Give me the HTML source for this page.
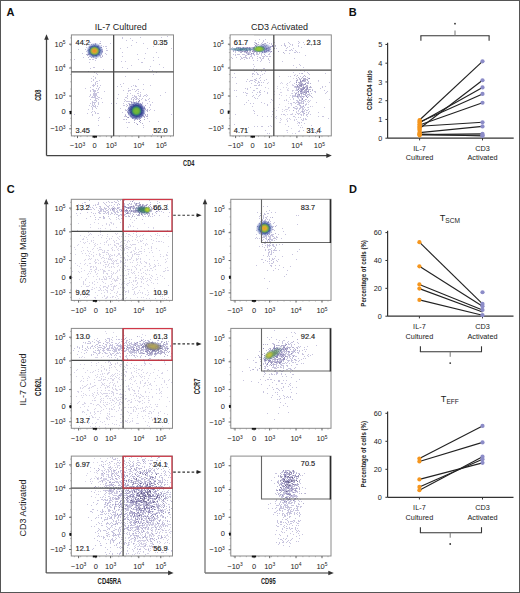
<!DOCTYPE html>
<html><head><meta charset="utf-8"><style>
html,body{margin:0;padding:0;background:#fff;width:520px;height:593px;overflow:hidden}
svg{display:block;font-family:"Liberation Sans", sans-serif}
</style></head><body>
<svg width="520" height="593" viewBox="0 0 520 593" font-family='"Liberation Sans", sans-serif'>
<defs><radialGradient id="g0"><stop offset="0" stop-color="#283888" stop-opacity="0.95"/><stop offset="0.6" stop-color="#2a3a8c" stop-opacity="0.9"/><stop offset="0.82" stop-color="#4a58a8" stop-opacity="0.6"/><stop offset="1" stop-color="#8080c8" stop-opacity="0"/></radialGradient><radialGradient id="g1"><stop offset="0" stop-color="#78c030" stop-opacity="1"/><stop offset="0.5" stop-color="#6ab438" stop-opacity="0.95"/><stop offset="0.8" stop-color="#2f8a70" stop-opacity="0.75"/><stop offset="1" stop-color="#2a5a80" stop-opacity="0"/></radialGradient><radialGradient id="g2"><stop offset="0" stop-color="#2a3a90" stop-opacity="0.95"/><stop offset="0.6" stop-color="#34509c" stop-opacity="0.85"/><stop offset="1" stop-color="#6070c0" stop-opacity="0"/></radialGradient><radialGradient id="g3"><stop offset="0" stop-color="#f08a20" stop-opacity="1"/><stop offset="0.35" stop-color="#e0a030" stop-opacity="1"/><stop offset="0.65" stop-color="#8ab840" stop-opacity="0.95"/><stop offset="1" stop-color="#3a7a7a" stop-opacity="0"/></radialGradient><radialGradient id="g4"><stop offset="0" stop-color="#3a7a8a" stop-opacity="0.85"/><stop offset="0.7" stop-color="#4a7a9a" stop-opacity="0.6"/><stop offset="1" stop-color="#4a6aa0" stop-opacity="0"/></radialGradient><radialGradient id="g5"><stop offset="0" stop-color="#3a4a98" stop-opacity="0.7"/><stop offset="0.7" stop-color="#4a5aa8" stop-opacity="0.4"/><stop offset="1" stop-color="#6070c0" stop-opacity="0"/></radialGradient><radialGradient id="g6"><stop offset="0" stop-color="#a0d030" stop-opacity="1"/><stop offset="0.45" stop-color="#80c030" stop-opacity="0.95"/><stop offset="0.85" stop-color="#4a9a60" stop-opacity="0.5"/><stop offset="1" stop-color="#4a6aa0" stop-opacity="0"/></radialGradient><radialGradient id="g7"><stop offset="0" stop-color="#3a8a50" stop-opacity="0.95"/><stop offset="0.5" stop-color="#2f6a6a" stop-opacity="0.8"/><stop offset="1" stop-color="#3a4a9a" stop-opacity="0"/></radialGradient><radialGradient id="g8"><stop offset="0" stop-color="#c8d830" stop-opacity="1"/><stop offset="0.5" stop-color="#98c430" stop-opacity="0.95"/><stop offset="1" stop-color="#60a040" stop-opacity="0"/></radialGradient><radialGradient id="g9"><stop offset="0" stop-color="#2a3a90" stop-opacity="0.95"/><stop offset="0.6" stop-color="#34509c" stop-opacity="0.85"/><stop offset="1" stop-color="#6070c0" stop-opacity="0"/></radialGradient><radialGradient id="g10"><stop offset="0" stop-color="#f0a020" stop-opacity="1"/><stop offset="0.35" stop-color="#d8b030" stop-opacity="1"/><stop offset="0.65" stop-color="#78b040" stop-opacity="0.95"/><stop offset="1" stop-color="#3a7a7a" stop-opacity="0"/></radialGradient><radialGradient id="g11"><stop offset="0" stop-color="#b8a850" stop-opacity="1"/><stop offset="0.5" stop-color="#9a9060" stop-opacity="0.9"/><stop offset="0.85" stop-color="#5a5a7a" stop-opacity="0.5"/><stop offset="1" stop-color="#5a5a8a" stop-opacity="0"/></radialGradient><radialGradient id="g12"><stop offset="0" stop-color="#6a9a50" stop-opacity="0.9"/><stop offset="0.5" stop-color="#5a8a6a" stop-opacity="0.7"/><stop offset="1" stop-color="#4a5a9a" stop-opacity="0"/></radialGradient><radialGradient id="g13"><stop offset="0" stop-color="#d0c840" stop-opacity="1"/><stop offset="0.5" stop-color="#a8b840" stop-opacity="0.9"/><stop offset="1" stop-color="#6a9a50" stop-opacity="0"/></radialGradient></defs>
<rect width="520" height="593" fill="#fff"/>
<text x="6.6" y="15.8" font-size="11" text-anchor="start" fill="#111" font-weight="bold" >A</text>
<line x1="46.5" y1="38" x2="46.5" y2="155.6" stroke="#444" stroke-width="1.3" />
<polygon points="46.5,34.3 44.2,39.8 48.8,39.8" fill="#333"/>
<line x1="46.5" y1="155.6" x2="327" y2="155.6" stroke="#444" stroke-width="1.3" />
<polygon points="331.8,155.6 326.3,153.3 326.3,157.9" fill="#333"/>
<text transform="translate(37.5,95.2) rotate(-90) scale(0.66,1)" x="0" y="3.04" font-size="8.5" text-anchor="middle" fill="#222" font-weight="bold">CD8</text>
<text transform="translate(188.7,163.4) scale(0.66,1)" x="0" y="3.04" font-size="8.5" text-anchor="middle" fill="#222" font-weight="bold">CD4</text>
<text transform="translate(120.8,27)" x="0" y="3.22" font-size="9" text-anchor="middle" fill="#222" font-weight="normal">IL-7 Cultured</text>
<text transform="translate(279.5,27)" x="0" y="3.22" font-size="9" text-anchor="middle" fill="#222" font-weight="normal">CD3 Activated</text>
<path fill="#6c64a8" fill-opacity="0.38" d="M95 84h1v1h-1zM96 100h1v1h-1zM94 111h1v1h-1zM93 80h1v1h-1zM94 94h1v1h-1zM92 89h1v1h-1zM95 77h1v1h-1zM98 104h1v1h-1zM94 96h1v1h-1zM93 97h1v1h-1zM96 88h1v1h-1zM96 101h1v1h-1zM95 90h1v1h-1zM93 94h1v1h-1zM95 84h1v1h-1zM97 83h1v1h-1zM92 111h1v1h-1zM94 90h1v1h-1zM90 99h1v1h-1zM92 96h1v1h-1zM90 91h1v1h-1zM94 90h1v1h-1zM92 103h1v1h-1zM96 93h1v1h-1zM95 94h1v1h-1zM95 96h1v1h-1zM88 109h1v1h-1zM94 103h1v1h-1zM95 100h1v1h-1zM95 90h1v1h-1zM91 81h1v1h-1zM94 106h1v1h-1zM92 107h1v1h-1zM93 94h1v1h-1zM98 102h1v1h-1zM93 105h1v1h-1zM95 105h1v1h-1zM97 106h1v1h-1zM93 91h1v1h-1zM95 113h1v1h-1zM95 82h1v1h-1zM95 105h1v1h-1zM92 101h1v1h-1zM95 106h1v1h-1zM99 117h1v1h-1zM91 112h1v1h-1zM97 83h1v1h-1zM95 77h1v1h-1zM93 105h1v1h-1zM100 85h1v1h-1zM97 96h1v1h-1zM92 105h1v1h-1zM95 78h1v1h-1zM96 73h1v1h-1zM95 99h1v1h-1zM97 96h1v1h-1zM95 93h1v1h-1zM97 96h1v1h-1zM99 87h1v1h-1zM93 79h1v1h-1zM96 94h1v1h-1zM94 85h1v1h-1zM95 78h1v1h-1zM92 102h1v1h-1zM93 95h1v1h-1zM94 100h1v1h-1zM97 85h1v1h-1zM98 89h1v1h-1zM92 85h1v1h-1zM93 86h1v1h-1zM97 98h1v1h-1zM90 87h1v1h-1zM94 100h1v1h-1zM95 100h1v1h-1zM98 118h1v1h-1zM97 81h1v1h-1zM94 106h1v1h-1zM94 95h1v1h-1zM94 96h1v1h-1zM99 80h1v1h-1zM94 91h1v1h-1zM94 104h1v1h-1zM96 95h1v1h-1zM95 97h1v1h-1zM94 93h1v1h-1zM92 109h1v1h-1zM95 96h1v1h-1zM94 72h1v1h-1zM98 88h1v1h-1zM97 74h1v1h-1zM95 60h1v1h-1zM97 90h1v1h-1zM94 111h1v1h-1zM98 97h1v1h-1zM95 83h1v1h-1zM97 86h1v1h-1zM92 108h1v1h-1zM96 98h1v1h-1zM91 97h1v1h-1zM90 95h1v1h-1zM94 96h1v1h-1zM93 105h1v1h-1zM95 102h1v1h-1zM101 98h1v1h-1zM93 85h1v1h-1zM93 102h1v1h-1zM96 88h1v1h-1zM96 108h1v1h-1zM95 82h1v1h-1zM94 94h1v1h-1zM97 96h1v1h-1zM96 81h1v1h-1zM92 115h1v1h-1zM95 112h1v1h-1zM95 91h1v1h-1zM92 104h1v1h-1zM96 100h1v1h-1zM93 67h1v1h-1zM98 99h1v1h-1zM96 95h1v1h-1zM95 97h1v1h-1zM93 84h1v1h-1zM95 93h1v1h-1zM90 94h1v1h-1zM92 109h1v1h-1zM96 100h1v1h-1zM89 96h1v1h-1zM97 113h1v1h-1zM90 90h1v1h-1zM97 92h1v1h-1zM93 76h1v1h-1zM97 113h1v1h-1zM95 107h1v1h-1zM91 106h1v1h-1zM98 103h1v1h-1zM99 97h1v1h-1zM95 98h1v1h-1zM94 93h1v1h-1zM95 94h1v1h-1zM92 97h1v1h-1zM98 113h1v1h-1zM94 102h1v1h-1zM95 95h1v1h-1zM93 90h1v1h-1zM93 89h1v1h-1zM92 114h1v1h-1zM98 102h1v1h-1zM95 97h1v1h-1zM98 92h1v1h-1zM95 84h1v1h-1zM93 95h1v1h-1zM94 106h1v1h-1zM94 92h1v1h-1zM95 94h1v1h-1zM94 94h1v1h-1zM94 97h1v1h-1zM91 78h1v1h-1zM93 93h1v1h-1zM99 87h1v1h-1zM93 106h1v1h-1zM131 106h1v1h-1zM140 120h1v1h-1zM147 118h1v1h-1zM134 103h1v1h-1zM132 102h1v1h-1zM137 93h1v1h-1zM136 98h1v1h-1zM129 108h1v1h-1zM139 108h1v1h-1zM150 105h1v1h-1zM134 113h1v1h-1zM135 97h1v1h-1zM129 103h1v1h-1zM138 111h1v1h-1zM127 109h1v1h-1zM128 114h1v1h-1zM145 108h1v1h-1zM130 101h1v1h-1zM144 107h1v1h-1zM147 95h1v1h-1zM138 89h1v1h-1zM140 109h1v1h-1zM150 104h1v1h-1zM135 107h1v1h-1zM132 89h1v1h-1zM127 101h1v1h-1zM136 99h1v1h-1zM146 96h1v1h-1zM143 84h1v1h-1zM129 101h1v1h-1zM130 112h1v1h-1zM132 107h1v1h-1zM138 99h1v1h-1zM135 104h1v1h-1zM138 111h1v1h-1zM138 79h1v1h-1zM134 103h1v1h-1zM136 109h1v1h-1zM137 110h1v1h-1zM135 119h1v1h-1zM140 114h1v1h-1zM149 107h1v1h-1zM140 107h1v1h-1zM136 111h1v1h-1zM124 99h1v1h-1zM139 104h1v1h-1zM122 112h1v1h-1zM126 122h1v1h-1zM142 103h1v1h-1zM141 104h1v1h-1zM135 106h1v1h-1zM124 116h1v1h-1zM133 104h1v1h-1zM131 117h1v1h-1zM140 95h1v1h-1zM152 102h1v1h-1zM138 102h1v1h-1zM131 111h1v1h-1zM128 113h1v1h-1zM136 90h1v1h-1zM135 96h1v1h-1zM128 107h1v1h-1zM137 98h1v1h-1zM128 90h1v1h-1zM144 113h1v1h-1zM143 108h1v1h-1zM144 108h1v1h-1zM133 100h1v1h-1zM140 113h1v1h-1zM135 102h1v1h-1zM133 114h1v1h-1zM134 96h1v1h-1zM127 96h1v1h-1zM126 106h1v1h-1zM142 98h1v1h-1zM135 110h1v1h-1zM138 106h1v1h-1zM143 96h1v1h-1zM124 105h1v1h-1zM131 101h1v1h-1zM137 112h1v1h-1zM139 98h1v1h-1zM133 100h1v1h-1zM143 115h1v1h-1zM137 124h1v1h-1zM128 122h1v1h-1zM129 105h1v1h-1zM142 106h1v1h-1zM139 118h1v1h-1zM123 103h1v1h-1zM145 95h1v1h-1zM140 105h1v1h-1zM145 108h1v1h-1zM133 97h1v1h-1zM134 89h1v1h-1zM128 91h1v1h-1zM154 110h1v1h-1zM135 97h1v1h-1zM147 103h1v1h-1zM131 106h1v1h-1zM137 110h1v1h-1zM124 101h1v1h-1zM133 108h1v1h-1zM143 96h1v1h-1zM127 101h1v1h-1zM144 95h1v1h-1zM138 114h1v1h-1zM129 104h1v1h-1zM132 97h1v1h-1zM133 101h1v1h-1zM136 102h1v1h-1zM132 110h1v1h-1zM130 90h1v1h-1zM134 95h1v1h-1zM129 101h1v1h-1zM127 127h1v1h-1zM136 113h1v1h-1zM142 103h1v1h-1zM125 110h1v1h-1zM136 123h1v1h-1zM131 102h1v1h-1zM129 101h1v1h-1zM142 115h1v1h-1zM132 108h1v1h-1zM146 110h1v1h-1zM131 99h1v1h-1zM139 121h1v1h-1zM134 119h1v1h-1zM131 109h1v1h-1zM140 110h1v1h-1zM135 86h1v1h-1zM140 110h1v1h-1zM136 102h1v1h-1zM128 108h1v1h-1zM135 110h1v1h-1zM136 101h1v1h-1zM143 89h1v1h-1zM130 107h1v1h-1zM136 97h1v1h-1zM124 101h1v1h-1zM141 99h1v1h-1zM128 101h1v1h-1zM123 83h1v1h-1zM136 115h1v1h-1zM144 106h1v1h-1zM125 114h1v1h-1zM128 122h1v1h-1zM131 104h1v1h-1zM128 88h1v1h-1zM139 96h1v1h-1zM130 93h1v1h-1zM131 99h1v1h-1zM140 105h1v1h-1zM131 86h1v1h-1zM139 107h1v1h-1zM129 90h1v1h-1zM128 107h1v1h-1zM123 103h1v1h-1zM149 101h1v1h-1zM134 103h1v1h-1zM138 99h1v1h-1zM136 98h1v1h-1zM137 89h1v1h-1zM136 104h1v1h-1zM149 121h1v1h-1zM129 122h1v1h-1zM125 116h1v1h-1zM129 110h1v1h-1zM127 98h1v1h-1zM141 117h1v1h-1zM142 103h1v1h-1zM129 103h1v1h-1zM126 101h1v1h-1zM134 105h1v1h-1zM146 100h1v1h-1zM116 103h1v1h-1zM140 94h1v1h-1zM128 101h1v1h-1zM143 125h1v1h-1zM128 103h1v1h-1zM134 102h1v1h-1zM125 109h1v1h-1zM129 110h1v1h-1zM146 94h1v1h-1zM142 102h1v1h-1zM133 112h1v1h-1zM130 106h1v1h-1zM123 105h1v1h-1zM133 118h1v1h-1zM136 98h1v1h-1zM135 105h1v1h-1zM135 99h1v1h-1zM128 117h1v1h-1zM136 86h1v1h-1zM136 98h1v1h-1zM145 99h1v1h-1zM149 110h1v1h-1zM135 109h1v1h-1zM131 117h1v1h-1zM136 90h1v1h-1zM132 111h1v1h-1zM131 101h1v1h-1zM136 98h1v1h-1zM129 109h1v1h-1zM140 96h1v1h-1zM135 85h1v1h-1zM138 101h1v1h-1zM135 91h1v1h-1zM131 98h1v1h-1zM129 107h1v1h-1zM134 107h1v1h-1zM132 118h1v1h-1zM138 102h1v1h-1zM136 90h1v1h-1zM126 97h1v1h-1zM136 96h1v1h-1zM127 93h1v1h-1zM132 108h1v1h-1zM134 98h1v1h-1zM121 86h1v1h-1zM137 110h1v1h-1zM137 103h1v1h-1zM135 107h1v1h-1zM133 105h1v1h-1zM133 110h1v1h-1zM129 104h1v1h-1zM134 115h1v1h-1zM132 108h1v1h-1zM137 108h1v1h-1zM128 108h1v1h-1zM138 91h1v1h-1zM137 103h1v1h-1zM135 102h1v1h-1zM133 106h1v1h-1zM140 92h1v1h-1zM124 119h1v1h-1zM139 105h1v1h-1zM138 93h1v1h-1zM138 89h1v1h-1zM139 101h1v1h-1zM131 103h1v1h-1zM134 98h1v1h-1zM140 105h1v1h-1zM139 98h1v1h-1zM137 109h1v1h-1zM125 97h1v1h-1zM140 104h1v1h-1zM144 113h1v1h-1zM143 127h1v1h-1zM138 95h1v1h-1zM125 100h1v1h-1zM143 96h1v1h-1zM135 111h1v1h-1zM118 94h1v1h-1zM139 100h1v1h-1zM126 104h1v1h-1zM127 95h1v1h-1zM132 95h1v1h-1zM145 100h1v1h-1zM133 85h1v1h-1zM102 55h1v1h-1zM93 57h1v1h-1zM89 52h1v1h-1zM88 54h1v1h-1zM96 56h1v1h-1zM96 48h1v1h-1zM88 52h1v1h-1zM90 47h1v1h-1zM97 48h1v1h-1zM97 48h1v1h-1zM91 50h1v1h-1zM97 51h1v1h-1zM97 52h1v1h-1zM86 45h1v1h-1zM93 59h1v1h-1zM96 55h1v1h-1zM92 53h1v1h-1zM85 49h1v1h-1zM93 50h1v1h-1zM98 53h1v1h-1zM101 52h1v1h-1zM84 44h1v1h-1zM106 54h1v1h-1zM89 62h1v1h-1zM99 43h1v1h-1zM100 55h1v1h-1zM99 52h1v1h-1zM95 50h1v1h-1zM89 56h1v1h-1zM97 46h1v1h-1zM91 51h1v1h-1zM83 57h1v1h-1zM107 50h1v1h-1zM97 49h1v1h-1zM102 51h1v1h-1zM90 49h1v1h-1zM101 57h1v1h-1zM101 47h1v1h-1zM101 54h1v1h-1zM94 45h1v1h-1zM89 53h1v1h-1zM93 50h1v1h-1zM84 40h1v1h-1zM87 50h1v1h-1zM95 46h1v1h-1zM90 49h1v1h-1zM93 57h1v1h-1zM94 46h1v1h-1zM103 46h1v1h-1zM100 56h1v1h-1zM94 51h1v1h-1zM100 57h1v1h-1zM91 52h1v1h-1zM93 47h1v1h-1zM98 50h1v1h-1zM89 56h1v1h-1zM93 54h1v1h-1zM88 51h1v1h-1zM95 51h1v1h-1zM102 50h1v1h-1zM91 48h1v1h-1zM95 58h1v1h-1zM90 51h1v1h-1zM89 46h1v1h-1zM89 49h1v1h-1zM101 53h1v1h-1zM105 53h1v1h-1zM96 50h1v1h-1zM91 48h1v1h-1zM97 51h1v1h-1zM93 44h1v1h-1zM98 45h1v1h-1zM96 54h1v1h-1zM95 49h1v1h-1zM97 52h1v1h-1zM92 56h1v1h-1zM92 53h1v1h-1zM86 51h1v1h-1zM92 59h1v1h-1zM88 53h1v1h-1zM94 49h1v1h-1zM90 54h1v1h-1zM95 52h1v1h-1zM96 47h1v1h-1zM88 51h1v1h-1zM91 50h1v1h-1zM90 42h1v1h-1zM98 50h1v1h-1zM102 49h1v1h-1zM98 49h1v1h-1zM93 44h1v1h-1zM101 49h1v1h-1zM87 50h1v1h-1zM101 51h1v1h-1zM91 46h1v1h-1zM82 53h1v1h-1zM106 46h1v1h-1zM101 50h1v1h-1zM90 56h1v1h-1zM95 48h1v1h-1zM93 48h1v1h-1zM95 55h1v1h-1zM88 49h1v1h-1zM91 49h1v1h-1zM96 51h1v1h-1zM95 55h1v1h-1zM100 41h1v1h-1zM95 47h1v1h-1zM105 46h1v1h-1zM91 46h1v1h-1zM95 47h1v1h-1zM86 47h1v1h-1zM89 52h1v1h-1zM100 47h1v1h-1zM90 51h1v1h-1zM97 52h1v1h-1zM94 48h1v1h-1zM89 51h1v1h-1zM93 57h1v1h-1zM92 52h1v1h-1zM92 48h1v1h-1zM98 50h1v1h-1zM97 47h1v1h-1zM92 52h1v1h-1zM90 54h1v1h-1zM95 47h1v1h-1zM94 50h1v1h-1zM99 55h1v1h-1zM106 48h1v1h-1zM98 51h1v1h-1zM94 46h1v1h-1zM93 47h1v1h-1zM90 48h1v1h-1zM90 59h1v1h-1zM90 49h1v1h-1zM92 48h1v1h-1zM92 48h1v1h-1zM98 50h1v1h-1zM92 53h1v1h-1zM93 51h1v1h-1zM89 59h1v1h-1zM102 51h1v1h-1zM96 56h1v1h-1zM102 52h1v1h-1zM98 53h1v1h-1zM101 45h1v1h-1zM93 50h1v1h-1zM97 50h1v1h-1zM106 50h1v1h-1zM89 42h1v1h-1zM147 48h1v1h-1zM136 42h1v1h-1zM111 59h1v1h-1zM150 85h1v1h-1zM163 129h1v1h-1zM120 108h1v1h-1zM165 92h1v1h-1zM85 88h1v1h-1zM89 105h1v1h-1zM149 98h1v1h-1zM103 69h1v1h-1zM131 45h1v1h-1zM122 56h1v1h-1zM87 113h1v1h-1zM148 99h1v1h-1zM147 115h1v1h-1zM87 40h1v1h-1zM98 125h1v1h-1zM153 74h1v1h-1zM164 128h1v1h-1zM160 95h1v1h-1zM123 90h1v1h-1zM109 117h1v1h-1zM117 98h1v1h-1zM90 103h1v1h-1zM122 52h1v1h-1zM95 96h1v1h-1zM88 71h1v1h-1zM110 43h1v1h-1zM78 49h1v1h-1zM120 84h1v1h-1zM142 62h1v1h-1zM138 112h1v1h-1zM171 48h1v1h-1zM161 37h1v1h-1zM163 67h1v1h-1zM117 86h1v1h-1zM153 57h1v1h-1zM101 57h1v1h-1zM125 76h1v1h-1zM171 114h1v1h-1zM132 40h1v1h-1zM123 119h1v1h-1zM152 134h1v1h-1zM104 91h1v1h-1zM156 72h1v1h-1zM74 59h1v1h-1zM96 54h1v1h-1zM90 68h1v1h-1zM98 120h1v1h-1zM167 36h1v1h-1zM74 114h1v1h-1zM102 102h1v1h-1zM130 38h1v1h-1zM143 43h1v1h-1zM150 109h1v1h-1zM111 103h1v1h-1zM94 67h1v1h-1zM158 121h1v1h-1zM127 68h1v1h-1zM140 37h1v1h-1zM122 67h1v1h-1zM152 70h1v1h-1zM120 48h1v1h-1zM125 61h1v1h-1zM159 64h1v1h-1zM144 58h1v1h-1zM153 46h1v1h-1zM158 57h1v1h-1zM150 66h1v1h-1zM126 40h1v1h-1zM156 52h1v1h-1zM122 37h1v1h-1zM131 65h1v1h-1zM141 62h1v1h-1zM122 38h1v1h-1zM121 61h1v1h-1zM153 60h1v1h-1zM158 40h1v1h-1zM137 54h1v1h-1zM138 59h1v1h-1zM127 47h1v1h-1zM145 53h1v1h-1zM149 69h1v1h-1z"/>
<path fill="#564e90" fill-opacity="0.45" d="M130 112h1v1h-1zM134 122h1v1h-1zM137 114h1v1h-1zM135 112h1v1h-1zM128 110h1v1h-1zM134 108h1v1h-1zM140 110h1v1h-1zM139 108h1v1h-1zM136 114h1v1h-1zM132 109h1v1h-1zM139 109h1v1h-1zM134 105h1v1h-1zM131 111h1v1h-1zM133 107h1v1h-1zM143 110h1v1h-1zM137 115h1v1h-1zM142 112h1v1h-1zM134 113h1v1h-1zM141 112h1v1h-1zM134 111h1v1h-1zM136 110h1v1h-1zM147 109h1v1h-1zM140 114h1v1h-1zM134 106h1v1h-1zM136 117h1v1h-1zM138 111h1v1h-1zM142 107h1v1h-1zM134 109h1v1h-1zM128 108h1v1h-1zM135 112h1v1h-1zM136 108h1v1h-1zM137 116h1v1h-1zM142 107h1v1h-1zM138 101h1v1h-1zM140 108h1v1h-1zM131 102h1v1h-1zM140 111h1v1h-1zM146 116h1v1h-1zM140 114h1v1h-1zM137 105h1v1h-1zM137 107h1v1h-1zM144 119h1v1h-1zM132 112h1v1h-1zM136 111h1v1h-1zM138 116h1v1h-1zM140 122h1v1h-1zM134 117h1v1h-1zM138 111h1v1h-1zM135 112h1v1h-1zM137 114h1v1h-1zM136 108h1v1h-1zM131 106h1v1h-1zM136 111h1v1h-1zM140 107h1v1h-1zM132 111h1v1h-1zM135 111h1v1h-1zM139 121h1v1h-1zM131 107h1v1h-1zM137 110h1v1h-1zM132 110h1v1h-1zM141 113h1v1h-1zM147 116h1v1h-1zM145 109h1v1h-1zM135 107h1v1h-1zM140 103h1v1h-1zM137 107h1v1h-1zM137 113h1v1h-1zM143 111h1v1h-1zM130 106h1v1h-1zM141 109h1v1h-1zM136 111h1v1h-1zM143 113h1v1h-1zM137 108h1v1h-1zM133 110h1v1h-1zM138 103h1v1h-1zM140 106h1v1h-1zM136 118h1v1h-1zM138 101h1v1h-1zM134 109h1v1h-1zM127 112h1v1h-1zM140 109h1v1h-1zM139 107h1v1h-1zM137 111h1v1h-1zM137 111h1v1h-1zM141 110h1v1h-1zM134 102h1v1h-1zM133 110h1v1h-1zM135 107h1v1h-1zM142 108h1v1h-1zM130 112h1v1h-1zM142 114h1v1h-1zM133 115h1v1h-1zM131 109h1v1h-1zM142 115h1v1h-1zM136 116h1v1h-1zM130 116h1v1h-1zM135 117h1v1h-1zM140 110h1v1h-1zM142 110h1v1h-1zM134 115h1v1h-1zM138 105h1v1h-1zM140 112h1v1h-1zM133 108h1v1h-1zM138 109h1v1h-1zM136 103h1v1h-1zM134 107h1v1h-1zM134 111h1v1h-1zM137 115h1v1h-1zM136 115h1v1h-1zM134 110h1v1h-1zM134 110h1v1h-1zM141 107h1v1h-1zM137 113h1v1h-1zM140 110h1v1h-1zM142 114h1v1h-1zM139 119h1v1h-1zM147 111h1v1h-1zM133 104h1v1h-1zM140 107h1v1h-1zM135 104h1v1h-1zM145 105h1v1h-1zM144 117h1v1h-1zM128 112h1v1h-1zM132 104h1v1h-1zM139 114h1v1h-1zM140 116h1v1h-1zM140 109h1v1h-1zM136 108h1v1h-1zM138 109h1v1h-1zM139 112h1v1h-1zM136 114h1v1h-1zM141 116h1v1h-1zM126 116h1v1h-1zM139 116h1v1h-1zM132 117h1v1h-1zM141 114h1v1h-1zM135 104h1v1h-1zM132 110h1v1h-1zM138 112h1v1h-1zM132 109h1v1h-1zM132 115h1v1h-1zM129 109h1v1h-1zM136 107h1v1h-1zM139 117h1v1h-1zM141 114h1v1h-1zM136 112h1v1h-1zM141 115h1v1h-1zM136 116h1v1h-1zM136 112h1v1h-1zM139 100h1v1h-1zM141 108h1v1h-1zM135 109h1v1h-1zM135 106h1v1h-1zM136 112h1v1h-1zM137 116h1v1h-1zM132 109h1v1h-1zM141 106h1v1h-1zM134 120h1v1h-1zM138 109h1v1h-1zM133 105h1v1h-1zM138 112h1v1h-1zM138 113h1v1h-1zM134 108h1v1h-1zM145 114h1v1h-1zM138 109h1v1h-1zM144 107h1v1h-1zM141 112h1v1h-1zM133 114h1v1h-1zM135 108h1v1h-1zM138 112h1v1h-1zM137 110h1v1h-1zM137 124h1v1h-1zM135 108h1v1h-1zM128 117h1v1h-1zM135 111h1v1h-1zM126 110h1v1h-1zM138 114h1v1h-1zM133 115h1v1h-1zM133 117h1v1h-1zM135 112h1v1h-1zM138 108h1v1h-1zM130 108h1v1h-1zM128 113h1v1h-1zM132 113h1v1h-1zM127 117h1v1h-1zM132 113h1v1h-1zM143 116h1v1h-1zM132 118h1v1h-1zM139 112h1v1h-1zM130 104h1v1h-1zM138 105h1v1h-1zM135 104h1v1h-1zM136 118h1v1h-1zM139 107h1v1h-1zM144 116h1v1h-1zM137 113h1v1h-1zM137 119h1v1h-1zM132 115h1v1h-1zM139 110h1v1h-1zM135 110h1v1h-1zM140 111h1v1h-1zM136 112h1v1h-1zM144 108h1v1h-1zM127 111h1v1h-1zM135 118h1v1h-1zM140 103h1v1h-1zM135 112h1v1h-1zM133 107h1v1h-1zM135 112h1v1h-1zM130 115h1v1h-1zM137 111h1v1h-1zM147 114h1v1h-1zM141 104h1v1h-1zM131 116h1v1h-1zM132 108h1v1h-1zM134 114h1v1h-1zM141 112h1v1h-1zM133 99h1v1h-1zM133 107h1v1h-1zM140 112h1v1h-1zM140 118h1v1h-1zM135 112h1v1h-1zM131 112h1v1h-1zM129 104h1v1h-1zM133 117h1v1h-1zM126 119h1v1h-1zM140 111h1v1h-1zM133 110h1v1h-1zM138 104h1v1h-1zM145 115h1v1h-1zM142 123h1v1h-1zM131 114h1v1h-1zM140 116h1v1h-1zM142 113h1v1h-1zM133 106h1v1h-1zM132 117h1v1h-1zM136 105h1v1h-1zM129 110h1v1h-1zM143 112h1v1h-1zM125 115h1v1h-1zM131 113h1v1h-1zM135 113h1v1h-1zM135 107h1v1h-1zM137 105h1v1h-1zM138 111h1v1h-1zM135 108h1v1h-1zM141 105h1v1h-1zM127 105h1v1h-1zM136 109h1v1h-1zM133 102h1v1h-1zM137 105h1v1h-1zM137 103h1v1h-1zM132 112h1v1h-1zM133 113h1v1h-1zM140 120h1v1h-1zM138 104h1v1h-1zM133 108h1v1h-1zM145 115h1v1h-1zM147 110h1v1h-1zM130 109h1v1h-1zM97 53h1v1h-1zM93 52h1v1h-1zM93 54h1v1h-1zM93 49h1v1h-1zM93 47h1v1h-1zM96 53h1v1h-1zM90 47h1v1h-1zM91 44h1v1h-1zM95 54h1v1h-1zM95 48h1v1h-1zM93 50h1v1h-1zM92 46h1v1h-1zM91 46h1v1h-1zM94 47h1v1h-1zM98 49h1v1h-1zM90 52h1v1h-1zM100 43h1v1h-1zM97 53h1v1h-1zM93 47h1v1h-1zM97 47h1v1h-1zM89 53h1v1h-1zM88 50h1v1h-1zM90 46h1v1h-1zM93 56h1v1h-1zM93 48h1v1h-1zM92 51h1v1h-1zM95 51h1v1h-1zM87 55h1v1h-1zM96 49h1v1h-1zM89 54h1v1h-1zM92 48h1v1h-1zM93 54h1v1h-1zM90 48h1v1h-1zM89 49h1v1h-1zM91 57h1v1h-1zM94 52h1v1h-1zM96 51h1v1h-1zM96 58h1v1h-1zM91 52h1v1h-1zM91 48h1v1h-1zM91 53h1v1h-1zM96 47h1v1h-1zM87 54h1v1h-1zM99 54h1v1h-1zM93 49h1v1h-1zM91 48h1v1h-1zM95 51h1v1h-1zM98 51h1v1h-1zM95 47h1v1h-1zM98 52h1v1h-1zM95 44h1v1h-1zM99 49h1v1h-1zM99 49h1v1h-1zM94 50h1v1h-1zM99 51h1v1h-1zM95 47h1v1h-1zM95 52h1v1h-1zM91 50h1v1h-1zM93 48h1v1h-1zM97 46h1v1h-1zM90 47h1v1h-1zM96 52h1v1h-1zM95 47h1v1h-1zM95 51h1v1h-1zM86 54h1v1h-1zM94 54h1v1h-1zM96 55h1v1h-1zM92 50h1v1h-1zM95 47h1v1h-1zM86 54h1v1h-1zM97 51h1v1h-1zM92 54h1v1h-1zM97 51h1v1h-1zM88 54h1v1h-1zM97 53h1v1h-1zM93 53h1v1h-1zM97 52h1v1h-1zM91 52h1v1h-1zM92 51h1v1h-1zM102 51h1v1h-1zM91 54h1v1h-1zM92 49h1v1h-1zM93 56h1v1h-1zM91 50h1v1h-1zM98 54h1v1h-1zM100 50h1v1h-1zM92 50h1v1h-1zM88 57h1v1h-1zM98 50h1v1h-1zM98 46h1v1h-1zM97 48h1v1h-1zM98 49h1v1h-1zM91 57h1v1h-1zM94 51h1v1h-1zM89 53h1v1h-1zM89 47h1v1h-1zM98 52h1v1h-1zM92 53h1v1h-1zM102 56h1v1h-1zM94 48h1v1h-1zM92 52h1v1h-1zM97 51h1v1h-1zM101 47h1v1h-1zM96 50h1v1h-1zM90 50h1v1h-1zM95 43h1v1h-1zM99 52h1v1h-1zM92 52h1v1h-1zM91 49h1v1h-1zM98 46h1v1h-1zM95 55h1v1h-1zM90 51h1v1h-1zM93 54h1v1h-1zM92 55h1v1h-1zM95 49h1v1h-1zM95 53h1v1h-1zM98 50h1v1h-1zM97 50h1v1h-1zM89 50h1v1h-1zM96 50h1v1h-1z"/>
<ellipse cx="136.4" cy="110.9" rx="9.6" ry="9.3" fill="url(#g0)"/>
<ellipse cx="136.4" cy="110.9" rx="5.6" ry="5.4" fill="url(#g1)"/>
<ellipse cx="94.8" cy="50.8" rx="8.6" ry="8.2" fill="url(#g2)"/>
<ellipse cx="94.5" cy="50.9" rx="5.6" ry="5" fill="url(#g3)"/>
<path fill="#6c64a8" fill-opacity="0.38" d="M253 53h1v1h-1zM252 50h1v1h-1zM246 46h1v1h-1zM243 45h1v1h-1zM240 56h1v1h-1zM269 48h1v1h-1zM240 48h1v1h-1zM266 56h1v1h-1zM257 54h1v1h-1zM249 51h1v1h-1zM242 47h1v1h-1zM261 60h1v1h-1zM268 51h1v1h-1zM244 51h1v1h-1zM249 48h1v1h-1zM261 43h1v1h-1zM255 43h1v1h-1zM270 51h1v1h-1zM247 51h1v1h-1zM257 48h1v1h-1zM241 44h1v1h-1zM271 43h1v1h-1zM245 48h1v1h-1zM232 42h1v1h-1zM251 53h1v1h-1zM251 54h1v1h-1zM269 62h1v1h-1zM249 53h1v1h-1zM252 46h1v1h-1zM257 45h1v1h-1zM251 46h1v1h-1zM261 48h1v1h-1zM257 53h1v1h-1zM249 52h1v1h-1zM253 52h1v1h-1zM252 50h1v1h-1zM244 52h1v1h-1zM263 56h1v1h-1zM240 44h1v1h-1zM263 47h1v1h-1zM261 43h1v1h-1zM251 56h1v1h-1zM245 55h1v1h-1zM250 52h1v1h-1zM256 44h1v1h-1zM259 50h1v1h-1zM255 48h1v1h-1zM261 49h1v1h-1zM247 48h1v1h-1zM254 51h1v1h-1zM238 47h1v1h-1zM259 53h1v1h-1zM253 50h1v1h-1zM248 48h1v1h-1zM262 48h1v1h-1zM258 47h1v1h-1zM252 48h1v1h-1zM239 50h1v1h-1zM262 47h1v1h-1zM274 42h1v1h-1zM247 53h1v1h-1zM253 44h1v1h-1zM250 52h1v1h-1zM255 51h1v1h-1zM258 42h1v1h-1zM264 45h1v1h-1zM243 47h1v1h-1zM266 45h1v1h-1zM244 44h1v1h-1zM254 52h1v1h-1zM262 48h1v1h-1zM258 51h1v1h-1zM244 47h1v1h-1zM246 50h1v1h-1zM248 46h1v1h-1zM252 49h1v1h-1zM262 52h1v1h-1zM240 49h1v1h-1zM256 47h1v1h-1zM257 44h1v1h-1zM257 50h1v1h-1zM256 51h1v1h-1zM266 48h1v1h-1zM256 46h1v1h-1zM260 51h1v1h-1zM257 60h1v1h-1zM268 48h1v1h-1zM235 51h1v1h-1zM264 51h1v1h-1zM250 37h1v1h-1zM249 50h1v1h-1zM243 46h1v1h-1zM235 55h1v1h-1zM249 48h1v1h-1zM246 46h1v1h-1zM256 48h1v1h-1zM239 50h1v1h-1zM265 46h1v1h-1zM254 49h1v1h-1zM250 43h1v1h-1zM246 48h1v1h-1zM245 52h1v1h-1zM242 58h1v1h-1zM247 52h1v1h-1zM252 50h1v1h-1zM250 54h1v1h-1zM239 54h1v1h-1zM250 56h1v1h-1zM244 54h1v1h-1zM253 48h1v1h-1zM269 50h1v1h-1zM258 50h1v1h-1zM249 50h1v1h-1zM237 50h1v1h-1zM239 45h1v1h-1zM237 40h1v1h-1zM259 46h1v1h-1zM245 40h1v1h-1zM253 49h1v1h-1zM246 49h1v1h-1zM253 41h1v1h-1zM265 52h1v1h-1zM246 53h1v1h-1zM249 49h1v1h-1zM245 57h1v1h-1zM260 57h1v1h-1zM243 44h1v1h-1zM242 54h1v1h-1zM240 51h1v1h-1zM239 51h1v1h-1zM256 53h1v1h-1zM275 46h1v1h-1zM243 46h1v1h-1zM261 45h1v1h-1zM254 46h1v1h-1zM242 49h1v1h-1zM250 42h1v1h-1zM250 44h1v1h-1zM246 52h1v1h-1zM269 49h1v1h-1zM235 51h1v1h-1zM255 40h1v1h-1zM255 45h1v1h-1zM247 47h1v1h-1zM253 49h1v1h-1zM260 46h1v1h-1zM253 53h1v1h-1zM256 49h1v1h-1zM258 49h1v1h-1zM234 49h1v1h-1zM265 52h1v1h-1zM273 47h1v1h-1zM261 54h1v1h-1zM261 51h1v1h-1zM239 50h1v1h-1zM251 49h1v1h-1zM245 51h1v1h-1zM247 54h1v1h-1zM261 53h1v1h-1zM245 51h1v1h-1zM251 53h1v1h-1zM235 50h1v1h-1zM251 55h1v1h-1zM253 49h1v1h-1zM246 40h1v1h-1zM246 55h1v1h-1zM269 49h1v1h-1zM241 44h1v1h-1zM243 48h1v1h-1zM245 45h1v1h-1zM263 58h1v1h-1zM271 51h1v1h-1zM255 42h1v1h-1zM246 51h1v1h-1zM248 47h1v1h-1zM262 58h1v1h-1zM244 44h1v1h-1zM265 39h1v1h-1zM265 49h1v1h-1zM253 47h1v1h-1zM258 47h1v1h-1zM259 39h1v1h-1zM266 51h1v1h-1zM243 57h1v1h-1zM263 40h1v1h-1zM249 54h1v1h-1zM245 46h1v1h-1zM253 60h1v1h-1zM250 51h1v1h-1zM243 48h1v1h-1zM238 54h1v1h-1zM244 51h1v1h-1zM265 46h1v1h-1zM270 52h1v1h-1zM258 47h1v1h-1zM263 41h1v1h-1zM247 58h1v1h-1zM251 47h1v1h-1zM255 46h1v1h-1zM242 51h1v1h-1zM243 42h1v1h-1zM253 43h1v1h-1zM249 47h1v1h-1zM242 47h1v1h-1zM255 49h1v1h-1zM250 54h1v1h-1zM261 47h1v1h-1zM252 51h1v1h-1zM249 52h1v1h-1zM253 44h1v1h-1zM250 50h1v1h-1zM246 45h1v1h-1zM248 54h1v1h-1zM259 51h1v1h-1zM258 49h1v1h-1zM264 43h1v1h-1zM237 50h1v1h-1zM248 46h1v1h-1zM248 52h1v1h-1zM254 48h1v1h-1zM248 45h1v1h-1zM247 53h1v1h-1zM259 52h1v1h-1zM254 46h1v1h-1zM242 54h1v1h-1zM264 48h1v1h-1zM261 48h1v1h-1zM247 50h1v1h-1zM259 46h1v1h-1zM245 47h1v1h-1zM262 48h1v1h-1zM250 56h1v1h-1zM245 56h1v1h-1zM249 48h1v1h-1zM245 56h1v1h-1zM254 49h1v1h-1zM254 51h1v1h-1zM252 53h1v1h-1zM247 50h1v1h-1zM253 50h1v1h-1zM235 44h1v1h-1zM254 55h1v1h-1zM262 47h1v1h-1zM254 48h1v1h-1zM248 36h1v1h-1zM250 54h1v1h-1zM251 53h1v1h-1zM247 53h1v1h-1zM247 53h1v1h-1zM244 57h1v1h-1zM263 49h1v1h-1zM252 53h1v1h-1zM261 46h1v1h-1zM250 47h1v1h-1zM253 54h1v1h-1zM250 51h1v1h-1zM256 43h1v1h-1zM254 46h1v1h-1zM267 56h1v1h-1zM249 57h1v1h-1zM231 46h1v1h-1zM242 46h1v1h-1zM256 46h1v1h-1zM271 44h1v1h-1zM256 50h1v1h-1zM243 51h1v1h-1zM273 53h1v1h-1zM248 43h1v1h-1zM241 45h1v1h-1zM254 44h1v1h-1zM245 47h1v1h-1zM236 45h1v1h-1zM261 59h1v1h-1zM260 49h1v1h-1zM272 45h1v1h-1zM237 54h1v1h-1zM269 60h1v1h-1zM264 56h1v1h-1zM242 54h1v1h-1zM251 49h1v1h-1zM257 49h1v1h-1zM244 47h1v1h-1zM236 57h1v1h-1zM266 56h1v1h-1zM238 51h1v1h-1zM252 58h1v1h-1zM249 54h1v1h-1zM269 54h1v1h-1zM254 47h1v1h-1zM249 46h1v1h-1zM272 46h1v1h-1zM246 58h1v1h-1zM262 56h1v1h-1zM241 58h1v1h-1zM263 57h1v1h-1zM263 56h1v1h-1zM266 50h1v1h-1zM251 56h1v1h-1zM240 45h1v1h-1zM258 54h1v1h-1zM269 43h1v1h-1zM244 59h1v1h-1zM232 58h1v1h-1zM239 45h1v1h-1zM270 56h1v1h-1zM231 57h1v1h-1zM233 43h1v1h-1zM235 52h1v1h-1zM268 50h1v1h-1zM247 53h1v1h-1zM260 58h1v1h-1zM261 55h1v1h-1zM249 46h1v1h-1zM262 52h1v1h-1zM250 52h1v1h-1zM254 42h1v1h-1zM244 44h1v1h-1zM231 48h1v1h-1zM256 45h1v1h-1zM242 46h1v1h-1zM243 54h1v1h-1zM268 59h1v1h-1zM246 50h1v1h-1zM235 54h1v1h-1zM257 56h1v1h-1zM254 54h1v1h-1zM233 54h1v1h-1zM246 42h1v1h-1zM257 58h1v1h-1zM243 45h1v1h-1zM272 45h1v1h-1zM265 51h1v1h-1zM252 53h1v1h-1zM269 56h1v1h-1zM232 47h1v1h-1zM240 59h1v1h-1zM269 53h1v1h-1zM252 57h1v1h-1zM238 51h1v1h-1zM255 43h1v1h-1zM262 42h1v1h-1zM256 54h1v1h-1zM233 50h1v1h-1zM233 50h1v1h-1zM248 48h1v1h-1zM232 45h1v1h-1zM235 51h1v1h-1zM258 47h1v1h-1zM249 58h1v1h-1zM235 45h1v1h-1zM268 59h1v1h-1zM246 57h1v1h-1zM268 49h1v1h-1zM257 56h1v1h-1zM257 52h1v1h-1zM249 50h1v1h-1zM259 57h1v1h-1zM241 57h1v1h-1zM242 46h1v1h-1zM268 58h1v1h-1zM240 43h1v1h-1zM247 42h1v1h-1zM262 51h1v1h-1zM245 47h1v1h-1zM246 50h1v1h-1zM269 51h1v1h-1zM240 50h1v1h-1zM241 58h1v1h-1zM268 59h1v1h-1zM243 48h1v1h-1zM245 47h1v1h-1zM268 54h1v1h-1zM244 46h1v1h-1zM273 49h1v1h-1zM265 55h1v1h-1zM267 42h1v1h-1zM240 56h1v1h-1zM292 95h1v1h-1zM301 95h1v1h-1zM304 71h1v1h-1zM302 98h1v1h-1zM297 94h1v1h-1zM307 72h1v1h-1zM298 104h1v1h-1zM295 108h1v1h-1zM296 90h1v1h-1zM301 95h1v1h-1zM305 87h1v1h-1zM306 110h1v1h-1zM302 80h1v1h-1zM296 96h1v1h-1zM298 125h1v1h-1zM297 101h1v1h-1zM300 106h1v1h-1zM293 98h1v1h-1zM302 85h1v1h-1zM304 100h1v1h-1zM300 105h1v1h-1zM303 87h1v1h-1zM297 104h1v1h-1zM294 116h1v1h-1zM298 114h1v1h-1zM306 79h1v1h-1zM306 87h1v1h-1zM299 79h1v1h-1zM306 114h1v1h-1zM300 108h1v1h-1zM308 109h1v1h-1zM303 89h1v1h-1zM299 85h1v1h-1zM305 101h1v1h-1zM298 101h1v1h-1zM297 89h1v1h-1zM294 102h1v1h-1zM302 108h1v1h-1zM301 103h1v1h-1zM301 86h1v1h-1zM299 73h1v1h-1zM307 97h1v1h-1zM299 102h1v1h-1zM298 97h1v1h-1zM307 94h1v1h-1zM307 91h1v1h-1zM303 109h1v1h-1zM293 99h1v1h-1zM298 102h1v1h-1zM304 87h1v1h-1zM301 92h1v1h-1zM308 102h1v1h-1zM295 87h1v1h-1zM304 84h1v1h-1zM298 96h1v1h-1zM307 116h1v1h-1zM301 102h1v1h-1zM306 119h1v1h-1zM298 98h1v1h-1zM295 96h1v1h-1zM296 82h1v1h-1zM298 93h1v1h-1zM296 119h1v1h-1zM306 104h1v1h-1zM307 110h1v1h-1zM302 109h1v1h-1zM296 100h1v1h-1zM300 97h1v1h-1zM298 102h1v1h-1zM308 109h1v1h-1zM302 106h1v1h-1zM303 106h1v1h-1zM299 102h1v1h-1zM292 90h1v1h-1zM298 97h1v1h-1zM296 88h1v1h-1zM303 113h1v1h-1zM301 73h1v1h-1zM297 97h1v1h-1zM299 131h1v1h-1zM308 96h1v1h-1zM297 85h1v1h-1zM297 100h1v1h-1zM300 117h1v1h-1zM298 98h1v1h-1zM299 108h1v1h-1zM303 101h1v1h-1zM309 95h1v1h-1zM301 101h1v1h-1zM301 93h1v1h-1zM301 94h1v1h-1zM300 105h1v1h-1zM299 105h1v1h-1zM306 110h1v1h-1zM299 102h1v1h-1zM300 81h1v1h-1zM301 107h1v1h-1zM301 96h1v1h-1zM300 96h1v1h-1zM305 81h1v1h-1zM301 93h1v1h-1zM302 91h1v1h-1zM301 100h1v1h-1zM296 81h1v1h-1zM297 101h1v1h-1zM296 102h1v1h-1zM302 85h1v1h-1zM298 92h1v1h-1zM296 89h1v1h-1zM302 112h1v1h-1zM303 67h1v1h-1zM293 96h1v1h-1zM309 78h1v1h-1zM301 94h1v1h-1zM301 111h1v1h-1zM306 92h1v1h-1zM301 102h1v1h-1zM298 89h1v1h-1zM311 125h1v1h-1zM296 112h1v1h-1zM301 115h1v1h-1zM305 83h1v1h-1zM296 86h1v1h-1zM301 114h1v1h-1zM303 97h1v1h-1zM312 97h1v1h-1zM297 104h1v1h-1zM301 84h1v1h-1zM304 110h1v1h-1zM301 100h1v1h-1zM296 106h1v1h-1zM303 91h1v1h-1zM301 107h1v1h-1zM303 91h1v1h-1zM306 112h1v1h-1zM306 115h1v1h-1zM303 112h1v1h-1zM302 107h1v1h-1zM296 108h1v1h-1zM300 65h1v1h-1zM302 111h1v1h-1zM299 96h1v1h-1zM301 101h1v1h-1zM297 96h1v1h-1zM308 82h1v1h-1zM311 93h1v1h-1zM299 109h1v1h-1zM303 118h1v1h-1zM300 92h1v1h-1zM307 88h1v1h-1zM303 119h1v1h-1zM301 89h1v1h-1zM300 127h1v1h-1zM302 101h1v1h-1zM296 89h1v1h-1zM304 113h1v1h-1zM298 122h1v1h-1zM303 81h1v1h-1zM302 120h1v1h-1zM306 96h1v1h-1zM301 119h1v1h-1zM306 95h1v1h-1zM297 79h1v1h-1zM304 107h1v1h-1zM300 112h1v1h-1zM302 127h1v1h-1zM301 122h1v1h-1zM305 109h1v1h-1zM292 97h1v1h-1zM302 93h1v1h-1zM294 96h1v1h-1zM306 89h1v1h-1zM292 96h1v1h-1zM296 67h1v1h-1zM293 102h1v1h-1zM308 100h1v1h-1zM295 133h1v1h-1zM302 110h1v1h-1zM299 94h1v1h-1zM293 107h1v1h-1zM299 84h1v1h-1zM304 92h1v1h-1zM300 76h1v1h-1zM305 119h1v1h-1zM299 108h1v1h-1zM301 85h1v1h-1zM299 99h1v1h-1zM303 112h1v1h-1zM310 106h1v1h-1zM303 105h1v1h-1zM302 89h1v1h-1zM298 92h1v1h-1zM298 101h1v1h-1zM308 112h1v1h-1zM296 89h1v1h-1zM297 85h1v1h-1zM301 115h1v1h-1zM299 88h1v1h-1zM310 114h1v1h-1zM290 103h1v1h-1zM303 111h1v1h-1zM304 123h1v1h-1zM296 109h1v1h-1zM298 110h1v1h-1zM303 88h1v1h-1zM308 91h1v1h-1zM297 108h1v1h-1zM294 120h1v1h-1zM305 118h1v1h-1zM308 130h1v1h-1zM299 104h1v1h-1zM291 103h1v1h-1zM308 113h1v1h-1zM300 100h1v1h-1zM306 99h1v1h-1zM301 86h1v1h-1zM299 113h1v1h-1zM299 86h1v1h-1zM308 107h1v1h-1zM307 82h1v1h-1zM291 114h1v1h-1zM297 87h1v1h-1zM309 111h1v1h-1zM299 79h1v1h-1zM295 94h1v1h-1zM301 115h1v1h-1zM301 90h1v1h-1zM301 101h1v1h-1zM299 94h1v1h-1zM300 70h1v1h-1zM299 104h1v1h-1zM303 106h1v1h-1zM297 86h1v1h-1zM300 107h1v1h-1zM300 90h1v1h-1zM307 87h1v1h-1zM303 100h1v1h-1zM301 91h1v1h-1zM303 130h1v1h-1zM303 80h1v1h-1zM306 110h1v1h-1zM303 113h1v1h-1zM309 74h1v1h-1zM307 77h1v1h-1zM301 107h1v1h-1zM299 94h1v1h-1zM305 105h1v1h-1zM303 115h1v1h-1zM301 95h1v1h-1zM294 86h1v1h-1zM293 65h1v1h-1zM303 103h1v1h-1zM304 88h1v1h-1zM305 104h1v1h-1zM295 103h1v1h-1zM306 82h1v1h-1zM299 122h1v1h-1zM303 114h1v1h-1zM303 111h1v1h-1zM297 85h1v1h-1zM298 95h1v1h-1zM292 93h1v1h-1zM297 95h1v1h-1zM293 85h1v1h-1zM303 106h1v1h-1zM301 103h1v1h-1zM305 105h1v1h-1zM303 93h1v1h-1zM298 117h1v1h-1zM303 102h1v1h-1zM299 64h1v1h-1zM304 92h1v1h-1zM302 99h1v1h-1zM297 113h1v1h-1zM301 96h1v1h-1zM301 97h1v1h-1zM300 91h1v1h-1zM305 109h1v1h-1zM309 94h1v1h-1zM256 88h1v1h-1zM260 77h1v1h-1zM246 102h1v1h-1zM258 74h1v1h-1zM251 80h1v1h-1zM250 87h1v1h-1zM256 72h1v1h-1zM254 90h1v1h-1zM259 91h1v1h-1zM261 82h1v1h-1zM244 104h1v1h-1zM255 85h1v1h-1zM265 87h1v1h-1zM260 75h1v1h-1zM263 68h1v1h-1zM256 78h1v1h-1zM249 81h1v1h-1zM250 80h1v1h-1zM259 92h1v1h-1zM260 61h1v1h-1zM252 73h1v1h-1zM254 66h1v1h-1zM257 98h1v1h-1zM247 79h1v1h-1zM254 79h1v1h-1zM264 73h1v1h-1zM267 93h1v1h-1zM255 80h1v1h-1zM265 87h1v1h-1zM253 64h1v1h-1zM252 96h1v1h-1zM245 88h1v1h-1zM260 90h1v1h-1zM254 97h1v1h-1zM267 83h1v1h-1zM257 83h1v1h-1zM257 92h1v1h-1zM247 89h1v1h-1zM263 82h1v1h-1zM254 85h1v1h-1zM255 79h1v1h-1zM245 92h1v1h-1zM260 94h1v1h-1zM261 85h1v1h-1zM253 103h1v1h-1zM256 69h1v1h-1zM258 82h1v1h-1zM261 102h1v1h-1zM256 80h1v1h-1zM264 68h1v1h-1zM255 98h1v1h-1zM253 90h1v1h-1zM253 73h1v1h-1zM243 92h1v1h-1zM252 74h1v1h-1zM261 71h1v1h-1zM257 83h1v1h-1zM252 80h1v1h-1zM257 74h1v1h-1zM246 81h1v1h-1zM254 74h1v1h-1zM258 85h1v1h-1zM259 84h1v1h-1zM252 92h1v1h-1zM260 80h1v1h-1zM265 71h1v1h-1zM254 71h1v1h-1zM259 82h1v1h-1zM248 100h1v1h-1zM246 93h1v1h-1zM259 78h1v1h-1zM256 94h1v1h-1zM257 73h1v1h-1zM253 95h1v1h-1zM254 81h1v1h-1zM260 92h1v1h-1zM264 91h1v1h-1zM255 82h1v1h-1zM247 88h1v1h-1zM262 74h1v1h-1zM259 84h1v1h-1zM259 95h1v1h-1zM257 126h1v1h-1zM267 92h1v1h-1zM256 85h1v1h-1zM258 74h1v1h-1zM246 95h1v1h-1zM253 68h1v1h-1zM252 76h1v1h-1zM256 88h1v1h-1zM322 87h1v1h-1zM316 133h1v1h-1zM308 89h1v1h-1zM288 126h1v1h-1zM316 102h1v1h-1zM298 131h1v1h-1zM314 91h1v1h-1zM287 130h1v1h-1zM327 91h1v1h-1zM284 100h1v1h-1zM318 112h1v1h-1zM324 107h1v1h-1zM283 114h1v1h-1zM323 116h1v1h-1zM310 89h1v1h-1zM308 73h1v1h-1zM289 118h1v1h-1zM293 110h1v1h-1zM288 107h1v1h-1zM299 103h1v1h-1zM311 130h1v1h-1zM315 91h1v1h-1zM314 129h1v1h-1zM294 83h1v1h-1zM293 116h1v1h-1zM317 131h1v1h-1zM329 82h1v1h-1zM287 121h1v1h-1zM298 89h1v1h-1zM290 76h1v1h-1zM329 99h1v1h-1zM276 116h1v1h-1zM324 90h1v1h-1zM317 132h1v1h-1zM293 72h1v1h-1zM312 89h1v1h-1zM295 94h1v1h-1zM310 95h1v1h-1zM298 91h1v1h-1zM325 73h1v1h-1zM300 85h1v1h-1zM320 88h1v1h-1zM307 114h1v1h-1zM295 96h1v1h-1zM328 118h1v1h-1zM286 100h1v1h-1zM325 93h1v1h-1zM329 82h1v1h-1zM322 86h1v1h-1zM309 129h1v1h-1zM309 101h1v1h-1zM326 92h1v1h-1zM299 86h1v1h-1zM320 127h1v1h-1zM318 116h1v1h-1zM322 116h1v1h-1zM299 123h1v1h-1zM311 87h1v1h-1zM280 118h1v1h-1zM279 76h1v1h-1zM281 114h1v1h-1zM315 92h1v1h-1zM295 114h1v1h-1zM325 86h1v1h-1zM279 94h1v1h-1zM284 114h1v1h-1zM321 131h1v1h-1zM298 93h1v1h-1zM287 83h1v1h-1zM318 80h1v1h-1zM295 50h1v1h-1zM295 52h1v1h-1zM294 58h1v1h-1zM284 45h1v1h-1zM287 47h1v1h-1zM298 46h1v1h-1zM308 39h1v1h-1zM289 46h1v1h-1zM270 49h1v1h-1zM289 43h1v1h-1zM294 52h1v1h-1zM295 52h1v1h-1zM292 44h1v1h-1zM284 53h1v1h-1zM305 55h1v1h-1zM286 48h1v1h-1zM298 41h1v1h-1zM289 53h1v1h-1zM281 45h1v1h-1zM304 44h1v1h-1zM269 47h1v1h-1zM284 43h1v1h-1zM296 51h1v1h-1zM289 50h1v1h-1zM299 52h1v1h-1zM291 49h1v1h-1zM288 42h1v1h-1zM311 45h1v1h-1zM290 50h1v1h-1zM290 44h1v1h-1zM282 61h1v1h-1zM285 45h1v1h-1zM298 43h1v1h-1zM297 52h1v1h-1zM292 50h1v1h-1zM285 46h1v1h-1zM298 45h1v1h-1zM276 48h1v1h-1zM289 50h1v1h-1zM290 50h1v1h-1zM284 44h1v1h-1zM293 48h1v1h-1zM286 50h1v1h-1zM285 50h1v1h-1zM299 42h1v1h-1zM303 42h1v1h-1zM292 45h1v1h-1zM301 47h1v1h-1zM254 113h1v1h-1zM261 126h1v1h-1zM236 90h1v1h-1zM262 116h1v1h-1zM257 88h1v1h-1zM259 85h1v1h-1zM247 93h1v1h-1zM234 90h1v1h-1zM269 133h1v1h-1zM265 87h1v1h-1zM271 99h1v1h-1zM250 103h1v1h-1zM267 116h1v1h-1zM267 133h1v1h-1zM254 111h1v1h-1zM268 126h1v1h-1zM264 80h1v1h-1zM235 114h1v1h-1zM236 83h1v1h-1zM248 127h1v1h-1zM253 110h1v1h-1zM258 81h1v1h-1zM254 126h1v1h-1zM267 105h1v1h-1zM264 103h1v1h-1zM235 77h1v1h-1zM245 129h1v1h-1zM267 104h1v1h-1zM262 126h1v1h-1zM232 77h1v1h-1zM257 115h1v1h-1zM236 96h1v1h-1zM252 106h1v1h-1zM272 111h1v1h-1zM234 124h1v1h-1zM265 130h1v1h-1zM251 83h1v1h-1zM271 126h1v1h-1zM266 79h1v1h-1zM234 73h1v1h-1z"/>
<path fill="#564e90" fill-opacity="0.45" d="M256 52h1v1h-1zM250 46h1v1h-1zM244 49h1v1h-1zM256 48h1v1h-1zM248 45h1v1h-1zM236 47h1v1h-1zM241 51h1v1h-1zM270 47h1v1h-1zM237 47h1v1h-1zM254 50h1v1h-1zM258 51h1v1h-1zM258 51h1v1h-1zM240 47h1v1h-1zM249 48h1v1h-1zM253 51h1v1h-1zM260 47h1v1h-1zM246 47h1v1h-1zM240 50h1v1h-1zM262 52h1v1h-1zM263 46h1v1h-1zM256 43h1v1h-1zM246 45h1v1h-1zM256 46h1v1h-1zM253 48h1v1h-1zM260 50h1v1h-1zM240 48h1v1h-1zM253 47h1v1h-1zM250 49h1v1h-1zM241 46h1v1h-1zM254 48h1v1h-1zM252 47h1v1h-1zM248 54h1v1h-1zM256 50h1v1h-1zM238 47h1v1h-1zM251 46h1v1h-1zM256 48h1v1h-1zM255 45h1v1h-1zM263 47h1v1h-1zM240 47h1v1h-1zM237 50h1v1h-1zM254 48h1v1h-1zM257 47h1v1h-1zM273 46h1v1h-1zM258 46h1v1h-1zM243 48h1v1h-1zM260 48h1v1h-1zM244 51h1v1h-1zM237 47h1v1h-1zM278 51h1v1h-1zM255 49h1v1h-1zM259 48h1v1h-1zM258 44h1v1h-1zM270 46h1v1h-1zM255 50h1v1h-1zM264 52h1v1h-1zM242 49h1v1h-1zM238 50h1v1h-1zM266 48h1v1h-1zM267 48h1v1h-1zM257 47h1v1h-1zM254 51h1v1h-1zM254 49h1v1h-1zM245 48h1v1h-1zM267 48h1v1h-1zM259 50h1v1h-1zM257 49h1v1h-1zM256 47h1v1h-1zM262 52h1v1h-1zM257 49h1v1h-1zM259 49h1v1h-1zM240 52h1v1h-1zM257 51h1v1h-1zM274 48h1v1h-1zM247 50h1v1h-1zM251 46h1v1h-1zM261 47h1v1h-1zM262 44h1v1h-1zM258 51h1v1h-1zM236 44h1v1h-1zM257 50h1v1h-1zM240 47h1v1h-1zM244 46h1v1h-1zM257 48h1v1h-1zM249 49h1v1h-1zM260 50h1v1h-1zM283 52h1v1h-1zM260 49h1v1h-1zM259 50h1v1h-1zM243 47h1v1h-1zM246 50h1v1h-1zM241 49h1v1h-1zM247 47h1v1h-1zM241 48h1v1h-1zM245 48h1v1h-1zM250 49h1v1h-1zM242 49h1v1h-1zM238 47h1v1h-1zM238 47h1v1h-1zM257 50h1v1h-1zM253 45h1v1h-1zM262 47h1v1h-1zM262 52h1v1h-1zM249 43h1v1h-1zM259 47h1v1h-1zM238 50h1v1h-1zM275 45h1v1h-1zM264 54h1v1h-1zM250 43h1v1h-1zM240 52h1v1h-1zM256 52h1v1h-1zM233 51h1v1h-1zM244 48h1v1h-1zM259 49h1v1h-1zM253 47h1v1h-1zM247 50h1v1h-1zM262 46h1v1h-1zM242 48h1v1h-1zM255 51h1v1h-1zM247 46h1v1h-1zM244 48h1v1h-1zM257 49h1v1h-1zM242 46h1v1h-1zM271 51h1v1h-1zM246 49h1v1h-1zM272 45h1v1h-1zM241 48h1v1h-1zM258 47h1v1h-1zM240 47h1v1h-1zM239 49h1v1h-1zM254 47h1v1h-1zM259 51h1v1h-1zM239 47h1v1h-1zM264 51h1v1h-1zM244 48h1v1h-1zM253 50h1v1h-1zM256 47h1v1h-1zM258 47h1v1h-1zM234 46h1v1h-1zM268 50h1v1h-1zM258 51h1v1h-1zM248 53h1v1h-1zM242 51h1v1h-1zM235 49h1v1h-1zM238 48h1v1h-1zM257 49h1v1h-1zM249 48h1v1h-1zM241 52h1v1h-1zM247 51h1v1h-1zM268 47h1v1h-1zM249 47h1v1h-1zM246 52h1v1h-1zM266 49h1v1h-1zM257 48h1v1h-1zM252 51h1v1h-1zM246 48h1v1h-1zM236 48h1v1h-1zM240 47h1v1h-1zM247 44h1v1h-1zM250 50h1v1h-1zM256 46h1v1h-1zM258 47h1v1h-1zM254 47h1v1h-1zM254 50h1v1h-1zM242 48h1v1h-1zM247 45h1v1h-1zM242 48h1v1h-1zM245 45h1v1h-1zM249 49h1v1h-1zM240 49h1v1h-1zM241 48h1v1h-1zM251 53h1v1h-1zM253 50h1v1h-1zM245 50h1v1h-1zM257 49h1v1h-1zM250 48h1v1h-1zM242 51h1v1h-1zM252 51h1v1h-1zM271 46h1v1h-1zM245 51h1v1h-1zM264 50h1v1h-1zM266 51h1v1h-1zM267 50h1v1h-1zM244 46h1v1h-1zM272 46h1v1h-1zM253 53h1v1h-1zM249 49h1v1h-1zM250 45h1v1h-1zM258 49h1v1h-1zM253 48h1v1h-1zM250 44h1v1h-1zM265 43h1v1h-1zM245 45h1v1h-1zM242 49h1v1h-1zM260 48h1v1h-1zM259 48h1v1h-1zM263 49h1v1h-1zM241 50h1v1h-1zM263 44h1v1h-1zM257 48h1v1h-1zM300 79h1v1h-1zM300 83h1v1h-1zM305 92h1v1h-1zM301 85h1v1h-1zM296 82h1v1h-1zM305 79h1v1h-1zM300 89h1v1h-1zM304 92h1v1h-1zM304 94h1v1h-1zM307 86h1v1h-1zM306 92h1v1h-1zM300 80h1v1h-1zM302 87h1v1h-1zM298 82h1v1h-1zM309 87h1v1h-1zM304 90h1v1h-1zM308 92h1v1h-1zM301 81h1v1h-1zM295 93h1v1h-1zM308 83h1v1h-1zM303 80h1v1h-1zM303 85h1v1h-1zM303 78h1v1h-1zM305 86h1v1h-1zM304 88h1v1h-1zM297 85h1v1h-1zM306 89h1v1h-1zM301 84h1v1h-1zM301 86h1v1h-1zM309 78h1v1h-1zM306 86h1v1h-1zM301 81h1v1h-1zM296 84h1v1h-1zM303 85h1v1h-1zM304 87h1v1h-1zM302 77h1v1h-1zM298 77h1v1h-1zM300 84h1v1h-1zM298 89h1v1h-1zM303 88h1v1h-1zM305 91h1v1h-1zM306 93h1v1h-1zM300 89h1v1h-1zM303 86h1v1h-1zM304 80h1v1h-1zM301 81h1v1h-1zM302 83h1v1h-1zM310 87h1v1h-1zM303 87h1v1h-1zM306 86h1v1h-1zM301 85h1v1h-1zM303 89h1v1h-1zM296 87h1v1h-1zM302 88h1v1h-1zM307 88h1v1h-1zM310 83h1v1h-1zM307 80h1v1h-1zM305 89h1v1h-1zM303 88h1v1h-1zM300 85h1v1h-1zM302 84h1v1h-1zM305 99h1v1h-1zM300 82h1v1h-1zM306 85h1v1h-1zM299 87h1v1h-1zM296 80h1v1h-1zM299 87h1v1h-1zM297 96h1v1h-1zM298 91h1v1h-1zM307 89h1v1h-1zM302 89h1v1h-1zM303 87h1v1h-1zM307 91h1v1h-1zM307 85h1v1h-1zM301 84h1v1h-1zM307 87h1v1h-1zM304 91h1v1h-1zM303 88h1v1h-1zM304 90h1v1h-1zM297 75h1v1h-1zM300 93h1v1h-1zM302 99h1v1h-1zM305 93h1v1h-1zM301 84h1v1h-1zM302 81h1v1h-1zM306 88h1v1h-1zM308 81h1v1h-1zM305 90h1v1h-1zM307 83h1v1h-1zM301 91h1v1h-1zM301 93h1v1h-1zM304 75h1v1h-1zM301 88h1v1h-1zM301 82h1v1h-1zM308 78h1v1h-1zM302 83h1v1h-1zM299 85h1v1h-1zM304 92h1v1h-1zM309 78h1v1h-1zM303 92h1v1h-1zM307 97h1v1h-1zM301 89h1v1h-1zM301 89h1v1h-1zM300 86h1v1h-1zM302 80h1v1h-1zM309 89h1v1h-1zM298 88h1v1h-1zM308 90h1v1h-1zM299 100h1v1h-1zM302 90h1v1h-1zM306 88h1v1h-1zM305 95h1v1h-1zM304 79h1v1h-1zM297 80h1v1h-1zM304 84h1v1h-1zM299 82h1v1h-1zM312 90h1v1h-1zM302 84h1v1h-1zM303 96h1v1h-1zM298 94h1v1h-1zM301 90h1v1h-1zM298 84h1v1h-1zM306 89h1v1h-1zM302 90h1v1h-1zM305 80h1v1h-1zM300 88h1v1h-1zM301 90h1v1h-1zM307 87h1v1h-1zM299 95h1v1h-1zM296 93h1v1h-1zM304 81h1v1h-1zM298 87h1v1h-1zM301 81h1v1h-1zM306 89h1v1h-1zM300 81h1v1h-1zM306 91h1v1h-1zM300 88h1v1h-1zM308 91h1v1h-1zM307 85h1v1h-1zM301 78h1v1h-1zM302 96h1v1h-1zM300 85h1v1h-1zM303 94h1v1h-1zM307 88h1v1h-1zM297 90h1v1h-1zM306 96h1v1h-1zM298 88h1v1h-1zM299 94h1v1h-1zM296 78h1v1h-1zM310 91h1v1h-1zM303 85h1v1h-1zM303 85h1v1h-1zM300 86h1v1h-1zM306 88h1v1h-1zM295 95h1v1h-1zM303 76h1v1h-1zM310 86h1v1h-1zM301 82h1v1h-1zM303 92h1v1h-1zM305 84h1v1h-1zM300 89h1v1h-1zM303 84h1v1h-1zM306 90h1v1h-1zM303 92h1v1h-1zM304 84h1v1h-1zM301 86h1v1h-1zM304 78h1v1h-1zM303 88h1v1h-1zM308 91h1v1h-1zM305 83h1v1h-1zM302 92h1v1h-1zM294 75h1v1h-1zM305 76h1v1h-1zM305 78h1v1h-1zM299 83h1v1h-1zM295 86h1v1h-1zM298 86h1v1h-1zM306 86h1v1h-1zM299 90h1v1h-1zM301 83h1v1h-1zM303 79h1v1h-1zM307 79h1v1h-1zM302 98h1v1h-1zM302 73h1v1h-1zM301 85h1v1h-1zM308 94h1v1h-1zM306 89h1v1h-1zM302 81h1v1h-1zM297 86h1v1h-1zM300 91h1v1h-1zM305 93h1v1h-1zM300 81h1v1h-1zM306 90h1v1h-1zM304 87h1v1h-1zM304 92h1v1h-1zM305 94h1v1h-1zM304 84h1v1h-1zM299 78h1v1h-1zM301 88h1v1h-1zM311 96h1v1h-1z"/>
<path fill="#7a72b0" fill-opacity="0.3" d="M300 80h1v1h-1zM295 90h1v1h-1zM318 81h1v1h-1zM281 92h1v1h-1zM302 111h1v1h-1zM286 109h1v1h-1zM293 95h1v1h-1zM293 107h1v1h-1zM309 93h1v1h-1zM282 83h1v1h-1zM286 84h1v1h-1zM274 91h1v1h-1zM297 123h1v1h-1zM287 85h1v1h-1zM297 121h1v1h-1zM280 122h1v1h-1zM288 101h1v1h-1zM303 103h1v1h-1zM290 95h1v1h-1zM299 103h1v1h-1zM298 113h1v1h-1zM288 103h1v1h-1zM275 117h1v1h-1zM303 120h1v1h-1zM294 108h1v1h-1zM303 108h1v1h-1zM270 102h1v1h-1zM274 108h1v1h-1zM268 88h1v1h-1zM282 109h1v1h-1zM303 106h1v1h-1zM298 91h1v1h-1zM292 133h1v1h-1zM293 90h1v1h-1zM300 91h1v1h-1zM289 107h1v1h-1zM296 76h1v1h-1zM294 92h1v1h-1zM268 82h1v1h-1zM288 90h1v1h-1zM307 101h1v1h-1zM288 108h1v1h-1zM290 119h1v1h-1zM285 115h1v1h-1zM287 120h1v1h-1zM304 111h1v1h-1zM289 97h1v1h-1zM281 119h1v1h-1zM258 96h1v1h-1zM286 95h1v1h-1zM270 125h1v1h-1zM272 114h1v1h-1zM301 106h1v1h-1zM300 114h1v1h-1zM271 116h1v1h-1zM301 84h1v1h-1zM297 102h1v1h-1zM283 87h1v1h-1zM300 105h1v1h-1zM274 94h1v1h-1zM279 122h1v1h-1zM276 110h1v1h-1zM280 92h1v1h-1zM302 103h1v1h-1zM277 86h1v1h-1zM279 104h1v1h-1zM282 111h1v1h-1zM294 107h1v1h-1zM288 76h1v1h-1zM301 99h1v1h-1zM284 110h1v1h-1zM278 107h1v1h-1zM286 119h1v1h-1zM292 85h1v1h-1zM282 111h1v1h-1zM295 94h1v1h-1zM312 106h1v1h-1zM286 109h1v1h-1zM292 113h1v1h-1zM307 95h1v1h-1zM285 106h1v1h-1zM283 87h1v1h-1zM280 83h1v1h-1zM296 111h1v1h-1zM298 102h1v1h-1zM290 81h1v1h-1zM292 91h1v1h-1zM306 103h1v1h-1zM301 125h1v1h-1zM276 118h1v1h-1zM292 114h1v1h-1zM293 78h1v1h-1zM300 102h1v1h-1zM289 110h1v1h-1zM285 109h1v1h-1zM287 109h1v1h-1zM272 100h1v1h-1zM291 128h1v1h-1zM285 124h1v1h-1zM297 102h1v1h-1zM280 89h1v1h-1zM287 132h1v1h-1zM281 95h1v1h-1zM280 120h1v1h-1zM299 130h1v1h-1zM287 90h1v1h-1zM297 107h1v1h-1zM279 98h1v1h-1zM293 110h1v1h-1zM273 108h1v1h-1zM286 130h1v1h-1zM286 111h1v1h-1zM298 103h1v1h-1zM294 119h1v1h-1zM290 99h1v1h-1zM301 98h1v1h-1zM297 92h1v1h-1zM300 96h1v1h-1zM291 104h1v1h-1zM288 88h1v1h-1zM295 74h1v1h-1zM287 118h1v1h-1zM296 92h1v1h-1zM304 96h1v1h-1zM301 98h1v1h-1zM287 89h1v1h-1zM277 88h1v1h-1zM291 105h1v1h-1zM304 113h1v1h-1zM287 114h1v1h-1zM289 82h1v1h-1zM300 103h1v1h-1zM286 87h1v1h-1zM290 114h1v1h-1zM310 100h1v1h-1zM308 104h1v1h-1zM298 102h1v1h-1zM294 95h1v1h-1zM281 82h1v1h-1zM298 111h1v1h-1zM292 84h1v1h-1zM294 87h1v1h-1zM286 99h1v1h-1zM291 93h1v1h-1zM289 107h1v1h-1zM295 117h1v1h-1zM307 107h1v1h-1zM295 106h1v1h-1z"/>
<ellipse cx="242" cy="49.3" rx="14" ry="2" fill="url(#g4)"/>
<ellipse cx="264" cy="48.5" rx="8" ry="5.5" fill="url(#g5)"/>
<ellipse cx="259" cy="49" rx="6.5" ry="3.4" fill="url(#g6)"/>
<rect x="71.4" y="34.9" width="102.1" height="101" fill="none" stroke="#8a8a8a" stroke-width="1"/>
<line x1="69.2" y1="44.2" x2="71.4" y2="44.2" stroke="#555" stroke-width="0.9" />
<line x1="69.2" y1="68" x2="71.4" y2="68" stroke="#555" stroke-width="0.9" />
<line x1="69.2" y1="96" x2="71.4" y2="96" stroke="#555" stroke-width="0.9" />
<line x1="69.2" y1="111.6" x2="71.4" y2="111.6" stroke="#555" stroke-width="0.9" />
<line x1="69.2" y1="128.8" x2="71.4" y2="128.8" stroke="#555" stroke-width="0.9" />
<line x1="70.2" y1="37.9" x2="71.4" y2="37.9" stroke="#888" stroke-width="0.6" />
<line x1="70.2" y1="45.21" x2="71.4" y2="45.21" stroke="#888" stroke-width="0.6" />
<line x1="70.2" y1="52.52" x2="71.4" y2="52.52" stroke="#888" stroke-width="0.6" />
<line x1="70.2" y1="59.82" x2="71.4" y2="59.82" stroke="#888" stroke-width="0.6" />
<line x1="70.2" y1="67.13" x2="71.4" y2="67.13" stroke="#888" stroke-width="0.6" />
<line x1="70.2" y1="74.44" x2="71.4" y2="74.44" stroke="#888" stroke-width="0.6" />
<line x1="70.2" y1="81.75" x2="71.4" y2="81.75" stroke="#888" stroke-width="0.6" />
<line x1="70.2" y1="89.05" x2="71.4" y2="89.05" stroke="#888" stroke-width="0.6" />
<line x1="70.2" y1="96.36" x2="71.4" y2="96.36" stroke="#888" stroke-width="0.6" />
<line x1="70.2" y1="103.67" x2="71.4" y2="103.67" stroke="#888" stroke-width="0.6" />
<line x1="70.2" y1="110.98" x2="71.4" y2="110.98" stroke="#888" stroke-width="0.6" />
<line x1="70.2" y1="118.28" x2="71.4" y2="118.28" stroke="#888" stroke-width="0.6" />
<line x1="70.2" y1="125.59" x2="71.4" y2="125.59" stroke="#888" stroke-width="0.6" />
<line x1="70.2" y1="132.9" x2="71.4" y2="132.9" stroke="#888" stroke-width="0.6" />
<line x1="77.5" y1="135.9" x2="77.5" y2="138.1" stroke="#555" stroke-width="0.9" />
<line x1="94.6" y1="135.9" x2="94.6" y2="138.1" stroke="#555" stroke-width="0.9" />
<line x1="111.3" y1="135.9" x2="111.3" y2="138.1" stroke="#555" stroke-width="0.9" />
<line x1="138.8" y1="135.9" x2="138.8" y2="138.1" stroke="#555" stroke-width="0.9" />
<line x1="161.3" y1="135.9" x2="161.3" y2="138.1" stroke="#555" stroke-width="0.9" />
<line x1="74.4" y1="135.9" x2="74.4" y2="137.1" stroke="#888" stroke-width="0.6" />
<line x1="80.81" y1="135.9" x2="80.81" y2="137.1" stroke="#888" stroke-width="0.6" />
<line x1="87.21" y1="135.9" x2="87.21" y2="137.1" stroke="#888" stroke-width="0.6" />
<line x1="93.62" y1="135.9" x2="93.62" y2="137.1" stroke="#888" stroke-width="0.6" />
<line x1="100.03" y1="135.9" x2="100.03" y2="137.1" stroke="#888" stroke-width="0.6" />
<line x1="106.43" y1="135.9" x2="106.43" y2="137.1" stroke="#888" stroke-width="0.6" />
<line x1="112.84" y1="135.9" x2="112.84" y2="137.1" stroke="#888" stroke-width="0.6" />
<line x1="119.25" y1="135.9" x2="119.25" y2="137.1" stroke="#888" stroke-width="0.6" />
<line x1="125.65" y1="135.9" x2="125.65" y2="137.1" stroke="#888" stroke-width="0.6" />
<line x1="132.06" y1="135.9" x2="132.06" y2="137.1" stroke="#888" stroke-width="0.6" />
<line x1="138.47" y1="135.9" x2="138.47" y2="137.1" stroke="#888" stroke-width="0.6" />
<line x1="144.87" y1="135.9" x2="144.87" y2="137.1" stroke="#888" stroke-width="0.6" />
<line x1="151.28" y1="135.9" x2="151.28" y2="137.1" stroke="#888" stroke-width="0.6" />
<line x1="157.69" y1="135.9" x2="157.69" y2="137.1" stroke="#888" stroke-width="0.6" />
<line x1="164.09" y1="135.9" x2="164.09" y2="137.1" stroke="#888" stroke-width="0.6" />
<line x1="170.5" y1="135.9" x2="170.5" y2="137.1" stroke="#888" stroke-width="0.6" />
<rect x="230.1" y="34.9" width="101.2" height="101" fill="none" stroke="#8a8a8a" stroke-width="1"/>
<line x1="227.9" y1="44.2" x2="230.1" y2="44.2" stroke="#555" stroke-width="0.9" />
<line x1="227.9" y1="68" x2="230.1" y2="68" stroke="#555" stroke-width="0.9" />
<line x1="227.9" y1="96" x2="230.1" y2="96" stroke="#555" stroke-width="0.9" />
<line x1="227.9" y1="111.6" x2="230.1" y2="111.6" stroke="#555" stroke-width="0.9" />
<line x1="227.9" y1="128.8" x2="230.1" y2="128.8" stroke="#555" stroke-width="0.9" />
<line x1="228.9" y1="37.9" x2="230.1" y2="37.9" stroke="#888" stroke-width="0.6" />
<line x1="228.9" y1="45.21" x2="230.1" y2="45.21" stroke="#888" stroke-width="0.6" />
<line x1="228.9" y1="52.52" x2="230.1" y2="52.52" stroke="#888" stroke-width="0.6" />
<line x1="228.9" y1="59.82" x2="230.1" y2="59.82" stroke="#888" stroke-width="0.6" />
<line x1="228.9" y1="67.13" x2="230.1" y2="67.13" stroke="#888" stroke-width="0.6" />
<line x1="228.9" y1="74.44" x2="230.1" y2="74.44" stroke="#888" stroke-width="0.6" />
<line x1="228.9" y1="81.75" x2="230.1" y2="81.75" stroke="#888" stroke-width="0.6" />
<line x1="228.9" y1="89.05" x2="230.1" y2="89.05" stroke="#888" stroke-width="0.6" />
<line x1="228.9" y1="96.36" x2="230.1" y2="96.36" stroke="#888" stroke-width="0.6" />
<line x1="228.9" y1="103.67" x2="230.1" y2="103.67" stroke="#888" stroke-width="0.6" />
<line x1="228.9" y1="110.98" x2="230.1" y2="110.98" stroke="#888" stroke-width="0.6" />
<line x1="228.9" y1="118.28" x2="230.1" y2="118.28" stroke="#888" stroke-width="0.6" />
<line x1="228.9" y1="125.59" x2="230.1" y2="125.59" stroke="#888" stroke-width="0.6" />
<line x1="228.9" y1="132.9" x2="230.1" y2="132.9" stroke="#888" stroke-width="0.6" />
<line x1="235.6" y1="135.9" x2="235.6" y2="138.1" stroke="#555" stroke-width="0.9" />
<line x1="252.7" y1="135.9" x2="252.7" y2="138.1" stroke="#555" stroke-width="0.9" />
<line x1="269.4" y1="135.9" x2="269.4" y2="138.1" stroke="#555" stroke-width="0.9" />
<line x1="296.9" y1="135.9" x2="296.9" y2="138.1" stroke="#555" stroke-width="0.9" />
<line x1="319.4" y1="135.9" x2="319.4" y2="138.1" stroke="#555" stroke-width="0.9" />
<line x1="233.1" y1="135.9" x2="233.1" y2="137.1" stroke="#888" stroke-width="0.6" />
<line x1="239.45" y1="135.9" x2="239.45" y2="137.1" stroke="#888" stroke-width="0.6" />
<line x1="245.79" y1="135.9" x2="245.79" y2="137.1" stroke="#888" stroke-width="0.6" />
<line x1="252.14" y1="135.9" x2="252.14" y2="137.1" stroke="#888" stroke-width="0.6" />
<line x1="258.49" y1="135.9" x2="258.49" y2="137.1" stroke="#888" stroke-width="0.6" />
<line x1="264.83" y1="135.9" x2="264.83" y2="137.1" stroke="#888" stroke-width="0.6" />
<line x1="271.18" y1="135.9" x2="271.18" y2="137.1" stroke="#888" stroke-width="0.6" />
<line x1="277.53" y1="135.9" x2="277.53" y2="137.1" stroke="#888" stroke-width="0.6" />
<line x1="283.87" y1="135.9" x2="283.87" y2="137.1" stroke="#888" stroke-width="0.6" />
<line x1="290.22" y1="135.9" x2="290.22" y2="137.1" stroke="#888" stroke-width="0.6" />
<line x1="296.57" y1="135.9" x2="296.57" y2="137.1" stroke="#888" stroke-width="0.6" />
<line x1="302.91" y1="135.9" x2="302.91" y2="137.1" stroke="#888" stroke-width="0.6" />
<line x1="309.26" y1="135.9" x2="309.26" y2="137.1" stroke="#888" stroke-width="0.6" />
<line x1="315.61" y1="135.9" x2="315.61" y2="137.1" stroke="#888" stroke-width="0.6" />
<line x1="321.95" y1="135.9" x2="321.95" y2="137.1" stroke="#888" stroke-width="0.6" />
<line x1="328.3" y1="135.9" x2="328.3" y2="137.1" stroke="#888" stroke-width="0.6" />
<text x="65.6" y="46.89" font-size="7.5" text-anchor="end" fill="#222" font-weight="normal" >10<tspan font-size="4.9" dy="-2.7">5</tspan></text>
<text x="65.6" y="70.69" font-size="7.5" text-anchor="end" fill="#222" font-weight="normal" >10<tspan font-size="4.9" dy="-2.7">4</tspan></text>
<text x="65.6" y="98.69" font-size="7.5" text-anchor="end" fill="#222" font-weight="normal" >10<tspan font-size="4.9" dy="-2.7">3</tspan></text>
<text x="65.6" y="114.28" font-size="7.5" text-anchor="end" fill="#222" font-weight="normal" >0</text>
<text x="65.6" y="131.49" font-size="7.5" text-anchor="end" fill="#222" font-weight="normal" >&#8722;10<tspan font-size="4.9" dy="-2.7">3</tspan></text>
<text x="223.8" y="46.89" font-size="7.5" text-anchor="end" fill="#222" font-weight="normal" >10<tspan font-size="4.9" dy="-2.7">5</tspan></text>
<text x="223.8" y="70.69" font-size="7.5" text-anchor="end" fill="#222" font-weight="normal" >10<tspan font-size="4.9" dy="-2.7">4</tspan></text>
<text x="223.8" y="98.69" font-size="7.5" text-anchor="end" fill="#222" font-weight="normal" >10<tspan font-size="4.9" dy="-2.7">3</tspan></text>
<text x="223.8" y="114.28" font-size="7.5" text-anchor="end" fill="#222" font-weight="normal" >0</text>
<text x="223.8" y="131.49" font-size="7.5" text-anchor="end" fill="#222" font-weight="normal" >&#8722;10<tspan font-size="4.9" dy="-2.7">3</tspan></text>
<text x="77.5" y="148.28" font-size="7.5" text-anchor="middle" fill="#222" font-weight="normal" >&#8722;10<tspan font-size="4.9" dy="-2.7">3</tspan></text>
<text x="94.6" y="148.28" font-size="7.5" text-anchor="middle" fill="#222" font-weight="normal" >0</text>
<text x="111.3" y="148.28" font-size="7.5" text-anchor="middle" fill="#222" font-weight="normal" >10<tspan font-size="4.9" dy="-2.7">3</tspan></text>
<text x="138.8" y="148.28" font-size="7.5" text-anchor="middle" fill="#222" font-weight="normal" >10<tspan font-size="4.9" dy="-2.7">4</tspan></text>
<text x="161.3" y="148.28" font-size="7.5" text-anchor="middle" fill="#222" font-weight="normal" >10<tspan font-size="4.9" dy="-2.7">5</tspan></text>
<text x="235.6" y="148.28" font-size="7.5" text-anchor="middle" fill="#222" font-weight="normal" >&#8722;10<tspan font-size="4.9" dy="-2.7">3</tspan></text>
<text x="252.7" y="148.28" font-size="7.5" text-anchor="middle" fill="#222" font-weight="normal" >0</text>
<text x="269.4" y="148.28" font-size="7.5" text-anchor="middle" fill="#222" font-weight="normal" >10<tspan font-size="4.9" dy="-2.7">3</tspan></text>
<text x="296.9" y="148.28" font-size="7.5" text-anchor="middle" fill="#222" font-weight="normal" >10<tspan font-size="4.9" dy="-2.7">4</tspan></text>
<text x="319.4" y="148.28" font-size="7.5" text-anchor="middle" fill="#222" font-weight="normal" >10<tspan font-size="4.9" dy="-2.7">5</tspan></text>
<line x1="113.65" y1="34.9" x2="113.65" y2="135.9" stroke="#4a4a4a" stroke-width="1.3" />
<line x1="71.4" y1="71.8" x2="173.5" y2="71.8" stroke="#4a4a4a" stroke-width="1.3" />
<line x1="273.8" y1="34.9" x2="273.8" y2="135.9" stroke="#4a4a4a" stroke-width="1.3" />
<line x1="230.1" y1="70.1" x2="331.3" y2="70.1" stroke="#4a4a4a" stroke-width="1.3" />
<rect x="231" y="35.6" width="23" height="11.4" fill="#fff"/>
<text x="75.6" y="44.85" font-size="7.4" text-anchor="start" fill="#1a1a1a" font-weight="normal" stroke="#1a1a1a" stroke-width="0.15">44.2</text>
<text x="167.6" y="44.85" font-size="7.4" text-anchor="end" fill="#1a1a1a" font-weight="normal" stroke="#1a1a1a" stroke-width="0.15">0.35</text>
<text x="75.6" y="132.85" font-size="7.4" text-anchor="start" fill="#1a1a1a" font-weight="normal" stroke="#1a1a1a" stroke-width="0.15">3.45</text>
<text x="167.6" y="132.85" font-size="7.4" text-anchor="end" fill="#1a1a1a" font-weight="normal" stroke="#1a1a1a" stroke-width="0.15">52.0</text>
<text x="233.8" y="44.85" font-size="7.4" text-anchor="start" fill="#1a1a1a" font-weight="normal" stroke="#1a1a1a" stroke-width="0.15">61.7</text>
<text x="320.8" y="44.85" font-size="7.4" text-anchor="end" fill="#1a1a1a" font-weight="normal" stroke="#1a1a1a" stroke-width="0.15">2.13</text>
<text x="233.8" y="132.85" font-size="7.4" text-anchor="start" fill="#1a1a1a" font-weight="normal" stroke="#1a1a1a" stroke-width="0.15">4.71</text>
<text x="320.8" y="132.85" font-size="7.4" text-anchor="end" fill="#1a1a1a" font-weight="normal" stroke="#1a1a1a" stroke-width="0.15">31.4</text>
<rect x="69.6" y="111" width="1.8" height="3.2" fill="#111"/>
<rect x="92.5" y="135.8" width="4.5" height="1.8" fill="#111"/>
<rect x="227.7" y="110.6" width="1.8" height="3.2" fill="#111"/>
<rect x="250.5" y="135.8" width="4.5" height="1.8" fill="#111"/>
<text x="348.7" y="15.7" font-size="11" text-anchor="start" fill="#111" font-weight="bold" >B</text>
<line x1="387.6" y1="42.8" x2="387.6" y2="138.2" stroke="#333" stroke-width="1.2" />
<line x1="387.6" y1="138.2" x2="513.7" y2="138.2" stroke="#333" stroke-width="1.2" />
<line x1="385.4" y1="138.2" x2="387.6" y2="138.2" stroke="#333" stroke-width="1" />
<text x="380.2" y="140.81" font-size="7.3" text-anchor="middle" fill="#222" font-weight="normal" >0</text>
<line x1="385.4" y1="119.45" x2="387.6" y2="119.45" stroke="#333" stroke-width="1" />
<text x="380.2" y="122.06" font-size="7.3" text-anchor="middle" fill="#222" font-weight="normal" >1</text>
<line x1="385.4" y1="100.7" x2="387.6" y2="100.7" stroke="#333" stroke-width="1" />
<text x="380.2" y="103.31" font-size="7.3" text-anchor="middle" fill="#222" font-weight="normal" >2</text>
<line x1="385.4" y1="81.95" x2="387.6" y2="81.95" stroke="#333" stroke-width="1" />
<text x="380.2" y="84.56" font-size="7.3" text-anchor="middle" fill="#222" font-weight="normal" >3</text>
<line x1="385.4" y1="63.2" x2="387.6" y2="63.2" stroke="#333" stroke-width="1" />
<text x="380.2" y="65.81" font-size="7.3" text-anchor="middle" fill="#222" font-weight="normal" >4</text>
<line x1="385.4" y1="44.45" x2="387.6" y2="44.45" stroke="#333" stroke-width="1" />
<text x="380.2" y="47.06" font-size="7.3" text-anchor="middle" fill="#222" font-weight="normal" >5</text>
<line x1="419.6" y1="138.2" x2="419.6" y2="140.4" stroke="#333" stroke-width="1" />
<line x1="482.5" y1="138.2" x2="482.5" y2="140.4" stroke="#333" stroke-width="1" />
<text transform="translate(369.8,90) rotate(-90) scale(0.84,1)" x="0" y="2.51" font-size="7" text-anchor="middle" fill="#222" font-weight="bold">CD8:CD4 ratio</text>
<text transform="translate(419.6,148.1)" x="0" y="2.61" font-size="7.3" text-anchor="middle" fill="#222" font-weight="normal">IL-7</text>
<text transform="translate(419.6,157.3)" x="0" y="2.61" font-size="7.3" text-anchor="middle" fill="#222" font-weight="normal">Cultured</text>
<text transform="translate(482.5,148.1)" x="0" y="2.61" font-size="7.3" text-anchor="middle" fill="#222" font-weight="normal">CD3</text>
<text transform="translate(482.5,157.3)" x="0" y="2.61" font-size="7.3" text-anchor="middle" fill="#222" font-weight="normal">Activated</text>
<line x1="420.4" y1="35.8" x2="489.6" y2="35.8" stroke="#333" stroke-width="1.1" />
<line x1="420.9" y1="35.8" x2="420.9" y2="40.8" stroke="#333" stroke-width="1.1" />
<line x1="489.1" y1="35.8" x2="489.1" y2="40.8" stroke="#333" stroke-width="1.1" />
<line x1="455" y1="30.5" x2="455" y2="35.8" stroke="#777" stroke-width="1" />
<circle cx="455" cy="23.7" r="0.9" fill="#333"/>
<line x1="419.6" y1="120.01" x2="482.5" y2="61.32" stroke="#222" stroke-width="1.15" />
<line x1="419.6" y1="128.45" x2="482.5" y2="80.26" stroke="#222" stroke-width="1.15" />
<line x1="419.6" y1="122.64" x2="482.5" y2="87.39" stroke="#222" stroke-width="1.15" />
<line x1="419.6" y1="122.07" x2="482.5" y2="93.95" stroke="#222" stroke-width="1.15" />
<line x1="419.6" y1="125.07" x2="482.5" y2="102.76" stroke="#222" stroke-width="1.15" />
<line x1="419.6" y1="126.2" x2="482.5" y2="122.26" stroke="#222" stroke-width="1.15" />
<line x1="419.6" y1="132.57" x2="482.5" y2="126.39" stroke="#222" stroke-width="1.15" />
<line x1="419.6" y1="134.45" x2="482.5" y2="133.89" stroke="#222" stroke-width="1.15" />
<line x1="419.6" y1="134.82" x2="482.5" y2="135.2" stroke="#222" stroke-width="1.15" />
<line x1="419.6" y1="134.07" x2="482.5" y2="135.95" stroke="#222" stroke-width="1.15" />
<circle cx="419.6" cy="120.01" r="2.1" fill="#f5961e"/>
<circle cx="419.6" cy="128.45" r="2.1" fill="#f5961e"/>
<circle cx="419.6" cy="122.64" r="2.1" fill="#f5961e"/>
<circle cx="419.6" cy="122.07" r="2.1" fill="#f5961e"/>
<circle cx="419.6" cy="125.07" r="2.1" fill="#f5961e"/>
<circle cx="419.6" cy="126.2" r="2.1" fill="#f5961e"/>
<circle cx="419.6" cy="132.57" r="2.1" fill="#f5961e"/>
<circle cx="419.6" cy="134.45" r="2.1" fill="#f5961e"/>
<circle cx="419.6" cy="134.82" r="2.1" fill="#f5961e"/>
<circle cx="419.6" cy="134.07" r="2.1" fill="#f5961e"/>
<circle cx="419.6" cy="135.39" r="2.1" fill="#f5961e"/>
<circle cx="419.6" cy="133.51" r="2.1" fill="#f5961e"/>
<circle cx="419.6" cy="130.7" r="2.1" fill="#f5961e"/>
<circle cx="419.6" cy="129.39" r="2.1" fill="#f5961e"/>
<circle cx="419.6" cy="127.32" r="2.1" fill="#f5961e"/>
<circle cx="419.6" cy="124.14" r="2.1" fill="#f5961e"/>
<circle cx="419.6" cy="120.95" r="2.1" fill="#f5961e"/>
<circle cx="482.5" cy="61.32" r="2.1" fill="#8c8cc8"/>
<circle cx="482.5" cy="80.26" r="2.1" fill="#8c8cc8"/>
<circle cx="482.5" cy="87.39" r="2.1" fill="#8c8cc8"/>
<circle cx="482.5" cy="93.95" r="2.1" fill="#8c8cc8"/>
<circle cx="482.5" cy="102.76" r="2.1" fill="#8c8cc8"/>
<circle cx="482.5" cy="122.26" r="2.1" fill="#8c8cc8"/>
<circle cx="482.5" cy="126.39" r="2.1" fill="#8c8cc8"/>
<circle cx="482.5" cy="133.89" r="2.1" fill="#8c8cc8"/>
<circle cx="482.5" cy="135.2" r="2.1" fill="#8c8cc8"/>
<circle cx="482.5" cy="135.95" r="2.1" fill="#8c8cc8"/>
<text x="349" y="192.6" font-size="11" text-anchor="start" fill="#111" font-weight="bold" >D</text>
<line x1="387.6" y1="230.8" x2="387.6" y2="316.2" stroke="#333" stroke-width="1.2" />
<line x1="387.6" y1="316.2" x2="513.5" y2="316.2" stroke="#333" stroke-width="1.2" />
<line x1="385.4" y1="316.2" x2="387.6" y2="316.2" stroke="#333" stroke-width="1" />
<text x="381.8" y="318.81" font-size="7.3" text-anchor="end" fill="#222" font-weight="normal" >0</text>
<line x1="385.4" y1="288.33" x2="387.6" y2="288.33" stroke="#333" stroke-width="1" />
<text x="381.8" y="290.95" font-size="7.3" text-anchor="end" fill="#222" font-weight="normal" >20</text>
<line x1="385.4" y1="260.47" x2="387.6" y2="260.47" stroke="#333" stroke-width="1" />
<text x="381.8" y="263.08" font-size="7.3" text-anchor="end" fill="#222" font-weight="normal" >40</text>
<line x1="385.4" y1="232.6" x2="387.6" y2="232.6" stroke="#333" stroke-width="1" />
<text x="381.8" y="235.21" font-size="7.3" text-anchor="end" fill="#222" font-weight="normal" >60</text>
<line x1="419.4" y1="316.2" x2="419.4" y2="318.4" stroke="#333" stroke-width="1" />
<line x1="482.5" y1="316.2" x2="482.5" y2="318.4" stroke="#333" stroke-width="1" />
<text transform="translate(363.3,273.4) rotate(-90) scale(0.87,1)" x="0" y="2.51" font-size="7" text-anchor="middle" fill="#222" font-weight="bold">Percentage of cells (%)</text>
<text transform="translate(419.4,326.7)" x="0" y="2.61" font-size="7.3" text-anchor="middle" fill="#222" font-weight="normal">IL-7</text>
<text transform="translate(419.4,336.1)" x="0" y="2.61" font-size="7.3" text-anchor="middle" fill="#222" font-weight="normal">Cultured</text>
<text transform="translate(482.5,326.7)" x="0" y="2.61" font-size="7.3" text-anchor="middle" fill="#222" font-weight="normal">CD3</text>
<text transform="translate(482.5,336.1)" x="0" y="2.61" font-size="7.3" text-anchor="middle" fill="#222" font-weight="normal">Activated</text>
<text x="449.8" y="221.4" font-size="9.2" text-anchor="middle" fill="#222">T<tspan font-size="6.6" dy="1.9">SCM</tspan></text>
<line x1="419.9" y1="351.8" x2="482" y2="351.8" stroke="#333" stroke-width="1.1" />
<line x1="420.4" y1="346.3" x2="420.4" y2="351.8" stroke="#333" stroke-width="1.1" />
<line x1="481.5" y1="346.3" x2="481.5" y2="351.8" stroke="#333" stroke-width="1.1" />
<line x1="450.2" y1="351.8" x2="450.2" y2="356.8" stroke="#777" stroke-width="1" />
<circle cx="450.2" cy="363.1" r="0.9" fill="#333"/>
<line x1="419.4" y1="242.21" x2="482.5" y2="303.94" stroke="#222" stroke-width="1.15" />
<line x1="419.4" y1="266.32" x2="482.5" y2="306.31" stroke="#222" stroke-width="1.15" />
<line x1="419.4" y1="284.43" x2="482.5" y2="309.93" stroke="#222" stroke-width="1.15" />
<line x1="419.4" y1="288.61" x2="482.5" y2="312.02" stroke="#222" stroke-width="1.15" />
<line x1="419.4" y1="299.9" x2="482.5" y2="315.22" stroke="#222" stroke-width="1.15" />
<circle cx="419.4" cy="242.21" r="2.1" fill="#f5961e"/>
<circle cx="419.4" cy="266.32" r="2.1" fill="#f5961e"/>
<circle cx="419.4" cy="284.43" r="2.1" fill="#f5961e"/>
<circle cx="419.4" cy="288.61" r="2.1" fill="#f5961e"/>
<circle cx="419.4" cy="299.9" r="2.1" fill="#f5961e"/>
<circle cx="482.5" cy="292.23" r="2.1" fill="#8c8cc8"/>
<circle cx="482.5" cy="303.94" r="2.1" fill="#8c8cc8"/>
<circle cx="482.5" cy="306.31" r="2.1" fill="#8c8cc8"/>
<circle cx="482.5" cy="309.93" r="2.1" fill="#8c8cc8"/>
<circle cx="482.5" cy="315.22" r="2.1" fill="#8c8cc8"/>
<line x1="387.6" y1="411.5" x2="387.6" y2="497.3" stroke="#333" stroke-width="1.2" />
<line x1="387.6" y1="497.3" x2="513.5" y2="497.3" stroke="#333" stroke-width="1.2" />
<line x1="385.4" y1="497.3" x2="387.6" y2="497.3" stroke="#333" stroke-width="1" />
<text x="381.8" y="499.91" font-size="7.3" text-anchor="end" fill="#222" font-weight="normal" >0</text>
<line x1="385.4" y1="469.3" x2="387.6" y2="469.3" stroke="#333" stroke-width="1" />
<text x="381.8" y="471.91" font-size="7.3" text-anchor="end" fill="#222" font-weight="normal" >20</text>
<line x1="385.4" y1="441.3" x2="387.6" y2="441.3" stroke="#333" stroke-width="1" />
<text x="381.8" y="443.91" font-size="7.3" text-anchor="end" fill="#222" font-weight="normal" >40</text>
<line x1="385.4" y1="413.3" x2="387.6" y2="413.3" stroke="#333" stroke-width="1" />
<text x="381.8" y="415.91" font-size="7.3" text-anchor="end" fill="#222" font-weight="normal" >60</text>
<line x1="419.4" y1="497.3" x2="419.4" y2="499.5" stroke="#333" stroke-width="1" />
<line x1="482.5" y1="497.3" x2="482.5" y2="499.5" stroke="#333" stroke-width="1" />
<text transform="translate(363.3,454.3) rotate(-90) scale(0.87,1)" x="0" y="2.51" font-size="7" text-anchor="middle" fill="#222" font-weight="bold">Percentage of cells (%)</text>
<text transform="translate(419.4,507.8)" x="0" y="2.61" font-size="7.3" text-anchor="middle" fill="#222" font-weight="normal">IL-7</text>
<text transform="translate(419.4,517.2)" x="0" y="2.61" font-size="7.3" text-anchor="middle" fill="#222" font-weight="normal">Cultured</text>
<text transform="translate(482.5,507.8)" x="0" y="2.61" font-size="7.3" text-anchor="middle" fill="#222" font-weight="normal">CD3</text>
<text transform="translate(482.5,517.2)" x="0" y="2.61" font-size="7.3" text-anchor="middle" fill="#222" font-weight="normal">Activated</text>
<text x="449.8" y="402.1" font-size="9.2" text-anchor="middle" fill="#222">T<tspan font-size="6.6" dy="1.9">EFF</tspan></text>
<line x1="419.9" y1="532.7" x2="482" y2="532.7" stroke="#333" stroke-width="1.1" />
<line x1="420.4" y1="527.2" x2="420.4" y2="532.7" stroke="#333" stroke-width="1.1" />
<line x1="481.5" y1="527.2" x2="481.5" y2="532.7" stroke="#333" stroke-width="1.1" />
<line x1="450.2" y1="532.7" x2="450.2" y2="537.7" stroke="#777" stroke-width="1" />
<circle cx="450.2" cy="544" r="0.9" fill="#333"/>
<line x1="419.4" y1="458.52" x2="482.5" y2="425.9" stroke="#222" stroke-width="1.15" />
<line x1="419.4" y1="461.46" x2="482.5" y2="442.42" stroke="#222" stroke-width="1.15" />
<line x1="419.4" y1="479.38" x2="482.5" y2="462.86" stroke="#222" stroke-width="1.15" />
<line x1="419.4" y1="486.94" x2="482.5" y2="459.22" stroke="#222" stroke-width="1.15" />
<line x1="419.4" y1="490.16" x2="482.5" y2="456.7" stroke="#222" stroke-width="1.15" />
<circle cx="419.4" cy="458.52" r="2.1" fill="#f5961e"/>
<circle cx="419.4" cy="461.46" r="2.1" fill="#f5961e"/>
<circle cx="419.4" cy="479.38" r="2.1" fill="#f5961e"/>
<circle cx="419.4" cy="486.94" r="2.1" fill="#f5961e"/>
<circle cx="419.4" cy="490.16" r="2.1" fill="#f5961e"/>
<circle cx="482.5" cy="425.9" r="2.1" fill="#8c8cc8"/>
<circle cx="482.5" cy="442.42" r="2.1" fill="#8c8cc8"/>
<circle cx="482.5" cy="456.7" r="2.1" fill="#8c8cc8"/>
<circle cx="482.5" cy="459.22" r="2.1" fill="#8c8cc8"/>
<circle cx="482.5" cy="462.86" r="2.1" fill="#8c8cc8"/>
<text x="6.7" y="192.9" font-size="11" text-anchor="start" fill="#111" font-weight="bold" >C</text>
<line x1="46.2" y1="202" x2="46.2" y2="572.9" stroke="#555" stroke-width="1.3" />
<polygon points="46.2,198.8 43.9,204.3 48.5,204.3" fill="#333"/>
<line x1="46.2" y1="572.9" x2="169" y2="572.9" stroke="#555" stroke-width="1.3" />
<polygon points="173.6,572.9 168.1,570.6 168.1,575.2" fill="#333"/>
<line x1="205" y1="202" x2="205" y2="573" stroke="#888" stroke-width="1.5" />
<polygon points="205,198.8 202.7,204.3 207.3,204.3" fill="#333"/>
<line x1="205" y1="573" x2="329" y2="573" stroke="#777" stroke-width="1.3" />
<polygon points="333.8,573 328.3,570.7 328.3,575.3" fill="#333"/>
<text transform="translate(22.3,250.7) rotate(-90)" x="0" y="3.22" font-size="9" text-anchor="middle" fill="#222" font-weight="normal">Starting Material</text>
<text transform="translate(22.3,379.5) rotate(-90)" x="0" y="3.22" font-size="9" text-anchor="middle" fill="#222" font-weight="normal">IL-7 Cultured</text>
<text transform="translate(22.3,508) rotate(-90)" x="0" y="3.22" font-size="9" text-anchor="middle" fill="#222" font-weight="normal">CD3 Activated</text>
<text transform="translate(37.6,386.5) rotate(-90) scale(0.7,1)" x="0" y="3.04" font-size="8.5" text-anchor="middle" fill="#222" font-weight="bold">CD62L</text>
<text transform="translate(109.5,580.7) scale(0.7,1)" x="0" y="3.04" font-size="8.5" text-anchor="middle" fill="#222" font-weight="bold">CD45RA</text>
<text transform="translate(196.6,386.4) rotate(-90) scale(0.68,1)" x="0" y="3.04" font-size="8.5" text-anchor="middle" fill="#222" font-weight="bold">CCR7</text>
<text transform="translate(268.3,580.7) scale(0.68,1)" x="0" y="3.04" font-size="8.5" text-anchor="middle" fill="#222" font-weight="bold">CD95</text>
<path fill="#6c64a8" fill-opacity="0.38" d="M134 208h1v1h-1zM133 200h1v1h-1zM116 211h1v1h-1zM140 204h1v1h-1zM117 214h1v1h-1zM134 203h1v1h-1zM103 202h1v1h-1zM124 211h1v1h-1zM130 211h1v1h-1zM106 210h1v1h-1zM114 204h1v1h-1zM111 213h1v1h-1zM137 203h1v1h-1zM108 207h1v1h-1zM131 206h1v1h-1zM153 208h1v1h-1zM129 213h1v1h-1zM90 207h1v1h-1zM125 212h1v1h-1zM143 212h1v1h-1zM116 202h1v1h-1zM144 205h1v1h-1zM134 208h1v1h-1zM131 207h1v1h-1zM117 211h1v1h-1zM112 202h1v1h-1zM117 212h1v1h-1zM123 212h1v1h-1zM133 209h1v1h-1zM131 204h1v1h-1zM116 209h1v1h-1zM124 207h1v1h-1zM130 212h1v1h-1zM90 209h1v1h-1zM107 212h1v1h-1zM106 208h1v1h-1zM118 215h1v1h-1zM117 200h1v1h-1zM117 205h1v1h-1zM105 211h1v1h-1zM136 203h1v1h-1zM128 212h1v1h-1zM89 204h1v1h-1zM123 210h1v1h-1zM100 206h1v1h-1zM156 208h1v1h-1zM113 210h1v1h-1zM114 209h1v1h-1zM124 208h1v1h-1zM118 218h1v1h-1zM121 209h1v1h-1zM153 205h1v1h-1zM127 213h1v1h-1zM139 213h1v1h-1zM145 214h1v1h-1zM103 216h1v1h-1zM156 206h1v1h-1zM136 214h1v1h-1zM141 214h1v1h-1zM105 209h1v1h-1zM139 210h1v1h-1zM112 207h1v1h-1zM168 216h1v1h-1zM134 202h1v1h-1zM118 207h1v1h-1zM126 210h1v1h-1zM141 212h1v1h-1zM145 216h1v1h-1zM134 202h1v1h-1zM147 209h1v1h-1zM152 213h1v1h-1zM98 204h1v1h-1zM113 209h1v1h-1zM104 217h1v1h-1zM124 215h1v1h-1zM151 211h1v1h-1zM101 209h1v1h-1zM117 211h1v1h-1zM143 208h1v1h-1zM112 209h1v1h-1zM120 222h1v1h-1zM128 208h1v1h-1zM86 205h1v1h-1zM138 210h1v1h-1zM129 208h1v1h-1zM134 208h1v1h-1zM103 209h1v1h-1zM107 212h1v1h-1zM110 210h1v1h-1zM127 204h1v1h-1zM124 209h1v1h-1zM125 211h1v1h-1zM158 207h1v1h-1zM149 214h1v1h-1zM108 212h1v1h-1zM109 205h1v1h-1zM157 211h1v1h-1zM116 217h1v1h-1zM150 216h1v1h-1zM154 209h1v1h-1zM112 213h1v1h-1zM117 207h1v1h-1zM124 204h1v1h-1zM105 212h1v1h-1zM103 210h1v1h-1zM114 211h1v1h-1zM139 209h1v1h-1zM113 211h1v1h-1zM118 207h1v1h-1zM113 211h1v1h-1zM95 213h1v1h-1zM152 209h1v1h-1zM76 213h1v1h-1zM109 202h1v1h-1zM134 206h1v1h-1zM94 215h1v1h-1zM134 216h1v1h-1zM147 210h1v1h-1zM105 209h1v1h-1zM127 204h1v1h-1zM100 211h1v1h-1zM133 212h1v1h-1zM124 203h1v1h-1zM127 212h1v1h-1zM150 211h1v1h-1zM132 211h1v1h-1zM149 205h1v1h-1zM135 211h1v1h-1zM98 203h1v1h-1zM128 215h1v1h-1zM132 210h1v1h-1zM93 205h1v1h-1zM149 215h1v1h-1zM124 214h1v1h-1zM130 207h1v1h-1zM104 218h1v1h-1zM124 205h1v1h-1zM128 211h1v1h-1zM116 214h1v1h-1zM124 200h1v1h-1zM80 213h1v1h-1zM150 209h1v1h-1zM100 209h1v1h-1zM79 205h1v1h-1zM103 211h1v1h-1zM106 205h1v1h-1zM133 205h1v1h-1zM104 208h1v1h-1zM128 204h1v1h-1zM103 216h1v1h-1zM167 204h1v1h-1zM133 206h1v1h-1zM161 208h1v1h-1zM102 209h1v1h-1zM136 212h1v1h-1zM103 213h1v1h-1zM134 208h1v1h-1zM136 208h1v1h-1zM90 209h1v1h-1zM100 213h1v1h-1zM99 212h1v1h-1zM92 207h1v1h-1zM108 201h1v1h-1zM103 218h1v1h-1zM93 213h1v1h-1zM124 210h1v1h-1zM133 211h1v1h-1zM96 207h1v1h-1zM111 205h1v1h-1zM122 208h1v1h-1zM118 208h1v1h-1zM108 207h1v1h-1zM138 203h1v1h-1zM139 208h1v1h-1zM136 212h1v1h-1zM118 207h1v1h-1zM162 209h1v1h-1zM157 201h1v1h-1zM114 208h1v1h-1zM120 209h1v1h-1zM146 204h1v1h-1zM106 202h1v1h-1zM130 211h1v1h-1zM123 206h1v1h-1zM108 211h1v1h-1zM118 208h1v1h-1zM91 212h1v1h-1zM111 208h1v1h-1zM82 203h1v1h-1zM168 209h1v1h-1zM152 208h1v1h-1zM147 212h1v1h-1zM128 207h1v1h-1zM142 208h1v1h-1zM148 213h1v1h-1zM142 214h1v1h-1zM141 212h1v1h-1zM104 213h1v1h-1zM131 211h1v1h-1zM111 212h1v1h-1zM99 213h1v1h-1zM99 211h1v1h-1zM131 210h1v1h-1zM143 210h1v1h-1zM95 219h1v1h-1zM157 209h1v1h-1zM151 208h1v1h-1zM114 208h1v1h-1zM113 209h1v1h-1zM121 210h1v1h-1zM142 205h1v1h-1zM114 201h1v1h-1zM100 210h1v1h-1zM129 203h1v1h-1zM81 210h1v1h-1zM125 210h1v1h-1zM145 214h1v1h-1zM128 216h1v1h-1zM138 211h1v1h-1zM132 207h1v1h-1zM137 205h1v1h-1zM125 206h1v1h-1zM105 209h1v1h-1zM118 201h1v1h-1zM121 210h1v1h-1zM147 209h1v1h-1zM155 212h1v1h-1zM130 208h1v1h-1zM107 210h1v1h-1zM107 206h1v1h-1zM118 207h1v1h-1zM150 202h1v1h-1zM129 210h1v1h-1zM121 215h1v1h-1zM107 210h1v1h-1zM140 211h1v1h-1zM128 205h1v1h-1zM121 215h1v1h-1zM124 206h1v1h-1zM156 213h1v1h-1zM119 210h1v1h-1zM156 205h1v1h-1zM147 213h1v1h-1zM123 209h1v1h-1zM140 210h1v1h-1zM120 211h1v1h-1zM105 209h1v1h-1zM117 208h1v1h-1zM104 211h1v1h-1zM132 208h1v1h-1zM122 210h1v1h-1zM133 207h1v1h-1zM139 203h1v1h-1zM128 207h1v1h-1zM86 209h1v1h-1zM125 214h1v1h-1zM104 203h1v1h-1zM124 210h1v1h-1zM149 200h1v1h-1zM88 205h1v1h-1zM126 207h1v1h-1zM120 200h1v1h-1zM84 202h1v1h-1zM135 210h1v1h-1zM123 210h1v1h-1zM112 209h1v1h-1zM108 206h1v1h-1zM114 209h1v1h-1zM86 206h1v1h-1zM103 216h1v1h-1zM115 212h1v1h-1zM114 208h1v1h-1zM120 214h1v1h-1zM101 210h1v1h-1zM133 212h1v1h-1zM112 210h1v1h-1zM95 205h1v1h-1zM106 213h1v1h-1zM114 210h1v1h-1zM139 205h1v1h-1zM132 206h1v1h-1zM115 213h1v1h-1zM122 208h1v1h-1zM126 209h1v1h-1zM163 212h1v1h-1zM110 210h1v1h-1zM131 203h1v1h-1zM137 212h1v1h-1zM103 213h1v1h-1zM126 213h1v1h-1zM125 216h1v1h-1zM113 211h1v1h-1zM133 212h1v1h-1zM143 216h1v1h-1zM145 208h1v1h-1zM118 216h1v1h-1zM126 216h1v1h-1zM169 212h1v1h-1zM100 217h1v1h-1zM126 213h1v1h-1zM140 206h1v1h-1zM125 214h1v1h-1zM135 211h1v1h-1zM125 211h1v1h-1zM137 210h1v1h-1zM148 215h1v1h-1zM118 212h1v1h-1zM126 207h1v1h-1zM121 211h1v1h-1zM114 212h1v1h-1zM122 206h1v1h-1zM99 208h1v1h-1zM137 208h1v1h-1zM156 207h1v1h-1zM156 211h1v1h-1zM148 213h1v1h-1zM103 217h1v1h-1zM152 214h1v1h-1zM108 213h1v1h-1zM121 214h1v1h-1zM159 215h1v1h-1zM101 208h1v1h-1zM139 212h1v1h-1zM128 211h1v1h-1zM119 209h1v1h-1zM104 207h1v1h-1zM130 207h1v1h-1zM113 208h1v1h-1zM143 204h1v1h-1zM146 211h1v1h-1zM94 209h1v1h-1zM112 210h1v1h-1zM116 211h1v1h-1zM98 212h1v1h-1zM100 207h1v1h-1zM124 209h1v1h-1zM118 203h1v1h-1zM89 200h1v1h-1zM111 202h1v1h-1zM132 215h1v1h-1zM98 202h1v1h-1zM104 211h1v1h-1zM154 215h1v1h-1zM148 207h1v1h-1zM90 216h1v1h-1zM95 217h1v1h-1zM130 213h1v1h-1zM98 219h1v1h-1zM117 212h1v1h-1zM113 206h1v1h-1zM133 211h1v1h-1zM78 204h1v1h-1zM97 204h1v1h-1zM142 219h1v1h-1zM119 207h1v1h-1zM88 209h1v1h-1zM132 207h1v1h-1zM136 210h1v1h-1zM117 208h1v1h-1zM115 208h1v1h-1zM131 204h1v1h-1zM146 204h1v1h-1zM125 206h1v1h-1zM133 211h1v1h-1zM121 218h1v1h-1zM114 214h1v1h-1zM104 217h1v1h-1zM127 211h1v1h-1zM116 209h1v1h-1zM117 204h1v1h-1zM141 209h1v1h-1zM132 201h1v1h-1zM139 208h1v1h-1zM90 216h1v1h-1zM133 211h1v1h-1zM110 214h1v1h-1zM106 208h1v1h-1zM105 204h1v1h-1zM146 207h1v1h-1zM139 208h1v1h-1zM108 214h1v1h-1zM99 217h1v1h-1zM122 206h1v1h-1zM113 208h1v1h-1zM155 209h1v1h-1zM93 208h1v1h-1zM85 204h1v1h-1zM117 210h1v1h-1zM122 211h1v1h-1zM125 211h1v1h-1zM137 205h1v1h-1zM163 209h1v1h-1zM115 202h1v1h-1zM111 213h1v1h-1zM87 205h1v1h-1zM127 208h1v1h-1zM139 208h1v1h-1zM117 207h1v1h-1zM146 205h1v1h-1zM123 202h1v1h-1zM152 216h1v1h-1zM129 210h1v1h-1zM101 210h1v1h-1zM109 218h1v1h-1zM91 209h1v1h-1zM87 212h1v1h-1zM127 210h1v1h-1zM139 214h1v1h-1zM161 211h1v1h-1zM121 211h1v1h-1zM117 208h1v1h-1zM100 211h1v1h-1zM142 214h1v1h-1zM130 201h1v1h-1zM110 209h1v1h-1zM136 208h1v1h-1zM133 208h1v1h-1zM85 202h1v1h-1zM137 212h1v1h-1zM125 206h1v1h-1zM114 209h1v1h-1zM114 207h1v1h-1zM157 203h1v1h-1zM153 208h1v1h-1zM159 202h1v1h-1zM99 206h1v1h-1zM109 208h1v1h-1zM140 209h1v1h-1zM98 210h1v1h-1zM108 209h1v1h-1zM86 218h1v1h-1zM159 211h1v1h-1zM143 205h1v1h-1zM131 207h1v1h-1zM126 207h1v1h-1zM114 209h1v1h-1zM114 207h1v1h-1zM134 206h1v1h-1zM108 216h1v1h-1zM147 210h1v1h-1zM112 208h1v1h-1zM105 208h1v1h-1zM148 209h1v1h-1zM119 215h1v1h-1zM133 211h1v1h-1zM270 221h1v1h-1zM273 244h1v1h-1zM264 237h1v1h-1zM266 217h1v1h-1zM263 215h1v1h-1zM270 223h1v1h-1zM265 231h1v1h-1zM262 233h1v1h-1zM271 226h1v1h-1zM270 217h1v1h-1zM263 231h1v1h-1zM271 234h1v1h-1zM267 229h1v1h-1zM276 225h1v1h-1zM273 234h1v1h-1zM264 229h1v1h-1zM265 220h1v1h-1zM263 230h1v1h-1zM267 219h1v1h-1zM266 237h1v1h-1zM269 233h1v1h-1zM266 221h1v1h-1zM260 231h1v1h-1zM263 239h1v1h-1zM271 212h1v1h-1zM270 228h1v1h-1zM265 242h1v1h-1zM265 217h1v1h-1zM265 228h1v1h-1zM266 218h1v1h-1zM260 229h1v1h-1zM269 210h1v1h-1zM263 216h1v1h-1zM267 225h1v1h-1zM256 230h1v1h-1zM267 232h1v1h-1zM271 232h1v1h-1zM257 238h1v1h-1zM272 235h1v1h-1zM268 235h1v1h-1zM263 221h1v1h-1zM260 228h1v1h-1zM270 254h1v1h-1zM267 247h1v1h-1zM268 236h1v1h-1zM265 235h1v1h-1zM263 237h1v1h-1zM269 226h1v1h-1zM262 244h1v1h-1zM269 226h1v1h-1zM260 228h1v1h-1zM262 246h1v1h-1zM260 213h1v1h-1zM271 232h1v1h-1zM259 216h1v1h-1zM262 224h1v1h-1zM269 228h1v1h-1zM267 226h1v1h-1zM274 230h1v1h-1zM273 223h1v1h-1zM268 228h1v1h-1zM269 220h1v1h-1zM259 226h1v1h-1zM263 218h1v1h-1zM265 234h1v1h-1zM265 219h1v1h-1zM261 235h1v1h-1zM262 226h1v1h-1zM263 227h1v1h-1zM270 238h1v1h-1zM268 230h1v1h-1zM265 214h1v1h-1zM265 233h1v1h-1zM267 206h1v1h-1zM263 231h1v1h-1zM265 226h1v1h-1zM259 218h1v1h-1zM269 230h1v1h-1zM270 227h1v1h-1zM267 245h1v1h-1zM268 226h1v1h-1zM267 244h1v1h-1zM274 240h1v1h-1zM267 224h1v1h-1zM261 223h1v1h-1zM262 240h1v1h-1zM269 228h1v1h-1zM270 230h1v1h-1zM269 227h1v1h-1zM269 219h1v1h-1zM267 226h1v1h-1zM260 221h1v1h-1zM263 217h1v1h-1zM259 227h1v1h-1zM265 243h1v1h-1zM261 242h1v1h-1zM266 229h1v1h-1zM265 230h1v1h-1zM259 233h1v1h-1zM269 240h1v1h-1zM269 232h1v1h-1zM261 225h1v1h-1zM267 226h1v1h-1zM269 238h1v1h-1zM265 250h1v1h-1zM269 224h1v1h-1zM267 213h1v1h-1zM270 236h1v1h-1zM267 228h1v1h-1zM265 230h1v1h-1zM268 239h1v1h-1zM269 230h1v1h-1zM267 219h1v1h-1zM264 213h1v1h-1zM263 229h1v1h-1zM265 220h1v1h-1zM264 231h1v1h-1zM267 219h1v1h-1zM267 226h1v1h-1zM266 217h1v1h-1zM266 226h1v1h-1zM267 226h1v1h-1zM272 234h1v1h-1zM271 240h1v1h-1zM264 228h1v1h-1zM268 222h1v1h-1zM265 245h1v1h-1zM266 232h1v1h-1zM265 234h1v1h-1zM264 234h1v1h-1zM261 241h1v1h-1zM256 237h1v1h-1zM267 234h1v1h-1zM270 235h1v1h-1zM262 222h1v1h-1zM268 224h1v1h-1zM264 228h1v1h-1zM267 230h1v1h-1zM263 229h1v1h-1zM265 232h1v1h-1zM266 229h1v1h-1zM257 226h1v1h-1zM267 216h1v1h-1zM265 236h1v1h-1zM256 234h1v1h-1zM268 222h1v1h-1zM266 233h1v1h-1zM267 232h1v1h-1zM267 230h1v1h-1zM264 214h1v1h-1zM262 219h1v1h-1zM264 224h1v1h-1zM264 242h1v1h-1zM274 222h1v1h-1zM273 226h1v1h-1zM264 220h1v1h-1zM264 225h1v1h-1zM267 232h1v1h-1zM268 213h1v1h-1zM263 206h1v1h-1zM269 249h1v1h-1zM269 263h1v1h-1zM273 246h1v1h-1zM276 245h1v1h-1zM269 239h1v1h-1zM269 236h1v1h-1zM272 239h1v1h-1zM276 260h1v1h-1zM267 270h1v1h-1zM272 240h1v1h-1zM269 252h1v1h-1zM269 251h1v1h-1zM273 236h1v1h-1zM267 240h1v1h-1zM266 236h1v1h-1zM273 238h1v1h-1zM270 243h1v1h-1zM269 245h1v1h-1zM269 244h1v1h-1zM272 245h1v1h-1zM268 254h1v1h-1zM273 236h1v1h-1zM272 259h1v1h-1zM276 239h1v1h-1zM275 248h1v1h-1zM273 252h1v1h-1zM269 236h1v1h-1zM270 239h1v1h-1zM267 256h1v1h-1zM281 238h1v1h-1zM269 258h1v1h-1zM272 258h1v1h-1zM275 247h1v1h-1zM264 247h1v1h-1zM267 261h1v1h-1zM268 252h1v1h-1zM266 236h1v1h-1zM265 249h1v1h-1zM268 255h1v1h-1zM275 250h1v1h-1zM273 250h1v1h-1zM270 245h1v1h-1zM270 245h1v1h-1zM263 236h1v1h-1zM273 238h1v1h-1zM272 263h1v1h-1zM266 238h1v1h-1zM271 250h1v1h-1zM269 239h1v1h-1zM268 249h1v1h-1zM266 235h1v1h-1zM267 288h1v1h-1zM266 236h1v1h-1zM272 236h1v1h-1zM271 260h1v1h-1zM271 263h1v1h-1zM269 242h1v1h-1zM268 250h1v1h-1zM278 259h1v1h-1zM262 237h1v1h-1zM275 256h1v1h-1zM271 240h1v1h-1zM270 236h1v1h-1zM268 242h1v1h-1zM269 240h1v1h-1zM265 238h1v1h-1zM264 278h1v1h-1zM269 241h1v1h-1zM263 237h1v1h-1zM273 259h1v1h-1zM274 246h1v1h-1zM256 265h1v1h-1zM264 243h1v1h-1zM271 252h1v1h-1zM271 248h1v1h-1zM270 249h1v1h-1zM272 244h1v1h-1zM273 245h1v1h-1zM273 270h1v1h-1zM277 237h1v1h-1zM270 239h1v1h-1zM273 242h1v1h-1zM263 255h1v1h-1zM269 252h1v1h-1zM265 260h1v1h-1zM275 238h1v1h-1zM279 250h1v1h-1zM272 244h1v1h-1zM265 243h1v1h-1zM269 249h1v1h-1zM270 241h1v1h-1zM271 251h1v1h-1zM274 249h1v1h-1zM274 238h1v1h-1zM259 246h1v1h-1zM275 268h1v1h-1zM268 242h1v1h-1zM268 255h1v1h-1zM276 244h1v1h-1zM269 236h1v1h-1zM264 236h1v1h-1zM265 241h1v1h-1zM270 265h1v1h-1zM274 258h1v1h-1zM276 237h1v1h-1zM269 261h1v1h-1zM268 245h1v1h-1zM276 237h1v1h-1zM268 253h1v1h-1zM276 236h1v1h-1zM271 239h1v1h-1zM271 265h1v1h-1zM269 240h1v1h-1zM271 254h1v1h-1zM268 239h1v1h-1zM267 246h1v1h-1zM269 244h1v1h-1zM267 241h1v1h-1zM271 242h1v1h-1zM270 245h1v1h-1zM269 246h1v1h-1zM269 236h1v1h-1zM269 246h1v1h-1zM277 261h1v1h-1zM270 237h1v1h-1zM268 250h1v1h-1zM269 237h1v1h-1zM273 252h1v1h-1zM269 256h1v1h-1zM269 281h1v1h-1zM269 259h1v1h-1zM271 253h1v1h-1zM271 266h1v1h-1zM272 236h1v1h-1zM263 262h1v1h-1zM266 239h1v1h-1zM259 238h1v1h-1zM273 262h1v1h-1zM274 250h1v1h-1zM275 265h1v1h-1zM282 256h1v1h-1zM279 265h1v1h-1zM296 215h1v1h-1zM273 261h1v1h-1zM266 211h1v1h-1zM269 230h1v1h-1zM278 269h1v1h-1zM299 249h1v1h-1zM286 274h1v1h-1zM287 270h1v1h-1zM276 239h1v1h-1zM273 229h1v1h-1zM297 224h1v1h-1zM275 212h1v1h-1zM261 259h1v1h-1zM290 266h1v1h-1zM264 213h1v1h-1zM273 244h1v1h-1zM283 267h1v1h-1zM292 254h1v1h-1zM255 238h1v1h-1zM284 276h1v1h-1zM261 239h1v1h-1zM283 231h1v1h-1zM282 244h1v1h-1zM278 234h1v1h-1zM274 237h1v1h-1zM279 244h1v1h-1zM298 215h1v1h-1zM271 252h1v1h-1zM276 250h1v1h-1zM262 259h1v1h-1zM272 226h1v1h-1zM257 212h1v1h-1zM296 259h1v1h-1zM271 235h1v1h-1zM297 251h1v1h-1zM261 228h1v1h-1zM285 234h1v1h-1zM282 228h1v1h-1z"/>
<path fill="#564e90" fill-opacity="0.45" d="M147 204h1v1h-1zM113 208h1v1h-1zM141 206h1v1h-1zM147 211h1v1h-1zM154 207h1v1h-1zM139 215h1v1h-1zM125 210h1v1h-1zM143 207h1v1h-1zM133 208h1v1h-1zM124 206h1v1h-1zM133 211h1v1h-1zM147 214h1v1h-1zM148 209h1v1h-1zM144 212h1v1h-1zM130 207h1v1h-1zM158 210h1v1h-1zM129 216h1v1h-1zM138 205h1v1h-1zM127 213h1v1h-1zM149 213h1v1h-1zM142 204h1v1h-1zM145 205h1v1h-1zM139 207h1v1h-1zM138 212h1v1h-1zM140 208h1v1h-1zM123 209h1v1h-1zM146 212h1v1h-1zM146 210h1v1h-1zM135 210h1v1h-1zM138 209h1v1h-1zM141 213h1v1h-1zM151 207h1v1h-1zM142 215h1v1h-1zM139 209h1v1h-1zM134 207h1v1h-1zM126 211h1v1h-1zM134 211h1v1h-1zM139 204h1v1h-1zM136 210h1v1h-1zM139 205h1v1h-1zM144 207h1v1h-1zM142 212h1v1h-1zM141 207h1v1h-1zM144 211h1v1h-1zM140 208h1v1h-1zM138 215h1v1h-1zM142 209h1v1h-1zM125 206h1v1h-1zM148 206h1v1h-1zM128 207h1v1h-1zM145 210h1v1h-1zM138 210h1v1h-1zM147 212h1v1h-1zM139 210h1v1h-1zM131 210h1v1h-1zM147 210h1v1h-1zM140 209h1v1h-1zM139 210h1v1h-1zM139 212h1v1h-1zM146 212h1v1h-1zM145 208h1v1h-1zM140 204h1v1h-1zM126 207h1v1h-1zM135 210h1v1h-1zM139 202h1v1h-1zM153 208h1v1h-1zM141 211h1v1h-1zM138 208h1v1h-1zM148 206h1v1h-1zM138 215h1v1h-1zM138 214h1v1h-1zM140 209h1v1h-1zM126 213h1v1h-1zM146 213h1v1h-1zM142 206h1v1h-1zM136 218h1v1h-1zM129 207h1v1h-1zM140 209h1v1h-1zM150 206h1v1h-1zM133 210h1v1h-1zM130 206h1v1h-1zM142 209h1v1h-1zM126 213h1v1h-1zM121 210h1v1h-1zM135 209h1v1h-1zM133 214h1v1h-1zM136 207h1v1h-1zM134 212h1v1h-1zM141 209h1v1h-1zM137 210h1v1h-1zM134 210h1v1h-1zM135 210h1v1h-1zM144 209h1v1h-1zM146 207h1v1h-1zM146 208h1v1h-1zM144 211h1v1h-1zM112 209h1v1h-1zM130 206h1v1h-1zM136 207h1v1h-1zM140 207h1v1h-1zM126 209h1v1h-1zM150 210h1v1h-1zM141 210h1v1h-1zM134 207h1v1h-1zM140 209h1v1h-1zM136 205h1v1h-1zM132 201h1v1h-1zM143 209h1v1h-1zM135 204h1v1h-1zM127 207h1v1h-1zM133 206h1v1h-1zM138 211h1v1h-1zM130 206h1v1h-1zM149 210h1v1h-1zM130 208h1v1h-1zM153 206h1v1h-1zM146 205h1v1h-1zM131 211h1v1h-1zM140 211h1v1h-1zM148 212h1v1h-1zM137 215h1v1h-1zM129 210h1v1h-1zM139 210h1v1h-1zM154 209h1v1h-1zM127 210h1v1h-1zM143 208h1v1h-1zM139 207h1v1h-1zM138 215h1v1h-1zM135 204h1v1h-1zM136 210h1v1h-1zM147 211h1v1h-1zM143 210h1v1h-1zM131 206h1v1h-1zM151 209h1v1h-1zM128 208h1v1h-1zM144 206h1v1h-1zM140 209h1v1h-1zM148 208h1v1h-1zM141 208h1v1h-1zM147 211h1v1h-1zM138 206h1v1h-1zM146 211h1v1h-1zM141 207h1v1h-1zM156 211h1v1h-1zM133 210h1v1h-1zM148 210h1v1h-1zM142 206h1v1h-1zM140 207h1v1h-1zM134 207h1v1h-1zM142 210h1v1h-1zM127 212h1v1h-1zM128 213h1v1h-1zM144 208h1v1h-1zM126 210h1v1h-1zM150 204h1v1h-1zM136 203h1v1h-1zM141 207h1v1h-1zM139 207h1v1h-1zM142 205h1v1h-1zM136 204h1v1h-1zM136 211h1v1h-1zM138 207h1v1h-1zM147 204h1v1h-1zM148 216h1v1h-1zM149 210h1v1h-1zM142 208h1v1h-1zM137 211h1v1h-1zM125 207h1v1h-1zM144 214h1v1h-1zM145 205h1v1h-1zM135 205h1v1h-1zM145 209h1v1h-1zM149 207h1v1h-1zM139 213h1v1h-1zM147 204h1v1h-1zM141 207h1v1h-1zM125 210h1v1h-1zM135 211h1v1h-1zM135 212h1v1h-1zM143 210h1v1h-1zM132 216h1v1h-1zM135 208h1v1h-1zM131 210h1v1h-1zM138 212h1v1h-1zM139 208h1v1h-1zM146 208h1v1h-1zM145 208h1v1h-1zM140 207h1v1h-1zM141 206h1v1h-1zM139 208h1v1h-1zM140 205h1v1h-1zM151 210h1v1h-1zM119 204h1v1h-1zM137 215h1v1h-1zM141 214h1v1h-1zM148 212h1v1h-1zM130 209h1v1h-1zM141 207h1v1h-1zM146 213h1v1h-1zM135 210h1v1h-1zM267 233h1v1h-1zM265 222h1v1h-1zM263 228h1v1h-1zM268 227h1v1h-1zM268 227h1v1h-1zM259 223h1v1h-1zM264 227h1v1h-1zM268 224h1v1h-1zM263 230h1v1h-1zM264 228h1v1h-1zM268 222h1v1h-1zM264 221h1v1h-1zM261 226h1v1h-1zM263 231h1v1h-1zM261 230h1v1h-1zM267 228h1v1h-1zM260 215h1v1h-1zM268 226h1v1h-1zM260 225h1v1h-1zM265 227h1v1h-1zM261 223h1v1h-1zM264 226h1v1h-1zM268 225h1v1h-1zM268 239h1v1h-1zM269 231h1v1h-1zM265 227h1v1h-1zM265 228h1v1h-1zM266 228h1v1h-1zM267 229h1v1h-1zM264 227h1v1h-1zM268 228h1v1h-1zM266 232h1v1h-1zM268 231h1v1h-1zM266 229h1v1h-1zM267 233h1v1h-1zM263 229h1v1h-1zM264 224h1v1h-1zM261 221h1v1h-1zM264 225h1v1h-1zM264 228h1v1h-1zM267 230h1v1h-1zM261 232h1v1h-1zM275 226h1v1h-1zM265 225h1v1h-1zM269 231h1v1h-1zM268 233h1v1h-1zM257 226h1v1h-1zM264 229h1v1h-1zM269 234h1v1h-1zM258 229h1v1h-1zM267 228h1v1h-1zM262 220h1v1h-1zM264 233h1v1h-1zM266 231h1v1h-1zM259 229h1v1h-1zM266 226h1v1h-1zM263 223h1v1h-1zM263 228h1v1h-1zM267 228h1v1h-1zM275 233h1v1h-1zM266 223h1v1h-1zM267 234h1v1h-1zM265 228h1v1h-1zM263 233h1v1h-1zM266 224h1v1h-1zM269 230h1v1h-1zM265 233h1v1h-1zM268 229h1v1h-1zM264 222h1v1h-1zM272 227h1v1h-1zM260 230h1v1h-1zM267 223h1v1h-1zM267 222h1v1h-1zM266 229h1v1h-1zM262 224h1v1h-1zM261 231h1v1h-1zM264 223h1v1h-1zM265 221h1v1h-1zM261 225h1v1h-1zM262 234h1v1h-1zM267 225h1v1h-1zM268 228h1v1h-1zM263 229h1v1h-1zM263 224h1v1h-1zM263 233h1v1h-1zM272 229h1v1h-1zM266 230h1v1h-1zM265 221h1v1h-1zM268 221h1v1h-1zM272 217h1v1h-1z"/>
<path fill="#7a72b0" fill-opacity="0.3" d="M129 203h1v1h-1zM101 249h1v1h-1zM140 259h1v1h-1zM99 287h1v1h-1zM119 253h1v1h-1zM128 291h1v1h-1zM107 297h1v1h-1zM107 273h1v1h-1zM134 251h1v1h-1zM115 281h1v1h-1zM144 288h1v1h-1zM129 259h1v1h-1zM128 226h1v1h-1zM83 281h1v1h-1zM88 273h1v1h-1zM136 232h1v1h-1zM93 267h1v1h-1zM103 282h1v1h-1zM130 262h1v1h-1zM110 284h1v1h-1zM127 283h1v1h-1zM98 228h1v1h-1zM123 257h1v1h-1zM141 276h1v1h-1zM124 287h1v1h-1zM131 217h1v1h-1zM118 263h1v1h-1zM97 282h1v1h-1zM147 295h1v1h-1zM158 241h1v1h-1zM103 255h1v1h-1zM151 239h1v1h-1zM116 285h1v1h-1zM88 232h1v1h-1zM119 294h1v1h-1zM124 288h1v1h-1zM129 277h1v1h-1zM140 211h1v1h-1zM97 248h1v1h-1zM128 283h1v1h-1zM133 230h1v1h-1zM111 259h1v1h-1zM96 262h1v1h-1zM96 287h1v1h-1zM133 272h1v1h-1zM134 271h1v1h-1zM99 254h1v1h-1zM87 265h1v1h-1zM144 261h1v1h-1zM83 283h1v1h-1zM120 260h1v1h-1zM99 290h1v1h-1zM78 223h1v1h-1zM120 294h1v1h-1zM113 260h1v1h-1zM148 292h1v1h-1zM167 267h1v1h-1zM113 286h1v1h-1zM140 251h1v1h-1zM105 266h1v1h-1zM98 260h1v1h-1zM152 270h1v1h-1zM109 225h1v1h-1zM116 260h1v1h-1zM110 258h1v1h-1zM114 245h1v1h-1zM104 260h1v1h-1zM133 226h1v1h-1zM109 276h1v1h-1zM118 243h1v1h-1zM84 236h1v1h-1zM103 271h1v1h-1zM144 223h1v1h-1zM168 270h1v1h-1zM125 247h1v1h-1zM93 256h1v1h-1zM134 271h1v1h-1zM150 280h1v1h-1zM133 233h1v1h-1zM87 289h1v1h-1zM80 231h1v1h-1zM135 267h1v1h-1zM116 234h1v1h-1zM104 244h1v1h-1zM126 297h1v1h-1zM104 251h1v1h-1zM75 249h1v1h-1zM134 251h1v1h-1zM103 257h1v1h-1zM88 235h1v1h-1zM122 234h1v1h-1zM99 279h1v1h-1zM130 225h1v1h-1zM111 255h1v1h-1zM140 292h1v1h-1zM108 264h1v1h-1zM102 252h1v1h-1zM74 247h1v1h-1zM93 242h1v1h-1zM133 250h1v1h-1zM89 295h1v1h-1zM94 288h1v1h-1zM124 250h1v1h-1zM127 246h1v1h-1zM102 281h1v1h-1zM119 219h1v1h-1zM82 253h1v1h-1zM110 256h1v1h-1zM136 237h1v1h-1zM153 240h1v1h-1zM113 273h1v1h-1zM111 223h1v1h-1zM127 241h1v1h-1zM141 248h1v1h-1zM127 266h1v1h-1zM100 230h1v1h-1zM125 291h1v1h-1zM138 256h1v1h-1zM101 258h1v1h-1zM88 255h1v1h-1zM128 247h1v1h-1zM125 240h1v1h-1zM138 292h1v1h-1zM119 269h1v1h-1zM103 261h1v1h-1zM107 288h1v1h-1zM94 246h1v1h-1zM96 279h1v1h-1zM105 264h1v1h-1zM106 242h1v1h-1zM141 282h1v1h-1zM90 227h1v1h-1zM116 280h1v1h-1zM104 242h1v1h-1zM149 274h1v1h-1zM123 298h1v1h-1zM109 278h1v1h-1zM135 249h1v1h-1zM118 263h1v1h-1zM106 254h1v1h-1zM150 235h1v1h-1zM132 236h1v1h-1zM155 265h1v1h-1zM142 277h1v1h-1zM134 220h1v1h-1zM120 262h1v1h-1zM93 276h1v1h-1zM132 266h1v1h-1zM119 239h1v1h-1zM132 289h1v1h-1zM117 233h1v1h-1zM102 279h1v1h-1zM132 213h1v1h-1zM145 270h1v1h-1zM111 271h1v1h-1zM127 269h1v1h-1zM147 244h1v1h-1zM99 255h1v1h-1zM110 229h1v1h-1zM93 266h1v1h-1zM143 276h1v1h-1zM123 247h1v1h-1zM107 240h1v1h-1zM81 251h1v1h-1zM113 263h1v1h-1zM139 265h1v1h-1zM111 260h1v1h-1zM108 265h1v1h-1zM131 231h1v1h-1zM118 278h1v1h-1zM130 298h1v1h-1zM100 228h1v1h-1zM99 247h1v1h-1zM123 270h1v1h-1zM115 286h1v1h-1zM112 279h1v1h-1zM122 294h1v1h-1zM122 262h1v1h-1zM97 273h1v1h-1zM103 273h1v1h-1zM127 252h1v1h-1zM142 292h1v1h-1zM147 278h1v1h-1zM99 287h1v1h-1zM141 253h1v1h-1zM134 288h1v1h-1zM117 237h1v1h-1zM128 273h1v1h-1zM156 238h1v1h-1zM94 281h1v1h-1zM130 252h1v1h-1zM114 267h1v1h-1zM113 223h1v1h-1zM135 277h1v1h-1zM95 262h1v1h-1zM111 273h1v1h-1zM122 271h1v1h-1zM86 297h1v1h-1zM136 268h1v1h-1zM116 227h1v1h-1zM121 257h1v1h-1zM125 294h1v1h-1zM157 277h1v1h-1zM118 253h1v1h-1zM110 278h1v1h-1zM155 266h1v1h-1zM106 278h1v1h-1zM106 224h1v1h-1zM87 241h1v1h-1zM141 279h1v1h-1zM123 257h1v1h-1zM128 271h1v1h-1zM114 255h1v1h-1zM100 269h1v1h-1zM100 249h1v1h-1zM127 248h1v1h-1zM120 261h1v1h-1zM153 227h1v1h-1zM101 211h1v1h-1zM107 296h1v1h-1zM95 260h1v1h-1zM147 290h1v1h-1zM91 266h1v1h-1zM134 266h1v1h-1zM149 279h1v1h-1zM114 280h1v1h-1zM133 233h1v1h-1zM109 239h1v1h-1zM81 268h1v1h-1zM118 265h1v1h-1zM138 254h1v1h-1zM125 278h1v1h-1zM106 264h1v1h-1zM106 273h1v1h-1zM85 242h1v1h-1zM113 240h1v1h-1zM164 271h1v1h-1zM102 225h1v1h-1zM127 242h1v1h-1zM105 279h1v1h-1zM135 248h1v1h-1zM127 241h1v1h-1zM112 236h1v1h-1zM79 266h1v1h-1zM106 254h1v1h-1zM144 266h1v1h-1zM112 258h1v1h-1zM107 252h1v1h-1zM77 215h1v1h-1zM127 266h1v1h-1zM124 263h1v1h-1zM105 267h1v1h-1zM109 224h1v1h-1zM124 290h1v1h-1zM105 262h1v1h-1zM125 262h1v1h-1zM113 224h1v1h-1zM114 261h1v1h-1zM104 296h1v1h-1zM99 253h1v1h-1zM126 233h1v1h-1zM107 266h1v1h-1zM129 241h1v1h-1zM141 273h1v1h-1zM121 236h1v1h-1zM84 260h1v1h-1zM102 257h1v1h-1zM137 262h1v1h-1zM112 250h1v1h-1zM100 243h1v1h-1zM116 261h1v1h-1zM128 249h1v1h-1zM123 267h1v1h-1zM132 256h1v1h-1zM100 208h1v1h-1zM112 261h1v1h-1zM112 297h1v1h-1zM117 270h1v1h-1zM72 277h1v1h-1zM112 274h1v1h-1zM88 251h1v1h-1zM148 230h1v1h-1zM151 282h1v1h-1zM154 288h1v1h-1zM135 277h1v1h-1zM107 273h1v1h-1zM138 272h1v1h-1zM113 262h1v1h-1zM131 269h1v1h-1zM98 263h1v1h-1zM105 271h1v1h-1zM128 240h1v1h-1zM156 248h1v1h-1zM117 277h1v1h-1zM167 255h1v1h-1zM90 266h1v1h-1zM117 208h1v1h-1zM115 280h1v1h-1zM106 279h1v1h-1zM116 247h1v1h-1zM139 236h1v1h-1zM138 258h1v1h-1zM123 263h1v1h-1zM118 244h1v1h-1zM120 267h1v1h-1zM120 279h1v1h-1zM130 277h1v1h-1zM118 238h1v1h-1zM129 211h1v1h-1zM89 263h1v1h-1zM135 247h1v1h-1zM156 274h1v1h-1zM147 270h1v1h-1zM111 290h1v1h-1zM113 264h1v1h-1zM131 270h1v1h-1zM126 284h1v1h-1zM145 262h1v1h-1zM131 251h1v1h-1zM120 245h1v1h-1zM75 263h1v1h-1zM93 248h1v1h-1zM122 282h1v1h-1zM132 255h1v1h-1zM95 298h1v1h-1zM104 292h1v1h-1zM128 234h1v1h-1zM76 289h1v1h-1zM75 254h1v1h-1zM113 296h1v1h-1zM123 276h1v1h-1zM107 262h1v1h-1zM118 250h1v1h-1zM89 271h1v1h-1zM132 273h1v1h-1zM116 260h1v1h-1zM123 273h1v1h-1zM132 240h1v1h-1zM106 277h1v1h-1zM136 235h1v1h-1zM145 278h1v1h-1zM126 275h1v1h-1zM147 280h1v1h-1zM104 250h1v1h-1zM124 258h1v1h-1zM96 267h1v1h-1zM116 246h1v1h-1zM106 298h1v1h-1zM106 252h1v1h-1zM120 287h1v1h-1zM141 241h1v1h-1zM111 271h1v1h-1zM120 255h1v1h-1zM86 286h1v1h-1zM120 257h1v1h-1zM143 243h1v1h-1zM135 275h1v1h-1zM128 236h1v1h-1zM106 241h1v1h-1zM97 282h1v1h-1zM116 219h1v1h-1zM89 282h1v1h-1zM91 254h1v1h-1zM138 242h1v1h-1zM98 270h1v1h-1zM157 279h1v1h-1zM87 250h1v1h-1zM127 260h1v1h-1zM92 283h1v1h-1zM122 282h1v1h-1zM95 263h1v1h-1zM119 246h1v1h-1zM114 242h1v1h-1zM108 250h1v1h-1zM129 280h1v1h-1zM151 278h1v1h-1zM105 271h1v1h-1zM137 297h1v1h-1zM120 257h1v1h-1zM117 255h1v1h-1zM166 255h1v1h-1zM103 216h1v1h-1zM78 271h1v1h-1zM111 275h1v1h-1zM113 266h1v1h-1zM125 292h1v1h-1zM157 283h1v1h-1zM146 243h1v1h-1zM108 276h1v1h-1zM128 256h1v1h-1zM154 266h1v1h-1zM122 269h1v1h-1zM122 253h1v1h-1zM129 280h1v1h-1zM100 289h1v1h-1zM125 270h1v1h-1zM130 219h1v1h-1zM98 290h1v1h-1zM111 290h1v1h-1zM115 260h1v1h-1zM114 254h1v1h-1zM133 280h1v1h-1zM120 246h1v1h-1zM121 284h1v1h-1zM87 239h1v1h-1zM95 243h1v1h-1zM125 265h1v1h-1zM83 231h1v1h-1zM124 265h1v1h-1zM103 277h1v1h-1zM100 234h1v1h-1zM132 287h1v1h-1zM103 252h1v1h-1zM99 278h1v1h-1zM103 270h1v1h-1zM119 254h1v1h-1zM117 249h1v1h-1zM112 247h1v1h-1zM110 289h1v1h-1zM147 284h1v1h-1zM94 270h1v1h-1zM116 256h1v1h-1zM88 276h1v1h-1zM94 284h1v1h-1zM107 252h1v1h-1zM136 259h1v1h-1zM136 269h1v1h-1zM104 242h1v1h-1zM128 269h1v1h-1zM109 263h1v1h-1zM120 249h1v1h-1zM121 245h1v1h-1zM131 272h1v1h-1zM104 286h1v1h-1zM115 273h1v1h-1zM122 245h1v1h-1zM119 283h1v1h-1zM100 269h1v1h-1zM155 279h1v1h-1zM107 292h1v1h-1zM134 244h1v1h-1zM122 262h1v1h-1zM144 251h1v1h-1zM113 287h1v1h-1zM90 224h1v1h-1zM120 275h1v1h-1zM167 252h1v1h-1zM128 292h1v1h-1zM90 267h1v1h-1zM107 261h1v1h-1zM147 269h1v1h-1zM87 274h1v1h-1zM113 266h1v1h-1zM111 260h1v1h-1zM165 262h1v1h-1zM111 277h1v1h-1zM146 239h1v1h-1zM103 265h1v1h-1zM100 262h1v1h-1zM139 254h1v1h-1zM131 282h1v1h-1zM80 235h1v1h-1zM131 257h1v1h-1zM131 245h1v1h-1zM104 278h1v1h-1zM122 254h1v1h-1zM123 266h1v1h-1zM107 274h1v1h-1zM105 228h1v1h-1zM103 276h1v1h-1zM111 248h1v1h-1zM88 259h1v1h-1zM116 263h1v1h-1zM85 284h1v1h-1zM119 283h1v1h-1zM95 269h1v1h-1zM136 254h1v1h-1zM160 254h1v1h-1zM146 281h1v1h-1zM145 273h1v1h-1zM122 252h1v1h-1zM116 272h1v1h-1zM104 271h1v1h-1zM117 266h1v1h-1zM148 248h1v1h-1zM129 206h1v1h-1zM108 253h1v1h-1zM103 290h1v1h-1zM108 270h1v1h-1zM130 214h1v1h-1zM158 265h1v1h-1zM94 222h1v1h-1zM109 270h1v1h-1zM101 237h1v1h-1zM126 284h1v1h-1zM129 247h1v1h-1zM86 278h1v1h-1zM95 266h1v1h-1zM143 238h1v1h-1zM124 281h1v1h-1zM129 234h1v1h-1zM106 297h1v1h-1zM109 267h1v1h-1zM127 241h1v1h-1zM106 223h1v1h-1zM137 236h1v1h-1zM140 269h1v1h-1zM133 260h1v1h-1zM98 263h1v1h-1zM117 259h1v1h-1zM116 299h1v1h-1zM131 269h1v1h-1zM132 222h1v1h-1zM88 286h1v1h-1zM140 240h1v1h-1zM120 257h1v1h-1zM126 244h1v1h-1zM125 266h1v1h-1zM151 275h1v1h-1zM91 271h1v1h-1zM141 251h1v1h-1zM99 247h1v1h-1zM133 285h1v1h-1zM146 263h1v1h-1zM126 246h1v1h-1zM111 284h1v1h-1zM111 266h1v1h-1zM118 248h1v1h-1zM94 297h1v1h-1zM96 268h1v1h-1zM132 244h1v1h-1zM136 258h1v1h-1zM105 289h1v1h-1zM86 237h1v1h-1zM168 297h1v1h-1zM141 281h1v1h-1zM125 259h1v1h-1zM95 297h1v1h-1zM123 279h1v1h-1zM96 269h1v1h-1zM126 244h1v1h-1zM95 260h1v1h-1zM98 260h1v1h-1zM100 256h1v1h-1zM123 230h1v1h-1zM111 286h1v1h-1zM111 267h1v1h-1zM124 268h1v1h-1zM122 298h1v1h-1zM149 252h1v1h-1zM113 264h1v1h-1zM95 272h1v1h-1zM117 255h1v1h-1zM149 263h1v1h-1zM105 283h1v1h-1zM118 265h1v1h-1zM110 297h1v1h-1zM126 248h1v1h-1zM123 270h1v1h-1zM100 232h1v1h-1zM112 263h1v1h-1zM138 249h1v1h-1zM141 297h1v1h-1zM137 283h1v1h-1zM136 277h1v1h-1zM137 282h1v1h-1zM92 249h1v1h-1zM116 231h1v1h-1zM77 265h1v1h-1zM109 257h1v1h-1zM102 250h1v1h-1zM91 258h1v1h-1zM130 226h1v1h-1zM109 238h1v1h-1zM112 249h1v1h-1zM101 279h1v1h-1zM148 227h1v1h-1zM107 287h1v1h-1zM122 287h1v1h-1zM89 258h1v1h-1zM107 240h1v1h-1zM110 254h1v1h-1zM111 222h1v1h-1zM105 298h1v1h-1zM120 267h1v1h-1zM151 248h1v1h-1zM114 244h1v1h-1zM114 279h1v1h-1zM152 252h1v1h-1zM129 224h1v1h-1zM133 281h1v1h-1zM102 269h1v1h-1zM122 262h1v1h-1zM120 255h1v1h-1zM99 249h1v1h-1zM100 285h1v1h-1zM128 227h1v1h-1zM124 283h1v1h-1zM72 271h1v1h-1zM119 253h1v1h-1zM145 244h1v1h-1zM103 290h1v1h-1zM86 255h1v1h-1zM135 278h1v1h-1zM90 251h1v1h-1zM110 259h1v1h-1zM168 236h1v1h-1zM104 262h1v1h-1zM90 263h1v1h-1zM127 255h1v1h-1zM122 248h1v1h-1zM153 228h1v1h-1zM90 233h1v1h-1zM83 242h1v1h-1zM111 281h1v1h-1zM125 253h1v1h-1zM125 245h1v1h-1zM141 281h1v1h-1zM85 279h1v1h-1zM100 247h1v1h-1zM114 250h1v1h-1zM135 281h1v1h-1zM128 274h1v1h-1zM108 245h1v1h-1zM95 271h1v1h-1zM136 265h1v1h-1zM138 292h1v1h-1zM114 286h1v1h-1zM152 276h1v1h-1zM91 241h1v1h-1zM106 290h1v1h-1zM103 287h1v1h-1zM107 234h1v1h-1zM106 238h1v1h-1zM116 243h1v1h-1zM108 258h1v1h-1zM132 284h1v1h-1zM116 279h1v1h-1zM117 263h1v1h-1zM149 298h1v1h-1zM124 275h1v1h-1zM121 299h1v1h-1zM119 270h1v1h-1zM130 204h1v1h-1zM100 254h1v1h-1zM142 240h1v1h-1zM151 268h1v1h-1zM142 268h1v1h-1zM107 236h1v1h-1zM83 238h1v1h-1zM108 259h1v1h-1zM121 261h1v1h-1zM135 203h1v1h-1zM113 289h1v1h-1zM111 266h1v1h-1zM150 265h1v1h-1zM103 272h1v1h-1zM140 241h1v1h-1zM137 264h1v1h-1zM89 290h1v1h-1zM123 291h1v1h-1zM105 276h1v1h-1zM97 259h1v1h-1zM77 245h1v1h-1zM84 297h1v1h-1zM126 278h1v1h-1zM109 255h1v1h-1zM123 213h1v1h-1zM94 244h1v1h-1zM110 219h1v1h-1zM112 296h1v1h-1zM84 270h1v1h-1zM82 247h1v1h-1zM127 259h1v1h-1zM97 295h1v1h-1zM115 233h1v1h-1zM132 262h1v1h-1zM157 235h1v1h-1zM98 223h1v1h-1zM131 270h1v1h-1zM149 266h1v1h-1zM149 270h1v1h-1zM117 291h1v1h-1zM77 230h1v1h-1zM134 220h1v1h-1zM143 272h1v1h-1zM117 271h1v1h-1zM107 250h1v1h-1zM117 278h1v1h-1zM107 290h1v1h-1zM118 254h1v1h-1zM136 287h1v1h-1zM124 249h1v1h-1zM167 230h1v1h-1zM164 278h1v1h-1zM105 286h1v1h-1zM89 234h1v1h-1zM92 287h1v1h-1zM129 282h1v1h-1zM96 254h1v1h-1zM95 204h1v1h-1zM112 290h1v1h-1zM135 287h1v1h-1zM110 278h1v1h-1zM110 222h1v1h-1zM137 228h1v1h-1zM128 290h1v1h-1zM127 285h1v1h-1zM138 278h1v1h-1zM95 259h1v1h-1zM122 275h1v1h-1zM104 252h1v1h-1zM140 258h1v1h-1zM135 244h1v1h-1zM95 272h1v1h-1zM146 255h1v1h-1zM92 289h1v1h-1zM143 283h1v1h-1zM122 245h1v1h-1zM93 237h1v1h-1zM111 276h1v1h-1zM117 292h1v1h-1zM102 297h1v1h-1zM130 210h1v1h-1zM87 290h1v1h-1zM117 296h1v1h-1zM77 210h1v1h-1zM124 248h1v1h-1zM90 263h1v1h-1zM94 261h1v1h-1zM166 234h1v1h-1zM85 253h1v1h-1zM143 297h1v1h-1zM137 254h1v1h-1zM109 259h1v1h-1zM166 299h1v1h-1zM81 286h1v1h-1zM103 257h1v1h-1zM108 244h1v1h-1zM136 260h1v1h-1zM131 258h1v1h-1zM142 293h1v1h-1zM155 269h1v1h-1zM80 295h1v1h-1zM114 292h1v1h-1zM140 261h1v1h-1zM125 260h1v1h-1zM109 270h1v1h-1zM79 279h1v1h-1zM106 290h1v1h-1zM118 288h1v1h-1zM108 254h1v1h-1zM112 283h1v1h-1zM137 259h1v1h-1zM108 285h1v1h-1zM155 234h1v1h-1zM111 290h1v1h-1zM117 280h1v1h-1zM117 243h1v1h-1zM159 250h1v1h-1zM132 254h1v1h-1zM165 268h1v1h-1zM78 294h1v1h-1zM164 298h1v1h-1zM96 274h1v1h-1zM159 241h1v1h-1zM155 298h1v1h-1zM135 239h1v1h-1zM140 278h1v1h-1zM113 278h1v1h-1zM113 278h1v1h-1zM92 282h1v1h-1zM91 234h1v1h-1zM134 254h1v1h-1zM109 256h1v1h-1zM81 277h1v1h-1zM93 240h1v1h-1zM93 252h1v1h-1zM95 245h1v1h-1zM119 236h1v1h-1zM160 265h1v1h-1zM130 247h1v1h-1zM145 266h1v1h-1zM87 247h1v1h-1zM140 286h1v1h-1zM156 241h1v1h-1zM168 285h1v1h-1zM142 277h1v1h-1zM133 244h1v1h-1zM165 259h1v1h-1zM90 259h1v1h-1zM149 264h1v1h-1zM143 279h1v1h-1zM143 234h1v1h-1zM110 244h1v1h-1zM85 280h1v1h-1zM91 240h1v1h-1zM139 290h1v1h-1zM106 258h1v1h-1zM163 236h1v1h-1zM89 285h1v1h-1zM151 250h1v1h-1zM104 295h1v1h-1zM101 293h1v1h-1zM110 293h1v1h-1zM111 238h1v1h-1zM98 235h1v1h-1zM98 260h1v1h-1zM165 262h1v1h-1zM116 261h1v1h-1zM134 273h1v1h-1zM141 286h1v1h-1zM108 286h1v1h-1zM162 296h1v1h-1zM104 279h1v1h-1zM95 292h1v1h-1zM82 239h1v1h-1zM102 235h1v1h-1zM84 264h1v1h-1zM134 293h1v1h-1zM130 259h1v1h-1zM80 241h1v1h-1zM163 242h1v1h-1zM144 249h1v1h-1zM128 291h1v1h-1zM163 256h1v1h-1zM126 291h1v1h-1zM94 297h1v1h-1zM148 285h1v1h-1zM164 295h1v1h-1zM83 250h1v1h-1zM123 246h1v1h-1zM98 250h1v1h-1zM159 235h1v1h-1zM87 296h1v1h-1zM151 247h1v1h-1zM97 276h1v1h-1zM136 252h1v1h-1zM140 270h1v1h-1zM146 263h1v1h-1zM83 282h1v1h-1zM121 247h1v1h-1zM89 253h1v1h-1zM89 243h1v1h-1zM93 255h1v1h-1zM91 289h1v1h-1zM162 298h1v1h-1zM128 234h1v1h-1zM101 290h1v1h-1zM122 283h1v1h-1zM83 239h1v1h-1zM97 244h1v1h-1zM134 291h1v1h-1zM141 246h1v1h-1zM133 294h1v1h-1zM167 270h1v1h-1zM153 267h1v1h-1zM120 242h1v1h-1zM146 274h1v1h-1zM100 263h1v1h-1zM156 238h1v1h-1zM100 288h1v1h-1zM167 294h1v1h-1zM79 298h1v1h-1zM150 277h1v1h-1zM123 272h1v1h-1zM151 246h1v1h-1zM125 298h1v1h-1zM153 283h1v1h-1zM142 278h1v1h-1zM136 280h1v1h-1zM164 290h1v1h-1zM89 256h1v1h-1zM161 241h1v1h-1zM142 235h1v1h-1zM138 252h1v1h-1zM113 266h1v1h-1zM125 236h1v1h-1zM166 254h1v1h-1zM122 292h1v1h-1zM160 275h1v1h-1zM79 272h1v1h-1zM130 235h1v1h-1zM140 262h1v1h-1zM114 241h1v1h-1zM85 259h1v1h-1zM149 259h1v1h-1zM146 262h1v1h-1zM112 255h1v1h-1zM87 286h1v1h-1zM154 264h1v1h-1zM148 294h1v1h-1zM153 256h1v1h-1zM152 243h1v1h-1zM102 257h1v1h-1zM134 292h1v1h-1zM120 257h1v1h-1zM113 288h1v1h-1zM115 280h1v1h-1zM139 251h1v1h-1zM168 246h1v1h-1zM121 241h1v1h-1zM111 263h1v1h-1zM135 280h1v1h-1zM135 253h1v1h-1zM115 297h1v1h-1zM136 234h1v1h-1zM137 286h1v1h-1zM145 245h1v1h-1zM137 240h1v1h-1zM116 295h1v1h-1zM157 260h1v1h-1zM134 253h1v1h-1zM151 236h1v1h-1zM151 248h1v1h-1zM97 259h1v1h-1zM85 296h1v1h-1zM146 298h1v1h-1zM83 239h1v1h-1zM163 271h1v1h-1zM140 235h1v1h-1zM116 240h1v1h-1zM138 275h1v1h-1zM90 269h1v1h-1zM135 294h1v1h-1zM161 294h1v1h-1zM78 244h1v1h-1zM162 276h1v1h-1zM106 287h1v1h-1zM114 285h1v1h-1zM163 271h1v1h-1zM150 268h1v1h-1zM113 272h1v1h-1zM166 261h1v1h-1zM81 271h1v1h-1zM137 293h1v1h-1zM124 257h1v1h-1zM158 263h1v1h-1zM80 263h1v1h-1zM107 291h1v1h-1zM121 250h1v1h-1zM85 263h1v1h-1zM136 284h1v1h-1zM154 260h1v1h-1zM160 291h1v1h-1zM91 269h1v1h-1zM124 240h1v1h-1zM167 258h1v1h-1zM84 243h1v1h-1zM141 263h1v1h-1zM104 258h1v1h-1zM160 256h1v1h-1zM133 289h1v1h-1zM159 294h1v1h-1zM83 284h1v1h-1zM133 285h1v1h-1zM116 293h1v1h-1zM88 295h1v1h-1zM115 245h1v1h-1zM145 294h1v1h-1zM130 244h1v1h-1zM131 252h1v1h-1zM103 286h1v1h-1zM124 243h1v1h-1zM118 298h1v1h-1zM160 296h1v1h-1zM157 233h1v1h-1zM117 276h1v1h-1zM123 295h1v1h-1zM104 270h1v1h-1zM129 269h1v1h-1zM90 273h1v1h-1zM165 270h1v1h-1z"/>
<ellipse cx="143" cy="209.9" rx="8.5" ry="4.6" fill="url(#g7)" transform="rotate(10,143,209.9)"/>
<ellipse cx="147.3" cy="209.7" rx="3.8" ry="3.4" fill="url(#g8)" transform="rotate(10,147.3,209.7)"/>
<ellipse cx="264.5" cy="228.3" rx="8.8" ry="8.2" fill="url(#g9)"/>
<ellipse cx="264.5" cy="228.3" rx="5.8" ry="5.4" fill="url(#g10)"/>
<rect x="71.3" y="199.3" width="101.2" height="101.1" fill="none" stroke="#8a8a8a" stroke-width="1"/>
<line x1="69.1" y1="208.1" x2="71.3" y2="208.1" stroke="#555" stroke-width="0.9" />
<line x1="69.1" y1="231.9" x2="71.3" y2="231.9" stroke="#555" stroke-width="0.9" />
<line x1="69.1" y1="260.5" x2="71.3" y2="260.5" stroke="#555" stroke-width="0.9" />
<line x1="69.1" y1="277.3" x2="71.3" y2="277.3" stroke="#555" stroke-width="0.9" />
<line x1="69.1" y1="292.7" x2="71.3" y2="292.7" stroke="#555" stroke-width="0.9" />
<line x1="70.1" y1="202.3" x2="71.3" y2="202.3" stroke="#888" stroke-width="0.6" />
<line x1="70.1" y1="209.62" x2="71.3" y2="209.62" stroke="#888" stroke-width="0.6" />
<line x1="70.1" y1="216.93" x2="71.3" y2="216.93" stroke="#888" stroke-width="0.6" />
<line x1="70.1" y1="224.25" x2="71.3" y2="224.25" stroke="#888" stroke-width="0.6" />
<line x1="70.1" y1="231.56" x2="71.3" y2="231.56" stroke="#888" stroke-width="0.6" />
<line x1="70.1" y1="238.88" x2="71.3" y2="238.88" stroke="#888" stroke-width="0.6" />
<line x1="70.1" y1="246.19" x2="71.3" y2="246.19" stroke="#888" stroke-width="0.6" />
<line x1="70.1" y1="253.51" x2="71.3" y2="253.51" stroke="#888" stroke-width="0.6" />
<line x1="70.1" y1="260.82" x2="71.3" y2="260.82" stroke="#888" stroke-width="0.6" />
<line x1="70.1" y1="268.14" x2="71.3" y2="268.14" stroke="#888" stroke-width="0.6" />
<line x1="70.1" y1="275.45" x2="71.3" y2="275.45" stroke="#888" stroke-width="0.6" />
<line x1="70.1" y1="282.77" x2="71.3" y2="282.77" stroke="#888" stroke-width="0.6" />
<line x1="70.1" y1="290.08" x2="71.3" y2="290.08" stroke="#888" stroke-width="0.6" />
<line x1="70.1" y1="297.4" x2="71.3" y2="297.4" stroke="#888" stroke-width="0.6" />
<line x1="78.6" y1="300.4" x2="78.6" y2="302.6" stroke="#555" stroke-width="0.9" />
<line x1="95.8" y1="300.4" x2="95.8" y2="302.6" stroke="#555" stroke-width="0.9" />
<line x1="110.6" y1="300.4" x2="110.6" y2="302.6" stroke="#555" stroke-width="0.9" />
<line x1="138.8" y1="300.4" x2="138.8" y2="302.6" stroke="#555" stroke-width="0.9" />
<line x1="160.8" y1="300.4" x2="160.8" y2="302.6" stroke="#555" stroke-width="0.9" />
<line x1="74.3" y1="300.4" x2="74.3" y2="301.6" stroke="#888" stroke-width="0.6" />
<line x1="80.65" y1="300.4" x2="80.65" y2="301.6" stroke="#888" stroke-width="0.6" />
<line x1="86.99" y1="300.4" x2="86.99" y2="301.6" stroke="#888" stroke-width="0.6" />
<line x1="93.34" y1="300.4" x2="93.34" y2="301.6" stroke="#888" stroke-width="0.6" />
<line x1="99.69" y1="300.4" x2="99.69" y2="301.6" stroke="#888" stroke-width="0.6" />
<line x1="106.03" y1="300.4" x2="106.03" y2="301.6" stroke="#888" stroke-width="0.6" />
<line x1="112.38" y1="300.4" x2="112.38" y2="301.6" stroke="#888" stroke-width="0.6" />
<line x1="118.73" y1="300.4" x2="118.73" y2="301.6" stroke="#888" stroke-width="0.6" />
<line x1="125.07" y1="300.4" x2="125.07" y2="301.6" stroke="#888" stroke-width="0.6" />
<line x1="131.42" y1="300.4" x2="131.42" y2="301.6" stroke="#888" stroke-width="0.6" />
<line x1="137.77" y1="300.4" x2="137.77" y2="301.6" stroke="#888" stroke-width="0.6" />
<line x1="144.11" y1="300.4" x2="144.11" y2="301.6" stroke="#888" stroke-width="0.6" />
<line x1="150.46" y1="300.4" x2="150.46" y2="301.6" stroke="#888" stroke-width="0.6" />
<line x1="156.81" y1="300.4" x2="156.81" y2="301.6" stroke="#888" stroke-width="0.6" />
<line x1="163.15" y1="300.4" x2="163.15" y2="301.6" stroke="#888" stroke-width="0.6" />
<line x1="169.5" y1="300.4" x2="169.5" y2="301.6" stroke="#888" stroke-width="0.6" />
<rect x="230.8" y="199.3" width="100.2" height="101.1" fill="none" stroke="#8a8a8a" stroke-width="1"/>
<line x1="228.6" y1="208.9" x2="230.8" y2="208.9" stroke="#555" stroke-width="0.9" />
<line x1="228.6" y1="232.7" x2="230.8" y2="232.7" stroke="#555" stroke-width="0.9" />
<line x1="228.6" y1="260.5" x2="230.8" y2="260.5" stroke="#555" stroke-width="0.9" />
<line x1="228.6" y1="276.9" x2="230.8" y2="276.9" stroke="#555" stroke-width="0.9" />
<line x1="228.6" y1="292.9" x2="230.8" y2="292.9" stroke="#555" stroke-width="0.9" />
<line x1="229.6" y1="202.3" x2="230.8" y2="202.3" stroke="#888" stroke-width="0.6" />
<line x1="229.6" y1="209.62" x2="230.8" y2="209.62" stroke="#888" stroke-width="0.6" />
<line x1="229.6" y1="216.93" x2="230.8" y2="216.93" stroke="#888" stroke-width="0.6" />
<line x1="229.6" y1="224.25" x2="230.8" y2="224.25" stroke="#888" stroke-width="0.6" />
<line x1="229.6" y1="231.56" x2="230.8" y2="231.56" stroke="#888" stroke-width="0.6" />
<line x1="229.6" y1="238.88" x2="230.8" y2="238.88" stroke="#888" stroke-width="0.6" />
<line x1="229.6" y1="246.19" x2="230.8" y2="246.19" stroke="#888" stroke-width="0.6" />
<line x1="229.6" y1="253.51" x2="230.8" y2="253.51" stroke="#888" stroke-width="0.6" />
<line x1="229.6" y1="260.82" x2="230.8" y2="260.82" stroke="#888" stroke-width="0.6" />
<line x1="229.6" y1="268.14" x2="230.8" y2="268.14" stroke="#888" stroke-width="0.6" />
<line x1="229.6" y1="275.45" x2="230.8" y2="275.45" stroke="#888" stroke-width="0.6" />
<line x1="229.6" y1="282.77" x2="230.8" y2="282.77" stroke="#888" stroke-width="0.6" />
<line x1="229.6" y1="290.08" x2="230.8" y2="290.08" stroke="#888" stroke-width="0.6" />
<line x1="229.6" y1="297.4" x2="230.8" y2="297.4" stroke="#888" stroke-width="0.6" />
<line x1="235" y1="300.4" x2="235" y2="302.6" stroke="#555" stroke-width="0.9" />
<line x1="254.1" y1="300.4" x2="254.1" y2="302.6" stroke="#555" stroke-width="0.9" />
<line x1="269.7" y1="300.4" x2="269.7" y2="302.6" stroke="#555" stroke-width="0.9" />
<line x1="296" y1="300.4" x2="296" y2="302.6" stroke="#555" stroke-width="0.9" />
<line x1="322" y1="300.4" x2="322" y2="302.6" stroke="#555" stroke-width="0.9" />
<line x1="233.8" y1="300.4" x2="233.8" y2="301.6" stroke="#888" stroke-width="0.6" />
<line x1="240.08" y1="300.4" x2="240.08" y2="301.6" stroke="#888" stroke-width="0.6" />
<line x1="246.36" y1="300.4" x2="246.36" y2="301.6" stroke="#888" stroke-width="0.6" />
<line x1="252.64" y1="300.4" x2="252.64" y2="301.6" stroke="#888" stroke-width="0.6" />
<line x1="258.92" y1="300.4" x2="258.92" y2="301.6" stroke="#888" stroke-width="0.6" />
<line x1="265.2" y1="300.4" x2="265.2" y2="301.6" stroke="#888" stroke-width="0.6" />
<line x1="271.48" y1="300.4" x2="271.48" y2="301.6" stroke="#888" stroke-width="0.6" />
<line x1="277.76" y1="300.4" x2="277.76" y2="301.6" stroke="#888" stroke-width="0.6" />
<line x1="284.04" y1="300.4" x2="284.04" y2="301.6" stroke="#888" stroke-width="0.6" />
<line x1="290.32" y1="300.4" x2="290.32" y2="301.6" stroke="#888" stroke-width="0.6" />
<line x1="296.6" y1="300.4" x2="296.6" y2="301.6" stroke="#888" stroke-width="0.6" />
<line x1="302.88" y1="300.4" x2="302.88" y2="301.6" stroke="#888" stroke-width="0.6" />
<line x1="309.16" y1="300.4" x2="309.16" y2="301.6" stroke="#888" stroke-width="0.6" />
<line x1="315.44" y1="300.4" x2="315.44" y2="301.6" stroke="#888" stroke-width="0.6" />
<line x1="321.72" y1="300.4" x2="321.72" y2="301.6" stroke="#888" stroke-width="0.6" />
<line x1="328" y1="300.4" x2="328" y2="301.6" stroke="#888" stroke-width="0.6" />
<text x="65.6" y="210.79" font-size="7.5" text-anchor="end" fill="#222" font-weight="normal" >10<tspan font-size="4.9" dy="-2.7">5</tspan></text>
<text x="65.6" y="234.59" font-size="7.5" text-anchor="end" fill="#222" font-weight="normal" >10<tspan font-size="4.9" dy="-2.7">4</tspan></text>
<text x="65.6" y="263.19" font-size="7.5" text-anchor="end" fill="#222" font-weight="normal" >10<tspan font-size="4.9" dy="-2.7">3</tspan></text>
<text x="65.6" y="279.99" font-size="7.5" text-anchor="end" fill="#222" font-weight="normal" >0</text>
<text x="65.6" y="295.39" font-size="7.5" text-anchor="end" fill="#222" font-weight="normal" >&#8722;10<tspan font-size="4.9" dy="-2.7">3</tspan></text>
<text x="224.8" y="211.59" font-size="7.5" text-anchor="end" fill="#222" font-weight="normal" >10<tspan font-size="4.9" dy="-2.7">5</tspan></text>
<text x="224.8" y="235.39" font-size="7.5" text-anchor="end" fill="#222" font-weight="normal" >10<tspan font-size="4.9" dy="-2.7">4</tspan></text>
<text x="224.8" y="263.19" font-size="7.5" text-anchor="end" fill="#222" font-weight="normal" >10<tspan font-size="4.9" dy="-2.7">3</tspan></text>
<text x="224.8" y="279.58" font-size="7.5" text-anchor="end" fill="#222" font-weight="normal" >0</text>
<text x="224.8" y="295.58" font-size="7.5" text-anchor="end" fill="#222" font-weight="normal" >&#8722;10<tspan font-size="4.9" dy="-2.7">3</tspan></text>
<text x="78.6" y="313.48" font-size="7.5" text-anchor="middle" fill="#222" font-weight="normal" >&#8722;10<tspan font-size="4.9" dy="-2.7">3</tspan></text>
<text x="95.8" y="313.48" font-size="7.5" text-anchor="middle" fill="#222" font-weight="normal" >0</text>
<text x="110.6" y="313.48" font-size="7.5" text-anchor="middle" fill="#222" font-weight="normal" >10<tspan font-size="4.9" dy="-2.7">3</tspan></text>
<text x="138.8" y="313.48" font-size="7.5" text-anchor="middle" fill="#222" font-weight="normal" >10<tspan font-size="4.9" dy="-2.7">4</tspan></text>
<text x="160.8" y="313.48" font-size="7.5" text-anchor="middle" fill="#222" font-weight="normal" >10<tspan font-size="4.9" dy="-2.7">5</tspan></text>
<text x="235" y="313.48" font-size="7.5" text-anchor="middle" fill="#222" font-weight="normal" >&#8722;10<tspan font-size="4.9" dy="-2.7">3</tspan></text>
<text x="254.1" y="313.48" font-size="7.5" text-anchor="middle" fill="#222" font-weight="normal" >0</text>
<text x="269.7" y="313.48" font-size="7.5" text-anchor="middle" fill="#222" font-weight="normal" >10<tspan font-size="4.9" dy="-2.7">3</tspan></text>
<text x="296" y="313.48" font-size="7.5" text-anchor="middle" fill="#222" font-weight="normal" >10<tspan font-size="4.9" dy="-2.7">4</tspan></text>
<text x="322" y="313.48" font-size="7.5" text-anchor="middle" fill="#222" font-weight="normal" >10<tspan font-size="4.9" dy="-2.7">5</tspan></text>
<line x1="123.1" y1="199.3" x2="123.1" y2="300.4" stroke="#4a4a4a" stroke-width="1.3" />
<line x1="71.3" y1="231.3" x2="172.5" y2="231.3" stroke="#4a4a4a" stroke-width="1.3" />
<rect x="123.1" y="199.5" width="48.8" height="31.8" fill="none" stroke="#d03848" stroke-width="1.2"/>
<polyline points="261.5,199.3 261.5,242.5 330.2,242.5" fill="none" stroke="#666" stroke-width="1.1"/>
<line x1="330.4" y1="199.3" x2="330.4" y2="243" stroke="#2a2a2a" stroke-width="1.5" />
<text x="75.6" y="210.15" font-size="7.4" text-anchor="start" fill="#1a1a1a" font-weight="normal" stroke="#1a1a1a" stroke-width="0.15">13.2</text>
<text x="167.6" y="210.15" font-size="7.4" text-anchor="end" fill="#1a1a1a" font-weight="normal" stroke="#1a1a1a" stroke-width="0.15">66.3</text>
<text x="75.6" y="295.05" font-size="7.4" text-anchor="start" fill="#1a1a1a" font-weight="normal" stroke="#1a1a1a" stroke-width="0.15">9.62</text>
<text x="167.6" y="295.05" font-size="7.4" text-anchor="end" fill="#1a1a1a" font-weight="normal" stroke="#1a1a1a" stroke-width="0.15">10.9</text>
<text x="315.2" y="209.55" font-size="7.4" text-anchor="end" fill="#1a1a1a" font-weight="normal" stroke="#1a1a1a" stroke-width="0.15">83.7</text>
<line x1="173.2" y1="215.2" x2="197" y2="215.2" stroke="#333" stroke-width="1.1" stroke-dasharray="2.6 2"/>
<polygon points="201.6,215.2 196.6,213.2 196.6,217.2" fill="#222"/>
<rect x="69.5" y="276.1" width="1.8" height="3" fill="#111"/>
<rect x="92.8" y="300" width="4.3" height="1.8" fill="#111"/>
<rect x="229" y="275.8" width="1.8" height="3" fill="#111"/>
<rect x="251.8" y="300" width="4.3" height="1.8" fill="#111"/>
<path fill="#6c64a8" fill-opacity="0.38" d="M143 351h1v1h-1zM129 344h1v1h-1zM99 347h1v1h-1zM155 346h1v1h-1zM150 358h1v1h-1zM109 348h1v1h-1zM162 339h1v1h-1zM134 351h1v1h-1zM127 359h1v1h-1zM166 344h1v1h-1zM90 347h1v1h-1zM140 352h1v1h-1zM119 345h1v1h-1zM104 347h1v1h-1zM157 342h1v1h-1zM135 343h1v1h-1zM97 338h1v1h-1zM110 353h1v1h-1zM143 343h1v1h-1zM163 349h1v1h-1zM82 349h1v1h-1zM130 345h1v1h-1zM116 348h1v1h-1zM87 347h1v1h-1zM121 346h1v1h-1zM90 348h1v1h-1zM113 348h1v1h-1zM159 343h1v1h-1zM136 342h1v1h-1zM141 344h1v1h-1zM137 348h1v1h-1zM132 354h1v1h-1zM146 354h1v1h-1zM100 349h1v1h-1zM117 352h1v1h-1zM143 348h1v1h-1zM109 352h1v1h-1zM115 348h1v1h-1zM151 349h1v1h-1zM158 346h1v1h-1zM112 348h1v1h-1zM107 356h1v1h-1zM137 342h1v1h-1zM131 348h1v1h-1zM110 345h1v1h-1zM138 352h1v1h-1zM137 356h1v1h-1zM127 346h1v1h-1zM154 350h1v1h-1zM142 350h1v1h-1zM147 340h1v1h-1zM148 347h1v1h-1zM109 338h1v1h-1zM132 351h1v1h-1zM126 350h1v1h-1zM113 349h1v1h-1zM130 343h1v1h-1zM130 345h1v1h-1zM124 345h1v1h-1zM114 350h1v1h-1zM143 343h1v1h-1zM91 354h1v1h-1zM143 349h1v1h-1zM125 338h1v1h-1zM131 355h1v1h-1zM74 348h1v1h-1zM161 345h1v1h-1zM88 348h1v1h-1zM106 340h1v1h-1zM139 348h1v1h-1zM112 337h1v1h-1zM116 343h1v1h-1zM77 354h1v1h-1zM116 353h1v1h-1zM130 346h1v1h-1zM140 343h1v1h-1zM119 352h1v1h-1zM130 347h1v1h-1zM134 349h1v1h-1zM110 350h1v1h-1zM109 343h1v1h-1zM167 351h1v1h-1zM107 338h1v1h-1zM152 354h1v1h-1zM126 341h1v1h-1zM157 345h1v1h-1zM111 345h1v1h-1zM136 351h1v1h-1zM132 351h1v1h-1zM120 349h1v1h-1zM132 350h1v1h-1zM108 350h1v1h-1zM123 347h1v1h-1zM116 339h1v1h-1zM141 337h1v1h-1zM123 338h1v1h-1zM95 347h1v1h-1zM117 347h1v1h-1zM123 347h1v1h-1zM106 349h1v1h-1zM154 347h1v1h-1zM134 343h1v1h-1zM143 341h1v1h-1zM109 339h1v1h-1zM116 353h1v1h-1zM147 352h1v1h-1zM94 342h1v1h-1zM133 346h1v1h-1zM127 349h1v1h-1zM114 355h1v1h-1zM127 345h1v1h-1zM102 348h1v1h-1zM130 353h1v1h-1zM99 340h1v1h-1zM97 344h1v1h-1zM155 347h1v1h-1zM110 344h1v1h-1zM79 357h1v1h-1zM146 351h1v1h-1zM108 348h1v1h-1zM124 351h1v1h-1zM145 350h1v1h-1zM133 345h1v1h-1zM162 346h1v1h-1zM122 341h1v1h-1zM138 347h1v1h-1zM103 351h1v1h-1zM129 352h1v1h-1zM158 350h1v1h-1zM136 351h1v1h-1zM129 345h1v1h-1zM82 345h1v1h-1zM117 353h1v1h-1zM97 350h1v1h-1zM142 344h1v1h-1zM109 350h1v1h-1zM133 351h1v1h-1zM103 351h1v1h-1zM166 348h1v1h-1zM100 345h1v1h-1zM128 349h1v1h-1zM130 348h1v1h-1zM106 345h1v1h-1zM138 349h1v1h-1zM147 342h1v1h-1zM144 349h1v1h-1zM82 346h1v1h-1zM130 352h1v1h-1zM79 348h1v1h-1zM166 352h1v1h-1zM127 358h1v1h-1zM115 347h1v1h-1zM140 344h1v1h-1zM136 350h1v1h-1zM99 347h1v1h-1zM160 348h1v1h-1zM120 345h1v1h-1zM87 350h1v1h-1zM155 348h1v1h-1zM158 338h1v1h-1zM152 346h1v1h-1zM137 349h1v1h-1zM106 353h1v1h-1zM145 345h1v1h-1zM165 344h1v1h-1zM143 353h1v1h-1zM160 345h1v1h-1zM108 348h1v1h-1zM147 350h1v1h-1zM145 351h1v1h-1zM93 348h1v1h-1zM90 343h1v1h-1zM109 352h1v1h-1zM127 346h1v1h-1zM135 345h1v1h-1zM120 356h1v1h-1zM124 351h1v1h-1zM123 343h1v1h-1zM127 345h1v1h-1zM138 346h1v1h-1zM136 344h1v1h-1zM124 339h1v1h-1zM131 351h1v1h-1zM115 351h1v1h-1zM143 349h1v1h-1zM114 346h1v1h-1zM161 348h1v1h-1zM125 350h1v1h-1zM131 343h1v1h-1zM109 346h1v1h-1zM118 345h1v1h-1zM129 351h1v1h-1zM126 349h1v1h-1zM112 342h1v1h-1zM100 345h1v1h-1zM126 355h1v1h-1zM129 343h1v1h-1zM137 348h1v1h-1zM152 345h1v1h-1zM118 353h1v1h-1zM82 347h1v1h-1zM122 346h1v1h-1zM85 342h1v1h-1zM97 346h1v1h-1zM148 351h1v1h-1zM138 350h1v1h-1zM111 342h1v1h-1zM111 354h1v1h-1zM123 346h1v1h-1zM87 343h1v1h-1zM136 348h1v1h-1zM118 345h1v1h-1zM165 345h1v1h-1zM102 345h1v1h-1zM147 347h1v1h-1zM110 345h1v1h-1zM148 340h1v1h-1zM104 350h1v1h-1zM141 345h1v1h-1zM116 353h1v1h-1zM107 350h1v1h-1zM122 350h1v1h-1zM136 348h1v1h-1zM134 353h1v1h-1zM160 346h1v1h-1zM143 343h1v1h-1zM116 336h1v1h-1zM82 346h1v1h-1zM117 348h1v1h-1zM139 346h1v1h-1zM96 353h1v1h-1zM99 350h1v1h-1zM128 348h1v1h-1zM119 346h1v1h-1zM160 352h1v1h-1zM132 344h1v1h-1zM137 346h1v1h-1zM164 351h1v1h-1zM114 350h1v1h-1zM125 356h1v1h-1zM104 346h1v1h-1zM131 339h1v1h-1zM148 350h1v1h-1zM155 353h1v1h-1zM124 347h1v1h-1zM110 354h1v1h-1zM108 355h1v1h-1zM95 345h1v1h-1zM128 345h1v1h-1zM155 342h1v1h-1zM73 350h1v1h-1zM78 351h1v1h-1zM156 350h1v1h-1zM90 342h1v1h-1zM133 344h1v1h-1zM98 341h1v1h-1zM142 340h1v1h-1zM143 342h1v1h-1zM129 341h1v1h-1zM143 347h1v1h-1zM126 349h1v1h-1zM138 350h1v1h-1zM165 347h1v1h-1zM149 345h1v1h-1zM111 347h1v1h-1zM108 350h1v1h-1zM120 346h1v1h-1zM120 348h1v1h-1zM127 346h1v1h-1zM112 345h1v1h-1zM140 348h1v1h-1zM126 343h1v1h-1zM133 352h1v1h-1zM126 341h1v1h-1zM139 349h1v1h-1zM99 342h1v1h-1zM160 354h1v1h-1zM133 351h1v1h-1zM135 344h1v1h-1zM139 345h1v1h-1zM149 343h1v1h-1zM142 347h1v1h-1zM131 349h1v1h-1zM122 358h1v1h-1zM89 341h1v1h-1zM130 353h1v1h-1zM119 345h1v1h-1zM119 349h1v1h-1zM85 350h1v1h-1zM127 349h1v1h-1zM152 347h1v1h-1zM147 347h1v1h-1zM153 348h1v1h-1zM98 353h1v1h-1zM105 341h1v1h-1zM139 345h1v1h-1zM119 342h1v1h-1zM163 343h1v1h-1zM131 344h1v1h-1zM130 352h1v1h-1zM135 357h1v1h-1zM120 353h1v1h-1zM128 342h1v1h-1zM111 348h1v1h-1zM125 342h1v1h-1zM115 349h1v1h-1zM131 353h1v1h-1zM95 350h1v1h-1zM93 351h1v1h-1zM136 347h1v1h-1zM131 339h1v1h-1zM105 339h1v1h-1zM121 347h1v1h-1zM103 350h1v1h-1zM171 353h1v1h-1zM91 346h1v1h-1zM164 348h1v1h-1zM108 349h1v1h-1zM135 352h1v1h-1zM120 347h1v1h-1zM118 343h1v1h-1zM146 352h1v1h-1zM144 349h1v1h-1zM120 349h1v1h-1zM106 342h1v1h-1zM157 340h1v1h-1zM129 339h1v1h-1zM119 346h1v1h-1zM132 346h1v1h-1zM128 350h1v1h-1zM152 354h1v1h-1zM105 347h1v1h-1zM126 355h1v1h-1zM109 345h1v1h-1zM155 351h1v1h-1zM166 342h1v1h-1zM124 348h1v1h-1zM138 346h1v1h-1zM157 346h1v1h-1zM119 350h1v1h-1zM105 339h1v1h-1zM149 348h1v1h-1zM137 344h1v1h-1zM121 348h1v1h-1zM158 349h1v1h-1zM131 346h1v1h-1zM87 346h1v1h-1zM134 342h1v1h-1zM125 350h1v1h-1zM167 344h1v1h-1zM126 349h1v1h-1zM121 341h1v1h-1zM136 353h1v1h-1zM131 343h1v1h-1zM95 352h1v1h-1zM129 345h1v1h-1zM119 350h1v1h-1zM157 347h1v1h-1zM101 347h1v1h-1zM105 353h1v1h-1zM107 350h1v1h-1zM112 350h1v1h-1zM111 355h1v1h-1zM127 344h1v1h-1zM150 353h1v1h-1zM97 348h1v1h-1zM92 341h1v1h-1zM86 349h1v1h-1zM150 347h1v1h-1zM155 355h1v1h-1zM92 345h1v1h-1zM90 348h1v1h-1zM129 348h1v1h-1zM150 339h1v1h-1zM148 350h1v1h-1zM130 343h1v1h-1zM141 353h1v1h-1zM133 355h1v1h-1zM114 347h1v1h-1zM168 341h1v1h-1zM126 348h1v1h-1zM102 348h1v1h-1zM116 351h1v1h-1zM92 346h1v1h-1zM126 342h1v1h-1zM150 347h1v1h-1zM98 343h1v1h-1zM151 355h1v1h-1zM134 345h1v1h-1zM101 347h1v1h-1zM107 342h1v1h-1zM119 345h1v1h-1zM98 347h1v1h-1zM99 345h1v1h-1zM120 346h1v1h-1zM122 353h1v1h-1zM139 349h1v1h-1zM100 342h1v1h-1zM167 346h1v1h-1zM149 351h1v1h-1zM146 345h1v1h-1zM112 348h1v1h-1zM164 347h1v1h-1zM119 350h1v1h-1zM166 347h1v1h-1zM150 347h1v1h-1zM106 344h1v1h-1zM116 349h1v1h-1zM167 343h1v1h-1zM148 355h1v1h-1zM123 347h1v1h-1zM131 346h1v1h-1zM130 351h1v1h-1zM109 347h1v1h-1zM122 348h1v1h-1zM112 347h1v1h-1zM117 344h1v1h-1zM136 343h1v1h-1zM105 344h1v1h-1zM142 352h1v1h-1zM129 345h1v1h-1zM143 346h1v1h-1zM146 345h1v1h-1zM154 350h1v1h-1zM140 356h1v1h-1zM142 343h1v1h-1zM122 350h1v1h-1zM139 348h1v1h-1zM106 346h1v1h-1zM121 350h1v1h-1zM143 342h1v1h-1zM125 351h1v1h-1zM136 348h1v1h-1zM103 343h1v1h-1zM156 354h1v1h-1zM113 351h1v1h-1zM135 352h1v1h-1zM126 341h1v1h-1zM147 346h1v1h-1zM118 345h1v1h-1zM104 350h1v1h-1zM84 353h1v1h-1zM119 339h1v1h-1zM100 347h1v1h-1zM138 347h1v1h-1zM158 352h1v1h-1zM77 347h1v1h-1zM98 342h1v1h-1zM133 347h1v1h-1zM153 343h1v1h-1zM133 344h1v1h-1zM133 348h1v1h-1zM137 345h1v1h-1zM139 349h1v1h-1zM162 341h1v1h-1zM140 357h1v1h-1zM99 353h1v1h-1zM116 350h1v1h-1zM131 342h1v1h-1zM108 338h1v1h-1zM120 344h1v1h-1zM114 346h1v1h-1zM111 357h1v1h-1zM141 353h1v1h-1zM117 345h1v1h-1zM102 353h1v1h-1zM110 353h1v1h-1zM127 347h1v1h-1zM132 349h1v1h-1zM159 345h1v1h-1zM137 342h1v1h-1zM79 347h1v1h-1zM134 352h1v1h-1zM107 342h1v1h-1zM96 340h1v1h-1zM102 350h1v1h-1zM166 336h1v1h-1zM91 355h1v1h-1zM112 346h1v1h-1zM152 351h1v1h-1zM141 355h1v1h-1zM88 341h1v1h-1zM124 343h1v1h-1zM115 357h1v1h-1zM122 346h1v1h-1zM143 347h1v1h-1zM113 348h1v1h-1zM119 352h1v1h-1zM158 353h1v1h-1zM85 348h1v1h-1zM118 346h1v1h-1zM136 347h1v1h-1zM98 349h1v1h-1zM112 353h1v1h-1zM97 348h1v1h-1zM129 355h1v1h-1zM112 344h1v1h-1zM143 350h1v1h-1zM149 355h1v1h-1zM127 353h1v1h-1zM118 349h1v1h-1zM132 344h1v1h-1zM127 344h1v1h-1zM99 347h1v1h-1zM150 349h1v1h-1zM131 346h1v1h-1zM143 341h1v1h-1zM96 344h1v1h-1zM145 350h1v1h-1zM140 341h1v1h-1zM94 346h1v1h-1zM127 340h1v1h-1zM125 345h1v1h-1zM131 363h1v1h-1zM121 348h1v1h-1zM137 346h1v1h-1zM116 345h1v1h-1zM131 342h1v1h-1zM111 339h1v1h-1zM128 347h1v1h-1zM148 346h1v1h-1zM115 354h1v1h-1zM141 340h1v1h-1zM106 349h1v1h-1zM118 353h1v1h-1zM121 339h1v1h-1zM154 350h1v1h-1zM109 340h1v1h-1zM153 350h1v1h-1zM93 354h1v1h-1zM122 347h1v1h-1zM146 349h1v1h-1zM141 344h1v1h-1zM103 349h1v1h-1zM99 352h1v1h-1zM145 347h1v1h-1zM98 347h1v1h-1zM139 349h1v1h-1zM114 351h1v1h-1zM126 340h1v1h-1zM160 344h1v1h-1zM145 350h1v1h-1zM95 352h1v1h-1zM133 349h1v1h-1zM127 353h1v1h-1zM124 343h1v1h-1zM156 346h1v1h-1zM88 343h1v1h-1zM133 348h1v1h-1zM129 348h1v1h-1zM109 347h1v1h-1zM164 342h1v1h-1zM98 347h1v1h-1zM126 346h1v1h-1zM128 350h1v1h-1zM77 346h1v1h-1zM94 352h1v1h-1zM104 348h1v1h-1zM143 339h1v1h-1zM147 347h1v1h-1zM139 341h1v1h-1zM131 352h1v1h-1zM77 354h1v1h-1zM131 347h1v1h-1zM114 349h1v1h-1zM152 341h1v1h-1zM156 338h1v1h-1zM142 346h1v1h-1zM144 341h1v1h-1zM103 348h1v1h-1zM128 349h1v1h-1zM98 350h1v1h-1zM146 354h1v1h-1zM99 351h1v1h-1zM121 346h1v1h-1zM107 348h1v1h-1zM115 350h1v1h-1zM136 343h1v1h-1zM113 353h1v1h-1zM131 351h1v1h-1zM103 346h1v1h-1zM157 345h1v1h-1zM111 364h1v1h-1zM148 351h1v1h-1zM104 352h1v1h-1zM121 348h1v1h-1zM152 350h1v1h-1zM115 343h1v1h-1zM134 350h1v1h-1zM109 341h1v1h-1zM138 349h1v1h-1zM99 350h1v1h-1zM144 341h1v1h-1zM83 342h1v1h-1zM166 352h1v1h-1zM129 345h1v1h-1zM106 349h1v1h-1zM149 358h1v1h-1zM151 352h1v1h-1zM116 355h1v1h-1zM140 351h1v1h-1zM137 350h1v1h-1zM88 348h1v1h-1zM139 346h1v1h-1zM121 350h1v1h-1zM154 348h1v1h-1zM155 347h1v1h-1zM111 342h1v1h-1zM112 346h1v1h-1zM130 350h1v1h-1zM140 345h1v1h-1zM116 349h1v1h-1zM123 347h1v1h-1zM139 343h1v1h-1zM135 344h1v1h-1zM152 344h1v1h-1zM131 346h1v1h-1zM106 346h1v1h-1zM86 352h1v1h-1zM144 343h1v1h-1zM118 339h1v1h-1zM118 350h1v1h-1zM119 346h1v1h-1zM90 347h1v1h-1zM117 358h1v1h-1zM116 350h1v1h-1zM105 352h1v1h-1zM167 348h1v1h-1zM136 352h1v1h-1zM121 345h1v1h-1zM129 344h1v1h-1zM293 349h1v1h-1zM269 356h1v1h-1zM278 342h1v1h-1zM283 354h1v1h-1zM286 363h1v1h-1zM279 354h1v1h-1zM280 350h1v1h-1zM292 360h1v1h-1zM276 359h1v1h-1zM274 360h1v1h-1zM276 362h1v1h-1zM275 364h1v1h-1zM282 356h1v1h-1zM278 351h1v1h-1zM276 372h1v1h-1zM297 352h1v1h-1zM284 349h1v1h-1zM277 359h1v1h-1zM295 362h1v1h-1zM274 347h1v1h-1zM281 367h1v1h-1zM280 356h1v1h-1zM274 374h1v1h-1zM276 363h1v1h-1zM282 355h1v1h-1zM264 371h1v1h-1zM276 368h1v1h-1zM283 353h1v1h-1zM284 357h1v1h-1zM284 351h1v1h-1zM308 356h1v1h-1zM288 343h1v1h-1zM279 356h1v1h-1zM279 340h1v1h-1zM281 361h1v1h-1zM286 337h1v1h-1zM277 349h1v1h-1zM298 353h1v1h-1zM268 358h1v1h-1zM288 351h1v1h-1zM286 347h1v1h-1zM267 357h1v1h-1zM288 341h1v1h-1zM287 357h1v1h-1zM273 365h1v1h-1zM307 355h1v1h-1zM289 354h1v1h-1zM277 367h1v1h-1zM275 362h1v1h-1zM272 367h1v1h-1zM284 359h1v1h-1zM281 357h1v1h-1zM264 355h1v1h-1zM269 339h1v1h-1zM272 364h1v1h-1zM276 357h1v1h-1zM276 373h1v1h-1zM273 343h1v1h-1zM288 361h1v1h-1zM291 346h1v1h-1zM281 356h1v1h-1zM255 357h1v1h-1zM279 360h1v1h-1zM287 354h1v1h-1zM280 364h1v1h-1zM284 357h1v1h-1zM282 360h1v1h-1zM264 372h1v1h-1zM252 369h1v1h-1zM288 353h1v1h-1zM275 368h1v1h-1zM285 354h1v1h-1zM277 361h1v1h-1zM279 355h1v1h-1zM296 347h1v1h-1zM267 337h1v1h-1zM280 362h1v1h-1zM268 351h1v1h-1zM281 362h1v1h-1zM286 369h1v1h-1zM288 344h1v1h-1zM282 363h1v1h-1zM265 361h1v1h-1zM283 359h1v1h-1zM291 344h1v1h-1zM292 353h1v1h-1zM305 351h1v1h-1zM287 366h1v1h-1zM269 377h1v1h-1zM275 361h1v1h-1zM282 353h1v1h-1zM292 370h1v1h-1zM268 360h1v1h-1zM291 353h1v1h-1zM288 355h1v1h-1zM271 363h1v1h-1zM287 360h1v1h-1zM272 355h1v1h-1zM280 356h1v1h-1zM277 372h1v1h-1zM283 368h1v1h-1zM267 364h1v1h-1zM287 357h1v1h-1zM256 362h1v1h-1zM276 366h1v1h-1zM274 355h1v1h-1zM298 352h1v1h-1zM287 351h1v1h-1zM275 353h1v1h-1zM270 360h1v1h-1zM281 357h1v1h-1zM273 354h1v1h-1zM306 349h1v1h-1zM249 367h1v1h-1zM281 353h1v1h-1zM253 360h1v1h-1zM292 352h1v1h-1zM271 365h1v1h-1zM299 360h1v1h-1zM274 360h1v1h-1zM293 351h1v1h-1zM283 356h1v1h-1zM294 368h1v1h-1zM281 364h1v1h-1zM247 359h1v1h-1zM272 359h1v1h-1zM263 358h1v1h-1zM291 351h1v1h-1zM287 342h1v1h-1zM281 357h1v1h-1zM286 344h1v1h-1zM283 351h1v1h-1zM274 371h1v1h-1zM303 358h1v1h-1zM283 349h1v1h-1zM278 349h1v1h-1zM264 355h1v1h-1zM273 344h1v1h-1zM281 349h1v1h-1zM279 355h1v1h-1zM275 350h1v1h-1zM280 363h1v1h-1zM268 360h1v1h-1zM281 352h1v1h-1zM263 376h1v1h-1zM271 365h1v1h-1zM272 360h1v1h-1zM290 368h1v1h-1zM286 365h1v1h-1zM281 351h1v1h-1zM267 363h1v1h-1zM276 355h1v1h-1zM290 343h1v1h-1zM295 367h1v1h-1zM264 374h1v1h-1zM276 348h1v1h-1zM282 360h1v1h-1zM285 343h1v1h-1zM281 365h1v1h-1zM288 354h1v1h-1zM264 359h1v1h-1zM298 361h1v1h-1zM268 361h1v1h-1zM281 354h1v1h-1zM287 362h1v1h-1zM294 350h1v1h-1zM291 360h1v1h-1zM291 354h1v1h-1zM295 359h1v1h-1zM279 362h1v1h-1zM289 360h1v1h-1zM298 343h1v1h-1zM272 374h1v1h-1zM265 360h1v1h-1zM269 374h1v1h-1zM297 347h1v1h-1zM295 350h1v1h-1zM277 356h1v1h-1zM283 365h1v1h-1zM286 352h1v1h-1zM293 356h1v1h-1zM259 351h1v1h-1zM274 355h1v1h-1zM278 359h1v1h-1zM284 355h1v1h-1zM282 342h1v1h-1zM277 362h1v1h-1zM284 348h1v1h-1zM251 381h1v1h-1zM316 345h1v1h-1zM290 372h1v1h-1zM291 359h1v1h-1zM273 363h1v1h-1zM285 351h1v1h-1zM304 349h1v1h-1zM302 354h1v1h-1zM282 341h1v1h-1zM267 369h1v1h-1zM283 347h1v1h-1zM277 356h1v1h-1zM291 332h1v1h-1zM266 365h1v1h-1zM279 363h1v1h-1zM284 358h1v1h-1zM275 361h1v1h-1zM293 350h1v1h-1zM268 362h1v1h-1zM267 370h1v1h-1zM277 354h1v1h-1zM290 358h1v1h-1zM277 363h1v1h-1zM274 357h1v1h-1zM290 356h1v1h-1zM283 358h1v1h-1zM275 354h1v1h-1zM282 376h1v1h-1zM278 354h1v1h-1zM288 368h1v1h-1zM282 365h1v1h-1zM272 343h1v1h-1zM275 360h1v1h-1zM276 366h1v1h-1zM285 362h1v1h-1zM285 348h1v1h-1zM271 362h1v1h-1zM279 348h1v1h-1zM284 347h1v1h-1zM293 351h1v1h-1zM284 357h1v1h-1zM303 363h1v1h-1zM281 359h1v1h-1zM289 363h1v1h-1zM277 348h1v1h-1zM269 351h1v1h-1zM282 352h1v1h-1zM286 369h1v1h-1zM285 345h1v1h-1zM282 343h1v1h-1zM277 357h1v1h-1zM271 369h1v1h-1zM277 345h1v1h-1zM286 353h1v1h-1zM292 342h1v1h-1zM243 380h1v1h-1zM288 360h1v1h-1zM293 355h1v1h-1zM295 352h1v1h-1zM285 353h1v1h-1zM288 355h1v1h-1zM276 353h1v1h-1zM280 350h1v1h-1zM287 346h1v1h-1zM268 360h1v1h-1zM272 353h1v1h-1zM283 363h1v1h-1zM265 344h1v1h-1zM281 361h1v1h-1zM264 366h1v1h-1zM283 366h1v1h-1zM281 354h1v1h-1zM274 346h1v1h-1zM270 352h1v1h-1zM275 367h1v1h-1zM255 362h1v1h-1zM276 355h1v1h-1zM282 351h1v1h-1zM295 352h1v1h-1zM275 356h1v1h-1zM279 345h1v1h-1zM297 347h1v1h-1zM301 359h1v1h-1zM275 370h1v1h-1zM293 352h1v1h-1zM294 348h1v1h-1zM287 366h1v1h-1zM269 359h1v1h-1zM270 350h1v1h-1zM287 354h1v1h-1zM308 354h1v1h-1zM279 370h1v1h-1zM299 347h1v1h-1zM303 354h1v1h-1zM266 358h1v1h-1zM274 368h1v1h-1zM298 353h1v1h-1zM292 355h1v1h-1zM287 347h1v1h-1zM281 354h1v1h-1zM288 352h1v1h-1zM274 330h1v1h-1zM310 355h1v1h-1zM268 360h1v1h-1zM260 361h1v1h-1zM282 353h1v1h-1zM297 352h1v1h-1zM275 360h1v1h-1zM280 346h1v1h-1zM269 361h1v1h-1zM280 358h1v1h-1zM269 360h1v1h-1zM269 348h1v1h-1zM264 361h1v1h-1zM274 348h1v1h-1zM302 353h1v1h-1zM280 367h1v1h-1zM283 363h1v1h-1zM307 346h1v1h-1zM273 354h1v1h-1zM269 355h1v1h-1zM287 358h1v1h-1zM267 355h1v1h-1zM285 351h1v1h-1zM294 332h1v1h-1zM268 353h1v1h-1zM275 352h1v1h-1zM300 346h1v1h-1zM269 370h1v1h-1zM273 348h1v1h-1zM284 345h1v1h-1zM277 362h1v1h-1zM271 352h1v1h-1zM299 350h1v1h-1zM274 360h1v1h-1zM285 356h1v1h-1zM276 352h1v1h-1zM278 365h1v1h-1zM265 373h1v1h-1zM291 345h1v1h-1zM276 356h1v1h-1zM295 360h1v1h-1zM267 359h1v1h-1zM275 350h1v1h-1zM286 351h1v1h-1zM282 363h1v1h-1zM273 351h1v1h-1zM279 359h1v1h-1zM266 364h1v1h-1zM281 351h1v1h-1zM250 370h1v1h-1zM283 361h1v1h-1zM296 360h1v1h-1zM291 361h1v1h-1zM291 342h1v1h-1zM276 365h1v1h-1zM286 359h1v1h-1zM276 366h1v1h-1zM280 350h1v1h-1zM280 364h1v1h-1zM242 371h1v1h-1zM291 344h1v1h-1zM286 365h1v1h-1zM290 347h1v1h-1zM270 352h1v1h-1zM289 357h1v1h-1zM286 350h1v1h-1zM255 367h1v1h-1zM260 361h1v1h-1zM281 359h1v1h-1zM273 365h1v1h-1zM281 356h1v1h-1zM273 366h1v1h-1zM298 358h1v1h-1zM259 356h1v1h-1zM265 368h1v1h-1zM269 365h1v1h-1zM265 362h1v1h-1zM274 367h1v1h-1zM280 370h1v1h-1zM265 367h1v1h-1zM285 344h1v1h-1zM296 356h1v1h-1zM293 352h1v1h-1zM304 347h1v1h-1zM294 355h1v1h-1zM280 354h1v1h-1zM301 363h1v1h-1zM289 356h1v1h-1zM302 350h1v1h-1zM279 363h1v1h-1zM257 370h1v1h-1zM267 370h1v1h-1zM283 361h1v1h-1zM287 354h1v1h-1zM278 358h1v1h-1zM292 336h1v1h-1zM268 349h1v1h-1zM273 367h1v1h-1zM292 351h1v1h-1zM281 371h1v1h-1zM282 371h1v1h-1zM297 342h1v1h-1zM294 355h1v1h-1zM272 382h1v1h-1zM283 350h1v1h-1zM261 366h1v1h-1zM281 355h1v1h-1zM285 353h1v1h-1zM261 360h1v1h-1zM299 351h1v1h-1zM304 356h1v1h-1zM287 348h1v1h-1zM292 357h1v1h-1zM298 346h1v1h-1zM279 361h1v1h-1zM293 355h1v1h-1zM285 349h1v1h-1zM263 363h1v1h-1zM271 354h1v1h-1zM274 352h1v1h-1zM293 362h1v1h-1zM282 342h1v1h-1zM292 358h1v1h-1zM276 364h1v1h-1zM266 356h1v1h-1zM305 358h1v1h-1zM312 354h1v1h-1zM285 345h1v1h-1zM279 361h1v1h-1zM295 356h1v1h-1zM268 354h1v1h-1zM279 362h1v1h-1zM264 368h1v1h-1zM287 349h1v1h-1zM284 340h1v1h-1zM276 361h1v1h-1zM274 353h1v1h-1zM263 348h1v1h-1zM271 356h1v1h-1zM295 333h1v1h-1zM277 355h1v1h-1zM296 364h1v1h-1zM271 337h1v1h-1zM280 360h1v1h-1zM276 351h1v1h-1zM278 354h1v1h-1zM290 347h1v1h-1zM257 369h1v1h-1zM290 354h1v1h-1zM289 348h1v1h-1zM281 346h1v1h-1zM282 353h1v1h-1zM278 367h1v1h-1zM289 344h1v1h-1zM282 360h1v1h-1zM271 362h1v1h-1zM283 340h1v1h-1zM292 362h1v1h-1zM285 355h1v1h-1zM281 374h1v1h-1zM283 370h1v1h-1zM273 353h1v1h-1zM291 377h1v1h-1zM271 373h1v1h-1zM291 365h1v1h-1zM273 354h1v1h-1zM292 387h1v1h-1zM284 349h1v1h-1zM297 364h1v1h-1zM268 355h1v1h-1zM290 383h1v1h-1zM277 373h1v1h-1zM267 393h1v1h-1zM265 380h1v1h-1zM268 379h1v1h-1zM287 348h1v1h-1zM294 344h1v1h-1zM271 379h1v1h-1zM272 387h1v1h-1zM263 391h1v1h-1zM280 398h1v1h-1zM263 392h1v1h-1zM271 374h1v1h-1zM296 381h1v1h-1zM280 363h1v1h-1zM271 397h1v1h-1zM290 397h1v1h-1zM258 382h1v1h-1zM289 356h1v1h-1zM292 374h1v1h-1zM278 381h1v1h-1zM267 388h1v1h-1zM267 379h1v1h-1zM296 387h1v1h-1zM288 386h1v1h-1zM299 379h1v1h-1zM266 350h1v1h-1zM276 384h1v1h-1zM291 369h1v1h-1zM283 387h1v1h-1zM278 349h1v1h-1zM264 370h1v1h-1zM298 361h1v1h-1zM267 370h1v1h-1zM288 397h1v1h-1zM283 386h1v1h-1zM291 392h1v1h-1zM290 389h1v1h-1zM277 347h1v1h-1zM281 383h1v1h-1zM261 384h1v1h-1zM290 385h1v1h-1zM270 357h1v1h-1zM263 364h1v1h-1zM260 379h1v1h-1zM270 358h1v1h-1zM263 371h1v1h-1zM265 366h1v1h-1zM275 348h1v1h-1zM273 347h1v1h-1zM269 355h1v1h-1zM286 380h1v1h-1zM285 374h1v1h-1zM281 388h1v1h-1zM275 367h1v1h-1zM286 397h1v1h-1zM279 380h1v1h-1zM275 392h1v1h-1zM287 396h1v1h-1zM271 354h1v1h-1zM278 380h1v1h-1zM287 406h1v1h-1zM289 384h1v1h-1zM279 399h1v1h-1zM282 390h1v1h-1zM286 376h1v1h-1zM281 388h1v1h-1zM277 399h1v1h-1zM285 403h1v1h-1zM283 405h1v1h-1zM283 367h1v1h-1zM290 396h1v1h-1zM284 363h1v1h-1zM279 381h1v1h-1zM283 380h1v1h-1zM296 393h1v1h-1zM277 388h1v1h-1zM280 402h1v1h-1zM276 374h1v1h-1zM284 396h1v1h-1zM273 389h1v1h-1zM285 383h1v1h-1zM287 365h1v1h-1zM277 392h1v1h-1zM276 388h1v1h-1zM272 395h1v1h-1zM282 383h1v1h-1zM274 380h1v1h-1zM278 389h1v1h-1zM279 390h1v1h-1zM277 394h1v1h-1zM288 412h1v1h-1zM293 374h1v1h-1zM267 413h1v1h-1zM276 339h1v1h-1zM284 398h1v1h-1zM275 371h1v1h-1zM278 413h1v1h-1zM283 370h1v1h-1zM292 399h1v1h-1zM290 369h1v1h-1zM280 366h1v1h-1zM283 395h1v1h-1zM279 396h1v1h-1zM281 373h1v1h-1zM274 419h1v1h-1zM270 379h1v1h-1zM279 407h1v1h-1zM289 368h1v1h-1zM287 369h1v1h-1zM269 385h1v1h-1z"/>
<path fill="#564e90" fill-opacity="0.45" d="M146 345h1v1h-1zM165 349h1v1h-1zM165 349h1v1h-1zM145 351h1v1h-1zM161 348h1v1h-1zM149 349h1v1h-1zM160 351h1v1h-1zM147 343h1v1h-1zM159 348h1v1h-1zM149 341h1v1h-1zM148 341h1v1h-1zM150 345h1v1h-1zM152 342h1v1h-1zM145 349h1v1h-1zM138 351h1v1h-1zM166 346h1v1h-1zM147 347h1v1h-1zM134 347h1v1h-1zM129 347h1v1h-1zM124 348h1v1h-1zM145 349h1v1h-1zM163 346h1v1h-1zM135 345h1v1h-1zM147 346h1v1h-1zM133 350h1v1h-1zM161 346h1v1h-1zM154 353h1v1h-1zM153 347h1v1h-1zM163 352h1v1h-1zM166 343h1v1h-1zM160 345h1v1h-1zM145 349h1v1h-1zM138 349h1v1h-1zM141 347h1v1h-1zM134 355h1v1h-1zM167 348h1v1h-1zM149 349h1v1h-1zM152 346h1v1h-1zM152 353h1v1h-1zM169 351h1v1h-1zM145 349h1v1h-1zM161 342h1v1h-1zM153 349h1v1h-1zM149 346h1v1h-1zM133 349h1v1h-1zM159 351h1v1h-1zM143 345h1v1h-1zM146 348h1v1h-1zM152 351h1v1h-1zM151 348h1v1h-1zM161 346h1v1h-1zM144 344h1v1h-1zM152 345h1v1h-1zM153 343h1v1h-1zM151 351h1v1h-1zM157 348h1v1h-1zM148 343h1v1h-1zM162 347h1v1h-1zM144 343h1v1h-1zM137 336h1v1h-1zM150 352h1v1h-1zM161 352h1v1h-1zM146 342h1v1h-1zM145 345h1v1h-1zM147 348h1v1h-1zM152 346h1v1h-1zM149 345h1v1h-1zM153 346h1v1h-1zM134 347h1v1h-1zM164 346h1v1h-1zM156 348h1v1h-1zM142 347h1v1h-1zM163 345h1v1h-1zM155 348h1v1h-1zM164 342h1v1h-1zM139 353h1v1h-1zM166 341h1v1h-1zM151 347h1v1h-1zM131 349h1v1h-1zM157 349h1v1h-1zM148 348h1v1h-1zM141 352h1v1h-1zM148 344h1v1h-1zM132 347h1v1h-1zM156 348h1v1h-1zM148 346h1v1h-1zM148 345h1v1h-1zM163 352h1v1h-1zM151 345h1v1h-1zM144 346h1v1h-1zM142 347h1v1h-1zM150 347h1v1h-1zM160 348h1v1h-1zM145 347h1v1h-1zM141 349h1v1h-1zM159 348h1v1h-1zM151 349h1v1h-1zM150 352h1v1h-1zM170 345h1v1h-1zM139 353h1v1h-1zM152 346h1v1h-1zM134 350h1v1h-1zM148 348h1v1h-1zM156 346h1v1h-1zM161 341h1v1h-1zM139 353h1v1h-1zM158 345h1v1h-1zM158 345h1v1h-1zM149 351h1v1h-1zM150 354h1v1h-1zM142 353h1v1h-1zM154 350h1v1h-1zM133 348h1v1h-1zM165 350h1v1h-1zM160 343h1v1h-1zM147 348h1v1h-1zM156 348h1v1h-1zM155 346h1v1h-1zM168 348h1v1h-1zM145 342h1v1h-1zM138 351h1v1h-1zM132 352h1v1h-1zM148 343h1v1h-1zM136 348h1v1h-1zM149 353h1v1h-1zM154 349h1v1h-1zM146 344h1v1h-1zM142 344h1v1h-1zM161 350h1v1h-1zM149 354h1v1h-1zM153 344h1v1h-1zM159 348h1v1h-1zM138 345h1v1h-1zM142 346h1v1h-1zM149 347h1v1h-1zM141 345h1v1h-1zM148 355h1v1h-1zM145 347h1v1h-1zM139 347h1v1h-1zM147 351h1v1h-1zM150 348h1v1h-1zM150 347h1v1h-1zM155 351h1v1h-1zM134 344h1v1h-1zM137 350h1v1h-1zM158 351h1v1h-1zM146 350h1v1h-1zM162 347h1v1h-1zM153 347h1v1h-1zM137 342h1v1h-1zM155 347h1v1h-1zM141 348h1v1h-1zM153 350h1v1h-1zM162 348h1v1h-1zM170 346h1v1h-1zM150 345h1v1h-1zM157 347h1v1h-1zM153 348h1v1h-1zM158 352h1v1h-1zM127 347h1v1h-1zM147 346h1v1h-1zM153 347h1v1h-1zM155 346h1v1h-1zM143 347h1v1h-1zM158 340h1v1h-1zM161 342h1v1h-1zM151 343h1v1h-1zM148 349h1v1h-1zM147 347h1v1h-1zM152 348h1v1h-1zM161 351h1v1h-1zM164 344h1v1h-1zM146 351h1v1h-1zM142 349h1v1h-1zM143 345h1v1h-1zM159 353h1v1h-1zM152 343h1v1h-1zM153 344h1v1h-1zM155 347h1v1h-1zM154 349h1v1h-1zM149 347h1v1h-1zM141 340h1v1h-1zM145 346h1v1h-1zM151 347h1v1h-1zM154 356h1v1h-1zM147 352h1v1h-1zM147 348h1v1h-1zM163 344h1v1h-1zM146 349h1v1h-1zM152 343h1v1h-1zM147 348h1v1h-1zM142 349h1v1h-1zM136 346h1v1h-1zM145 348h1v1h-1zM143 346h1v1h-1zM158 345h1v1h-1zM140 353h1v1h-1zM147 349h1v1h-1zM156 346h1v1h-1zM149 345h1v1h-1zM155 348h1v1h-1zM158 349h1v1h-1zM135 350h1v1h-1zM147 353h1v1h-1zM142 349h1v1h-1zM163 344h1v1h-1zM149 354h1v1h-1zM155 351h1v1h-1zM166 350h1v1h-1zM147 352h1v1h-1zM151 342h1v1h-1zM154 346h1v1h-1zM148 346h1v1h-1zM162 352h1v1h-1zM158 343h1v1h-1zM160 346h1v1h-1zM151 353h1v1h-1zM147 350h1v1h-1zM147 346h1v1h-1zM147 354h1v1h-1zM135 343h1v1h-1zM154 349h1v1h-1zM158 347h1v1h-1zM150 349h1v1h-1zM146 346h1v1h-1zM151 345h1v1h-1zM152 348h1v1h-1zM153 343h1v1h-1zM167 349h1v1h-1zM143 346h1v1h-1zM154 351h1v1h-1zM157 346h1v1h-1zM151 345h1v1h-1zM148 349h1v1h-1zM141 352h1v1h-1zM145 340h1v1h-1zM157 348h1v1h-1zM164 350h1v1h-1zM147 351h1v1h-1zM150 349h1v1h-1zM159 347h1v1h-1zM150 350h1v1h-1zM151 354h1v1h-1zM165 348h1v1h-1zM149 353h1v1h-1zM150 353h1v1h-1zM141 350h1v1h-1zM149 352h1v1h-1zM148 350h1v1h-1zM165 350h1v1h-1zM162 349h1v1h-1zM148 353h1v1h-1zM167 355h1v1h-1zM160 350h1v1h-1zM154 354h1v1h-1zM160 346h1v1h-1zM157 349h1v1h-1zM151 349h1v1h-1zM145 356h1v1h-1zM150 350h1v1h-1zM155 353h1v1h-1zM153 346h1v1h-1zM151 352h1v1h-1zM161 353h1v1h-1zM149 351h1v1h-1zM160 345h1v1h-1zM152 352h1v1h-1zM156 353h1v1h-1zM148 355h1v1h-1zM155 352h1v1h-1zM150 347h1v1h-1zM145 351h1v1h-1zM155 354h1v1h-1zM155 349h1v1h-1zM160 353h1v1h-1zM157 350h1v1h-1zM149 352h1v1h-1zM151 353h1v1h-1zM140 350h1v1h-1zM148 359h1v1h-1zM163 352h1v1h-1zM164 352h1v1h-1zM160 350h1v1h-1zM157 352h1v1h-1zM159 351h1v1h-1zM158 348h1v1h-1zM145 348h1v1h-1zM150 352h1v1h-1zM162 351h1v1h-1zM162 345h1v1h-1zM156 346h1v1h-1zM153 351h1v1h-1zM153 351h1v1h-1zM152 353h1v1h-1zM150 348h1v1h-1zM144 353h1v1h-1zM156 351h1v1h-1zM152 350h1v1h-1zM154 351h1v1h-1zM165 354h1v1h-1zM159 353h1v1h-1zM151 354h1v1h-1zM158 350h1v1h-1zM146 351h1v1h-1zM161 348h1v1h-1zM157 350h1v1h-1zM154 350h1v1h-1zM158 350h1v1h-1zM164 353h1v1h-1zM152 352h1v1h-1zM149 353h1v1h-1zM168 352h1v1h-1zM155 354h1v1h-1zM164 352h1v1h-1zM151 354h1v1h-1zM157 353h1v1h-1zM151 353h1v1h-1zM159 351h1v1h-1zM153 348h1v1h-1zM151 348h1v1h-1zM164 356h1v1h-1zM157 352h1v1h-1zM143 353h1v1h-1zM154 351h1v1h-1zM150 350h1v1h-1zM148 359h1v1h-1zM152 349h1v1h-1zM152 351h1v1h-1zM274 352h1v1h-1zM275 348h1v1h-1zM268 353h1v1h-1zM265 358h1v1h-1zM283 354h1v1h-1zM274 346h1v1h-1zM273 355h1v1h-1zM275 350h1v1h-1zM282 348h1v1h-1zM284 350h1v1h-1zM276 351h1v1h-1zM275 358h1v1h-1zM277 357h1v1h-1zM293 347h1v1h-1zM259 357h1v1h-1zM267 366h1v1h-1zM280 362h1v1h-1zM277 356h1v1h-1zM286 350h1v1h-1zM287 356h1v1h-1zM293 356h1v1h-1zM270 354h1v1h-1zM281 361h1v1h-1zM274 354h1v1h-1zM284 357h1v1h-1zM278 351h1v1h-1zM284 352h1v1h-1zM270 354h1v1h-1zM278 354h1v1h-1zM272 361h1v1h-1zM274 351h1v1h-1zM272 354h1v1h-1zM268 360h1v1h-1zM285 349h1v1h-1zM279 363h1v1h-1zM285 345h1v1h-1zM268 369h1v1h-1zM260 357h1v1h-1zM271 361h1v1h-1zM275 362h1v1h-1zM283 355h1v1h-1zM285 345h1v1h-1zM286 349h1v1h-1zM289 351h1v1h-1zM282 355h1v1h-1zM277 359h1v1h-1zM270 362h1v1h-1zM282 359h1v1h-1zM272 351h1v1h-1zM270 361h1v1h-1zM281 345h1v1h-1zM278 354h1v1h-1zM283 347h1v1h-1zM270 348h1v1h-1zM286 356h1v1h-1zM279 353h1v1h-1zM275 359h1v1h-1zM270 349h1v1h-1zM267 352h1v1h-1zM265 358h1v1h-1zM288 347h1v1h-1zM264 359h1v1h-1zM281 350h1v1h-1zM274 353h1v1h-1zM271 350h1v1h-1zM272 362h1v1h-1zM275 353h1v1h-1zM284 346h1v1h-1zM281 356h1v1h-1zM276 357h1v1h-1zM265 359h1v1h-1zM261 360h1v1h-1zM292 347h1v1h-1zM268 356h1v1h-1zM263 348h1v1h-1zM286 344h1v1h-1zM264 353h1v1h-1zM282 354h1v1h-1zM284 358h1v1h-1zM278 353h1v1h-1zM284 350h1v1h-1zM265 363h1v1h-1zM266 356h1v1h-1zM275 358h1v1h-1zM276 356h1v1h-1zM275 348h1v1h-1zM280 355h1v1h-1zM270 357h1v1h-1zM258 355h1v1h-1zM280 348h1v1h-1zM274 349h1v1h-1zM283 359h1v1h-1zM294 359h1v1h-1zM277 357h1v1h-1zM281 360h1v1h-1zM269 350h1v1h-1zM284 359h1v1h-1zM279 363h1v1h-1zM278 361h1v1h-1zM284 347h1v1h-1zM267 363h1v1h-1zM281 352h1v1h-1zM280 358h1v1h-1zM289 347h1v1h-1zM261 359h1v1h-1zM275 352h1v1h-1zM294 351h1v1h-1zM273 355h1v1h-1zM273 361h1v1h-1zM291 353h1v1h-1zM297 350h1v1h-1zM277 354h1v1h-1zM270 355h1v1h-1zM271 356h1v1h-1zM273 359h1v1h-1zM269 357h1v1h-1zM269 358h1v1h-1zM278 354h1v1h-1zM277 354h1v1h-1zM280 350h1v1h-1zM276 345h1v1h-1zM266 360h1v1h-1zM282 355h1v1h-1zM278 349h1v1h-1zM271 365h1v1h-1zM274 350h1v1h-1zM279 358h1v1h-1zM277 355h1v1h-1zM275 356h1v1h-1zM283 358h1v1h-1zM285 356h1v1h-1zM274 355h1v1h-1zM276 349h1v1h-1zM267 352h1v1h-1zM275 356h1v1h-1zM280 361h1v1h-1zM283 356h1v1h-1zM278 354h1v1h-1zM275 356h1v1h-1zM270 360h1v1h-1zM278 362h1v1h-1zM267 354h1v1h-1zM277 357h1v1h-1zM276 356h1v1h-1zM269 353h1v1h-1zM279 349h1v1h-1zM274 361h1v1h-1zM281 354h1v1h-1zM272 355h1v1h-1zM280 354h1v1h-1zM289 355h1v1h-1zM278 354h1v1h-1zM283 360h1v1h-1zM271 355h1v1h-1zM273 352h1v1h-1zM260 359h1v1h-1zM275 350h1v1h-1zM267 356h1v1h-1zM277 360h1v1h-1zM259 368h1v1h-1zM269 360h1v1h-1zM277 355h1v1h-1zM279 349h1v1h-1zM262 354h1v1h-1zM273 357h1v1h-1zM297 348h1v1h-1zM283 349h1v1h-1zM277 352h1v1h-1zM253 369h1v1h-1zM268 362h1v1h-1zM280 353h1v1h-1zM278 355h1v1h-1zM280 359h1v1h-1zM284 354h1v1h-1zM277 355h1v1h-1zM283 345h1v1h-1zM261 351h1v1h-1zM297 339h1v1h-1zM274 344h1v1h-1zM271 356h1v1h-1zM289 352h1v1h-1zM281 349h1v1h-1zM284 354h1v1h-1zM271 358h1v1h-1zM278 353h1v1h-1zM282 345h1v1h-1zM267 364h1v1h-1zM274 362h1v1h-1zM274 352h1v1h-1zM274 364h1v1h-1zM270 356h1v1h-1zM266 354h1v1h-1zM280 351h1v1h-1zM278 345h1v1h-1zM286 350h1v1h-1zM276 347h1v1h-1zM271 362h1v1h-1zM264 360h1v1h-1zM277 348h1v1h-1zM274 358h1v1h-1zM293 341h1v1h-1zM295 349h1v1h-1zM289 352h1v1h-1zM269 357h1v1h-1zM264 353h1v1h-1zM274 354h1v1h-1zM269 356h1v1h-1zM288 351h1v1h-1zM277 361h1v1h-1zM273 364h1v1h-1zM276 362h1v1h-1zM287 348h1v1h-1zM268 353h1v1h-1zM280 353h1v1h-1zM265 360h1v1h-1zM274 345h1v1h-1zM271 353h1v1h-1zM279 362h1v1h-1zM277 348h1v1h-1zM286 348h1v1h-1zM282 349h1v1h-1zM271 358h1v1h-1zM265 358h1v1h-1zM269 355h1v1h-1zM273 348h1v1h-1zM274 358h1v1h-1zM270 356h1v1h-1zM285 348h1v1h-1zM284 352h1v1h-1zM274 359h1v1h-1zM272 349h1v1h-1zM274 348h1v1h-1zM276 350h1v1h-1zM276 350h1v1h-1zM263 344h1v1h-1zM272 353h1v1h-1zM260 365h1v1h-1zM276 353h1v1h-1zM282 357h1v1h-1zM267 344h1v1h-1zM277 353h1v1h-1zM271 363h1v1h-1zM270 364h1v1h-1zM292 347h1v1h-1zM283 348h1v1h-1zM280 355h1v1h-1zM272 350h1v1h-1zM279 352h1v1h-1zM274 347h1v1h-1zM280 354h1v1h-1zM269 357h1v1h-1zM275 362h1v1h-1zM273 357h1v1h-1zM264 355h1v1h-1zM290 349h1v1h-1zM283 346h1v1h-1zM269 357h1v1h-1zM264 357h1v1h-1zM270 358h1v1h-1zM269 361h1v1h-1z"/>
<path fill="#7a72b0" fill-opacity="0.3" d="M117 359h1v1h-1zM93 352h1v1h-1zM90 403h1v1h-1zM103 398h1v1h-1zM107 413h1v1h-1zM136 395h1v1h-1zM92 423h1v1h-1zM127 368h1v1h-1zM150 355h1v1h-1zM138 393h1v1h-1zM93 417h1v1h-1zM137 415h1v1h-1zM129 415h1v1h-1zM105 379h1v1h-1zM146 396h1v1h-1zM109 385h1v1h-1zM120 394h1v1h-1zM95 413h1v1h-1zM125 371h1v1h-1zM109 419h1v1h-1zM107 415h1v1h-1zM142 416h1v1h-1zM123 340h1v1h-1zM85 343h1v1h-1zM133 410h1v1h-1zM136 376h1v1h-1zM100 374h1v1h-1zM109 372h1v1h-1zM119 356h1v1h-1zM113 384h1v1h-1zM121 373h1v1h-1zM132 375h1v1h-1zM107 404h1v1h-1zM164 361h1v1h-1zM102 422h1v1h-1zM106 333h1v1h-1zM170 356h1v1h-1zM119 407h1v1h-1zM114 416h1v1h-1zM94 392h1v1h-1zM143 411h1v1h-1zM122 389h1v1h-1zM99 345h1v1h-1zM127 401h1v1h-1zM148 422h1v1h-1zM133 377h1v1h-1zM167 347h1v1h-1zM144 376h1v1h-1zM128 400h1v1h-1zM117 400h1v1h-1zM130 421h1v1h-1zM145 407h1v1h-1zM137 405h1v1h-1zM141 339h1v1h-1zM135 393h1v1h-1zM145 415h1v1h-1zM114 383h1v1h-1zM89 388h1v1h-1zM156 393h1v1h-1zM123 408h1v1h-1zM80 381h1v1h-1zM114 406h1v1h-1zM87 380h1v1h-1zM122 426h1v1h-1zM116 393h1v1h-1zM143 418h1v1h-1zM126 337h1v1h-1zM110 400h1v1h-1zM87 384h1v1h-1zM140 341h1v1h-1zM122 384h1v1h-1zM105 331h1v1h-1zM123 394h1v1h-1zM109 387h1v1h-1zM123 383h1v1h-1zM145 421h1v1h-1zM112 423h1v1h-1zM104 385h1v1h-1zM158 412h1v1h-1zM100 352h1v1h-1zM144 363h1v1h-1zM113 385h1v1h-1zM134 391h1v1h-1zM116 360h1v1h-1zM83 381h1v1h-1zM109 411h1v1h-1zM164 380h1v1h-1zM115 388h1v1h-1zM130 368h1v1h-1zM125 398h1v1h-1zM128 389h1v1h-1zM118 405h1v1h-1zM114 374h1v1h-1zM103 356h1v1h-1zM89 377h1v1h-1zM133 376h1v1h-1zM149 392h1v1h-1zM137 386h1v1h-1zM93 386h1v1h-1zM119 402h1v1h-1zM119 365h1v1h-1zM143 359h1v1h-1zM102 373h1v1h-1zM110 398h1v1h-1zM117 375h1v1h-1zM112 340h1v1h-1zM104 405h1v1h-1zM80 388h1v1h-1zM82 385h1v1h-1zM103 376h1v1h-1zM113 332h1v1h-1zM169 379h1v1h-1zM156 406h1v1h-1zM159 422h1v1h-1zM116 398h1v1h-1zM106 393h1v1h-1zM169 401h1v1h-1zM95 417h1v1h-1zM109 408h1v1h-1zM112 380h1v1h-1zM150 404h1v1h-1zM105 402h1v1h-1zM135 411h1v1h-1zM109 398h1v1h-1zM123 398h1v1h-1zM122 416h1v1h-1zM93 394h1v1h-1zM99 377h1v1h-1zM101 367h1v1h-1zM139 388h1v1h-1zM128 407h1v1h-1zM123 426h1v1h-1zM129 390h1v1h-1zM108 378h1v1h-1zM129 379h1v1h-1zM105 427h1v1h-1zM89 395h1v1h-1zM103 379h1v1h-1zM123 412h1v1h-1zM120 357h1v1h-1zM141 395h1v1h-1zM81 391h1v1h-1zM113 389h1v1h-1zM127 362h1v1h-1zM97 419h1v1h-1zM109 357h1v1h-1zM93 396h1v1h-1zM143 410h1v1h-1zM140 381h1v1h-1zM109 367h1v1h-1zM97 392h1v1h-1zM102 394h1v1h-1zM100 399h1v1h-1zM77 335h1v1h-1zM145 335h1v1h-1zM137 417h1v1h-1zM149 413h1v1h-1zM97 355h1v1h-1zM104 393h1v1h-1zM114 398h1v1h-1zM125 371h1v1h-1zM107 380h1v1h-1zM116 369h1v1h-1zM121 394h1v1h-1zM84 386h1v1h-1zM94 409h1v1h-1zM124 350h1v1h-1zM142 403h1v1h-1zM118 400h1v1h-1zM154 421h1v1h-1zM112 391h1v1h-1zM141 411h1v1h-1zM125 367h1v1h-1zM123 413h1v1h-1zM134 356h1v1h-1zM114 352h1v1h-1zM139 336h1v1h-1zM124 407h1v1h-1zM129 388h1v1h-1zM92 395h1v1h-1zM119 404h1v1h-1zM145 392h1v1h-1zM138 369h1v1h-1zM126 398h1v1h-1zM107 402h1v1h-1zM105 406h1v1h-1zM150 373h1v1h-1zM119 394h1v1h-1zM147 407h1v1h-1zM112 380h1v1h-1zM145 360h1v1h-1zM96 377h1v1h-1zM122 421h1v1h-1zM95 385h1v1h-1zM133 409h1v1h-1zM131 373h1v1h-1zM97 404h1v1h-1zM102 374h1v1h-1zM109 370h1v1h-1zM86 395h1v1h-1zM98 394h1v1h-1zM136 349h1v1h-1zM149 406h1v1h-1zM123 382h1v1h-1zM107 374h1v1h-1zM112 379h1v1h-1zM137 400h1v1h-1zM123 397h1v1h-1zM116 402h1v1h-1zM106 408h1v1h-1zM151 364h1v1h-1zM105 362h1v1h-1zM121 360h1v1h-1zM96 357h1v1h-1zM105 390h1v1h-1zM120 401h1v1h-1zM130 407h1v1h-1zM120 393h1v1h-1zM140 401h1v1h-1zM106 418h1v1h-1zM151 413h1v1h-1zM119 403h1v1h-1zM102 383h1v1h-1zM131 359h1v1h-1zM112 388h1v1h-1zM119 377h1v1h-1zM98 411h1v1h-1zM132 389h1v1h-1zM142 407h1v1h-1zM107 349h1v1h-1zM158 418h1v1h-1zM106 370h1v1h-1zM124 351h1v1h-1zM82 356h1v1h-1zM76 376h1v1h-1zM164 422h1v1h-1zM150 411h1v1h-1zM144 361h1v1h-1zM81 395h1v1h-1zM123 390h1v1h-1zM128 351h1v1h-1zM120 366h1v1h-1zM125 338h1v1h-1zM98 369h1v1h-1zM93 371h1v1h-1zM111 367h1v1h-1zM126 371h1v1h-1zM101 370h1v1h-1zM112 423h1v1h-1zM109 383h1v1h-1zM119 399h1v1h-1zM138 413h1v1h-1zM123 416h1v1h-1zM127 411h1v1h-1zM87 378h1v1h-1zM110 363h1v1h-1zM136 372h1v1h-1zM99 380h1v1h-1zM109 393h1v1h-1zM97 390h1v1h-1zM148 422h1v1h-1zM108 390h1v1h-1zM132 420h1v1h-1zM142 380h1v1h-1zM129 415h1v1h-1zM115 403h1v1h-1zM109 403h1v1h-1zM107 348h1v1h-1zM126 386h1v1h-1zM116 389h1v1h-1zM120 422h1v1h-1zM131 387h1v1h-1zM117 370h1v1h-1zM88 410h1v1h-1zM101 365h1v1h-1zM94 412h1v1h-1zM76 396h1v1h-1zM120 422h1v1h-1zM92 360h1v1h-1zM90 426h1v1h-1zM94 400h1v1h-1zM111 375h1v1h-1zM116 411h1v1h-1zM109 413h1v1h-1zM131 373h1v1h-1zM131 407h1v1h-1zM121 410h1v1h-1zM95 370h1v1h-1zM108 362h1v1h-1zM92 372h1v1h-1zM120 397h1v1h-1zM151 417h1v1h-1zM149 400h1v1h-1zM133 395h1v1h-1zM139 398h1v1h-1zM123 381h1v1h-1zM152 397h1v1h-1zM126 356h1v1h-1zM127 401h1v1h-1zM141 374h1v1h-1zM122 379h1v1h-1zM125 420h1v1h-1zM96 363h1v1h-1zM139 387h1v1h-1zM121 409h1v1h-1zM136 423h1v1h-1zM113 379h1v1h-1zM79 401h1v1h-1zM129 400h1v1h-1zM144 362h1v1h-1zM90 336h1v1h-1zM97 341h1v1h-1zM111 408h1v1h-1zM113 395h1v1h-1zM81 357h1v1h-1zM157 375h1v1h-1zM140 382h1v1h-1zM104 383h1v1h-1zM78 392h1v1h-1zM162 372h1v1h-1zM136 396h1v1h-1zM143 372h1v1h-1zM97 376h1v1h-1zM123 369h1v1h-1zM85 386h1v1h-1zM162 378h1v1h-1zM131 402h1v1h-1zM77 369h1v1h-1zM121 361h1v1h-1zM111 402h1v1h-1zM162 373h1v1h-1zM114 401h1v1h-1zM89 343h1v1h-1zM125 395h1v1h-1zM114 378h1v1h-1zM95 426h1v1h-1zM117 373h1v1h-1zM100 421h1v1h-1zM130 378h1v1h-1zM113 407h1v1h-1zM126 364h1v1h-1zM112 382h1v1h-1zM134 368h1v1h-1zM115 373h1v1h-1zM118 397h1v1h-1zM105 388h1v1h-1zM121 397h1v1h-1zM79 426h1v1h-1zM103 343h1v1h-1zM120 385h1v1h-1zM107 395h1v1h-1zM107 419h1v1h-1zM127 420h1v1h-1zM107 418h1v1h-1zM108 386h1v1h-1zM87 410h1v1h-1zM97 354h1v1h-1zM92 427h1v1h-1zM157 404h1v1h-1zM88 406h1v1h-1zM94 382h1v1h-1zM122 394h1v1h-1zM149 375h1v1h-1zM80 407h1v1h-1zM84 357h1v1h-1zM120 418h1v1h-1zM125 407h1v1h-1zM78 391h1v1h-1zM97 390h1v1h-1zM134 398h1v1h-1zM117 393h1v1h-1zM134 390h1v1h-1zM115 363h1v1h-1zM117 363h1v1h-1zM131 377h1v1h-1zM115 385h1v1h-1zM123 361h1v1h-1zM98 362h1v1h-1zM104 385h1v1h-1zM128 412h1v1h-1zM112 387h1v1h-1zM101 410h1v1h-1zM132 418h1v1h-1zM130 413h1v1h-1zM117 381h1v1h-1zM101 382h1v1h-1zM137 343h1v1h-1zM99 405h1v1h-1zM84 364h1v1h-1zM90 383h1v1h-1zM92 417h1v1h-1zM136 355h1v1h-1zM136 365h1v1h-1zM150 383h1v1h-1zM134 393h1v1h-1zM107 387h1v1h-1zM141 370h1v1h-1zM110 400h1v1h-1zM92 400h1v1h-1zM144 410h1v1h-1zM140 397h1v1h-1zM107 386h1v1h-1zM111 378h1v1h-1zM118 349h1v1h-1zM136 368h1v1h-1zM119 348h1v1h-1zM126 371h1v1h-1zM84 350h1v1h-1zM78 402h1v1h-1zM133 407h1v1h-1zM142 408h1v1h-1zM161 373h1v1h-1zM138 390h1v1h-1zM82 376h1v1h-1zM113 394h1v1h-1zM99 426h1v1h-1zM90 413h1v1h-1zM117 390h1v1h-1zM126 348h1v1h-1zM97 411h1v1h-1zM111 416h1v1h-1zM123 391h1v1h-1zM114 359h1v1h-1zM113 404h1v1h-1zM108 342h1v1h-1zM135 407h1v1h-1zM123 344h1v1h-1zM85 394h1v1h-1zM123 395h1v1h-1zM96 405h1v1h-1zM132 384h1v1h-1zM100 392h1v1h-1zM166 384h1v1h-1zM110 382h1v1h-1zM105 393h1v1h-1zM107 398h1v1h-1zM121 422h1v1h-1zM124 359h1v1h-1zM89 390h1v1h-1zM147 372h1v1h-1zM112 374h1v1h-1zM113 375h1v1h-1zM88 376h1v1h-1zM81 352h1v1h-1zM105 424h1v1h-1zM84 403h1v1h-1zM128 418h1v1h-1zM136 383h1v1h-1zM103 402h1v1h-1zM82 397h1v1h-1zM108 424h1v1h-1zM94 414h1v1h-1zM121 402h1v1h-1zM121 375h1v1h-1zM108 361h1v1h-1zM119 371h1v1h-1zM140 376h1v1h-1zM155 378h1v1h-1zM106 360h1v1h-1zM112 400h1v1h-1zM94 339h1v1h-1zM145 364h1v1h-1zM126 357h1v1h-1zM120 399h1v1h-1zM125 421h1v1h-1zM114 366h1v1h-1zM94 409h1v1h-1zM156 385h1v1h-1zM137 423h1v1h-1zM138 401h1v1h-1zM145 411h1v1h-1zM113 392h1v1h-1zM130 383h1v1h-1zM110 362h1v1h-1zM131 401h1v1h-1zM111 391h1v1h-1zM171 382h1v1h-1zM109 390h1v1h-1zM128 388h1v1h-1zM127 365h1v1h-1zM110 378h1v1h-1zM138 423h1v1h-1zM115 386h1v1h-1zM117 362h1v1h-1zM101 357h1v1h-1zM143 396h1v1h-1zM131 413h1v1h-1zM139 375h1v1h-1zM87 409h1v1h-1zM123 417h1v1h-1zM100 421h1v1h-1zM119 389h1v1h-1zM145 391h1v1h-1zM123 349h1v1h-1zM113 393h1v1h-1zM142 400h1v1h-1zM158 359h1v1h-1zM76 370h1v1h-1zM124 366h1v1h-1zM108 416h1v1h-1zM120 364h1v1h-1zM97 357h1v1h-1zM111 391h1v1h-1zM158 415h1v1h-1zM101 407h1v1h-1zM91 387h1v1h-1zM74 372h1v1h-1zM109 414h1v1h-1zM112 392h1v1h-1zM120 414h1v1h-1zM85 403h1v1h-1zM100 380h1v1h-1zM121 379h1v1h-1zM83 404h1v1h-1zM143 386h1v1h-1zM128 386h1v1h-1zM125 375h1v1h-1zM125 399h1v1h-1zM159 388h1v1h-1zM77 403h1v1h-1zM161 359h1v1h-1zM141 377h1v1h-1zM112 423h1v1h-1zM103 380h1v1h-1zM144 385h1v1h-1zM107 343h1v1h-1zM125 367h1v1h-1zM92 386h1v1h-1zM97 393h1v1h-1zM142 334h1v1h-1zM109 361h1v1h-1zM108 373h1v1h-1zM89 387h1v1h-1zM122 398h1v1h-1zM134 371h1v1h-1zM107 353h1v1h-1zM113 400h1v1h-1zM90 384h1v1h-1zM148 416h1v1h-1zM104 379h1v1h-1zM114 409h1v1h-1zM154 369h1v1h-1zM112 399h1v1h-1zM83 395h1v1h-1zM97 404h1v1h-1zM109 368h1v1h-1zM156 389h1v1h-1zM122 370h1v1h-1zM112 388h1v1h-1zM136 409h1v1h-1zM101 393h1v1h-1zM149 411h1v1h-1zM136 395h1v1h-1zM127 422h1v1h-1zM122 420h1v1h-1zM148 402h1v1h-1zM119 348h1v1h-1zM95 400h1v1h-1zM130 394h1v1h-1zM124 335h1v1h-1zM136 370h1v1h-1zM112 380h1v1h-1zM146 373h1v1h-1zM105 396h1v1h-1zM120 346h1v1h-1zM90 412h1v1h-1zM100 413h1v1h-1zM122 402h1v1h-1zM103 384h1v1h-1zM107 393h1v1h-1zM113 380h1v1h-1zM123 422h1v1h-1zM134 406h1v1h-1zM140 383h1v1h-1zM105 377h1v1h-1zM82 388h1v1h-1zM110 365h1v1h-1zM100 406h1v1h-1zM77 391h1v1h-1zM154 409h1v1h-1zM125 391h1v1h-1zM130 402h1v1h-1zM112 416h1v1h-1zM118 378h1v1h-1zM100 402h1v1h-1zM157 406h1v1h-1zM100 413h1v1h-1zM86 414h1v1h-1zM95 375h1v1h-1zM103 404h1v1h-1zM119 425h1v1h-1zM125 380h1v1h-1zM84 402h1v1h-1zM125 376h1v1h-1zM167 397h1v1h-1zM115 397h1v1h-1zM133 367h1v1h-1zM144 402h1v1h-1zM103 398h1v1h-1zM96 422h1v1h-1zM95 357h1v1h-1zM142 369h1v1h-1zM138 391h1v1h-1zM145 409h1v1h-1zM116 420h1v1h-1zM120 404h1v1h-1zM83 368h1v1h-1zM88 388h1v1h-1zM87 370h1v1h-1zM95 397h1v1h-1zM122 396h1v1h-1zM161 391h1v1h-1zM168 380h1v1h-1zM148 382h1v1h-1zM111 375h1v1h-1zM94 379h1v1h-1zM115 364h1v1h-1zM84 412h1v1h-1zM104 421h1v1h-1zM142 376h1v1h-1zM134 365h1v1h-1zM162 387h1v1h-1zM106 369h1v1h-1zM116 390h1v1h-1zM144 378h1v1h-1zM101 400h1v1h-1zM100 411h1v1h-1zM166 420h1v1h-1zM109 409h1v1h-1zM157 417h1v1h-1zM159 388h1v1h-1zM153 372h1v1h-1zM104 373h1v1h-1zM83 393h1v1h-1zM138 408h1v1h-1zM109 417h1v1h-1zM108 373h1v1h-1zM142 396h1v1h-1zM115 367h1v1h-1zM103 400h1v1h-1zM155 419h1v1h-1zM150 384h1v1h-1zM151 407h1v1h-1zM107 404h1v1h-1zM166 406h1v1h-1zM124 374h1v1h-1zM106 395h1v1h-1zM91 365h1v1h-1zM151 389h1v1h-1zM141 365h1v1h-1zM162 426h1v1h-1zM86 385h1v1h-1zM83 378h1v1h-1zM158 422h1v1h-1zM101 390h1v1h-1zM108 396h1v1h-1zM89 419h1v1h-1zM123 396h1v1h-1zM97 388h1v1h-1zM83 411h1v1h-1zM164 382h1v1h-1zM90 372h1v1h-1zM111 409h1v1h-1zM96 395h1v1h-1zM148 398h1v1h-1zM161 421h1v1h-1zM121 364h1v1h-1zM149 363h1v1h-1zM151 385h1v1h-1zM154 417h1v1h-1zM92 393h1v1h-1zM122 402h1v1h-1zM137 386h1v1h-1zM106 385h1v1h-1zM149 384h1v1h-1zM135 380h1v1h-1zM150 364h1v1h-1zM145 407h1v1h-1zM117 382h1v1h-1zM88 423h1v1h-1zM100 401h1v1h-1zM123 372h1v1h-1zM164 381h1v1h-1zM97 374h1v1h-1zM151 412h1v1h-1zM101 378h1v1h-1zM131 399h1v1h-1zM159 390h1v1h-1zM118 386h1v1h-1zM98 419h1v1h-1zM106 396h1v1h-1zM145 382h1v1h-1zM138 373h1v1h-1zM134 381h1v1h-1zM97 374h1v1h-1zM146 406h1v1h-1zM153 411h1v1h-1zM120 401h1v1h-1zM103 409h1v1h-1zM133 411h1v1h-1zM149 400h1v1h-1zM119 374h1v1h-1zM128 404h1v1h-1zM145 363h1v1h-1zM161 393h1v1h-1zM85 372h1v1h-1zM140 408h1v1h-1zM84 406h1v1h-1zM102 384h1v1h-1zM139 401h1v1h-1zM94 409h1v1h-1zM138 396h1v1h-1zM148 378h1v1h-1zM139 369h1v1h-1zM152 420h1v1h-1zM133 367h1v1h-1zM123 375h1v1h-1zM167 414h1v1h-1zM109 365h1v1h-1zM93 371h1v1h-1zM123 386h1v1h-1zM131 372h1v1h-1zM111 364h1v1h-1zM164 413h1v1h-1zM108 373h1v1h-1zM95 423h1v1h-1zM126 365h1v1h-1zM98 380h1v1h-1zM135 400h1v1h-1zM104 368h1v1h-1zM111 393h1v1h-1zM140 394h1v1h-1zM139 402h1v1h-1zM82 423h1v1h-1zM129 389h1v1h-1zM129 422h1v1h-1zM110 376h1v1h-1zM111 405h1v1h-1zM133 390h1v1h-1zM148 413h1v1h-1zM148 396h1v1h-1zM154 419h1v1h-1zM126 372h1v1h-1zM101 379h1v1h-1zM144 398h1v1h-1zM93 404h1v1h-1zM80 387h1v1h-1zM91 415h1v1h-1zM83 387h1v1h-1zM116 424h1v1h-1zM114 424h1v1h-1zM165 364h1v1h-1zM155 404h1v1h-1zM152 419h1v1h-1zM144 365h1v1h-1zM94 411h1v1h-1zM92 400h1v1h-1zM152 396h1v1h-1zM147 380h1v1h-1zM82 411h1v1h-1zM115 376h1v1h-1zM102 374h1v1h-1zM128 385h1v1h-1zM120 389h1v1h-1zM134 371h1v1h-1zM148 388h1v1h-1zM158 413h1v1h-1zM122 403h1v1h-1zM112 409h1v1h-1zM155 417h1v1h-1zM80 381h1v1h-1zM147 385h1v1h-1zM83 419h1v1h-1zM105 387h1v1h-1zM161 396h1v1h-1zM106 417h1v1h-1zM82 404h1v1h-1zM89 422h1v1h-1zM164 362h1v1h-1zM115 403h1v1h-1zM111 396h1v1h-1zM159 389h1v1h-1zM154 381h1v1h-1zM100 387h1v1h-1zM89 416h1v1h-1zM159 393h1v1h-1zM112 376h1v1h-1zM119 408h1v1h-1zM92 416h1v1h-1zM115 389h1v1h-1zM158 370h1v1h-1zM160 411h1v1h-1zM95 408h1v1h-1zM136 408h1v1h-1zM91 362h1v1h-1zM124 369h1v1h-1zM149 426h1v1h-1zM101 398h1v1h-1zM131 379h1v1h-1zM96 365h1v1h-1zM103 393h1v1h-1zM136 383h1v1h-1zM108 372h1v1h-1zM98 404h1v1h-1zM107 373h1v1h-1zM147 425h1v1h-1zM116 377h1v1h-1zM132 421h1v1h-1zM101 385h1v1h-1zM134 381h1v1h-1zM82 412h1v1h-1zM83 395h1v1h-1zM98 371h1v1h-1zM149 418h1v1h-1zM94 398h1v1h-1zM116 399h1v1h-1zM167 387h1v1h-1zM99 417h1v1h-1zM91 403h1v1h-1zM103 366h1v1h-1zM126 421h1v1h-1zM159 399h1v1h-1zM81 380h1v1h-1zM126 364h1v1h-1zM80 364h1v1h-1zM167 370h1v1h-1zM119 379h1v1h-1zM139 397h1v1h-1zM101 376h1v1h-1zM121 414h1v1h-1zM152 397h1v1h-1zM89 390h1v1h-1zM97 390h1v1h-1zM105 377h1v1h-1zM152 397h1v1h-1zM159 377h1v1h-1zM145 383h1v1h-1zM100 396h1v1h-1zM106 404h1v1h-1zM144 383h1v1h-1zM118 410h1v1h-1zM109 385h1v1h-1zM168 423h1v1h-1zM101 371h1v1h-1zM148 400h1v1h-1zM94 385h1v1h-1zM160 392h1v1h-1zM104 369h1v1h-1zM161 384h1v1h-1z"/>
<ellipse cx="153" cy="346.4" rx="9.5" ry="4.6" fill="url(#g11)" transform="rotate(8,153,346.4)"/>
<ellipse cx="273" cy="353.9" rx="12" ry="4.6" fill="url(#g12)" transform="rotate(-33,273,353.9)"/>
<ellipse cx="269.3" cy="355" rx="5.5" ry="3.8" fill="url(#g13)" transform="rotate(-33,269.3,355)"/>
<rect x="71.3" y="328.4" width="101.2" height="99.9" fill="none" stroke="#8a8a8a" stroke-width="1"/>
<line x1="69.1" y1="337.2" x2="71.3" y2="337.2" stroke="#555" stroke-width="0.9" />
<line x1="69.1" y1="361" x2="71.3" y2="361" stroke="#555" stroke-width="0.9" />
<line x1="69.1" y1="389.6" x2="71.3" y2="389.6" stroke="#555" stroke-width="0.9" />
<line x1="69.1" y1="406.4" x2="71.3" y2="406.4" stroke="#555" stroke-width="0.9" />
<line x1="69.1" y1="421.8" x2="71.3" y2="421.8" stroke="#555" stroke-width="0.9" />
<line x1="70.1" y1="331.4" x2="71.3" y2="331.4" stroke="#888" stroke-width="0.6" />
<line x1="70.1" y1="338.62" x2="71.3" y2="338.62" stroke="#888" stroke-width="0.6" />
<line x1="70.1" y1="345.85" x2="71.3" y2="345.85" stroke="#888" stroke-width="0.6" />
<line x1="70.1" y1="353.07" x2="71.3" y2="353.07" stroke="#888" stroke-width="0.6" />
<line x1="70.1" y1="360.29" x2="71.3" y2="360.29" stroke="#888" stroke-width="0.6" />
<line x1="70.1" y1="367.52" x2="71.3" y2="367.52" stroke="#888" stroke-width="0.6" />
<line x1="70.1" y1="374.74" x2="71.3" y2="374.74" stroke="#888" stroke-width="0.6" />
<line x1="70.1" y1="381.96" x2="71.3" y2="381.96" stroke="#888" stroke-width="0.6" />
<line x1="70.1" y1="389.18" x2="71.3" y2="389.18" stroke="#888" stroke-width="0.6" />
<line x1="70.1" y1="396.41" x2="71.3" y2="396.41" stroke="#888" stroke-width="0.6" />
<line x1="70.1" y1="403.63" x2="71.3" y2="403.63" stroke="#888" stroke-width="0.6" />
<line x1="70.1" y1="410.85" x2="71.3" y2="410.85" stroke="#888" stroke-width="0.6" />
<line x1="70.1" y1="418.08" x2="71.3" y2="418.08" stroke="#888" stroke-width="0.6" />
<line x1="70.1" y1="425.3" x2="71.3" y2="425.3" stroke="#888" stroke-width="0.6" />
<line x1="78.6" y1="428.3" x2="78.6" y2="430.5" stroke="#555" stroke-width="0.9" />
<line x1="95.8" y1="428.3" x2="95.8" y2="430.5" stroke="#555" stroke-width="0.9" />
<line x1="110.6" y1="428.3" x2="110.6" y2="430.5" stroke="#555" stroke-width="0.9" />
<line x1="138.8" y1="428.3" x2="138.8" y2="430.5" stroke="#555" stroke-width="0.9" />
<line x1="160.8" y1="428.3" x2="160.8" y2="430.5" stroke="#555" stroke-width="0.9" />
<line x1="74.3" y1="428.3" x2="74.3" y2="429.5" stroke="#888" stroke-width="0.6" />
<line x1="80.65" y1="428.3" x2="80.65" y2="429.5" stroke="#888" stroke-width="0.6" />
<line x1="86.99" y1="428.3" x2="86.99" y2="429.5" stroke="#888" stroke-width="0.6" />
<line x1="93.34" y1="428.3" x2="93.34" y2="429.5" stroke="#888" stroke-width="0.6" />
<line x1="99.69" y1="428.3" x2="99.69" y2="429.5" stroke="#888" stroke-width="0.6" />
<line x1="106.03" y1="428.3" x2="106.03" y2="429.5" stroke="#888" stroke-width="0.6" />
<line x1="112.38" y1="428.3" x2="112.38" y2="429.5" stroke="#888" stroke-width="0.6" />
<line x1="118.73" y1="428.3" x2="118.73" y2="429.5" stroke="#888" stroke-width="0.6" />
<line x1="125.07" y1="428.3" x2="125.07" y2="429.5" stroke="#888" stroke-width="0.6" />
<line x1="131.42" y1="428.3" x2="131.42" y2="429.5" stroke="#888" stroke-width="0.6" />
<line x1="137.77" y1="428.3" x2="137.77" y2="429.5" stroke="#888" stroke-width="0.6" />
<line x1="144.11" y1="428.3" x2="144.11" y2="429.5" stroke="#888" stroke-width="0.6" />
<line x1="150.46" y1="428.3" x2="150.46" y2="429.5" stroke="#888" stroke-width="0.6" />
<line x1="156.81" y1="428.3" x2="156.81" y2="429.5" stroke="#888" stroke-width="0.6" />
<line x1="163.15" y1="428.3" x2="163.15" y2="429.5" stroke="#888" stroke-width="0.6" />
<line x1="169.5" y1="428.3" x2="169.5" y2="429.5" stroke="#888" stroke-width="0.6" />
<rect x="230.8" y="328.4" width="100.2" height="99.9" fill="none" stroke="#8a8a8a" stroke-width="1"/>
<line x1="228.6" y1="338" x2="230.8" y2="338" stroke="#555" stroke-width="0.9" />
<line x1="228.6" y1="361.8" x2="230.8" y2="361.8" stroke="#555" stroke-width="0.9" />
<line x1="228.6" y1="389.6" x2="230.8" y2="389.6" stroke="#555" stroke-width="0.9" />
<line x1="228.6" y1="406" x2="230.8" y2="406" stroke="#555" stroke-width="0.9" />
<line x1="228.6" y1="422" x2="230.8" y2="422" stroke="#555" stroke-width="0.9" />
<line x1="229.6" y1="331.4" x2="230.8" y2="331.4" stroke="#888" stroke-width="0.6" />
<line x1="229.6" y1="338.62" x2="230.8" y2="338.62" stroke="#888" stroke-width="0.6" />
<line x1="229.6" y1="345.85" x2="230.8" y2="345.85" stroke="#888" stroke-width="0.6" />
<line x1="229.6" y1="353.07" x2="230.8" y2="353.07" stroke="#888" stroke-width="0.6" />
<line x1="229.6" y1="360.29" x2="230.8" y2="360.29" stroke="#888" stroke-width="0.6" />
<line x1="229.6" y1="367.52" x2="230.8" y2="367.52" stroke="#888" stroke-width="0.6" />
<line x1="229.6" y1="374.74" x2="230.8" y2="374.74" stroke="#888" stroke-width="0.6" />
<line x1="229.6" y1="381.96" x2="230.8" y2="381.96" stroke="#888" stroke-width="0.6" />
<line x1="229.6" y1="389.18" x2="230.8" y2="389.18" stroke="#888" stroke-width="0.6" />
<line x1="229.6" y1="396.41" x2="230.8" y2="396.41" stroke="#888" stroke-width="0.6" />
<line x1="229.6" y1="403.63" x2="230.8" y2="403.63" stroke="#888" stroke-width="0.6" />
<line x1="229.6" y1="410.85" x2="230.8" y2="410.85" stroke="#888" stroke-width="0.6" />
<line x1="229.6" y1="418.08" x2="230.8" y2="418.08" stroke="#888" stroke-width="0.6" />
<line x1="229.6" y1="425.3" x2="230.8" y2="425.3" stroke="#888" stroke-width="0.6" />
<line x1="235" y1="428.3" x2="235" y2="430.5" stroke="#555" stroke-width="0.9" />
<line x1="254.1" y1="428.3" x2="254.1" y2="430.5" stroke="#555" stroke-width="0.9" />
<line x1="269.7" y1="428.3" x2="269.7" y2="430.5" stroke="#555" stroke-width="0.9" />
<line x1="296" y1="428.3" x2="296" y2="430.5" stroke="#555" stroke-width="0.9" />
<line x1="322" y1="428.3" x2="322" y2="430.5" stroke="#555" stroke-width="0.9" />
<line x1="233.8" y1="428.3" x2="233.8" y2="429.5" stroke="#888" stroke-width="0.6" />
<line x1="240.08" y1="428.3" x2="240.08" y2="429.5" stroke="#888" stroke-width="0.6" />
<line x1="246.36" y1="428.3" x2="246.36" y2="429.5" stroke="#888" stroke-width="0.6" />
<line x1="252.64" y1="428.3" x2="252.64" y2="429.5" stroke="#888" stroke-width="0.6" />
<line x1="258.92" y1="428.3" x2="258.92" y2="429.5" stroke="#888" stroke-width="0.6" />
<line x1="265.2" y1="428.3" x2="265.2" y2="429.5" stroke="#888" stroke-width="0.6" />
<line x1="271.48" y1="428.3" x2="271.48" y2="429.5" stroke="#888" stroke-width="0.6" />
<line x1="277.76" y1="428.3" x2="277.76" y2="429.5" stroke="#888" stroke-width="0.6" />
<line x1="284.04" y1="428.3" x2="284.04" y2="429.5" stroke="#888" stroke-width="0.6" />
<line x1="290.32" y1="428.3" x2="290.32" y2="429.5" stroke="#888" stroke-width="0.6" />
<line x1="296.6" y1="428.3" x2="296.6" y2="429.5" stroke="#888" stroke-width="0.6" />
<line x1="302.88" y1="428.3" x2="302.88" y2="429.5" stroke="#888" stroke-width="0.6" />
<line x1="309.16" y1="428.3" x2="309.16" y2="429.5" stroke="#888" stroke-width="0.6" />
<line x1="315.44" y1="428.3" x2="315.44" y2="429.5" stroke="#888" stroke-width="0.6" />
<line x1="321.72" y1="428.3" x2="321.72" y2="429.5" stroke="#888" stroke-width="0.6" />
<line x1="328" y1="428.3" x2="328" y2="429.5" stroke="#888" stroke-width="0.6" />
<text x="65.6" y="339.88" font-size="7.5" text-anchor="end" fill="#222" font-weight="normal" >10<tspan font-size="4.9" dy="-2.7">5</tspan></text>
<text x="65.6" y="363.69" font-size="7.5" text-anchor="end" fill="#222" font-weight="normal" >10<tspan font-size="4.9" dy="-2.7">4</tspan></text>
<text x="65.6" y="392.28" font-size="7.5" text-anchor="end" fill="#222" font-weight="normal" >10<tspan font-size="4.9" dy="-2.7">3</tspan></text>
<text x="65.6" y="409.08" font-size="7.5" text-anchor="end" fill="#222" font-weight="normal" >0</text>
<text x="65.6" y="424.48" font-size="7.5" text-anchor="end" fill="#222" font-weight="normal" >&#8722;10<tspan font-size="4.9" dy="-2.7">3</tspan></text>
<text x="224.8" y="340.69" font-size="7.5" text-anchor="end" fill="#222" font-weight="normal" >10<tspan font-size="4.9" dy="-2.7">5</tspan></text>
<text x="224.8" y="364.48" font-size="7.5" text-anchor="end" fill="#222" font-weight="normal" >10<tspan font-size="4.9" dy="-2.7">4</tspan></text>
<text x="224.8" y="392.28" font-size="7.5" text-anchor="end" fill="#222" font-weight="normal" >10<tspan font-size="4.9" dy="-2.7">3</tspan></text>
<text x="224.8" y="408.69" font-size="7.5" text-anchor="end" fill="#222" font-weight="normal" >0</text>
<text x="224.8" y="424.69" font-size="7.5" text-anchor="end" fill="#222" font-weight="normal" >&#8722;10<tspan font-size="4.9" dy="-2.7">3</tspan></text>
<text x="78.6" y="441.38" font-size="7.5" text-anchor="middle" fill="#222" font-weight="normal" >&#8722;10<tspan font-size="4.9" dy="-2.7">3</tspan></text>
<text x="95.8" y="441.38" font-size="7.5" text-anchor="middle" fill="#222" font-weight="normal" >0</text>
<text x="110.6" y="441.38" font-size="7.5" text-anchor="middle" fill="#222" font-weight="normal" >10<tspan font-size="4.9" dy="-2.7">3</tspan></text>
<text x="138.8" y="441.38" font-size="7.5" text-anchor="middle" fill="#222" font-weight="normal" >10<tspan font-size="4.9" dy="-2.7">4</tspan></text>
<text x="160.8" y="441.38" font-size="7.5" text-anchor="middle" fill="#222" font-weight="normal" >10<tspan font-size="4.9" dy="-2.7">5</tspan></text>
<text x="235" y="441.38" font-size="7.5" text-anchor="middle" fill="#222" font-weight="normal" >&#8722;10<tspan font-size="4.9" dy="-2.7">3</tspan></text>
<text x="254.1" y="441.38" font-size="7.5" text-anchor="middle" fill="#222" font-weight="normal" >0</text>
<text x="269.7" y="441.38" font-size="7.5" text-anchor="middle" fill="#222" font-weight="normal" >10<tspan font-size="4.9" dy="-2.7">3</tspan></text>
<text x="296" y="441.38" font-size="7.5" text-anchor="middle" fill="#222" font-weight="normal" >10<tspan font-size="4.9" dy="-2.7">4</tspan></text>
<text x="322" y="441.38" font-size="7.5" text-anchor="middle" fill="#222" font-weight="normal" >10<tspan font-size="4.9" dy="-2.7">5</tspan></text>
<line x1="123.1" y1="328.4" x2="123.1" y2="428.3" stroke="#4a4a4a" stroke-width="1.3" />
<line x1="71.3" y1="360.3" x2="172.5" y2="360.3" stroke="#4a4a4a" stroke-width="1.3" />
<rect x="123.1" y="328.6" width="48.8" height="31.7" fill="none" stroke="#d03848" stroke-width="1.2"/>
<polyline points="261.5,328.4 261.5,371 330.2,371" fill="none" stroke="#666" stroke-width="1.1"/>
<line x1="330.4" y1="328.4" x2="330.4" y2="371.5" stroke="#2a2a2a" stroke-width="1.5" />
<text x="75.6" y="339.25" font-size="7.4" text-anchor="start" fill="#1a1a1a" font-weight="normal" stroke="#1a1a1a" stroke-width="0.15">13.0</text>
<text x="167.6" y="339.25" font-size="7.4" text-anchor="end" fill="#1a1a1a" font-weight="normal" stroke="#1a1a1a" stroke-width="0.15">61.3</text>
<text x="75.6" y="422.95" font-size="7.4" text-anchor="start" fill="#1a1a1a" font-weight="normal" stroke="#1a1a1a" stroke-width="0.15">13.7</text>
<text x="167.6" y="422.95" font-size="7.4" text-anchor="end" fill="#1a1a1a" font-weight="normal" stroke="#1a1a1a" stroke-width="0.15">12.0</text>
<text x="315.2" y="338.65" font-size="7.4" text-anchor="end" fill="#1a1a1a" font-weight="normal" stroke="#1a1a1a" stroke-width="0.15">92.4</text>
<line x1="173.2" y1="343.9" x2="197" y2="343.9" stroke="#333" stroke-width="1.1" stroke-dasharray="2.6 2"/>
<polygon points="201.6,343.9 196.6,341.9 196.6,345.9" fill="#222"/>
<rect x="69.5" y="405.2" width="1.8" height="3" fill="#111"/>
<rect x="92.8" y="427.9" width="4.3" height="1.8" fill="#111"/>
<rect x="229" y="404.9" width="1.8" height="3" fill="#111"/>
<rect x="251.8" y="427.9" width="4.3" height="1.8" fill="#111"/>
<path fill="#6c64a8" fill-opacity="0.38" d="M123 476h1v1h-1zM148 512h1v1h-1zM104 470h1v1h-1zM143 502h1v1h-1zM130 471h1v1h-1zM124 493h1v1h-1zM144 512h1v1h-1zM136 527h1v1h-1zM154 480h1v1h-1zM145 475h1v1h-1zM146 527h1v1h-1zM162 478h1v1h-1zM139 515h1v1h-1zM154 486h1v1h-1zM133 464h1v1h-1zM150 501h1v1h-1zM149 471h1v1h-1zM131 515h1v1h-1zM114 518h1v1h-1zM118 529h1v1h-1zM124 474h1v1h-1zM149 535h1v1h-1zM138 521h1v1h-1zM148 550h1v1h-1zM152 538h1v1h-1zM164 473h1v1h-1zM130 506h1v1h-1zM149 466h1v1h-1zM152 495h1v1h-1zM124 502h1v1h-1zM142 512h1v1h-1zM124 478h1v1h-1zM136 497h1v1h-1zM147 476h1v1h-1zM111 507h1v1h-1zM125 514h1v1h-1zM126 500h1v1h-1zM142 525h1v1h-1zM127 516h1v1h-1zM146 507h1v1h-1zM125 525h1v1h-1zM131 468h1v1h-1zM150 497h1v1h-1zM143 497h1v1h-1zM139 487h1v1h-1zM157 517h1v1h-1zM163 487h1v1h-1zM134 483h1v1h-1zM128 496h1v1h-1zM122 495h1v1h-1zM169 510h1v1h-1zM125 477h1v1h-1zM118 462h1v1h-1zM144 460h1v1h-1zM158 525h1v1h-1zM119 468h1v1h-1zM138 487h1v1h-1zM116 472h1v1h-1zM128 519h1v1h-1zM167 484h1v1h-1zM143 527h1v1h-1zM136 481h1v1h-1zM141 505h1v1h-1zM145 516h1v1h-1zM138 521h1v1h-1zM120 470h1v1h-1zM120 489h1v1h-1zM160 515h1v1h-1zM128 507h1v1h-1zM162 510h1v1h-1zM152 465h1v1h-1zM136 502h1v1h-1zM124 522h1v1h-1zM136 486h1v1h-1zM125 514h1v1h-1zM127 545h1v1h-1zM134 488h1v1h-1zM124 488h1v1h-1zM134 490h1v1h-1zM167 463h1v1h-1zM111 489h1v1h-1zM119 537h1v1h-1zM124 476h1v1h-1zM132 493h1v1h-1zM157 526h1v1h-1zM152 511h1v1h-1zM148 503h1v1h-1zM143 490h1v1h-1zM121 498h1v1h-1zM121 514h1v1h-1zM140 500h1v1h-1zM143 520h1v1h-1zM126 517h1v1h-1zM118 485h1v1h-1zM135 498h1v1h-1zM128 488h1v1h-1zM132 513h1v1h-1zM122 495h1v1h-1zM163 513h1v1h-1zM148 479h1v1h-1zM131 527h1v1h-1zM141 525h1v1h-1zM136 490h1v1h-1zM140 501h1v1h-1zM136 489h1v1h-1zM137 495h1v1h-1zM107 499h1v1h-1zM135 527h1v1h-1zM152 512h1v1h-1zM107 533h1v1h-1zM134 535h1v1h-1zM150 468h1v1h-1zM161 505h1v1h-1zM139 488h1v1h-1zM148 460h1v1h-1zM170 473h1v1h-1zM162 486h1v1h-1zM132 538h1v1h-1zM130 500h1v1h-1zM157 494h1v1h-1zM144 497h1v1h-1zM131 480h1v1h-1zM136 502h1v1h-1zM145 496h1v1h-1zM137 460h1v1h-1zM136 486h1v1h-1zM115 513h1v1h-1zM169 496h1v1h-1zM161 514h1v1h-1zM166 475h1v1h-1zM138 500h1v1h-1zM142 519h1v1h-1zM150 460h1v1h-1zM154 481h1v1h-1zM109 489h1v1h-1zM146 492h1v1h-1zM123 486h1v1h-1zM139 505h1v1h-1zM129 522h1v1h-1zM169 506h1v1h-1zM149 522h1v1h-1zM140 523h1v1h-1zM164 484h1v1h-1zM139 505h1v1h-1zM128 489h1v1h-1zM137 514h1v1h-1zM134 490h1v1h-1zM141 494h1v1h-1zM154 538h1v1h-1zM138 494h1v1h-1zM139 462h1v1h-1zM157 501h1v1h-1zM145 505h1v1h-1zM156 486h1v1h-1zM142 500h1v1h-1zM118 522h1v1h-1zM121 486h1v1h-1zM112 494h1v1h-1zM159 482h1v1h-1zM147 506h1v1h-1zM132 495h1v1h-1zM123 477h1v1h-1zM146 495h1v1h-1zM138 541h1v1h-1zM145 458h1v1h-1zM126 466h1v1h-1zM121 506h1v1h-1zM166 466h1v1h-1zM124 544h1v1h-1zM140 463h1v1h-1zM163 468h1v1h-1zM109 486h1v1h-1zM152 524h1v1h-1zM141 517h1v1h-1zM138 512h1v1h-1zM145 505h1v1h-1zM120 529h1v1h-1zM135 532h1v1h-1zM155 473h1v1h-1zM159 506h1v1h-1zM145 527h1v1h-1zM148 528h1v1h-1zM152 495h1v1h-1zM167 542h1v1h-1zM148 510h1v1h-1zM161 524h1v1h-1zM135 473h1v1h-1zM133 481h1v1h-1zM141 481h1v1h-1zM147 540h1v1h-1zM154 517h1v1h-1zM141 502h1v1h-1zM146 489h1v1h-1zM146 491h1v1h-1zM148 527h1v1h-1zM122 486h1v1h-1zM142 523h1v1h-1zM135 516h1v1h-1zM125 477h1v1h-1zM142 492h1v1h-1zM137 464h1v1h-1zM130 530h1v1h-1zM110 488h1v1h-1zM137 528h1v1h-1zM170 517h1v1h-1zM155 478h1v1h-1zM158 495h1v1h-1zM140 514h1v1h-1zM158 509h1v1h-1zM129 534h1v1h-1zM132 525h1v1h-1zM149 506h1v1h-1zM116 515h1v1h-1zM141 482h1v1h-1zM145 485h1v1h-1zM168 513h1v1h-1zM128 506h1v1h-1zM147 473h1v1h-1zM129 497h1v1h-1zM131 480h1v1h-1zM95 486h1v1h-1zM124 529h1v1h-1zM159 477h1v1h-1zM149 483h1v1h-1zM143 512h1v1h-1zM149 503h1v1h-1zM119 465h1v1h-1zM137 498h1v1h-1zM139 490h1v1h-1zM167 480h1v1h-1zM125 486h1v1h-1zM147 492h1v1h-1zM156 518h1v1h-1zM126 543h1v1h-1zM142 501h1v1h-1zM106 533h1v1h-1zM142 501h1v1h-1zM103 464h1v1h-1zM134 500h1v1h-1zM169 529h1v1h-1zM147 531h1v1h-1zM141 478h1v1h-1zM143 551h1v1h-1zM149 482h1v1h-1zM158 487h1v1h-1zM133 533h1v1h-1zM133 508h1v1h-1zM123 520h1v1h-1zM128 498h1v1h-1zM157 496h1v1h-1zM151 515h1v1h-1zM138 488h1v1h-1zM131 527h1v1h-1zM91 483h1v1h-1zM130 467h1v1h-1zM145 461h1v1h-1zM151 528h1v1h-1zM88 517h1v1h-1zM100 481h1v1h-1zM143 525h1v1h-1zM123 495h1v1h-1zM136 496h1v1h-1zM132 465h1v1h-1zM150 486h1v1h-1zM109 502h1v1h-1zM131 504h1v1h-1zM156 486h1v1h-1zM144 522h1v1h-1zM126 533h1v1h-1zM148 480h1v1h-1zM145 508h1v1h-1zM125 464h1v1h-1zM152 509h1v1h-1zM151 477h1v1h-1zM138 496h1v1h-1zM156 503h1v1h-1zM120 494h1v1h-1zM153 523h1v1h-1zM137 481h1v1h-1zM124 488h1v1h-1zM130 507h1v1h-1zM160 498h1v1h-1zM131 505h1v1h-1zM134 494h1v1h-1zM129 481h1v1h-1zM127 515h1v1h-1zM156 501h1v1h-1zM163 530h1v1h-1zM149 491h1v1h-1zM153 482h1v1h-1zM134 489h1v1h-1zM132 484h1v1h-1zM164 537h1v1h-1zM134 509h1v1h-1zM128 553h1v1h-1zM129 486h1v1h-1zM143 513h1v1h-1zM131 506h1v1h-1zM140 498h1v1h-1zM143 522h1v1h-1zM163 499h1v1h-1zM119 498h1v1h-1zM145 503h1v1h-1zM133 483h1v1h-1zM167 482h1v1h-1zM151 538h1v1h-1zM134 513h1v1h-1zM148 518h1v1h-1zM140 514h1v1h-1zM159 495h1v1h-1zM132 538h1v1h-1zM148 495h1v1h-1zM137 467h1v1h-1zM140 514h1v1h-1zM138 527h1v1h-1zM130 502h1v1h-1zM142 508h1v1h-1zM157 522h1v1h-1zM130 535h1v1h-1zM134 513h1v1h-1zM146 538h1v1h-1zM127 506h1v1h-1zM155 548h1v1h-1zM152 468h1v1h-1zM102 521h1v1h-1zM129 506h1v1h-1zM122 502h1v1h-1zM154 470h1v1h-1zM156 524h1v1h-1zM120 495h1v1h-1zM129 477h1v1h-1zM139 485h1v1h-1zM134 494h1v1h-1zM152 502h1v1h-1zM157 479h1v1h-1zM150 478h1v1h-1zM158 509h1v1h-1zM156 498h1v1h-1zM139 545h1v1h-1zM133 490h1v1h-1zM128 517h1v1h-1zM154 540h1v1h-1zM155 495h1v1h-1zM157 522h1v1h-1zM135 507h1v1h-1zM134 501h1v1h-1zM145 537h1v1h-1zM161 477h1v1h-1zM146 486h1v1h-1zM144 459h1v1h-1zM126 497h1v1h-1zM148 522h1v1h-1zM149 494h1v1h-1zM124 519h1v1h-1zM170 482h1v1h-1zM125 526h1v1h-1zM156 497h1v1h-1zM137 489h1v1h-1zM143 537h1v1h-1zM127 499h1v1h-1zM131 513h1v1h-1zM152 502h1v1h-1zM137 516h1v1h-1zM134 502h1v1h-1zM155 472h1v1h-1zM152 506h1v1h-1zM143 511h1v1h-1zM144 508h1v1h-1zM169 494h1v1h-1zM137 541h1v1h-1zM147 483h1v1h-1zM147 502h1v1h-1zM117 504h1v1h-1zM108 475h1v1h-1zM142 472h1v1h-1zM155 515h1v1h-1zM144 515h1v1h-1zM131 503h1v1h-1zM129 463h1v1h-1zM154 493h1v1h-1zM135 505h1v1h-1zM113 514h1v1h-1zM152 527h1v1h-1zM144 510h1v1h-1zM147 522h1v1h-1zM158 538h1v1h-1zM150 522h1v1h-1zM137 489h1v1h-1zM105 511h1v1h-1zM145 504h1v1h-1zM138 476h1v1h-1zM162 479h1v1h-1zM162 510h1v1h-1zM148 495h1v1h-1zM163 516h1v1h-1zM139 491h1v1h-1zM140 549h1v1h-1zM126 494h1v1h-1zM135 547h1v1h-1zM144 482h1v1h-1zM158 512h1v1h-1zM128 525h1v1h-1zM154 469h1v1h-1zM118 509h1v1h-1zM136 526h1v1h-1zM141 531h1v1h-1zM157 512h1v1h-1zM161 473h1v1h-1zM140 490h1v1h-1zM126 533h1v1h-1zM139 487h1v1h-1zM140 494h1v1h-1zM144 459h1v1h-1zM125 495h1v1h-1zM166 463h1v1h-1zM128 508h1v1h-1zM152 533h1v1h-1zM144 507h1v1h-1zM122 503h1v1h-1zM141 490h1v1h-1zM141 512h1v1h-1zM137 474h1v1h-1zM154 489h1v1h-1zM132 549h1v1h-1zM159 486h1v1h-1zM125 467h1v1h-1zM98 528h1v1h-1zM161 494h1v1h-1zM144 470h1v1h-1zM142 470h1v1h-1zM124 525h1v1h-1zM116 515h1v1h-1zM109 518h1v1h-1zM167 520h1v1h-1zM131 529h1v1h-1zM109 462h1v1h-1zM152 465h1v1h-1zM126 505h1v1h-1zM132 465h1v1h-1zM123 474h1v1h-1zM141 500h1v1h-1zM162 479h1v1h-1zM157 469h1v1h-1zM147 521h1v1h-1zM159 510h1v1h-1zM110 517h1v1h-1zM139 532h1v1h-1zM118 498h1v1h-1zM134 494h1v1h-1zM129 458h1v1h-1zM142 493h1v1h-1zM145 485h1v1h-1zM101 523h1v1h-1zM161 514h1v1h-1zM169 532h1v1h-1zM123 524h1v1h-1zM165 526h1v1h-1zM161 511h1v1h-1zM157 502h1v1h-1zM168 490h1v1h-1zM117 498h1v1h-1zM152 476h1v1h-1zM123 507h1v1h-1zM159 481h1v1h-1zM151 487h1v1h-1zM141 491h1v1h-1zM142 528h1v1h-1zM150 484h1v1h-1zM169 469h1v1h-1zM128 507h1v1h-1zM131 521h1v1h-1zM130 536h1v1h-1zM139 475h1v1h-1zM140 492h1v1h-1zM118 488h1v1h-1zM145 533h1v1h-1zM119 514h1v1h-1zM135 499h1v1h-1zM136 515h1v1h-1zM136 490h1v1h-1zM165 493h1v1h-1zM168 497h1v1h-1zM158 486h1v1h-1zM167 492h1v1h-1zM135 506h1v1h-1zM164 504h1v1h-1zM139 532h1v1h-1zM144 518h1v1h-1zM145 496h1v1h-1zM130 464h1v1h-1zM137 486h1v1h-1zM146 489h1v1h-1zM138 468h1v1h-1zM126 489h1v1h-1zM120 500h1v1h-1zM140 483h1v1h-1zM120 494h1v1h-1zM120 496h1v1h-1zM138 482h1v1h-1zM143 478h1v1h-1zM126 495h1v1h-1zM110 504h1v1h-1zM145 474h1v1h-1zM133 476h1v1h-1zM134 509h1v1h-1zM101 461h1v1h-1zM155 519h1v1h-1zM121 484h1v1h-1zM152 500h1v1h-1zM130 480h1v1h-1zM138 511h1v1h-1zM137 499h1v1h-1zM109 506h1v1h-1zM113 514h1v1h-1zM142 459h1v1h-1zM126 490h1v1h-1zM136 509h1v1h-1zM163 493h1v1h-1zM108 509h1v1h-1zM138 501h1v1h-1zM148 499h1v1h-1zM142 479h1v1h-1zM147 520h1v1h-1zM127 523h1v1h-1zM112 485h1v1h-1zM118 477h1v1h-1zM133 502h1v1h-1zM153 480h1v1h-1zM141 500h1v1h-1zM167 516h1v1h-1zM142 512h1v1h-1zM143 531h1v1h-1zM143 508h1v1h-1zM111 474h1v1h-1zM150 478h1v1h-1zM121 509h1v1h-1zM134 541h1v1h-1zM119 476h1v1h-1zM142 529h1v1h-1zM145 494h1v1h-1zM142 513h1v1h-1zM140 522h1v1h-1zM131 475h1v1h-1zM106 485h1v1h-1zM123 509h1v1h-1zM165 512h1v1h-1zM149 486h1v1h-1zM127 510h1v1h-1zM125 457h1v1h-1zM136 505h1v1h-1zM148 497h1v1h-1zM122 464h1v1h-1zM144 495h1v1h-1zM129 473h1v1h-1zM165 530h1v1h-1zM145 491h1v1h-1zM161 493h1v1h-1zM143 495h1v1h-1zM147 499h1v1h-1zM145 509h1v1h-1zM123 476h1v1h-1zM133 522h1v1h-1zM147 486h1v1h-1zM132 514h1v1h-1zM140 521h1v1h-1zM127 496h1v1h-1zM157 464h1v1h-1zM131 471h1v1h-1zM147 492h1v1h-1zM138 528h1v1h-1zM128 488h1v1h-1zM164 498h1v1h-1zM142 525h1v1h-1zM158 484h1v1h-1zM134 504h1v1h-1zM116 504h1v1h-1zM119 484h1v1h-1zM131 502h1v1h-1zM137 521h1v1h-1zM141 521h1v1h-1zM149 490h1v1h-1zM144 505h1v1h-1zM119 491h1v1h-1zM128 481h1v1h-1zM162 516h1v1h-1zM170 494h1v1h-1zM164 466h1v1h-1zM155 493h1v1h-1zM165 496h1v1h-1zM136 468h1v1h-1zM138 475h1v1h-1zM125 526h1v1h-1zM150 485h1v1h-1zM119 497h1v1h-1zM131 490h1v1h-1zM148 516h1v1h-1zM131 525h1v1h-1zM146 518h1v1h-1zM123 510h1v1h-1zM164 470h1v1h-1zM128 527h1v1h-1zM124 485h1v1h-1zM144 477h1v1h-1zM157 489h1v1h-1zM128 479h1v1h-1zM128 506h1v1h-1zM133 513h1v1h-1zM128 526h1v1h-1zM143 495h1v1h-1zM128 484h1v1h-1zM136 491h1v1h-1zM146 471h1v1h-1zM133 481h1v1h-1zM160 542h1v1h-1zM128 480h1v1h-1zM127 487h1v1h-1zM166 503h1v1h-1zM141 514h1v1h-1zM154 478h1v1h-1zM146 473h1v1h-1zM131 527h1v1h-1zM151 482h1v1h-1zM145 495h1v1h-1zM162 502h1v1h-1zM154 493h1v1h-1zM143 483h1v1h-1zM128 509h1v1h-1zM133 490h1v1h-1zM118 515h1v1h-1zM153 488h1v1h-1zM114 482h1v1h-1zM134 483h1v1h-1zM100 497h1v1h-1zM130 519h1v1h-1zM147 478h1v1h-1zM139 483h1v1h-1zM141 514h1v1h-1zM121 509h1v1h-1zM150 513h1v1h-1zM125 505h1v1h-1zM155 492h1v1h-1zM144 486h1v1h-1zM133 486h1v1h-1zM165 518h1v1h-1zM133 531h1v1h-1zM157 542h1v1h-1zM142 474h1v1h-1zM140 492h1v1h-1zM157 497h1v1h-1zM147 493h1v1h-1zM140 472h1v1h-1zM138 546h1v1h-1zM144 531h1v1h-1zM141 493h1v1h-1zM134 487h1v1h-1zM122 497h1v1h-1zM96 470h1v1h-1zM138 490h1v1h-1zM136 515h1v1h-1zM161 535h1v1h-1zM148 517h1v1h-1zM159 527h1v1h-1zM170 473h1v1h-1zM126 528h1v1h-1zM154 501h1v1h-1zM130 495h1v1h-1zM136 535h1v1h-1zM164 475h1v1h-1zM149 476h1v1h-1zM159 480h1v1h-1zM117 534h1v1h-1zM141 519h1v1h-1zM159 457h1v1h-1zM118 535h1v1h-1zM143 498h1v1h-1zM147 507h1v1h-1zM101 480h1v1h-1zM167 540h1v1h-1zM128 507h1v1h-1zM138 527h1v1h-1zM169 475h1v1h-1zM110 513h1v1h-1zM148 499h1v1h-1zM132 492h1v1h-1zM141 479h1v1h-1zM126 481h1v1h-1zM163 471h1v1h-1zM121 482h1v1h-1zM146 497h1v1h-1zM149 510h1v1h-1zM138 462h1v1h-1zM135 474h1v1h-1zM136 483h1v1h-1zM157 460h1v1h-1zM148 491h1v1h-1zM139 491h1v1h-1zM122 493h1v1h-1zM143 507h1v1h-1zM149 519h1v1h-1zM140 515h1v1h-1zM164 504h1v1h-1zM108 511h1v1h-1zM137 476h1v1h-1zM121 512h1v1h-1zM110 510h1v1h-1zM155 547h1v1h-1zM150 492h1v1h-1zM136 475h1v1h-1zM139 504h1v1h-1zM143 487h1v1h-1zM133 477h1v1h-1zM160 528h1v1h-1zM151 541h1v1h-1zM138 506h1v1h-1zM112 482h1v1h-1zM163 503h1v1h-1zM132 496h1v1h-1zM122 465h1v1h-1zM162 516h1v1h-1zM149 505h1v1h-1zM106 526h1v1h-1zM112 485h1v1h-1zM133 497h1v1h-1zM119 495h1v1h-1zM137 458h1v1h-1zM139 471h1v1h-1zM154 489h1v1h-1zM155 462h1v1h-1zM138 507h1v1h-1zM115 487h1v1h-1zM158 499h1v1h-1zM137 503h1v1h-1zM148 499h1v1h-1zM152 500h1v1h-1zM126 494h1v1h-1zM169 507h1v1h-1zM141 516h1v1h-1zM144 492h1v1h-1zM133 487h1v1h-1zM152 488h1v1h-1zM157 505h1v1h-1zM131 489h1v1h-1zM150 489h1v1h-1zM133 463h1v1h-1zM119 542h1v1h-1zM135 469h1v1h-1zM151 536h1v1h-1zM150 516h1v1h-1zM159 521h1v1h-1zM129 504h1v1h-1zM135 509h1v1h-1zM141 504h1v1h-1zM151 511h1v1h-1zM138 517h1v1h-1zM124 533h1v1h-1zM114 475h1v1h-1zM160 509h1v1h-1zM158 535h1v1h-1zM129 530h1v1h-1zM165 474h1v1h-1zM139 505h1v1h-1zM148 504h1v1h-1zM162 504h1v1h-1zM127 518h1v1h-1zM111 461h1v1h-1zM145 549h1v1h-1zM148 513h1v1h-1zM155 496h1v1h-1zM151 513h1v1h-1zM142 501h1v1h-1zM160 486h1v1h-1zM123 496h1v1h-1zM147 506h1v1h-1zM149 480h1v1h-1zM138 515h1v1h-1zM170 524h1v1h-1zM148 523h1v1h-1zM163 526h1v1h-1zM156 528h1v1h-1zM137 515h1v1h-1zM159 500h1v1h-1zM141 508h1v1h-1zM138 531h1v1h-1zM123 543h1v1h-1zM138 490h1v1h-1zM136 465h1v1h-1zM144 548h1v1h-1zM133 525h1v1h-1zM150 541h1v1h-1zM139 519h1v1h-1zM113 504h1v1h-1zM132 484h1v1h-1zM125 476h1v1h-1zM119 532h1v1h-1zM136 521h1v1h-1zM156 506h1v1h-1zM121 473h1v1h-1zM106 486h1v1h-1zM138 484h1v1h-1zM145 504h1v1h-1zM133 535h1v1h-1zM155 486h1v1h-1zM165 499h1v1h-1zM138 505h1v1h-1zM161 475h1v1h-1zM122 509h1v1h-1zM144 480h1v1h-1zM119 488h1v1h-1zM144 504h1v1h-1zM130 497h1v1h-1zM144 501h1v1h-1zM121 477h1v1h-1zM144 516h1v1h-1zM142 473h1v1h-1zM131 518h1v1h-1zM127 487h1v1h-1zM120 471h1v1h-1zM134 497h1v1h-1zM147 474h1v1h-1zM138 486h1v1h-1zM143 495h1v1h-1zM162 517h1v1h-1zM135 517h1v1h-1zM145 510h1v1h-1zM155 492h1v1h-1zM149 463h1v1h-1zM147 493h1v1h-1zM142 491h1v1h-1zM139 486h1v1h-1zM134 486h1v1h-1zM151 517h1v1h-1zM168 467h1v1h-1zM165 499h1v1h-1zM141 528h1v1h-1zM155 481h1v1h-1zM149 476h1v1h-1zM142 493h1v1h-1zM152 491h1v1h-1zM151 505h1v1h-1zM143 530h1v1h-1zM170 496h1v1h-1zM134 512h1v1h-1zM164 485h1v1h-1zM145 483h1v1h-1zM137 527h1v1h-1zM113 489h1v1h-1zM139 495h1v1h-1zM114 488h1v1h-1zM114 475h1v1h-1zM155 487h1v1h-1zM151 457h1v1h-1zM109 498h1v1h-1zM139 540h1v1h-1zM115 539h1v1h-1zM157 496h1v1h-1zM118 519h1v1h-1zM160 475h1v1h-1zM144 546h1v1h-1zM129 473h1v1h-1zM113 497h1v1h-1zM135 535h1v1h-1zM139 468h1v1h-1zM130 497h1v1h-1zM137 480h1v1h-1zM155 476h1v1h-1zM125 477h1v1h-1zM137 464h1v1h-1zM148 532h1v1h-1zM140 527h1v1h-1zM155 466h1v1h-1zM167 496h1v1h-1zM134 488h1v1h-1zM144 524h1v1h-1zM90 479h1v1h-1zM134 537h1v1h-1zM152 499h1v1h-1zM121 480h1v1h-1zM163 496h1v1h-1zM108 485h1v1h-1zM163 552h1v1h-1zM132 502h1v1h-1zM123 487h1v1h-1zM132 501h1v1h-1zM136 533h1v1h-1zM123 476h1v1h-1zM117 458h1v1h-1zM131 529h1v1h-1zM157 513h1v1h-1zM147 488h1v1h-1zM163 496h1v1h-1zM130 525h1v1h-1zM135 529h1v1h-1zM143 494h1v1h-1zM148 514h1v1h-1zM170 497h1v1h-1zM143 484h1v1h-1zM163 525h1v1h-1zM118 499h1v1h-1zM152 517h1v1h-1zM143 461h1v1h-1zM156 501h1v1h-1zM135 522h1v1h-1zM138 527h1v1h-1zM147 482h1v1h-1zM151 507h1v1h-1zM157 465h1v1h-1zM142 540h1v1h-1zM145 485h1v1h-1zM99 529h1v1h-1zM161 492h1v1h-1zM113 490h1v1h-1zM139 537h1v1h-1zM135 529h1v1h-1zM113 490h1v1h-1zM168 477h1v1h-1zM131 478h1v1h-1zM137 525h1v1h-1zM137 496h1v1h-1zM153 490h1v1h-1zM153 462h1v1h-1zM138 526h1v1h-1zM159 523h1v1h-1zM125 506h1v1h-1zM152 517h1v1h-1zM152 485h1v1h-1zM129 502h1v1h-1zM133 501h1v1h-1zM165 484h1v1h-1zM121 504h1v1h-1zM120 481h1v1h-1zM150 482h1v1h-1zM136 468h1v1h-1zM133 501h1v1h-1zM138 481h1v1h-1zM123 531h1v1h-1zM136 497h1v1h-1zM143 497h1v1h-1zM124 461h1v1h-1zM140 486h1v1h-1zM148 522h1v1h-1zM125 511h1v1h-1zM159 499h1v1h-1zM121 494h1v1h-1zM138 500h1v1h-1zM146 508h1v1h-1zM145 545h1v1h-1zM130 494h1v1h-1zM159 532h1v1h-1zM144 467h1v1h-1zM116 529h1v1h-1zM147 503h1v1h-1zM125 519h1v1h-1zM142 490h1v1h-1zM115 502h1v1h-1zM152 512h1v1h-1zM99 523h1v1h-1zM137 510h1v1h-1zM162 509h1v1h-1zM149 484h1v1h-1zM134 539h1v1h-1zM136 503h1v1h-1zM133 493h1v1h-1zM139 469h1v1h-1zM140 480h1v1h-1zM128 462h1v1h-1zM132 503h1v1h-1zM150 496h1v1h-1zM130 503h1v1h-1zM126 468h1v1h-1zM131 488h1v1h-1zM134 483h1v1h-1zM143 522h1v1h-1zM132 462h1v1h-1zM137 462h1v1h-1zM127 529h1v1h-1zM161 507h1v1h-1zM142 460h1v1h-1zM135 530h1v1h-1zM145 534h1v1h-1zM139 525h1v1h-1zM137 501h1v1h-1zM168 477h1v1h-1zM149 492h1v1h-1zM160 460h1v1h-1zM129 540h1v1h-1zM115 481h1v1h-1zM128 505h1v1h-1zM163 517h1v1h-1zM123 513h1v1h-1zM127 508h1v1h-1zM159 489h1v1h-1zM136 503h1v1h-1zM137 493h1v1h-1zM141 522h1v1h-1zM135 483h1v1h-1zM144 486h1v1h-1zM128 488h1v1h-1zM139 465h1v1h-1zM151 469h1v1h-1zM136 509h1v1h-1zM121 526h1v1h-1zM153 500h1v1h-1zM150 471h1v1h-1zM156 529h1v1h-1zM158 490h1v1h-1zM157 460h1v1h-1zM127 502h1v1h-1zM156 533h1v1h-1zM124 489h1v1h-1zM145 491h1v1h-1zM150 478h1v1h-1zM119 485h1v1h-1zM158 504h1v1h-1zM160 481h1v1h-1zM113 520h1v1h-1zM131 475h1v1h-1zM132 515h1v1h-1zM129 506h1v1h-1zM163 489h1v1h-1zM122 490h1v1h-1zM158 538h1v1h-1zM136 479h1v1h-1zM163 526h1v1h-1zM98 522h1v1h-1zM133 490h1v1h-1zM161 537h1v1h-1zM160 504h1v1h-1zM131 501h1v1h-1zM159 498h1v1h-1zM150 518h1v1h-1zM133 488h1v1h-1zM127 493h1v1h-1zM137 526h1v1h-1zM160 495h1v1h-1zM140 473h1v1h-1zM129 512h1v1h-1zM113 484h1v1h-1zM136 511h1v1h-1zM149 479h1v1h-1zM122 474h1v1h-1zM140 492h1v1h-1zM133 493h1v1h-1zM115 499h1v1h-1zM148 469h1v1h-1zM121 539h1v1h-1zM127 514h1v1h-1zM161 501h1v1h-1zM121 503h1v1h-1zM160 520h1v1h-1zM157 473h1v1h-1zM148 510h1v1h-1zM136 469h1v1h-1zM116 522h1v1h-1zM142 485h1v1h-1zM147 493h1v1h-1zM131 535h1v1h-1zM123 522h1v1h-1zM155 465h1v1h-1zM122 481h1v1h-1zM147 503h1v1h-1zM132 492h1v1h-1zM111 517h1v1h-1zM167 482h1v1h-1zM149 476h1v1h-1zM116 493h1v1h-1zM138 511h1v1h-1zM145 516h1v1h-1zM127 528h1v1h-1zM168 504h1v1h-1zM105 493h1v1h-1zM152 515h1v1h-1zM108 496h1v1h-1zM113 487h1v1h-1zM118 487h1v1h-1zM149 520h1v1h-1zM127 534h1v1h-1zM128 530h1v1h-1zM124 460h1v1h-1zM114 524h1v1h-1zM124 471h1v1h-1zM123 490h1v1h-1zM134 512h1v1h-1zM133 466h1v1h-1zM98 468h1v1h-1zM128 480h1v1h-1zM160 538h1v1h-1zM131 524h1v1h-1zM138 476h1v1h-1zM127 501h1v1h-1zM127 501h1v1h-1zM138 505h1v1h-1zM116 481h1v1h-1zM136 533h1v1h-1zM110 489h1v1h-1zM144 518h1v1h-1zM112 458h1v1h-1zM150 507h1v1h-1zM156 501h1v1h-1zM111 531h1v1h-1zM132 511h1v1h-1zM158 517h1v1h-1zM129 492h1v1h-1zM134 530h1v1h-1zM134 548h1v1h-1zM160 519h1v1h-1zM105 517h1v1h-1zM151 530h1v1h-1zM140 509h1v1h-1zM130 527h1v1h-1zM134 512h1v1h-1zM154 482h1v1h-1zM152 473h1v1h-1zM167 526h1v1h-1zM127 512h1v1h-1zM106 482h1v1h-1zM129 499h1v1h-1zM135 533h1v1h-1zM131 457h1v1h-1zM159 476h1v1h-1zM145 518h1v1h-1zM108 470h1v1h-1zM156 474h1v1h-1zM127 502h1v1h-1zM139 532h1v1h-1zM153 498h1v1h-1zM137 523h1v1h-1zM143 497h1v1h-1zM151 487h1v1h-1zM149 470h1v1h-1zM87 504h1v1h-1zM125 508h1v1h-1zM128 506h1v1h-1zM152 508h1v1h-1zM142 518h1v1h-1zM153 539h1v1h-1zM114 472h1v1h-1zM134 496h1v1h-1zM149 487h1v1h-1zM137 538h1v1h-1zM131 491h1v1h-1zM143 459h1v1h-1zM166 497h1v1h-1zM102 480h1v1h-1zM165 480h1v1h-1zM143 487h1v1h-1zM124 467h1v1h-1zM139 545h1v1h-1zM159 495h1v1h-1zM124 476h1v1h-1zM155 513h1v1h-1zM123 530h1v1h-1zM150 487h1v1h-1zM137 505h1v1h-1zM149 478h1v1h-1zM128 509h1v1h-1zM156 468h1v1h-1zM130 482h1v1h-1zM126 495h1v1h-1zM136 508h1v1h-1zM137 499h1v1h-1zM124 482h1v1h-1zM152 489h1v1h-1zM148 549h1v1h-1zM113 488h1v1h-1zM116 491h1v1h-1zM134 504h1v1h-1zM121 512h1v1h-1zM136 506h1v1h-1zM148 482h1v1h-1zM157 458h1v1h-1zM163 494h1v1h-1zM152 479h1v1h-1zM126 485h1v1h-1zM148 498h1v1h-1zM129 504h1v1h-1zM147 529h1v1h-1zM120 494h1v1h-1zM145 512h1v1h-1zM133 520h1v1h-1zM115 458h1v1h-1zM143 512h1v1h-1zM129 502h1v1h-1zM142 485h1v1h-1zM126 502h1v1h-1zM129 507h1v1h-1zM149 512h1v1h-1zM163 525h1v1h-1zM117 498h1v1h-1zM135 498h1v1h-1zM136 472h1v1h-1zM131 491h1v1h-1zM124 516h1v1h-1zM144 525h1v1h-1zM130 466h1v1h-1zM137 527h1v1h-1zM99 469h1v1h-1zM135 482h1v1h-1zM122 524h1v1h-1zM167 491h1v1h-1zM134 515h1v1h-1zM128 480h1v1h-1zM124 501h1v1h-1zM156 498h1v1h-1zM139 500h1v1h-1zM133 517h1v1h-1zM116 487h1v1h-1zM123 490h1v1h-1zM144 466h1v1h-1zM138 495h1v1h-1zM104 486h1v1h-1zM123 519h1v1h-1zM142 514h1v1h-1zM125 509h1v1h-1zM100 530h1v1h-1zM151 493h1v1h-1zM130 470h1v1h-1zM148 511h1v1h-1zM134 515h1v1h-1zM116 479h1v1h-1zM136 505h1v1h-1zM108 510h1v1h-1zM155 507h1v1h-1zM117 479h1v1h-1zM162 477h1v1h-1zM144 494h1v1h-1zM135 492h1v1h-1zM144 536h1v1h-1zM128 492h1v1h-1zM137 494h1v1h-1zM166 494h1v1h-1zM129 460h1v1h-1zM152 486h1v1h-1zM123 465h1v1h-1zM138 501h1v1h-1zM118 471h1v1h-1zM144 504h1v1h-1zM119 460h1v1h-1zM131 522h1v1h-1zM153 466h1v1h-1zM150 498h1v1h-1zM123 505h1v1h-1zM136 472h1v1h-1zM141 457h1v1h-1zM112 535h1v1h-1zM145 484h1v1h-1zM161 510h1v1h-1zM159 480h1v1h-1zM128 507h1v1h-1zM131 466h1v1h-1zM122 465h1v1h-1zM130 473h1v1h-1zM134 483h1v1h-1zM150 483h1v1h-1zM140 490h1v1h-1zM123 508h1v1h-1zM152 485h1v1h-1zM153 520h1v1h-1zM128 482h1v1h-1zM134 514h1v1h-1zM137 529h1v1h-1zM110 540h1v1h-1zM150 539h1v1h-1zM142 532h1v1h-1zM133 498h1v1h-1zM136 506h1v1h-1zM149 475h1v1h-1zM152 520h1v1h-1zM124 514h1v1h-1zM142 485h1v1h-1zM149 483h1v1h-1zM104 519h1v1h-1zM162 523h1v1h-1zM135 516h1v1h-1zM153 489h1v1h-1zM138 498h1v1h-1zM134 520h1v1h-1zM137 518h1v1h-1zM143 525h1v1h-1zM153 501h1v1h-1zM134 481h1v1h-1zM119 505h1v1h-1zM127 509h1v1h-1zM122 485h1v1h-1zM151 509h1v1h-1zM122 478h1v1h-1zM164 504h1v1h-1zM141 483h1v1h-1zM137 549h1v1h-1zM161 527h1v1h-1zM132 504h1v1h-1zM133 466h1v1h-1zM152 468h1v1h-1zM151 515h1v1h-1zM122 494h1v1h-1zM148 460h1v1h-1zM117 462h1v1h-1zM136 501h1v1h-1zM154 493h1v1h-1zM142 466h1v1h-1zM153 479h1v1h-1zM154 488h1v1h-1zM150 538h1v1h-1zM127 506h1v1h-1zM164 501h1v1h-1zM127 484h1v1h-1zM155 527h1v1h-1zM150 463h1v1h-1zM124 472h1v1h-1zM127 498h1v1h-1zM136 463h1v1h-1zM146 521h1v1h-1zM161 483h1v1h-1zM140 511h1v1h-1zM154 492h1v1h-1zM128 498h1v1h-1zM140 472h1v1h-1zM130 487h1v1h-1zM138 551h1v1h-1zM152 517h1v1h-1zM144 515h1v1h-1zM156 473h1v1h-1zM127 519h1v1h-1zM125 528h1v1h-1zM115 516h1v1h-1zM132 466h1v1h-1zM140 472h1v1h-1zM136 492h1v1h-1zM139 475h1v1h-1zM121 510h1v1h-1zM135 498h1v1h-1zM131 500h1v1h-1zM124 508h1v1h-1zM162 517h1v1h-1zM139 482h1v1h-1zM161 482h1v1h-1zM120 527h1v1h-1zM125 505h1v1h-1zM139 489h1v1h-1zM137 501h1v1h-1zM149 496h1v1h-1zM117 513h1v1h-1zM147 520h1v1h-1zM152 478h1v1h-1zM129 469h1v1h-1zM101 536h1v1h-1zM128 481h1v1h-1zM133 461h1v1h-1zM129 497h1v1h-1zM120 482h1v1h-1zM146 475h1v1h-1zM152 472h1v1h-1zM140 522h1v1h-1zM158 503h1v1h-1zM148 498h1v1h-1zM109 467h1v1h-1zM143 493h1v1h-1zM153 514h1v1h-1zM140 502h1v1h-1zM164 523h1v1h-1zM132 500h1v1h-1zM152 514h1v1h-1zM119 509h1v1h-1zM140 484h1v1h-1zM130 530h1v1h-1zM123 506h1v1h-1zM117 518h1v1h-1zM143 472h1v1h-1zM147 472h1v1h-1zM129 493h1v1h-1zM119 478h1v1h-1zM125 513h1v1h-1zM153 508h1v1h-1zM119 527h1v1h-1zM159 512h1v1h-1zM111 471h1v1h-1zM144 520h1v1h-1zM151 482h1v1h-1zM160 480h1v1h-1zM132 499h1v1h-1zM127 498h1v1h-1zM116 523h1v1h-1zM138 508h1v1h-1zM132 533h1v1h-1zM133 493h1v1h-1zM144 506h1v1h-1zM140 485h1v1h-1zM160 488h1v1h-1zM103 530h1v1h-1zM154 509h1v1h-1zM131 508h1v1h-1zM138 479h1v1h-1zM134 539h1v1h-1zM138 493h1v1h-1zM153 482h1v1h-1zM144 497h1v1h-1zM115 514h1v1h-1zM139 516h1v1h-1zM138 533h1v1h-1zM146 472h1v1h-1zM141 487h1v1h-1zM138 535h1v1h-1zM157 552h1v1h-1zM121 483h1v1h-1zM130 461h1v1h-1zM122 478h1v1h-1zM153 477h1v1h-1zM158 495h1v1h-1zM161 469h1v1h-1zM165 520h1v1h-1zM148 496h1v1h-1zM141 492h1v1h-1zM146 520h1v1h-1zM140 491h1v1h-1zM131 468h1v1h-1zM167 498h1v1h-1zM171 550h1v1h-1zM140 500h1v1h-1zM136 510h1v1h-1zM132 493h1v1h-1zM111 493h1v1h-1zM128 510h1v1h-1zM140 468h1v1h-1zM123 484h1v1h-1zM108 491h1v1h-1zM151 533h1v1h-1zM104 513h1v1h-1zM138 507h1v1h-1zM155 514h1v1h-1zM120 534h1v1h-1zM116 474h1v1h-1zM141 486h1v1h-1zM136 502h1v1h-1zM129 505h1v1h-1zM166 508h1v1h-1zM151 460h1v1h-1zM139 516h1v1h-1zM135 518h1v1h-1zM136 510h1v1h-1zM165 502h1v1h-1zM161 483h1v1h-1zM130 521h1v1h-1zM153 546h1v1h-1zM167 510h1v1h-1zM151 472h1v1h-1zM124 463h1v1h-1zM136 470h1v1h-1zM135 473h1v1h-1zM142 525h1v1h-1zM141 505h1v1h-1zM134 497h1v1h-1zM155 519h1v1h-1zM164 498h1v1h-1zM131 499h1v1h-1zM116 478h1v1h-1zM147 483h1v1h-1zM141 498h1v1h-1zM148 470h1v1h-1zM129 537h1v1h-1zM146 501h1v1h-1zM125 485h1v1h-1zM159 521h1v1h-1zM169 472h1v1h-1zM125 523h1v1h-1zM97 500h1v1h-1zM133 543h1v1h-1zM132 485h1v1h-1zM144 488h1v1h-1zM141 478h1v1h-1zM149 468h1v1h-1zM132 472h1v1h-1zM135 505h1v1h-1zM148 482h1v1h-1zM110 523h1v1h-1zM131 508h1v1h-1zM117 499h1v1h-1zM127 498h1v1h-1zM150 483h1v1h-1zM156 539h1v1h-1zM162 488h1v1h-1zM149 508h1v1h-1zM129 491h1v1h-1zM151 489h1v1h-1zM140 500h1v1h-1zM106 471h1v1h-1zM169 486h1v1h-1zM154 464h1v1h-1zM148 507h1v1h-1zM140 477h1v1h-1zM132 480h1v1h-1zM125 513h1v1h-1zM115 497h1v1h-1zM157 494h1v1h-1zM153 507h1v1h-1zM148 500h1v1h-1zM109 471h1v1h-1zM137 503h1v1h-1zM144 489h1v1h-1zM161 492h1v1h-1zM125 504h1v1h-1zM146 484h1v1h-1zM138 472h1v1h-1zM142 526h1v1h-1zM128 542h1v1h-1zM148 489h1v1h-1zM143 525h1v1h-1zM110 507h1v1h-1zM162 482h1v1h-1zM127 491h1v1h-1zM161 487h1v1h-1zM125 490h1v1h-1zM133 495h1v1h-1zM145 518h1v1h-1zM168 471h1v1h-1zM147 472h1v1h-1zM159 520h1v1h-1zM139 516h1v1h-1zM166 532h1v1h-1zM154 482h1v1h-1zM132 525h1v1h-1zM136 495h1v1h-1zM126 495h1v1h-1zM152 477h1v1h-1zM151 507h1v1h-1zM158 510h1v1h-1zM156 460h1v1h-1zM169 514h1v1h-1zM125 491h1v1h-1zM111 470h1v1h-1zM153 544h1v1h-1zM123 487h1v1h-1zM165 471h1v1h-1zM145 528h1v1h-1zM120 462h1v1h-1zM132 466h1v1h-1zM145 481h1v1h-1zM120 517h1v1h-1zM148 522h1v1h-1zM128 496h1v1h-1zM156 488h1v1h-1zM138 460h1v1h-1zM137 509h1v1h-1zM150 481h1v1h-1zM162 512h1v1h-1zM138 522h1v1h-1zM163 499h1v1h-1zM147 475h1v1h-1zM123 530h1v1h-1zM146 504h1v1h-1zM127 532h1v1h-1zM153 495h1v1h-1zM126 493h1v1h-1zM113 459h1v1h-1zM139 482h1v1h-1zM151 521h1v1h-1zM146 511h1v1h-1zM127 485h1v1h-1zM156 505h1v1h-1zM137 526h1v1h-1zM155 472h1v1h-1zM127 505h1v1h-1zM150 523h1v1h-1zM162 481h1v1h-1zM131 529h1v1h-1zM137 496h1v1h-1zM153 524h1v1h-1zM151 520h1v1h-1zM148 504h1v1h-1zM140 491h1v1h-1zM116 482h1v1h-1zM142 502h1v1h-1zM120 503h1v1h-1zM144 531h1v1h-1zM103 496h1v1h-1zM166 506h1v1h-1zM150 505h1v1h-1zM128 509h1v1h-1zM137 536h1v1h-1zM157 500h1v1h-1zM153 507h1v1h-1zM130 516h1v1h-1zM162 495h1v1h-1zM154 471h1v1h-1zM151 463h1v1h-1zM136 493h1v1h-1zM142 525h1v1h-1zM130 522h1v1h-1zM145 537h1v1h-1zM131 519h1v1h-1zM162 482h1v1h-1zM143 463h1v1h-1zM146 485h1v1h-1zM148 491h1v1h-1zM147 480h1v1h-1zM118 520h1v1h-1zM164 479h1v1h-1zM144 512h1v1h-1zM133 516h1v1h-1zM131 488h1v1h-1zM132 528h1v1h-1zM142 518h1v1h-1zM128 501h1v1h-1zM144 471h1v1h-1zM144 481h1v1h-1zM130 500h1v1h-1zM140 510h1v1h-1zM148 496h1v1h-1zM144 503h1v1h-1zM139 516h1v1h-1zM165 474h1v1h-1zM141 498h1v1h-1zM127 527h1v1h-1zM151 524h1v1h-1zM106 479h1v1h-1zM144 498h1v1h-1zM139 480h1v1h-1zM147 488h1v1h-1zM116 501h1v1h-1zM134 489h1v1h-1zM124 484h1v1h-1zM133 470h1v1h-1zM152 460h1v1h-1zM138 493h1v1h-1zM132 502h1v1h-1zM161 512h1v1h-1zM142 478h1v1h-1zM107 480h1v1h-1zM124 528h1v1h-1zM148 508h1v1h-1zM149 519h1v1h-1zM145 484h1v1h-1zM146 481h1v1h-1zM126 470h1v1h-1zM140 521h1v1h-1zM121 470h1v1h-1zM126 480h1v1h-1zM127 528h1v1h-1zM135 498h1v1h-1zM137 503h1v1h-1zM128 500h1v1h-1zM159 497h1v1h-1zM133 494h1v1h-1zM167 464h1v1h-1zM158 537h1v1h-1zM120 494h1v1h-1zM156 527h1v1h-1zM117 460h1v1h-1zM165 511h1v1h-1zM146 469h1v1h-1zM124 467h1v1h-1zM104 504h1v1h-1zM134 522h1v1h-1zM118 530h1v1h-1zM159 529h1v1h-1zM119 491h1v1h-1zM136 516h1v1h-1zM149 483h1v1h-1zM140 485h1v1h-1zM145 503h1v1h-1zM136 495h1v1h-1zM152 518h1v1h-1zM105 503h1v1h-1zM110 477h1v1h-1zM112 479h1v1h-1zM114 493h1v1h-1zM121 495h1v1h-1zM113 536h1v1h-1zM110 481h1v1h-1zM110 490h1v1h-1zM114 463h1v1h-1zM118 510h1v1h-1zM114 506h1v1h-1zM108 532h1v1h-1zM109 553h1v1h-1zM106 519h1v1h-1zM105 485h1v1h-1zM108 511h1v1h-1zM108 513h1v1h-1zM118 504h1v1h-1zM103 479h1v1h-1zM113 514h1v1h-1zM103 476h1v1h-1zM118 503h1v1h-1zM114 498h1v1h-1zM116 521h1v1h-1zM112 497h1v1h-1zM107 490h1v1h-1zM108 528h1v1h-1zM104 473h1v1h-1zM110 506h1v1h-1zM113 511h1v1h-1zM114 492h1v1h-1zM131 504h1v1h-1zM111 485h1v1h-1zM113 491h1v1h-1zM111 522h1v1h-1zM110 484h1v1h-1zM110 491h1v1h-1zM112 488h1v1h-1zM110 518h1v1h-1zM118 496h1v1h-1zM115 485h1v1h-1zM105 514h1v1h-1zM114 459h1v1h-1zM110 513h1v1h-1zM110 551h1v1h-1zM111 493h1v1h-1zM117 514h1v1h-1zM113 471h1v1h-1zM108 509h1v1h-1zM112 510h1v1h-1zM122 520h1v1h-1zM105 487h1v1h-1zM117 553h1v1h-1zM110 482h1v1h-1zM141 543h1v1h-1zM117 479h1v1h-1zM112 525h1v1h-1zM111 539h1v1h-1zM108 503h1v1h-1zM127 465h1v1h-1zM115 526h1v1h-1zM110 488h1v1h-1zM112 479h1v1h-1zM112 491h1v1h-1zM105 483h1v1h-1zM113 524h1v1h-1zM116 510h1v1h-1zM101 523h1v1h-1zM110 527h1v1h-1zM91 496h1v1h-1zM99 523h1v1h-1zM118 536h1v1h-1zM121 551h1v1h-1zM126 510h1v1h-1zM102 499h1v1h-1zM111 483h1v1h-1zM109 496h1v1h-1zM120 506h1v1h-1zM115 512h1v1h-1zM113 473h1v1h-1zM117 496h1v1h-1zM109 501h1v1h-1zM119 491h1v1h-1zM109 491h1v1h-1zM120 514h1v1h-1zM113 482h1v1h-1zM114 517h1v1h-1zM103 479h1v1h-1zM100 511h1v1h-1zM100 478h1v1h-1zM116 535h1v1h-1zM96 524h1v1h-1zM122 539h1v1h-1zM110 485h1v1h-1zM102 473h1v1h-1zM115 473h1v1h-1zM103 500h1v1h-1zM112 532h1v1h-1zM110 523h1v1h-1zM121 522h1v1h-1zM119 476h1v1h-1zM119 533h1v1h-1zM109 524h1v1h-1zM122 492h1v1h-1zM113 486h1v1h-1zM115 503h1v1h-1zM114 545h1v1h-1zM102 511h1v1h-1zM117 504h1v1h-1zM100 545h1v1h-1zM116 544h1v1h-1zM112 515h1v1h-1zM113 521h1v1h-1zM104 537h1v1h-1zM120 488h1v1h-1zM111 516h1v1h-1zM118 495h1v1h-1zM106 482h1v1h-1zM107 518h1v1h-1zM113 533h1v1h-1zM120 552h1v1h-1zM102 525h1v1h-1zM108 534h1v1h-1zM108 502h1v1h-1zM110 469h1v1h-1zM109 490h1v1h-1zM120 516h1v1h-1zM117 491h1v1h-1zM112 553h1v1h-1zM118 536h1v1h-1zM120 501h1v1h-1zM107 549h1v1h-1zM107 522h1v1h-1zM117 547h1v1h-1zM128 502h1v1h-1zM94 526h1v1h-1zM107 500h1v1h-1zM118 506h1v1h-1zM106 535h1v1h-1zM119 554h1v1h-1zM114 509h1v1h-1zM102 514h1v1h-1zM109 484h1v1h-1zM115 501h1v1h-1zM105 519h1v1h-1zM117 475h1v1h-1zM114 495h1v1h-1zM110 479h1v1h-1zM115 511h1v1h-1zM109 528h1v1h-1zM114 515h1v1h-1zM104 499h1v1h-1zM123 481h1v1h-1zM110 466h1v1h-1zM121 507h1v1h-1zM128 544h1v1h-1zM124 500h1v1h-1zM112 505h1v1h-1zM113 495h1v1h-1zM112 478h1v1h-1zM114 533h1v1h-1zM106 524h1v1h-1zM98 470h1v1h-1zM114 475h1v1h-1zM112 540h1v1h-1zM124 484h1v1h-1zM126 505h1v1h-1zM102 481h1v1h-1zM105 514h1v1h-1zM118 487h1v1h-1zM121 491h1v1h-1zM113 479h1v1h-1zM112 553h1v1h-1zM130 512h1v1h-1zM107 523h1v1h-1zM116 520h1v1h-1zM115 506h1v1h-1zM105 504h1v1h-1zM119 497h1v1h-1zM123 526h1v1h-1zM112 476h1v1h-1zM113 486h1v1h-1zM117 524h1v1h-1zM120 471h1v1h-1zM119 547h1v1h-1zM105 500h1v1h-1zM105 511h1v1h-1zM108 539h1v1h-1zM91 505h1v1h-1zM102 510h1v1h-1zM111 492h1v1h-1zM107 519h1v1h-1zM106 524h1v1h-1zM119 484h1v1h-1zM115 523h1v1h-1zM118 531h1v1h-1zM111 518h1v1h-1zM109 488h1v1h-1zM105 530h1v1h-1zM114 540h1v1h-1zM98 494h1v1h-1zM105 461h1v1h-1zM117 489h1v1h-1zM119 507h1v1h-1zM112 539h1v1h-1zM103 536h1v1h-1zM116 523h1v1h-1zM106 490h1v1h-1zM111 525h1v1h-1zM105 506h1v1h-1zM126 481h1v1h-1zM123 462h1v1h-1zM106 531h1v1h-1zM103 466h1v1h-1zM112 538h1v1h-1zM122 507h1v1h-1zM112 485h1v1h-1zM103 490h1v1h-1zM114 489h1v1h-1zM114 516h1v1h-1zM100 531h1v1h-1zM110 487h1v1h-1zM110 498h1v1h-1zM105 490h1v1h-1zM114 535h1v1h-1zM120 531h1v1h-1zM120 485h1v1h-1zM105 499h1v1h-1zM108 510h1v1h-1zM117 462h1v1h-1zM109 493h1v1h-1zM109 510h1v1h-1zM129 471h1v1h-1zM92 512h1v1h-1zM107 507h1v1h-1zM106 492h1v1h-1zM112 532h1v1h-1zM125 483h1v1h-1zM111 517h1v1h-1zM110 500h1v1h-1zM113 534h1v1h-1zM110 487h1v1h-1zM115 521h1v1h-1zM131 522h1v1h-1zM107 535h1v1h-1zM110 547h1v1h-1zM111 468h1v1h-1zM96 504h1v1h-1zM117 479h1v1h-1zM112 531h1v1h-1zM97 540h1v1h-1zM110 499h1v1h-1zM113 512h1v1h-1zM105 539h1v1h-1zM120 511h1v1h-1zM107 503h1v1h-1zM101 465h1v1h-1zM118 489h1v1h-1zM111 531h1v1h-1zM113 470h1v1h-1zM100 514h1v1h-1zM101 512h1v1h-1zM104 506h1v1h-1zM111 526h1v1h-1zM111 488h1v1h-1zM123 541h1v1h-1zM124 495h1v1h-1zM113 532h1v1h-1zM111 492h1v1h-1zM126 513h1v1h-1zM112 498h1v1h-1zM120 548h1v1h-1zM108 480h1v1h-1zM111 490h1v1h-1zM110 543h1v1h-1zM107 527h1v1h-1zM115 505h1v1h-1zM106 500h1v1h-1zM111 474h1v1h-1zM115 499h1v1h-1zM128 515h1v1h-1zM97 536h1v1h-1zM113 530h1v1h-1zM117 543h1v1h-1zM109 516h1v1h-1zM119 488h1v1h-1zM116 498h1v1h-1zM116 545h1v1h-1zM109 509h1v1h-1zM110 542h1v1h-1zM110 467h1v1h-1zM104 494h1v1h-1zM113 486h1v1h-1zM104 513h1v1h-1zM105 487h1v1h-1zM101 473h1v1h-1zM120 504h1v1h-1zM105 491h1v1h-1zM118 517h1v1h-1zM109 477h1v1h-1zM115 505h1v1h-1zM111 484h1v1h-1zM115 498h1v1h-1zM113 512h1v1h-1zM95 518h1v1h-1zM123 517h1v1h-1zM120 487h1v1h-1zM101 545h1v1h-1zM119 515h1v1h-1zM110 490h1v1h-1zM113 540h1v1h-1zM122 496h1v1h-1zM119 528h1v1h-1zM127 504h1v1h-1zM120 494h1v1h-1zM107 485h1v1h-1zM102 487h1v1h-1zM118 499h1v1h-1zM99 541h1v1h-1zM109 511h1v1h-1zM109 505h1v1h-1zM107 517h1v1h-1zM122 499h1v1h-1zM114 475h1v1h-1zM110 469h1v1h-1zM119 543h1v1h-1zM109 500h1v1h-1zM121 547h1v1h-1zM111 514h1v1h-1zM111 526h1v1h-1zM121 498h1v1h-1zM97 503h1v1h-1zM102 509h1v1h-1zM104 507h1v1h-1zM100 545h1v1h-1zM112 504h1v1h-1zM114 530h1v1h-1zM112 510h1v1h-1zM112 523h1v1h-1zM119 554h1v1h-1zM120 467h1v1h-1zM121 537h1v1h-1zM111 491h1v1h-1zM112 512h1v1h-1zM123 498h1v1h-1zM115 495h1v1h-1zM122 472h1v1h-1zM107 529h1v1h-1zM112 501h1v1h-1zM115 459h1v1h-1zM109 524h1v1h-1zM127 547h1v1h-1zM101 518h1v1h-1zM119 463h1v1h-1zM104 494h1v1h-1zM114 514h1v1h-1zM106 505h1v1h-1zM113 535h1v1h-1zM113 482h1v1h-1zM106 490h1v1h-1zM107 536h1v1h-1zM112 523h1v1h-1zM118 496h1v1h-1zM124 460h1v1h-1zM99 529h1v1h-1zM115 470h1v1h-1zM108 474h1v1h-1zM112 457h1v1h-1zM114 470h1v1h-1zM118 482h1v1h-1zM115 478h1v1h-1zM112 535h1v1h-1zM124 525h1v1h-1zM114 508h1v1h-1zM112 492h1v1h-1zM121 505h1v1h-1zM103 472h1v1h-1zM105 517h1v1h-1zM123 482h1v1h-1zM110 493h1v1h-1zM98 515h1v1h-1zM118 483h1v1h-1zM121 470h1v1h-1zM106 533h1v1h-1zM102 461h1v1h-1zM112 473h1v1h-1zM115 476h1v1h-1zM107 487h1v1h-1zM105 502h1v1h-1zM116 493h1v1h-1zM100 543h1v1h-1zM103 537h1v1h-1zM109 529h1v1h-1zM107 504h1v1h-1zM114 512h1v1h-1zM116 492h1v1h-1zM126 462h1v1h-1zM115 515h1v1h-1zM119 534h1v1h-1zM100 514h1v1h-1zM107 505h1v1h-1zM120 529h1v1h-1zM101 514h1v1h-1zM122 535h1v1h-1zM116 495h1v1h-1zM113 459h1v1h-1zM109 536h1v1h-1zM115 535h1v1h-1zM116 538h1v1h-1zM92 549h1v1h-1zM124 475h1v1h-1zM159 508h1v1h-1zM130 496h1v1h-1zM105 497h1v1h-1zM131 524h1v1h-1zM165 495h1v1h-1zM127 550h1v1h-1zM129 474h1v1h-1zM152 478h1v1h-1zM95 545h1v1h-1zM115 485h1v1h-1zM122 495h1v1h-1zM115 504h1v1h-1zM134 530h1v1h-1zM152 547h1v1h-1zM123 524h1v1h-1zM153 483h1v1h-1zM125 542h1v1h-1zM162 491h1v1h-1zM116 469h1v1h-1zM125 464h1v1h-1zM145 540h1v1h-1zM91 511h1v1h-1zM161 484h1v1h-1zM125 467h1v1h-1zM120 553h1v1h-1zM99 536h1v1h-1zM98 533h1v1h-1zM128 500h1v1h-1zM155 480h1v1h-1zM138 496h1v1h-1zM163 524h1v1h-1zM169 521h1v1h-1zM131 471h1v1h-1zM106 543h1v1h-1zM165 517h1v1h-1zM108 515h1v1h-1zM135 522h1v1h-1zM106 513h1v1h-1zM161 552h1v1h-1zM151 482h1v1h-1zM132 527h1v1h-1zM160 520h1v1h-1zM145 554h1v1h-1zM140 525h1v1h-1zM144 483h1v1h-1zM161 497h1v1h-1zM122 547h1v1h-1zM146 469h1v1h-1zM118 534h1v1h-1zM143 510h1v1h-1zM133 465h1v1h-1zM150 540h1v1h-1zM134 479h1v1h-1zM130 492h1v1h-1zM97 510h1v1h-1zM94 492h1v1h-1zM159 541h1v1h-1zM126 553h1v1h-1zM168 549h1v1h-1zM126 508h1v1h-1zM98 535h1v1h-1zM150 491h1v1h-1zM116 506h1v1h-1zM140 510h1v1h-1zM93 502h1v1h-1zM162 480h1v1h-1zM105 547h1v1h-1zM120 523h1v1h-1zM123 495h1v1h-1zM132 490h1v1h-1zM165 472h1v1h-1zM160 506h1v1h-1zM120 493h1v1h-1zM120 546h1v1h-1zM149 472h1v1h-1zM117 481h1v1h-1zM108 523h1v1h-1zM165 488h1v1h-1zM150 493h1v1h-1zM123 550h1v1h-1zM106 483h1v1h-1zM130 476h1v1h-1zM124 493h1v1h-1zM114 498h1v1h-1zM136 508h1v1h-1zM104 530h1v1h-1zM111 475h1v1h-1zM134 479h1v1h-1zM123 548h1v1h-1zM123 526h1v1h-1zM143 471h1v1h-1zM96 517h1v1h-1zM150 540h1v1h-1zM167 484h1v1h-1zM163 507h1v1h-1zM161 536h1v1h-1zM94 487h1v1h-1zM115 529h1v1h-1zM98 500h1v1h-1zM98 517h1v1h-1zM104 520h1v1h-1zM94 468h1v1h-1zM164 524h1v1h-1zM138 536h1v1h-1zM116 479h1v1h-1zM110 469h1v1h-1zM90 511h1v1h-1zM92 509h1v1h-1zM142 504h1v1h-1zM128 545h1v1h-1zM115 467h1v1h-1zM127 521h1v1h-1zM120 541h1v1h-1zM146 537h1v1h-1zM134 530h1v1h-1zM124 480h1v1h-1zM90 481h1v1h-1zM134 501h1v1h-1zM159 535h1v1h-1zM110 469h1v1h-1zM117 467h1v1h-1zM150 546h1v1h-1zM103 496h1v1h-1zM137 519h1v1h-1zM139 549h1v1h-1zM153 470h1v1h-1zM161 499h1v1h-1zM157 541h1v1h-1zM105 479h1v1h-1zM152 546h1v1h-1zM138 529h1v1h-1zM123 498h1v1h-1zM94 538h1v1h-1zM137 502h1v1h-1zM124 543h1v1h-1zM137 517h1v1h-1zM101 525h1v1h-1zM146 481h1v1h-1zM101 477h1v1h-1zM101 499h1v1h-1zM144 488h1v1h-1zM163 505h1v1h-1zM147 478h1v1h-1zM165 525h1v1h-1zM102 512h1v1h-1zM97 478h1v1h-1zM128 469h1v1h-1zM111 516h1v1h-1zM112 554h1v1h-1zM105 552h1v1h-1zM149 501h1v1h-1zM122 547h1v1h-1zM130 471h1v1h-1zM102 461h1v1h-1zM141 472h1v1h-1zM145 463h1v1h-1zM118 472h1v1h-1zM134 507h1v1h-1zM110 541h1v1h-1zM97 531h1v1h-1zM103 511h1v1h-1zM90 467h1v1h-1zM162 522h1v1h-1zM167 521h1v1h-1zM103 538h1v1h-1zM156 513h1v1h-1zM136 493h1v1h-1zM151 488h1v1h-1zM138 508h1v1h-1zM131 487h1v1h-1zM119 553h1v1h-1zM120 470h1v1h-1zM160 525h1v1h-1zM113 499h1v1h-1zM103 500h1v1h-1zM169 512h1v1h-1zM113 491h1v1h-1zM98 530h1v1h-1zM112 519h1v1h-1zM154 507h1v1h-1zM153 502h1v1h-1zM161 515h1v1h-1zM162 530h1v1h-1zM170 477h1v1h-1zM116 474h1v1h-1zM108 476h1v1h-1zM166 498h1v1h-1zM163 510h1v1h-1zM132 502h1v1h-1zM115 534h1v1h-1zM106 523h1v1h-1zM168 524h1v1h-1zM141 511h1v1h-1zM139 553h1v1h-1zM105 464h1v1h-1zM105 506h1v1h-1zM124 495h1v1h-1zM155 491h1v1h-1zM111 500h1v1h-1zM95 532h1v1h-1zM139 501h1v1h-1zM149 475h1v1h-1zM164 482h1v1h-1zM141 510h1v1h-1zM110 497h1v1h-1zM133 516h1v1h-1zM147 484h1v1h-1zM106 554h1v1h-1zM163 493h1v1h-1zM102 497h1v1h-1zM91 520h1v1h-1zM113 541h1v1h-1zM152 543h1v1h-1zM135 513h1v1h-1zM113 542h1v1h-1zM117 524h1v1h-1zM131 494h1v1h-1zM155 507h1v1h-1zM168 492h1v1h-1zM145 536h1v1h-1zM101 517h1v1h-1zM160 511h1v1h-1zM155 493h1v1h-1zM147 531h1v1h-1zM155 486h1v1h-1zM91 491h1v1h-1zM144 462h1v1h-1zM129 471h1v1h-1zM170 492h1v1h-1zM166 492h1v1h-1zM128 502h1v1h-1zM157 523h1v1h-1zM148 487h1v1h-1zM150 477h1v1h-1zM118 520h1v1h-1zM148 529h1v1h-1zM93 548h1v1h-1zM93 509h1v1h-1zM108 467h1v1h-1zM109 493h1v1h-1zM91 526h1v1h-1zM161 499h1v1h-1zM283 499h1v1h-1zM283 489h1v1h-1zM288 493h1v1h-1zM283 494h1v1h-1zM304 473h1v1h-1zM286 488h1v1h-1zM305 488h1v1h-1zM274 483h1v1h-1zM286 528h1v1h-1zM289 487h1v1h-1zM295 491h1v1h-1zM282 494h1v1h-1zM297 506h1v1h-1zM292 470h1v1h-1zM286 530h1v1h-1zM286 476h1v1h-1zM286 491h1v1h-1zM289 480h1v1h-1zM278 480h1v1h-1zM284 505h1v1h-1zM290 513h1v1h-1zM296 477h1v1h-1zM292 538h1v1h-1zM281 483h1v1h-1zM290 484h1v1h-1zM295 496h1v1h-1zM282 519h1v1h-1zM291 486h1v1h-1zM287 500h1v1h-1zM287 506h1v1h-1zM287 472h1v1h-1zM286 489h1v1h-1zM298 525h1v1h-1zM294 495h1v1h-1zM286 530h1v1h-1zM299 473h1v1h-1zM291 488h1v1h-1zM285 501h1v1h-1zM289 494h1v1h-1zM282 471h1v1h-1zM278 493h1v1h-1zM285 500h1v1h-1zM287 499h1v1h-1zM281 496h1v1h-1zM289 514h1v1h-1zM295 501h1v1h-1zM289 513h1v1h-1zM287 510h1v1h-1zM292 476h1v1h-1zM288 479h1v1h-1zM284 516h1v1h-1zM293 494h1v1h-1zM290 496h1v1h-1zM282 510h1v1h-1zM276 499h1v1h-1zM283 545h1v1h-1zM289 516h1v1h-1zM292 491h1v1h-1zM284 490h1v1h-1zM285 482h1v1h-1zM277 513h1v1h-1zM288 506h1v1h-1zM284 476h1v1h-1zM282 508h1v1h-1zM282 497h1v1h-1zM289 494h1v1h-1zM278 482h1v1h-1zM288 488h1v1h-1zM295 475h1v1h-1zM284 515h1v1h-1zM285 516h1v1h-1zM283 487h1v1h-1zM280 489h1v1h-1zM284 494h1v1h-1zM280 507h1v1h-1zM286 493h1v1h-1zM284 479h1v1h-1zM281 484h1v1h-1zM288 494h1v1h-1zM293 486h1v1h-1zM292 481h1v1h-1zM286 513h1v1h-1zM287 497h1v1h-1zM281 507h1v1h-1zM286 471h1v1h-1zM291 505h1v1h-1zM292 489h1v1h-1zM295 484h1v1h-1zM278 475h1v1h-1zM297 476h1v1h-1zM290 479h1v1h-1zM297 491h1v1h-1zM287 487h1v1h-1zM295 529h1v1h-1zM287 498h1v1h-1zM281 494h1v1h-1zM289 487h1v1h-1zM284 473h1v1h-1zM287 472h1v1h-1zM291 496h1v1h-1zM291 521h1v1h-1zM293 520h1v1h-1zM294 513h1v1h-1zM282 511h1v1h-1zM288 512h1v1h-1zM285 502h1v1h-1zM281 522h1v1h-1zM293 473h1v1h-1zM281 480h1v1h-1zM284 501h1v1h-1zM296 490h1v1h-1zM277 505h1v1h-1zM293 509h1v1h-1zM285 485h1v1h-1zM292 497h1v1h-1zM287 508h1v1h-1zM292 478h1v1h-1zM283 471h1v1h-1zM284 486h1v1h-1zM279 493h1v1h-1zM278 526h1v1h-1zM299 521h1v1h-1zM294 508h1v1h-1zM284 509h1v1h-1zM284 515h1v1h-1zM282 480h1v1h-1zM287 512h1v1h-1zM287 473h1v1h-1zM287 496h1v1h-1zM268 504h1v1h-1zM286 497h1v1h-1zM290 495h1v1h-1zM288 503h1v1h-1zM292 487h1v1h-1zM274 512h1v1h-1zM278 505h1v1h-1zM297 492h1v1h-1zM290 533h1v1h-1zM283 494h1v1h-1zM286 519h1v1h-1zM288 486h1v1h-1zM280 484h1v1h-1zM296 513h1v1h-1zM285 504h1v1h-1zM280 483h1v1h-1zM287 507h1v1h-1zM293 497h1v1h-1zM299 501h1v1h-1zM285 488h1v1h-1zM285 507h1v1h-1zM282 528h1v1h-1zM290 485h1v1h-1zM283 522h1v1h-1zM291 487h1v1h-1zM290 501h1v1h-1zM290 493h1v1h-1zM282 476h1v1h-1zM295 492h1v1h-1zM287 480h1v1h-1zM280 501h1v1h-1zM289 470h1v1h-1zM288 507h1v1h-1zM293 500h1v1h-1zM295 501h1v1h-1zM301 501h1v1h-1zM287 510h1v1h-1zM295 499h1v1h-1zM272 508h1v1h-1zM299 474h1v1h-1zM288 500h1v1h-1zM295 474h1v1h-1zM291 485h1v1h-1zM292 502h1v1h-1zM284 490h1v1h-1zM284 525h1v1h-1zM270 503h1v1h-1zM291 498h1v1h-1zM287 492h1v1h-1zM295 490h1v1h-1zM290 490h1v1h-1zM289 524h1v1h-1zM276 473h1v1h-1zM289 487h1v1h-1zM286 475h1v1h-1zM294 492h1v1h-1zM280 495h1v1h-1zM286 490h1v1h-1zM299 493h1v1h-1zM283 542h1v1h-1zM296 488h1v1h-1zM287 499h1v1h-1zM276 489h1v1h-1zM292 511h1v1h-1zM302 534h1v1h-1zM291 523h1v1h-1zM281 496h1v1h-1zM283 498h1v1h-1zM291 472h1v1h-1zM274 477h1v1h-1zM291 489h1v1h-1zM282 482h1v1h-1zM284 474h1v1h-1zM287 497h1v1h-1zM298 475h1v1h-1zM285 515h1v1h-1zM283 502h1v1h-1zM294 481h1v1h-1zM284 498h1v1h-1zM282 476h1v1h-1zM287 477h1v1h-1zM293 510h1v1h-1zM286 499h1v1h-1zM297 528h1v1h-1zM278 538h1v1h-1zM287 477h1v1h-1zM291 485h1v1h-1zM280 505h1v1h-1zM275 473h1v1h-1zM290 491h1v1h-1zM295 501h1v1h-1zM289 524h1v1h-1zM285 487h1v1h-1zM291 503h1v1h-1zM286 499h1v1h-1zM280 490h1v1h-1zM286 482h1v1h-1zM292 496h1v1h-1zM290 503h1v1h-1zM285 481h1v1h-1zM291 496h1v1h-1zM296 495h1v1h-1zM286 496h1v1h-1zM285 522h1v1h-1zM295 510h1v1h-1zM281 521h1v1h-1zM285 475h1v1h-1zM296 472h1v1h-1zM290 511h1v1h-1zM299 482h1v1h-1zM289 501h1v1h-1zM294 498h1v1h-1zM284 500h1v1h-1zM287 505h1v1h-1zM286 476h1v1h-1zM290 507h1v1h-1zM291 473h1v1h-1zM290 510h1v1h-1zM288 493h1v1h-1zM292 477h1v1h-1zM283 517h1v1h-1zM286 493h1v1h-1zM298 504h1v1h-1zM282 496h1v1h-1zM296 487h1v1h-1zM286 491h1v1h-1zM291 498h1v1h-1zM289 512h1v1h-1zM286 501h1v1h-1zM289 507h1v1h-1zM282 495h1v1h-1zM293 492h1v1h-1zM286 498h1v1h-1zM287 491h1v1h-1zM277 490h1v1h-1zM287 487h1v1h-1zM285 485h1v1h-1zM280 495h1v1h-1zM285 478h1v1h-1zM289 488h1v1h-1zM298 503h1v1h-1zM285 519h1v1h-1zM296 497h1v1h-1zM285 505h1v1h-1zM291 500h1v1h-1zM286 523h1v1h-1zM292 531h1v1h-1zM289 475h1v1h-1zM286 503h1v1h-1zM279 495h1v1h-1zM294 521h1v1h-1zM284 475h1v1h-1zM289 517h1v1h-1zM289 494h1v1h-1zM289 502h1v1h-1zM289 497h1v1h-1zM286 494h1v1h-1zM290 497h1v1h-1zM287 480h1v1h-1zM291 495h1v1h-1zM292 487h1v1h-1zM290 477h1v1h-1zM294 476h1v1h-1zM299 515h1v1h-1zM298 473h1v1h-1zM282 502h1v1h-1zM295 518h1v1h-1zM293 496h1v1h-1zM281 500h1v1h-1zM289 517h1v1h-1zM280 487h1v1h-1zM300 483h1v1h-1zM287 476h1v1h-1zM276 511h1v1h-1zM296 476h1v1h-1zM294 471h1v1h-1zM296 484h1v1h-1zM281 488h1v1h-1zM290 497h1v1h-1zM296 476h1v1h-1zM287 524h1v1h-1zM291 528h1v1h-1zM286 491h1v1h-1zM284 483h1v1h-1zM292 483h1v1h-1zM288 494h1v1h-1zM293 492h1v1h-1zM287 513h1v1h-1zM286 485h1v1h-1zM291 490h1v1h-1zM287 518h1v1h-1zM292 497h1v1h-1zM300 475h1v1h-1zM285 492h1v1h-1zM285 480h1v1h-1zM281 487h1v1h-1zM281 490h1v1h-1zM292 483h1v1h-1zM285 506h1v1h-1zM283 486h1v1h-1zM288 506h1v1h-1zM284 502h1v1h-1zM304 493h1v1h-1zM297 481h1v1h-1zM288 490h1v1h-1zM285 502h1v1h-1zM283 495h1v1h-1zM283 513h1v1h-1zM275 534h1v1h-1zM285 506h1v1h-1zM285 500h1v1h-1zM284 492h1v1h-1zM281 506h1v1h-1zM290 516h1v1h-1zM283 483h1v1h-1zM293 509h1v1h-1zM295 498h1v1h-1zM281 499h1v1h-1zM291 477h1v1h-1zM290 477h1v1h-1zM286 474h1v1h-1zM277 521h1v1h-1zM288 476h1v1h-1zM291 473h1v1h-1zM287 490h1v1h-1zM283 503h1v1h-1zM285 472h1v1h-1zM281 479h1v1h-1zM297 496h1v1h-1zM275 508h1v1h-1zM285 475h1v1h-1zM292 479h1v1h-1zM289 527h1v1h-1zM287 504h1v1h-1zM293 495h1v1h-1zM290 474h1v1h-1zM280 521h1v1h-1zM287 515h1v1h-1zM288 491h1v1h-1zM285 474h1v1h-1zM300 479h1v1h-1zM288 499h1v1h-1zM288 500h1v1h-1zM279 496h1v1h-1zM291 474h1v1h-1zM287 499h1v1h-1zM295 485h1v1h-1zM298 506h1v1h-1zM284 493h1v1h-1zM284 504h1v1h-1zM295 495h1v1h-1zM294 479h1v1h-1zM290 512h1v1h-1zM286 502h1v1h-1zM288 479h1v1h-1zM288 481h1v1h-1zM276 494h1v1h-1zM292 478h1v1h-1zM290 489h1v1h-1zM292 495h1v1h-1zM288 486h1v1h-1zM291 491h1v1h-1zM289 508h1v1h-1zM286 470h1v1h-1zM286 507h1v1h-1zM292 485h1v1h-1zM280 510h1v1h-1zM283 481h1v1h-1zM288 487h1v1h-1zM302 487h1v1h-1zM287 494h1v1h-1zM294 471h1v1h-1zM293 479h1v1h-1zM296 530h1v1h-1zM298 477h1v1h-1zM292 521h1v1h-1zM286 493h1v1h-1zM297 496h1v1h-1zM301 506h1v1h-1zM296 488h1v1h-1zM302 475h1v1h-1zM292 490h1v1h-1zM294 520h1v1h-1zM293 505h1v1h-1zM283 526h1v1h-1zM295 498h1v1h-1zM292 495h1v1h-1zM292 471h1v1h-1zM287 473h1v1h-1zM285 497h1v1h-1zM281 474h1v1h-1zM273 514h1v1h-1zM288 522h1v1h-1zM283 487h1v1h-1zM288 509h1v1h-1zM282 511h1v1h-1zM286 492h1v1h-1zM286 485h1v1h-1zM294 514h1v1h-1zM283 502h1v1h-1zM281 485h1v1h-1zM289 478h1v1h-1zM293 488h1v1h-1zM283 507h1v1h-1zM291 502h1v1h-1zM288 476h1v1h-1zM291 485h1v1h-1zM277 492h1v1h-1zM289 480h1v1h-1zM287 486h1v1h-1zM284 472h1v1h-1zM287 494h1v1h-1zM275 493h1v1h-1zM288 482h1v1h-1zM296 532h1v1h-1zM289 485h1v1h-1zM288 502h1v1h-1zM290 494h1v1h-1zM296 479h1v1h-1zM284 502h1v1h-1zM279 510h1v1h-1zM281 489h1v1h-1zM284 498h1v1h-1zM289 546h1v1h-1zM293 470h1v1h-1zM284 484h1v1h-1zM282 500h1v1h-1zM293 488h1v1h-1zM294 472h1v1h-1zM283 479h1v1h-1zM293 484h1v1h-1zM287 483h1v1h-1zM285 489h1v1h-1zM287 520h1v1h-1zM283 493h1v1h-1zM278 481h1v1h-1zM280 502h1v1h-1zM284 501h1v1h-1zM290 476h1v1h-1zM283 495h1v1h-1zM288 506h1v1h-1zM279 484h1v1h-1zM282 513h1v1h-1zM294 477h1v1h-1zM287 482h1v1h-1zM299 487h1v1h-1zM292 492h1v1h-1zM285 522h1v1h-1zM276 500h1v1h-1zM296 490h1v1h-1zM294 512h1v1h-1zM290 523h1v1h-1zM282 514h1v1h-1zM277 510h1v1h-1zM286 486h1v1h-1zM288 510h1v1h-1zM279 489h1v1h-1zM294 486h1v1h-1zM282 483h1v1h-1zM280 477h1v1h-1zM294 475h1v1h-1zM283 499h1v1h-1zM281 508h1v1h-1zM276 511h1v1h-1zM282 510h1v1h-1zM294 500h1v1h-1zM292 505h1v1h-1zM281 497h1v1h-1zM283 470h1v1h-1zM289 492h1v1h-1zM282 472h1v1h-1zM296 506h1v1h-1zM300 499h1v1h-1zM271 480h1v1h-1zM292 479h1v1h-1zM289 485h1v1h-1zM286 505h1v1h-1zM281 504h1v1h-1zM291 513h1v1h-1zM285 504h1v1h-1zM296 479h1v1h-1zM295 480h1v1h-1zM293 492h1v1h-1zM277 481h1v1h-1zM299 504h1v1h-1zM295 491h1v1h-1zM295 528h1v1h-1zM283 478h1v1h-1zM297 509h1v1h-1zM299 491h1v1h-1zM291 498h1v1h-1zM291 490h1v1h-1zM287 510h1v1h-1zM289 499h1v1h-1zM286 479h1v1h-1zM291 486h1v1h-1zM287 484h1v1h-1zM279 490h1v1h-1zM284 493h1v1h-1zM290 480h1v1h-1zM289 477h1v1h-1zM297 488h1v1h-1zM296 496h1v1h-1zM288 496h1v1h-1zM284 488h1v1h-1zM289 497h1v1h-1zM283 508h1v1h-1zM294 498h1v1h-1zM297 507h1v1h-1zM293 486h1v1h-1zM296 505h1v1h-1zM294 502h1v1h-1zM294 486h1v1h-1zM283 490h1v1h-1zM268 508h1v1h-1zM285 509h1v1h-1zM281 472h1v1h-1zM288 511h1v1h-1zM283 495h1v1h-1zM286 526h1v1h-1zM297 514h1v1h-1zM282 529h1v1h-1zM277 505h1v1h-1zM296 477h1v1h-1zM293 481h1v1h-1zM288 510h1v1h-1zM290 500h1v1h-1zM286 480h1v1h-1zM294 514h1v1h-1zM286 477h1v1h-1zM284 473h1v1h-1zM291 507h1v1h-1zM291 509h1v1h-1zM281 494h1v1h-1zM285 476h1v1h-1zM289 501h1v1h-1zM284 478h1v1h-1zM294 501h1v1h-1zM287 490h1v1h-1zM289 503h1v1h-1zM295 527h1v1h-1zM295 498h1v1h-1zM299 516h1v1h-1zM297 508h1v1h-1zM280 508h1v1h-1zM281 508h1v1h-1zM295 527h1v1h-1zM298 530h1v1h-1zM284 505h1v1h-1zM300 506h1v1h-1zM279 534h1v1h-1zM276 542h1v1h-1zM298 521h1v1h-1zM283 542h1v1h-1zM277 526h1v1h-1zM298 510h1v1h-1zM282 542h1v1h-1zM296 505h1v1h-1zM299 538h1v1h-1zM285 539h1v1h-1zM284 514h1v1h-1zM292 497h1v1h-1zM281 539h1v1h-1zM298 520h1v1h-1zM299 513h1v1h-1zM276 525h1v1h-1zM296 541h1v1h-1zM282 532h1v1h-1zM286 526h1v1h-1zM280 535h1v1h-1zM296 525h1v1h-1zM290 516h1v1h-1zM291 539h1v1h-1zM293 520h1v1h-1zM284 527h1v1h-1zM297 510h1v1h-1zM276 530h1v1h-1zM288 540h1v1h-1zM287 514h1v1h-1zM287 536h1v1h-1zM289 542h1v1h-1zM292 525h1v1h-1zM282 515h1v1h-1zM289 513h1v1h-1zM283 499h1v1h-1zM300 514h1v1h-1zM297 512h1v1h-1zM275 512h1v1h-1zM277 515h1v1h-1zM283 508h1v1h-1zM293 534h1v1h-1zM300 520h1v1h-1zM298 533h1v1h-1zM275 501h1v1h-1zM280 539h1v1h-1zM300 507h1v1h-1zM287 510h1v1h-1zM290 529h1v1h-1zM287 535h1v1h-1zM289 528h1v1h-1zM277 522h1v1h-1zM296 508h1v1h-1zM285 502h1v1h-1zM289 509h1v1h-1zM283 506h1v1h-1zM280 522h1v1h-1zM281 531h1v1h-1zM286 528h1v1h-1zM279 508h1v1h-1zM293 522h1v1h-1zM282 540h1v1h-1zM298 523h1v1h-1zM297 506h1v1h-1zM299 535h1v1h-1zM290 511h1v1h-1zM290 540h1v1h-1zM284 532h1v1h-1zM276 505h1v1h-1zM295 501h1v1h-1zM291 511h1v1h-1zM283 541h1v1h-1zM290 543h1v1h-1zM297 523h1v1h-1zM279 503h1v1h-1zM277 520h1v1h-1zM286 538h1v1h-1zM281 524h1v1h-1zM298 500h1v1h-1zM296 522h1v1h-1zM278 544h1v1h-1zM284 500h1v1h-1zM293 509h1v1h-1zM287 535h1v1h-1zM299 531h1v1h-1zM298 541h1v1h-1zM275 503h1v1h-1zM299 521h1v1h-1zM278 523h1v1h-1zM280 524h1v1h-1zM294 503h1v1h-1zM292 528h1v1h-1zM279 542h1v1h-1zM299 512h1v1h-1zM287 541h1v1h-1zM290 521h1v1h-1zM279 534h1v1h-1zM297 531h1v1h-1zM296 536h1v1h-1zM283 538h1v1h-1zM288 521h1v1h-1zM276 507h1v1h-1zM296 510h1v1h-1zM279 504h1v1h-1zM295 498h1v1h-1zM279 543h1v1h-1zM287 528h1v1h-1zM298 510h1v1h-1zM279 513h1v1h-1zM280 506h1v1h-1zM286 542h1v1h-1z"/>
<path fill="#7a72b0" fill-opacity="0.3" d="M119 522h1v1h-1zM161 529h1v1h-1zM137 529h1v1h-1zM165 532h1v1h-1zM161 526h1v1h-1zM129 548h1v1h-1zM144 543h1v1h-1zM154 518h1v1h-1zM134 524h1v1h-1zM134 504h1v1h-1zM140 540h1v1h-1zM155 524h1v1h-1zM139 516h1v1h-1zM165 512h1v1h-1zM158 498h1v1h-1zM135 513h1v1h-1zM133 534h1v1h-1zM149 546h1v1h-1zM156 512h1v1h-1zM151 545h1v1h-1zM139 519h1v1h-1zM132 519h1v1h-1zM162 523h1v1h-1zM171 531h1v1h-1zM129 533h1v1h-1zM140 501h1v1h-1zM136 531h1v1h-1zM170 533h1v1h-1zM138 512h1v1h-1zM118 515h1v1h-1zM161 512h1v1h-1zM147 516h1v1h-1zM129 540h1v1h-1zM124 514h1v1h-1zM150 550h1v1h-1zM142 528h1v1h-1zM147 512h1v1h-1zM150 516h1v1h-1zM140 504h1v1h-1zM141 502h1v1h-1zM154 548h1v1h-1zM143 543h1v1h-1zM141 510h1v1h-1zM154 520h1v1h-1zM162 515h1v1h-1zM151 532h1v1h-1zM134 537h1v1h-1zM142 524h1v1h-1zM162 524h1v1h-1zM153 522h1v1h-1zM120 530h1v1h-1zM131 500h1v1h-1zM147 528h1v1h-1zM170 531h1v1h-1zM156 504h1v1h-1zM142 536h1v1h-1zM153 511h1v1h-1zM145 481h1v1h-1zM141 493h1v1h-1zM150 529h1v1h-1zM115 537h1v1h-1zM159 520h1v1h-1zM152 502h1v1h-1zM139 525h1v1h-1zM133 544h1v1h-1zM128 527h1v1h-1zM149 502h1v1h-1zM147 536h1v1h-1zM147 524h1v1h-1zM169 524h1v1h-1zM114 528h1v1h-1zM135 537h1v1h-1zM134 525h1v1h-1zM158 510h1v1h-1zM142 525h1v1h-1zM132 530h1v1h-1zM148 548h1v1h-1zM151 506h1v1h-1zM167 525h1v1h-1zM149 512h1v1h-1zM139 532h1v1h-1zM138 518h1v1h-1zM134 473h1v1h-1zM152 544h1v1h-1zM156 516h1v1h-1zM142 508h1v1h-1zM143 501h1v1h-1zM164 509h1v1h-1zM146 504h1v1h-1zM152 525h1v1h-1zM130 530h1v1h-1zM137 526h1v1h-1zM115 534h1v1h-1zM126 513h1v1h-1zM150 538h1v1h-1zM162 525h1v1h-1zM141 535h1v1h-1zM128 538h1v1h-1zM146 521h1v1h-1zM161 549h1v1h-1zM143 541h1v1h-1zM158 520h1v1h-1zM132 500h1v1h-1zM141 488h1v1h-1zM153 536h1v1h-1zM142 544h1v1h-1zM149 539h1v1h-1zM148 527h1v1h-1zM139 544h1v1h-1zM144 540h1v1h-1zM141 520h1v1h-1zM155 531h1v1h-1zM167 546h1v1h-1zM163 516h1v1h-1zM141 516h1v1h-1zM153 513h1v1h-1zM135 553h1v1h-1zM130 539h1v1h-1zM146 542h1v1h-1zM153 521h1v1h-1zM144 527h1v1h-1zM157 549h1v1h-1zM157 523h1v1h-1zM156 548h1v1h-1zM143 527h1v1h-1zM126 527h1v1h-1zM170 537h1v1h-1zM138 543h1v1h-1zM152 522h1v1h-1zM170 514h1v1h-1zM154 513h1v1h-1zM145 488h1v1h-1zM139 542h1v1h-1zM132 554h1v1h-1zM127 507h1v1h-1zM153 522h1v1h-1zM139 523h1v1h-1zM139 500h1v1h-1zM152 529h1v1h-1zM140 533h1v1h-1zM154 519h1v1h-1zM136 510h1v1h-1zM138 530h1v1h-1zM158 538h1v1h-1zM136 503h1v1h-1zM154 526h1v1h-1zM152 538h1v1h-1zM145 479h1v1h-1zM122 533h1v1h-1zM130 505h1v1h-1zM127 551h1v1h-1zM157 523h1v1h-1zM133 538h1v1h-1zM128 525h1v1h-1zM138 508h1v1h-1zM144 498h1v1h-1zM153 504h1v1h-1zM155 523h1v1h-1zM137 553h1v1h-1zM156 533h1v1h-1zM124 531h1v1h-1zM137 492h1v1h-1zM143 517h1v1h-1zM146 504h1v1h-1zM161 496h1v1h-1zM140 534h1v1h-1zM131 542h1v1h-1zM148 514h1v1h-1zM147 516h1v1h-1zM151 535h1v1h-1zM140 543h1v1h-1zM147 509h1v1h-1zM137 548h1v1h-1zM153 544h1v1h-1zM136 528h1v1h-1zM136 508h1v1h-1zM161 538h1v1h-1zM134 540h1v1h-1zM153 517h1v1h-1zM157 522h1v1h-1zM137 537h1v1h-1zM159 526h1v1h-1zM124 529h1v1h-1zM126 554h1v1h-1zM146 516h1v1h-1zM165 542h1v1h-1zM167 523h1v1h-1zM133 527h1v1h-1zM145 515h1v1h-1zM138 531h1v1h-1zM115 493h1v1h-1zM155 523h1v1h-1zM140 546h1v1h-1zM164 543h1v1h-1zM149 499h1v1h-1zM138 508h1v1h-1zM135 521h1v1h-1zM151 520h1v1h-1zM138 528h1v1h-1zM148 533h1v1h-1zM129 512h1v1h-1zM146 532h1v1h-1zM161 536h1v1h-1zM151 546h1v1h-1zM140 512h1v1h-1zM136 544h1v1h-1zM129 542h1v1h-1zM138 540h1v1h-1zM149 485h1v1h-1zM137 552h1v1h-1zM150 550h1v1h-1zM139 537h1v1h-1zM145 543h1v1h-1zM122 515h1v1h-1zM148 521h1v1h-1zM159 533h1v1h-1zM133 490h1v1h-1zM147 532h1v1h-1zM142 534h1v1h-1zM136 535h1v1h-1zM141 532h1v1h-1zM140 496h1v1h-1zM125 537h1v1h-1zM152 508h1v1h-1zM139 504h1v1h-1zM152 529h1v1h-1zM155 533h1v1h-1zM155 504h1v1h-1zM122 515h1v1h-1zM166 552h1v1h-1zM157 532h1v1h-1zM156 546h1v1h-1zM145 527h1v1h-1zM145 546h1v1h-1zM137 519h1v1h-1zM151 519h1v1h-1zM158 511h1v1h-1zM137 494h1v1h-1zM156 521h1v1h-1zM139 504h1v1h-1zM153 520h1v1h-1zM143 531h1v1h-1zM157 531h1v1h-1zM148 521h1v1h-1zM138 527h1v1h-1zM139 549h1v1h-1zM154 525h1v1h-1zM138 528h1v1h-1zM158 484h1v1h-1zM149 508h1v1h-1zM157 547h1v1h-1zM137 512h1v1h-1zM132 509h1v1h-1zM135 545h1v1h-1zM150 506h1v1h-1zM134 546h1v1h-1zM155 526h1v1h-1zM117 517h1v1h-1zM136 491h1v1h-1zM143 552h1v1h-1zM120 495h1v1h-1zM137 506h1v1h-1zM124 542h1v1h-1zM144 506h1v1h-1zM142 537h1v1h-1zM155 527h1v1h-1zM133 523h1v1h-1zM123 509h1v1h-1zM138 516h1v1h-1zM147 533h1v1h-1zM146 510h1v1h-1zM147 539h1v1h-1zM162 532h1v1h-1zM140 537h1v1h-1zM142 532h1v1h-1zM133 538h1v1h-1zM137 535h1v1h-1zM159 543h1v1h-1zM150 534h1v1h-1zM109 534h1v1h-1zM162 511h1v1h-1zM118 497h1v1h-1zM139 529h1v1h-1zM158 545h1v1h-1zM147 511h1v1h-1zM153 499h1v1h-1zM157 518h1v1h-1zM149 534h1v1h-1zM128 543h1v1h-1zM150 522h1v1h-1zM135 507h1v1h-1zM112 527h1v1h-1zM141 540h1v1h-1zM153 527h1v1h-1zM147 546h1v1h-1zM145 519h1v1h-1zM169 543h1v1h-1zM158 510h1v1h-1zM150 512h1v1h-1zM168 539h1v1h-1zM161 537h1v1h-1zM170 527h1v1h-1zM140 551h1v1h-1zM160 526h1v1h-1zM126 499h1v1h-1zM150 511h1v1h-1zM155 552h1v1h-1zM134 498h1v1h-1zM120 502h1v1h-1zM146 542h1v1h-1zM141 530h1v1h-1zM148 549h1v1h-1zM149 509h1v1h-1zM157 515h1v1h-1zM167 521h1v1h-1zM151 506h1v1h-1zM124 524h1v1h-1zM155 525h1v1h-1zM151 543h1v1h-1zM147 526h1v1h-1zM167 521h1v1h-1zM149 537h1v1h-1zM140 548h1v1h-1zM152 546h1v1h-1zM123 533h1v1h-1zM159 521h1v1h-1zM146 519h1v1h-1zM169 504h1v1h-1zM155 529h1v1h-1zM151 527h1v1h-1zM129 532h1v1h-1zM144 541h1v1h-1zM149 551h1v1h-1zM159 494h1v1h-1zM151 516h1v1h-1zM155 523h1v1h-1zM155 530h1v1h-1zM138 507h1v1h-1zM150 543h1v1h-1zM142 544h1v1h-1zM128 537h1v1h-1zM125 540h1v1h-1zM157 508h1v1h-1zM165 548h1v1h-1zM165 517h1v1h-1zM134 494h1v1h-1zM166 530h1v1h-1zM167 535h1v1h-1zM135 515h1v1h-1zM152 498h1v1h-1zM169 507h1v1h-1zM147 525h1v1h-1zM162 482h1v1h-1zM137 546h1v1h-1zM141 546h1v1h-1zM158 524h1v1h-1zM143 547h1v1h-1zM147 525h1v1h-1zM147 507h1v1h-1zM131 539h1v1h-1zM166 538h1v1h-1zM144 511h1v1h-1zM141 502h1v1h-1zM139 510h1v1h-1zM146 549h1v1h-1zM133 522h1v1h-1zM141 516h1v1h-1zM156 539h1v1h-1zM133 533h1v1h-1zM131 524h1v1h-1zM133 543h1v1h-1zM149 512h1v1h-1zM127 527h1v1h-1zM157 507h1v1h-1zM141 489h1v1h-1zM158 529h1v1h-1zM140 507h1v1h-1zM157 504h1v1h-1zM131 538h1v1h-1zM130 525h1v1h-1zM154 535h1v1h-1zM160 531h1v1h-1zM136 536h1v1h-1zM152 506h1v1h-1zM134 543h1v1h-1zM121 543h1v1h-1zM165 509h1v1h-1zM143 540h1v1h-1zM159 533h1v1h-1zM148 524h1v1h-1zM122 529h1v1h-1zM160 516h1v1h-1zM163 522h1v1h-1zM168 530h1v1h-1zM151 525h1v1h-1zM144 495h1v1h-1zM146 539h1v1h-1zM129 544h1v1h-1zM155 518h1v1h-1zM150 505h1v1h-1zM135 540h1v1h-1zM154 509h1v1h-1zM138 528h1v1h-1zM163 520h1v1h-1zM137 531h1v1h-1zM138 520h1v1h-1zM141 540h1v1h-1zM131 511h1v1h-1zM141 542h1v1h-1zM111 517h1v1h-1zM150 524h1v1h-1zM149 519h1v1h-1zM133 513h1v1h-1zM148 553h1v1h-1zM145 545h1v1h-1zM147 508h1v1h-1zM125 538h1v1h-1zM144 528h1v1h-1zM119 542h1v1h-1zM143 516h1v1h-1zM137 529h1v1h-1zM157 519h1v1h-1zM162 552h1v1h-1zM146 526h1v1h-1zM166 525h1v1h-1zM126 509h1v1h-1zM138 509h1v1h-1zM142 516h1v1h-1zM135 539h1v1h-1zM164 535h1v1h-1zM151 530h1v1h-1zM160 547h1v1h-1zM157 510h1v1h-1zM143 546h1v1h-1zM149 517h1v1h-1zM151 518h1v1h-1zM153 535h1v1h-1zM142 532h1v1h-1zM124 518h1v1h-1zM141 527h1v1h-1zM141 544h1v1h-1zM134 513h1v1h-1zM156 497h1v1h-1zM107 508h1v1h-1zM140 514h1v1h-1zM123 513h1v1h-1zM151 541h1v1h-1zM152 523h1v1h-1zM151 521h1v1h-1zM134 554h1v1h-1zM149 534h1v1h-1zM147 540h1v1h-1zM136 529h1v1h-1zM162 506h1v1h-1zM133 508h1v1h-1zM151 519h1v1h-1zM123 508h1v1h-1zM149 520h1v1h-1zM140 538h1v1h-1zM162 529h1v1h-1zM143 544h1v1h-1zM128 498h1v1h-1zM152 539h1v1h-1zM133 551h1v1h-1zM170 500h1v1h-1zM167 494h1v1h-1zM132 520h1v1h-1zM155 494h1v1h-1zM144 536h1v1h-1zM122 507h1v1h-1zM131 541h1v1h-1zM146 522h1v1h-1zM152 530h1v1h-1zM140 540h1v1h-1zM149 524h1v1h-1zM149 510h1v1h-1zM149 545h1v1h-1zM129 502h1v1h-1zM147 553h1v1h-1zM152 517h1v1h-1zM124 519h1v1h-1zM166 535h1v1h-1zM165 536h1v1h-1zM147 537h1v1h-1zM134 512h1v1h-1zM132 534h1v1h-1zM136 535h1v1h-1zM135 526h1v1h-1zM171 551h1v1h-1zM146 525h1v1h-1zM144 545h1v1h-1zM150 548h1v1h-1zM167 534h1v1h-1zM147 525h1v1h-1zM140 541h1v1h-1zM149 536h1v1h-1zM163 539h1v1h-1zM142 513h1v1h-1zM165 537h1v1h-1zM143 523h1v1h-1zM152 531h1v1h-1zM142 544h1v1h-1zM164 491h1v1h-1zM147 537h1v1h-1zM146 524h1v1h-1zM156 533h1v1h-1zM154 548h1v1h-1zM150 535h1v1h-1zM154 540h1v1h-1zM133 550h1v1h-1zM136 531h1v1h-1zM131 542h1v1h-1zM142 538h1v1h-1zM140 517h1v1h-1zM152 542h1v1h-1zM142 523h1v1h-1zM157 536h1v1h-1zM168 536h1v1h-1zM146 544h1v1h-1zM162 521h1v1h-1zM164 528h1v1h-1zM148 541h1v1h-1zM131 517h1v1h-1zM140 543h1v1h-1zM151 530h1v1h-1zM152 500h1v1h-1zM143 530h1v1h-1zM142 546h1v1h-1zM152 506h1v1h-1zM134 515h1v1h-1zM122 537h1v1h-1zM145 529h1v1h-1zM135 523h1v1h-1zM142 534h1v1h-1zM130 504h1v1h-1zM132 513h1v1h-1zM127 517h1v1h-1zM134 536h1v1h-1zM134 527h1v1h-1zM145 544h1v1h-1zM136 536h1v1h-1zM123 549h1v1h-1zM153 534h1v1h-1zM128 498h1v1h-1zM133 517h1v1h-1zM121 474h1v1h-1zM118 471h1v1h-1zM106 472h1v1h-1zM94 487h1v1h-1zM102 471h1v1h-1zM127 472h1v1h-1zM119 481h1v1h-1zM119 476h1v1h-1zM94 458h1v1h-1zM96 472h1v1h-1zM103 475h1v1h-1zM96 494h1v1h-1zM109 485h1v1h-1zM98 468h1v1h-1zM112 467h1v1h-1zM106 474h1v1h-1zM103 480h1v1h-1zM114 471h1v1h-1zM112 482h1v1h-1zM109 464h1v1h-1zM105 481h1v1h-1zM108 490h1v1h-1zM91 478h1v1h-1zM102 481h1v1h-1zM109 482h1v1h-1zM124 479h1v1h-1zM112 477h1v1h-1zM99 481h1v1h-1zM104 479h1v1h-1zM97 479h1v1h-1zM108 493h1v1h-1zM107 488h1v1h-1zM108 487h1v1h-1zM111 472h1v1h-1zM117 473h1v1h-1zM114 488h1v1h-1zM98 468h1v1h-1zM116 488h1v1h-1zM99 465h1v1h-1zM112 499h1v1h-1zM109 490h1v1h-1zM123 473h1v1h-1zM107 474h1v1h-1zM107 458h1v1h-1zM106 478h1v1h-1zM116 490h1v1h-1zM111 484h1v1h-1zM106 476h1v1h-1zM116 498h1v1h-1zM127 483h1v1h-1zM123 482h1v1h-1zM121 475h1v1h-1zM103 484h1v1h-1zM107 503h1v1h-1zM110 482h1v1h-1zM93 462h1v1h-1zM123 480h1v1h-1zM95 497h1v1h-1zM112 490h1v1h-1zM97 473h1v1h-1zM109 481h1v1h-1zM116 464h1v1h-1zM113 484h1v1h-1zM101 470h1v1h-1zM102 473h1v1h-1zM116 473h1v1h-1zM108 471h1v1h-1zM109 494h1v1h-1zM117 492h1v1h-1zM86 475h1v1h-1zM110 479h1v1h-1zM119 494h1v1h-1zM124 475h1v1h-1zM114 474h1v1h-1zM102 470h1v1h-1zM117 493h1v1h-1zM125 480h1v1h-1zM103 478h1v1h-1zM102 474h1v1h-1zM107 469h1v1h-1zM105 487h1v1h-1zM90 471h1v1h-1zM87 473h1v1h-1zM97 462h1v1h-1zM103 467h1v1h-1zM112 473h1v1h-1zM104 473h1v1h-1zM110 463h1v1h-1zM120 472h1v1h-1zM135 477h1v1h-1zM100 484h1v1h-1zM117 475h1v1h-1zM108 465h1v1h-1zM111 475h1v1h-1zM117 482h1v1h-1zM115 478h1v1h-1zM97 478h1v1h-1zM98 478h1v1h-1zM111 484h1v1h-1zM114 465h1v1h-1zM127 472h1v1h-1zM114 482h1v1h-1zM105 478h1v1h-1zM104 468h1v1h-1zM102 475h1v1h-1zM97 471h1v1h-1zM97 478h1v1h-1zM103 462h1v1h-1zM109 462h1v1h-1zM101 464h1v1h-1zM108 477h1v1h-1zM106 502h1v1h-1zM106 487h1v1h-1zM104 490h1v1h-1zM111 478h1v1h-1zM108 493h1v1h-1zM85 481h1v1h-1zM110 479h1v1h-1zM109 488h1v1h-1zM103 466h1v1h-1zM110 457h1v1h-1zM102 466h1v1h-1zM109 492h1v1h-1zM100 487h1v1h-1zM114 480h1v1h-1zM111 476h1v1h-1zM95 476h1v1h-1zM102 482h1v1h-1zM114 470h1v1h-1zM112 485h1v1h-1zM109 468h1v1h-1zM98 491h1v1h-1zM102 475h1v1h-1zM110 469h1v1h-1zM111 475h1v1h-1zM108 469h1v1h-1zM101 477h1v1h-1zM106 460h1v1h-1zM104 473h1v1h-1zM98 479h1v1h-1zM98 482h1v1h-1zM101 474h1v1h-1zM95 490h1v1h-1zM112 461h1v1h-1zM115 476h1v1h-1zM116 473h1v1h-1zM101 478h1v1h-1zM101 475h1v1h-1zM110 491h1v1h-1zM104 478h1v1h-1zM105 469h1v1h-1zM105 502h1v1h-1zM94 478h1v1h-1zM119 476h1v1h-1zM95 486h1v1h-1zM94 472h1v1h-1zM115 476h1v1h-1zM98 486h1v1h-1zM117 466h1v1h-1zM111 473h1v1h-1zM111 487h1v1h-1zM105 495h1v1h-1zM96 477h1v1h-1zM98 477h1v1h-1zM109 488h1v1h-1zM107 463h1v1h-1zM97 471h1v1h-1zM98 470h1v1h-1zM100 458h1v1h-1zM112 474h1v1h-1zM116 487h1v1h-1zM105 484h1v1h-1zM121 490h1v1h-1zM121 476h1v1h-1zM100 491h1v1h-1zM113 469h1v1h-1zM118 465h1v1h-1zM92 481h1v1h-1zM116 478h1v1h-1zM112 484h1v1h-1zM116 478h1v1h-1zM110 490h1v1h-1zM118 485h1v1h-1zM104 480h1v1h-1zM103 474h1v1h-1zM114 485h1v1h-1zM114 471h1v1h-1zM96 487h1v1h-1zM119 489h1v1h-1zM118 487h1v1h-1zM117 465h1v1h-1zM102 482h1v1h-1zM119 481h1v1h-1zM113 486h1v1h-1zM116 463h1v1h-1zM108 472h1v1h-1z"/>
<path fill="#564e90" fill-opacity="0.45" d="M141 491h1v1h-1zM158 523h1v1h-1zM135 479h1v1h-1zM152 485h1v1h-1zM143 504h1v1h-1zM164 498h1v1h-1zM146 502h1v1h-1zM123 492h1v1h-1zM139 509h1v1h-1zM145 501h1v1h-1zM157 515h1v1h-1zM150 477h1v1h-1zM138 500h1v1h-1zM127 493h1v1h-1zM142 502h1v1h-1zM140 483h1v1h-1zM157 507h1v1h-1zM153 477h1v1h-1zM125 508h1v1h-1zM115 504h1v1h-1zM137 471h1v1h-1zM145 502h1v1h-1zM130 469h1v1h-1zM136 504h1v1h-1zM156 474h1v1h-1zM150 495h1v1h-1zM122 492h1v1h-1zM146 473h1v1h-1zM144 470h1v1h-1zM139 503h1v1h-1zM148 489h1v1h-1zM149 511h1v1h-1zM145 535h1v1h-1zM133 499h1v1h-1zM136 521h1v1h-1zM150 501h1v1h-1zM165 497h1v1h-1zM149 504h1v1h-1zM148 486h1v1h-1zM145 487h1v1h-1zM137 519h1v1h-1zM143 494h1v1h-1zM128 480h1v1h-1zM151 503h1v1h-1zM147 484h1v1h-1zM144 497h1v1h-1zM132 512h1v1h-1zM139 514h1v1h-1zM135 522h1v1h-1zM145 513h1v1h-1zM139 506h1v1h-1zM146 504h1v1h-1zM153 501h1v1h-1zM157 496h1v1h-1zM130 528h1v1h-1zM138 495h1v1h-1zM129 520h1v1h-1zM157 495h1v1h-1zM132 514h1v1h-1zM158 457h1v1h-1zM136 499h1v1h-1zM154 488h1v1h-1zM136 519h1v1h-1zM139 518h1v1h-1zM143 488h1v1h-1zM143 496h1v1h-1zM140 510h1v1h-1zM150 501h1v1h-1zM156 498h1v1h-1zM152 511h1v1h-1zM136 478h1v1h-1zM120 520h1v1h-1zM143 503h1v1h-1zM150 484h1v1h-1zM149 496h1v1h-1zM128 529h1v1h-1zM149 497h1v1h-1zM134 476h1v1h-1zM157 516h1v1h-1zM133 503h1v1h-1zM132 497h1v1h-1zM134 512h1v1h-1zM145 492h1v1h-1zM130 496h1v1h-1zM168 512h1v1h-1zM138 504h1v1h-1zM163 511h1v1h-1zM139 492h1v1h-1zM138 521h1v1h-1zM134 478h1v1h-1zM133 478h1v1h-1zM147 505h1v1h-1zM156 493h1v1h-1zM143 500h1v1h-1zM131 498h1v1h-1zM144 496h1v1h-1zM133 483h1v1h-1zM110 502h1v1h-1zM143 516h1v1h-1zM121 486h1v1h-1zM135 524h1v1h-1zM143 520h1v1h-1zM137 486h1v1h-1zM139 509h1v1h-1zM160 482h1v1h-1zM153 496h1v1h-1zM160 482h1v1h-1zM144 490h1v1h-1zM145 472h1v1h-1zM163 496h1v1h-1zM135 483h1v1h-1zM146 485h1v1h-1zM144 470h1v1h-1zM145 498h1v1h-1zM149 525h1v1h-1zM143 493h1v1h-1zM151 496h1v1h-1zM132 482h1v1h-1zM148 491h1v1h-1zM130 486h1v1h-1zM155 476h1v1h-1zM153 485h1v1h-1zM140 491h1v1h-1zM136 502h1v1h-1zM142 493h1v1h-1zM148 502h1v1h-1zM124 516h1v1h-1zM130 511h1v1h-1zM153 492h1v1h-1zM139 473h1v1h-1zM127 495h1v1h-1zM116 499h1v1h-1zM137 512h1v1h-1zM121 500h1v1h-1zM143 537h1v1h-1zM141 493h1v1h-1zM163 507h1v1h-1zM127 485h1v1h-1zM149 483h1v1h-1zM128 493h1v1h-1zM130 500h1v1h-1zM139 507h1v1h-1zM163 513h1v1h-1zM141 518h1v1h-1zM133 516h1v1h-1zM169 509h1v1h-1zM132 496h1v1h-1zM137 505h1v1h-1zM139 515h1v1h-1zM133 484h1v1h-1zM149 507h1v1h-1zM156 504h1v1h-1zM127 495h1v1h-1zM136 522h1v1h-1zM137 488h1v1h-1zM125 484h1v1h-1zM126 497h1v1h-1zM137 489h1v1h-1zM131 516h1v1h-1zM145 474h1v1h-1zM151 479h1v1h-1zM144 502h1v1h-1zM145 508h1v1h-1zM131 481h1v1h-1zM134 515h1v1h-1zM146 470h1v1h-1zM148 512h1v1h-1zM140 485h1v1h-1zM148 491h1v1h-1zM138 522h1v1h-1zM128 496h1v1h-1zM145 488h1v1h-1zM136 500h1v1h-1zM122 523h1v1h-1zM151 498h1v1h-1zM146 486h1v1h-1zM150 500h1v1h-1zM136 480h1v1h-1zM159 487h1v1h-1zM147 489h1v1h-1zM153 506h1v1h-1zM134 490h1v1h-1zM138 504h1v1h-1zM156 513h1v1h-1zM141 519h1v1h-1zM142 473h1v1h-1zM159 496h1v1h-1zM155 481h1v1h-1zM144 506h1v1h-1zM163 500h1v1h-1zM124 497h1v1h-1zM141 489h1v1h-1zM135 483h1v1h-1zM158 473h1v1h-1zM160 510h1v1h-1zM136 494h1v1h-1zM143 497h1v1h-1zM152 501h1v1h-1zM147 508h1v1h-1zM145 523h1v1h-1zM153 494h1v1h-1zM164 506h1v1h-1zM143 474h1v1h-1zM129 491h1v1h-1zM140 487h1v1h-1zM141 488h1v1h-1zM137 513h1v1h-1zM150 498h1v1h-1zM150 498h1v1h-1zM152 498h1v1h-1zM147 494h1v1h-1zM145 494h1v1h-1zM130 488h1v1h-1zM138 489h1v1h-1zM132 491h1v1h-1zM145 494h1v1h-1zM140 471h1v1h-1zM141 498h1v1h-1zM148 496h1v1h-1zM138 503h1v1h-1zM154 481h1v1h-1zM154 484h1v1h-1zM131 508h1v1h-1zM157 487h1v1h-1zM138 503h1v1h-1zM133 487h1v1h-1zM138 480h1v1h-1zM127 476h1v1h-1zM145 488h1v1h-1zM155 490h1v1h-1zM124 480h1v1h-1zM146 517h1v1h-1zM148 497h1v1h-1zM149 484h1v1h-1zM149 518h1v1h-1zM147 508h1v1h-1zM136 486h1v1h-1zM152 483h1v1h-1zM145 494h1v1h-1zM151 507h1v1h-1zM145 477h1v1h-1zM139 513h1v1h-1zM141 491h1v1h-1zM149 508h1v1h-1zM153 495h1v1h-1zM120 504h1v1h-1zM127 506h1v1h-1zM123 515h1v1h-1zM135 487h1v1h-1zM134 523h1v1h-1zM144 479h1v1h-1zM138 501h1v1h-1zM157 506h1v1h-1zM135 497h1v1h-1zM133 509h1v1h-1zM132 474h1v1h-1zM138 496h1v1h-1zM143 511h1v1h-1zM136 497h1v1h-1zM131 482h1v1h-1zM126 499h1v1h-1zM144 500h1v1h-1zM135 483h1v1h-1zM130 515h1v1h-1zM138 490h1v1h-1zM145 483h1v1h-1zM165 498h1v1h-1zM160 488h1v1h-1zM131 494h1v1h-1zM136 500h1v1h-1zM119 491h1v1h-1zM119 505h1v1h-1zM120 501h1v1h-1zM152 514h1v1h-1zM140 483h1v1h-1zM125 498h1v1h-1zM134 501h1v1h-1zM136 501h1v1h-1zM134 468h1v1h-1zM158 482h1v1h-1zM119 502h1v1h-1zM136 505h1v1h-1zM144 497h1v1h-1zM147 500h1v1h-1zM117 514h1v1h-1zM144 492h1v1h-1zM127 487h1v1h-1zM135 518h1v1h-1zM123 506h1v1h-1zM150 495h1v1h-1zM153 519h1v1h-1zM138 493h1v1h-1zM121 486h1v1h-1zM151 515h1v1h-1zM155 477h1v1h-1zM129 495h1v1h-1zM152 506h1v1h-1zM121 493h1v1h-1zM127 490h1v1h-1zM143 503h1v1h-1zM126 480h1v1h-1zM150 494h1v1h-1zM158 507h1v1h-1zM142 482h1v1h-1zM147 516h1v1h-1zM160 494h1v1h-1zM147 496h1v1h-1zM156 491h1v1h-1zM158 505h1v1h-1zM130 491h1v1h-1zM167 500h1v1h-1zM155 514h1v1h-1zM143 514h1v1h-1zM151 476h1v1h-1zM145 516h1v1h-1zM144 490h1v1h-1zM130 501h1v1h-1zM137 499h1v1h-1zM138 501h1v1h-1zM154 489h1v1h-1zM147 505h1v1h-1zM146 511h1v1h-1zM141 489h1v1h-1zM156 497h1v1h-1zM114 508h1v1h-1zM131 512h1v1h-1zM153 502h1v1h-1zM137 501h1v1h-1zM149 504h1v1h-1zM160 492h1v1h-1zM151 502h1v1h-1zM125 493h1v1h-1zM139 492h1v1h-1zM129 465h1v1h-1zM147 472h1v1h-1zM154 502h1v1h-1zM139 507h1v1h-1zM148 503h1v1h-1zM140 498h1v1h-1zM164 493h1v1h-1zM143 505h1v1h-1zM145 491h1v1h-1zM148 497h1v1h-1zM154 518h1v1h-1zM150 478h1v1h-1zM142 489h1v1h-1zM143 494h1v1h-1zM148 471h1v1h-1zM149 481h1v1h-1zM138 512h1v1h-1zM135 504h1v1h-1zM139 495h1v1h-1zM147 515h1v1h-1zM137 483h1v1h-1zM130 523h1v1h-1zM138 496h1v1h-1zM136 489h1v1h-1zM149 512h1v1h-1zM136 504h1v1h-1zM137 500h1v1h-1zM163 495h1v1h-1zM147 472h1v1h-1zM131 468h1v1h-1zM156 497h1v1h-1zM138 510h1v1h-1zM133 486h1v1h-1zM149 498h1v1h-1zM126 475h1v1h-1zM141 476h1v1h-1zM148 496h1v1h-1zM151 506h1v1h-1zM136 507h1v1h-1zM136 513h1v1h-1zM141 486h1v1h-1zM156 494h1v1h-1zM122 507h1v1h-1zM151 483h1v1h-1zM145 492h1v1h-1zM158 497h1v1h-1zM129 496h1v1h-1zM155 509h1v1h-1zM132 502h1v1h-1zM145 491h1v1h-1zM138 465h1v1h-1zM114 507h1v1h-1zM141 510h1v1h-1zM147 504h1v1h-1zM152 501h1v1h-1zM135 503h1v1h-1zM129 513h1v1h-1zM150 490h1v1h-1zM138 496h1v1h-1zM154 483h1v1h-1zM158 494h1v1h-1zM139 485h1v1h-1zM140 485h1v1h-1zM134 469h1v1h-1zM119 495h1v1h-1zM142 510h1v1h-1zM154 514h1v1h-1zM142 496h1v1h-1zM163 487h1v1h-1zM136 501h1v1h-1zM142 493h1v1h-1zM136 495h1v1h-1zM137 516h1v1h-1zM139 499h1v1h-1zM134 501h1v1h-1zM137 493h1v1h-1zM145 494h1v1h-1zM143 484h1v1h-1zM130 495h1v1h-1zM148 486h1v1h-1zM133 512h1v1h-1zM147 493h1v1h-1zM143 506h1v1h-1zM120 514h1v1h-1zM130 510h1v1h-1zM153 487h1v1h-1zM135 519h1v1h-1zM135 470h1v1h-1zM137 516h1v1h-1zM143 461h1v1h-1zM149 484h1v1h-1zM139 495h1v1h-1zM161 486h1v1h-1zM136 467h1v1h-1zM137 476h1v1h-1zM140 500h1v1h-1zM144 473h1v1h-1zM159 505h1v1h-1zM169 512h1v1h-1zM138 515h1v1h-1zM140 500h1v1h-1zM149 496h1v1h-1zM141 491h1v1h-1zM152 534h1v1h-1zM130 513h1v1h-1zM152 505h1v1h-1zM117 501h1v1h-1zM148 511h1v1h-1zM150 470h1v1h-1zM171 508h1v1h-1zM132 488h1v1h-1zM150 464h1v1h-1zM150 511h1v1h-1zM131 486h1v1h-1zM145 502h1v1h-1zM132 486h1v1h-1zM129 491h1v1h-1zM125 518h1v1h-1zM140 501h1v1h-1zM130 502h1v1h-1zM118 475h1v1h-1zM145 509h1v1h-1zM122 487h1v1h-1zM150 503h1v1h-1zM145 482h1v1h-1zM133 501h1v1h-1zM124 504h1v1h-1zM132 476h1v1h-1zM127 501h1v1h-1zM138 484h1v1h-1zM138 513h1v1h-1zM171 501h1v1h-1zM118 497h1v1h-1zM135 538h1v1h-1zM148 508h1v1h-1zM154 491h1v1h-1zM158 508h1v1h-1zM131 500h1v1h-1zM151 515h1v1h-1zM109 482h1v1h-1zM139 523h1v1h-1zM152 489h1v1h-1zM150 491h1v1h-1zM126 486h1v1h-1zM132 492h1v1h-1zM117 523h1v1h-1zM133 499h1v1h-1zM126 481h1v1h-1zM145 494h1v1h-1zM133 500h1v1h-1zM149 510h1v1h-1zM141 492h1v1h-1zM138 499h1v1h-1zM162 537h1v1h-1zM156 494h1v1h-1zM127 498h1v1h-1zM158 480h1v1h-1zM151 509h1v1h-1zM157 490h1v1h-1zM147 522h1v1h-1zM121 513h1v1h-1zM138 507h1v1h-1zM114 489h1v1h-1zM126 492h1v1h-1zM134 491h1v1h-1zM157 497h1v1h-1zM142 491h1v1h-1zM144 489h1v1h-1zM151 498h1v1h-1zM131 496h1v1h-1zM155 491h1v1h-1zM145 509h1v1h-1zM131 511h1v1h-1zM135 489h1v1h-1zM139 526h1v1h-1zM149 502h1v1h-1zM159 513h1v1h-1zM138 522h1v1h-1zM139 477h1v1h-1zM163 503h1v1h-1zM163 513h1v1h-1zM144 507h1v1h-1zM138 510h1v1h-1zM150 476h1v1h-1zM145 483h1v1h-1zM133 504h1v1h-1zM158 468h1v1h-1zM132 494h1v1h-1zM133 502h1v1h-1zM136 509h1v1h-1zM127 500h1v1h-1zM151 485h1v1h-1zM125 483h1v1h-1zM150 502h1v1h-1zM147 504h1v1h-1zM151 502h1v1h-1zM125 498h1v1h-1zM144 498h1v1h-1zM145 477h1v1h-1zM152 496h1v1h-1zM146 507h1v1h-1zM135 481h1v1h-1zM155 502h1v1h-1zM158 506h1v1h-1zM158 529h1v1h-1zM133 495h1v1h-1zM148 493h1v1h-1zM131 480h1v1h-1zM140 481h1v1h-1zM151 474h1v1h-1zM125 472h1v1h-1zM156 496h1v1h-1zM133 501h1v1h-1zM135 474h1v1h-1zM141 468h1v1h-1zM140 472h1v1h-1zM128 519h1v1h-1zM140 512h1v1h-1zM124 478h1v1h-1zM135 498h1v1h-1zM163 499h1v1h-1zM141 483h1v1h-1zM137 487h1v1h-1zM161 510h1v1h-1zM146 506h1v1h-1zM149 509h1v1h-1zM135 501h1v1h-1zM155 498h1v1h-1zM138 503h1v1h-1zM152 494h1v1h-1zM150 520h1v1h-1zM162 500h1v1h-1zM154 504h1v1h-1zM142 495h1v1h-1zM129 487h1v1h-1zM138 496h1v1h-1zM134 492h1v1h-1zM160 485h1v1h-1zM137 508h1v1h-1zM115 524h1v1h-1zM146 501h1v1h-1zM152 495h1v1h-1zM131 487h1v1h-1zM150 476h1v1h-1zM126 505h1v1h-1zM145 505h1v1h-1zM140 486h1v1h-1zM146 498h1v1h-1zM147 485h1v1h-1zM134 516h1v1h-1zM152 498h1v1h-1zM136 503h1v1h-1zM143 520h1v1h-1zM159 466h1v1h-1zM131 502h1v1h-1zM143 500h1v1h-1zM161 493h1v1h-1zM157 497h1v1h-1zM134 514h1v1h-1zM135 488h1v1h-1zM148 488h1v1h-1zM134 521h1v1h-1zM143 511h1v1h-1zM126 504h1v1h-1zM149 508h1v1h-1zM123 498h1v1h-1zM144 493h1v1h-1zM150 495h1v1h-1zM134 501h1v1h-1zM123 491h1v1h-1zM127 475h1v1h-1zM119 495h1v1h-1zM163 501h1v1h-1zM119 495h1v1h-1zM127 506h1v1h-1zM146 501h1v1h-1zM143 510h1v1h-1zM154 499h1v1h-1zM158 495h1v1h-1zM147 505h1v1h-1zM141 509h1v1h-1zM135 491h1v1h-1zM140 485h1v1h-1zM153 516h1v1h-1zM149 490h1v1h-1zM149 502h1v1h-1zM122 491h1v1h-1zM133 500h1v1h-1zM134 516h1v1h-1zM135 520h1v1h-1zM129 479h1v1h-1zM150 477h1v1h-1zM164 505h1v1h-1zM136 519h1v1h-1zM141 501h1v1h-1zM143 493h1v1h-1zM142 508h1v1h-1zM132 484h1v1h-1zM151 506h1v1h-1zM118 516h1v1h-1zM136 514h1v1h-1zM119 507h1v1h-1zM149 490h1v1h-1zM125 493h1v1h-1zM128 485h1v1h-1zM142 523h1v1h-1zM129 514h1v1h-1zM145 496h1v1h-1zM283 485h1v1h-1zM284 489h1v1h-1zM298 475h1v1h-1zM290 485h1v1h-1zM287 498h1v1h-1zM283 486h1v1h-1zM285 475h1v1h-1zM288 494h1v1h-1zM287 482h1v1h-1zM278 483h1v1h-1zM288 482h1v1h-1zM294 477h1v1h-1zM286 501h1v1h-1zM287 491h1v1h-1zM289 498h1v1h-1zM285 472h1v1h-1zM279 490h1v1h-1zM288 490h1v1h-1zM286 473h1v1h-1zM285 475h1v1h-1zM295 476h1v1h-1zM289 494h1v1h-1zM284 486h1v1h-1zM284 477h1v1h-1zM296 491h1v1h-1zM292 477h1v1h-1zM279 485h1v1h-1zM291 483h1v1h-1zM285 475h1v1h-1zM285 493h1v1h-1zM294 484h1v1h-1zM284 482h1v1h-1zM288 499h1v1h-1zM287 493h1v1h-1zM290 486h1v1h-1zM284 472h1v1h-1zM295 484h1v1h-1zM296 473h1v1h-1zM281 488h1v1h-1zM286 487h1v1h-1zM289 479h1v1h-1zM288 484h1v1h-1zM280 494h1v1h-1zM288 477h1v1h-1zM287 488h1v1h-1zM285 490h1v1h-1zM292 475h1v1h-1zM285 487h1v1h-1zM285 485h1v1h-1zM292 488h1v1h-1zM291 480h1v1h-1zM288 493h1v1h-1zM289 491h1v1h-1zM290 499h1v1h-1zM290 494h1v1h-1zM283 470h1v1h-1zM292 478h1v1h-1zM299 488h1v1h-1zM290 494h1v1h-1zM287 477h1v1h-1zM294 484h1v1h-1zM291 487h1v1h-1zM284 483h1v1h-1zM287 494h1v1h-1zM285 474h1v1h-1zM293 489h1v1h-1zM281 476h1v1h-1zM295 488h1v1h-1zM284 475h1v1h-1zM290 481h1v1h-1zM286 493h1v1h-1zM290 474h1v1h-1zM294 485h1v1h-1zM291 490h1v1h-1zM282 483h1v1h-1zM287 481h1v1h-1zM289 484h1v1h-1zM298 475h1v1h-1zM285 491h1v1h-1zM286 491h1v1h-1zM284 501h1v1h-1zM288 487h1v1h-1zM291 495h1v1h-1zM283 479h1v1h-1zM295 489h1v1h-1zM295 475h1v1h-1zM292 486h1v1h-1zM291 481h1v1h-1zM301 493h1v1h-1zM285 482h1v1h-1zM299 481h1v1h-1zM282 490h1v1h-1zM290 477h1v1h-1zM287 480h1v1h-1zM283 496h1v1h-1zM283 478h1v1h-1zM287 480h1v1h-1zM289 495h1v1h-1zM291 488h1v1h-1zM288 487h1v1h-1zM288 486h1v1h-1zM285 470h1v1h-1zM281 476h1v1h-1zM292 475h1v1h-1zM277 490h1v1h-1zM291 479h1v1h-1zM295 498h1v1h-1zM281 484h1v1h-1zM276 490h1v1h-1zM284 477h1v1h-1zM290 478h1v1h-1zM283 488h1v1h-1zM293 492h1v1h-1zM291 477h1v1h-1zM283 496h1v1h-1zM292 481h1v1h-1zM280 499h1v1h-1zM286 472h1v1h-1zM289 480h1v1h-1zM295 490h1v1h-1zM292 483h1v1h-1zM296 478h1v1h-1zM280 490h1v1h-1zM305 493h1v1h-1zM283 480h1v1h-1zM289 491h1v1h-1zM296 480h1v1h-1zM291 476h1v1h-1zM294 496h1v1h-1zM282 478h1v1h-1zM282 479h1v1h-1zM286 491h1v1h-1zM285 474h1v1h-1zM289 475h1v1h-1zM286 481h1v1h-1zM282 485h1v1h-1zM289 493h1v1h-1zM281 482h1v1h-1zM284 477h1v1h-1zM290 471h1v1h-1zM283 481h1v1h-1zM288 479h1v1h-1zM291 495h1v1h-1zM291 481h1v1h-1zM281 488h1v1h-1zM283 500h1v1h-1zM285 485h1v1h-1zM287 478h1v1h-1zM283 500h1v1h-1zM286 487h1v1h-1zM294 499h1v1h-1zM286 483h1v1h-1zM278 494h1v1h-1zM286 487h1v1h-1zM287 477h1v1h-1zM286 493h1v1h-1zM299 481h1v1h-1zM297 483h1v1h-1zM285 472h1v1h-1zM292 489h1v1h-1zM289 499h1v1h-1zM287 487h1v1h-1zM284 489h1v1h-1zM289 472h1v1h-1zM278 476h1v1h-1zM293 478h1v1h-1zM303 503h1v1h-1zM296 480h1v1h-1zM277 486h1v1h-1zM284 479h1v1h-1zM285 485h1v1h-1zM286 482h1v1h-1zM294 481h1v1h-1zM292 488h1v1h-1zM283 488h1v1h-1zM291 472h1v1h-1zM289 471h1v1h-1zM299 489h1v1h-1zM280 492h1v1h-1zM287 470h1v1h-1zM283 490h1v1h-1zM288 470h1v1h-1zM277 482h1v1h-1zM283 496h1v1h-1zM285 484h1v1h-1zM283 481h1v1h-1zM287 472h1v1h-1zM285 491h1v1h-1zM283 474h1v1h-1zM287 477h1v1h-1zM288 473h1v1h-1zM290 488h1v1h-1zM279 489h1v1h-1zM286 497h1v1h-1zM294 481h1v1h-1zM280 475h1v1h-1zM289 498h1v1h-1zM285 477h1v1h-1zM294 490h1v1h-1zM294 499h1v1h-1zM289 491h1v1h-1zM280 473h1v1h-1zM285 476h1v1h-1zM283 492h1v1h-1zM288 476h1v1h-1zM296 491h1v1h-1zM298 486h1v1h-1zM289 485h1v1h-1zM288 483h1v1h-1zM287 476h1v1h-1zM289 497h1v1h-1zM287 485h1v1h-1zM297 498h1v1h-1zM284 474h1v1h-1zM285 497h1v1h-1zM293 472h1v1h-1zM297 484h1v1h-1zM291 480h1v1h-1zM289 482h1v1h-1zM288 480h1v1h-1zM291 472h1v1h-1zM285 471h1v1h-1zM296 485h1v1h-1zM297 476h1v1h-1zM293 500h1v1h-1zM292 484h1v1h-1zM286 497h1v1h-1zM297 478h1v1h-1zM281 491h1v1h-1zM284 477h1v1h-1zM299 474h1v1h-1zM286 481h1v1h-1zM284 481h1v1h-1zM279 509h1v1h-1zM293 470h1v1h-1zM294 477h1v1h-1zM289 490h1v1h-1zM280 481h1v1h-1zM288 484h1v1h-1zM284 491h1v1h-1zM293 482h1v1h-1zM296 476h1v1h-1zM290 482h1v1h-1zM296 488h1v1h-1zM297 485h1v1h-1zM282 495h1v1h-1zM290 479h1v1h-1zM282 486h1v1h-1zM284 475h1v1h-1zM282 489h1v1h-1zM287 478h1v1h-1zM295 489h1v1h-1zM291 477h1v1h-1zM288 474h1v1h-1zM287 480h1v1h-1zM284 476h1v1h-1zM299 480h1v1h-1zM288 488h1v1h-1zM288 483h1v1h-1zM294 488h1v1h-1zM289 481h1v1h-1zM281 476h1v1h-1zM288 473h1v1h-1zM289 489h1v1h-1zM294 494h1v1h-1zM293 473h1v1h-1zM291 473h1v1h-1zM287 474h1v1h-1zM289 486h1v1h-1zM298 484h1v1h-1zM280 481h1v1h-1zM294 482h1v1h-1zM285 482h1v1h-1zM288 481h1v1h-1zM291 488h1v1h-1zM281 476h1v1h-1z"/>
<path fill="#40386a" fill-opacity="0.55" d="M145 486h1v1h-1zM147 487h1v1h-1zM141 515h1v1h-1zM149 490h1v1h-1zM149 486h1v1h-1zM148 488h1v1h-1zM146 502h1v1h-1zM128 490h1v1h-1zM144 495h1v1h-1zM136 478h1v1h-1zM134 491h1v1h-1zM161 496h1v1h-1zM142 496h1v1h-1zM144 508h1v1h-1zM143 500h1v1h-1zM140 473h1v1h-1zM157 483h1v1h-1zM133 489h1v1h-1zM149 494h1v1h-1zM141 496h1v1h-1zM154 501h1v1h-1zM151 483h1v1h-1zM146 478h1v1h-1zM135 502h1v1h-1zM151 488h1v1h-1zM152 477h1v1h-1zM150 488h1v1h-1zM143 492h1v1h-1zM150 486h1v1h-1zM140 487h1v1h-1zM147 504h1v1h-1zM148 487h1v1h-1zM144 498h1v1h-1zM138 498h1v1h-1zM144 493h1v1h-1zM139 515h1v1h-1zM137 485h1v1h-1zM153 516h1v1h-1zM144 488h1v1h-1zM142 494h1v1h-1zM142 498h1v1h-1zM148 505h1v1h-1zM143 501h1v1h-1zM140 493h1v1h-1zM147 493h1v1h-1zM146 505h1v1h-1zM139 508h1v1h-1zM138 492h1v1h-1zM154 506h1v1h-1zM143 500h1v1h-1zM154 498h1v1h-1zM149 487h1v1h-1zM145 486h1v1h-1zM144 499h1v1h-1zM156 474h1v1h-1zM141 492h1v1h-1zM143 499h1v1h-1zM140 483h1v1h-1zM144 509h1v1h-1zM139 509h1v1h-1zM146 487h1v1h-1zM137 495h1v1h-1zM149 495h1v1h-1zM148 492h1v1h-1zM147 492h1v1h-1zM141 500h1v1h-1zM154 509h1v1h-1zM159 497h1v1h-1zM144 497h1v1h-1zM140 497h1v1h-1zM150 491h1v1h-1zM144 501h1v1h-1zM146 492h1v1h-1zM150 488h1v1h-1zM136 501h1v1h-1zM150 481h1v1h-1zM138 492h1v1h-1zM137 493h1v1h-1zM143 495h1v1h-1zM155 484h1v1h-1zM141 488h1v1h-1zM148 495h1v1h-1zM139 501h1v1h-1zM150 495h1v1h-1zM147 494h1v1h-1zM153 489h1v1h-1zM146 496h1v1h-1zM145 474h1v1h-1zM132 501h1v1h-1zM147 504h1v1h-1zM151 496h1v1h-1zM147 488h1v1h-1zM146 507h1v1h-1zM149 491h1v1h-1zM151 507h1v1h-1zM139 494h1v1h-1zM145 490h1v1h-1zM148 494h1v1h-1zM147 491h1v1h-1zM139 495h1v1h-1zM131 500h1v1h-1zM147 494h1v1h-1zM150 492h1v1h-1zM157 496h1v1h-1zM148 499h1v1h-1zM139 496h1v1h-1zM148 500h1v1h-1zM144 501h1v1h-1zM140 498h1v1h-1zM135 502h1v1h-1zM133 496h1v1h-1zM140 505h1v1h-1zM142 499h1v1h-1zM146 503h1v1h-1zM145 495h1v1h-1zM147 485h1v1h-1zM158 493h1v1h-1zM145 496h1v1h-1zM155 499h1v1h-1zM140 496h1v1h-1zM140 508h1v1h-1zM142 486h1v1h-1zM133 482h1v1h-1zM157 495h1v1h-1zM147 491h1v1h-1zM150 496h1v1h-1zM157 501h1v1h-1zM148 518h1v1h-1zM156 486h1v1h-1zM129 488h1v1h-1zM154 496h1v1h-1zM147 484h1v1h-1zM141 490h1v1h-1zM153 506h1v1h-1zM145 496h1v1h-1zM140 496h1v1h-1zM132 505h1v1h-1zM157 483h1v1h-1zM127 497h1v1h-1zM146 496h1v1h-1zM156 498h1v1h-1zM150 488h1v1h-1zM141 493h1v1h-1zM143 495h1v1h-1zM141 502h1v1h-1zM147 490h1v1h-1zM145 501h1v1h-1zM136 479h1v1h-1zM135 499h1v1h-1zM153 502h1v1h-1zM286 481h1v1h-1zM289 473h1v1h-1zM298 476h1v1h-1zM285 481h1v1h-1zM296 480h1v1h-1zM284 479h1v1h-1zM288 485h1v1h-1zM284 480h1v1h-1zM293 484h1v1h-1zM288 481h1v1h-1zM289 482h1v1h-1zM292 477h1v1h-1zM293 471h1v1h-1zM285 485h1v1h-1zM289 485h1v1h-1zM286 484h1v1h-1zM293 475h1v1h-1zM280 487h1v1h-1zM297 481h1v1h-1zM287 481h1v1h-1zM280 476h1v1h-1zM289 477h1v1h-1zM285 476h1v1h-1zM288 482h1v1h-1zM288 476h1v1h-1zM292 480h1v1h-1zM281 477h1v1h-1zM290 472h1v1h-1zM293 480h1v1h-1zM283 481h1v1h-1zM291 480h1v1h-1zM286 486h1v1h-1zM280 480h1v1h-1zM289 474h1v1h-1zM286 491h1v1h-1zM294 480h1v1h-1zM287 484h1v1h-1zM291 481h1v1h-1z"/>
<rect x="71.3" y="456.1" width="101.2" height="99.9" fill="none" stroke="#8a8a8a" stroke-width="1"/>
<line x1="69.1" y1="464.9" x2="71.3" y2="464.9" stroke="#555" stroke-width="0.9" />
<line x1="69.1" y1="488.7" x2="71.3" y2="488.7" stroke="#555" stroke-width="0.9" />
<line x1="69.1" y1="517.3" x2="71.3" y2="517.3" stroke="#555" stroke-width="0.9" />
<line x1="69.1" y1="534.1" x2="71.3" y2="534.1" stroke="#555" stroke-width="0.9" />
<line x1="69.1" y1="549.5" x2="71.3" y2="549.5" stroke="#555" stroke-width="0.9" />
<line x1="70.1" y1="459.1" x2="71.3" y2="459.1" stroke="#888" stroke-width="0.6" />
<line x1="70.1" y1="466.32" x2="71.3" y2="466.32" stroke="#888" stroke-width="0.6" />
<line x1="70.1" y1="473.55" x2="71.3" y2="473.55" stroke="#888" stroke-width="0.6" />
<line x1="70.1" y1="480.77" x2="71.3" y2="480.77" stroke="#888" stroke-width="0.6" />
<line x1="70.1" y1="487.99" x2="71.3" y2="487.99" stroke="#888" stroke-width="0.6" />
<line x1="70.1" y1="495.22" x2="71.3" y2="495.22" stroke="#888" stroke-width="0.6" />
<line x1="70.1" y1="502.44" x2="71.3" y2="502.44" stroke="#888" stroke-width="0.6" />
<line x1="70.1" y1="509.66" x2="71.3" y2="509.66" stroke="#888" stroke-width="0.6" />
<line x1="70.1" y1="516.88" x2="71.3" y2="516.88" stroke="#888" stroke-width="0.6" />
<line x1="70.1" y1="524.11" x2="71.3" y2="524.11" stroke="#888" stroke-width="0.6" />
<line x1="70.1" y1="531.33" x2="71.3" y2="531.33" stroke="#888" stroke-width="0.6" />
<line x1="70.1" y1="538.55" x2="71.3" y2="538.55" stroke="#888" stroke-width="0.6" />
<line x1="70.1" y1="545.78" x2="71.3" y2="545.78" stroke="#888" stroke-width="0.6" />
<line x1="70.1" y1="553" x2="71.3" y2="553" stroke="#888" stroke-width="0.6" />
<line x1="78.6" y1="556" x2="78.6" y2="558.2" stroke="#555" stroke-width="0.9" />
<line x1="95.8" y1="556" x2="95.8" y2="558.2" stroke="#555" stroke-width="0.9" />
<line x1="110.6" y1="556" x2="110.6" y2="558.2" stroke="#555" stroke-width="0.9" />
<line x1="138.8" y1="556" x2="138.8" y2="558.2" stroke="#555" stroke-width="0.9" />
<line x1="160.8" y1="556" x2="160.8" y2="558.2" stroke="#555" stroke-width="0.9" />
<line x1="74.3" y1="556" x2="74.3" y2="557.2" stroke="#888" stroke-width="0.6" />
<line x1="80.65" y1="556" x2="80.65" y2="557.2" stroke="#888" stroke-width="0.6" />
<line x1="86.99" y1="556" x2="86.99" y2="557.2" stroke="#888" stroke-width="0.6" />
<line x1="93.34" y1="556" x2="93.34" y2="557.2" stroke="#888" stroke-width="0.6" />
<line x1="99.69" y1="556" x2="99.69" y2="557.2" stroke="#888" stroke-width="0.6" />
<line x1="106.03" y1="556" x2="106.03" y2="557.2" stroke="#888" stroke-width="0.6" />
<line x1="112.38" y1="556" x2="112.38" y2="557.2" stroke="#888" stroke-width="0.6" />
<line x1="118.73" y1="556" x2="118.73" y2="557.2" stroke="#888" stroke-width="0.6" />
<line x1="125.07" y1="556" x2="125.07" y2="557.2" stroke="#888" stroke-width="0.6" />
<line x1="131.42" y1="556" x2="131.42" y2="557.2" stroke="#888" stroke-width="0.6" />
<line x1="137.77" y1="556" x2="137.77" y2="557.2" stroke="#888" stroke-width="0.6" />
<line x1="144.11" y1="556" x2="144.11" y2="557.2" stroke="#888" stroke-width="0.6" />
<line x1="150.46" y1="556" x2="150.46" y2="557.2" stroke="#888" stroke-width="0.6" />
<line x1="156.81" y1="556" x2="156.81" y2="557.2" stroke="#888" stroke-width="0.6" />
<line x1="163.15" y1="556" x2="163.15" y2="557.2" stroke="#888" stroke-width="0.6" />
<line x1="169.5" y1="556" x2="169.5" y2="557.2" stroke="#888" stroke-width="0.6" />
<rect x="230.8" y="456.1" width="100.2" height="99.9" fill="none" stroke="#8a8a8a" stroke-width="1"/>
<line x1="228.6" y1="465.7" x2="230.8" y2="465.7" stroke="#555" stroke-width="0.9" />
<line x1="228.6" y1="489.5" x2="230.8" y2="489.5" stroke="#555" stroke-width="0.9" />
<line x1="228.6" y1="517.3" x2="230.8" y2="517.3" stroke="#555" stroke-width="0.9" />
<line x1="228.6" y1="533.7" x2="230.8" y2="533.7" stroke="#555" stroke-width="0.9" />
<line x1="228.6" y1="549.7" x2="230.8" y2="549.7" stroke="#555" stroke-width="0.9" />
<line x1="229.6" y1="459.1" x2="230.8" y2="459.1" stroke="#888" stroke-width="0.6" />
<line x1="229.6" y1="466.32" x2="230.8" y2="466.32" stroke="#888" stroke-width="0.6" />
<line x1="229.6" y1="473.55" x2="230.8" y2="473.55" stroke="#888" stroke-width="0.6" />
<line x1="229.6" y1="480.77" x2="230.8" y2="480.77" stroke="#888" stroke-width="0.6" />
<line x1="229.6" y1="487.99" x2="230.8" y2="487.99" stroke="#888" stroke-width="0.6" />
<line x1="229.6" y1="495.22" x2="230.8" y2="495.22" stroke="#888" stroke-width="0.6" />
<line x1="229.6" y1="502.44" x2="230.8" y2="502.44" stroke="#888" stroke-width="0.6" />
<line x1="229.6" y1="509.66" x2="230.8" y2="509.66" stroke="#888" stroke-width="0.6" />
<line x1="229.6" y1="516.88" x2="230.8" y2="516.88" stroke="#888" stroke-width="0.6" />
<line x1="229.6" y1="524.11" x2="230.8" y2="524.11" stroke="#888" stroke-width="0.6" />
<line x1="229.6" y1="531.33" x2="230.8" y2="531.33" stroke="#888" stroke-width="0.6" />
<line x1="229.6" y1="538.55" x2="230.8" y2="538.55" stroke="#888" stroke-width="0.6" />
<line x1="229.6" y1="545.78" x2="230.8" y2="545.78" stroke="#888" stroke-width="0.6" />
<line x1="229.6" y1="553" x2="230.8" y2="553" stroke="#888" stroke-width="0.6" />
<line x1="235" y1="556" x2="235" y2="558.2" stroke="#555" stroke-width="0.9" />
<line x1="254.1" y1="556" x2="254.1" y2="558.2" stroke="#555" stroke-width="0.9" />
<line x1="269.7" y1="556" x2="269.7" y2="558.2" stroke="#555" stroke-width="0.9" />
<line x1="296" y1="556" x2="296" y2="558.2" stroke="#555" stroke-width="0.9" />
<line x1="322" y1="556" x2="322" y2="558.2" stroke="#555" stroke-width="0.9" />
<line x1="233.8" y1="556" x2="233.8" y2="557.2" stroke="#888" stroke-width="0.6" />
<line x1="240.08" y1="556" x2="240.08" y2="557.2" stroke="#888" stroke-width="0.6" />
<line x1="246.36" y1="556" x2="246.36" y2="557.2" stroke="#888" stroke-width="0.6" />
<line x1="252.64" y1="556" x2="252.64" y2="557.2" stroke="#888" stroke-width="0.6" />
<line x1="258.92" y1="556" x2="258.92" y2="557.2" stroke="#888" stroke-width="0.6" />
<line x1="265.2" y1="556" x2="265.2" y2="557.2" stroke="#888" stroke-width="0.6" />
<line x1="271.48" y1="556" x2="271.48" y2="557.2" stroke="#888" stroke-width="0.6" />
<line x1="277.76" y1="556" x2="277.76" y2="557.2" stroke="#888" stroke-width="0.6" />
<line x1="284.04" y1="556" x2="284.04" y2="557.2" stroke="#888" stroke-width="0.6" />
<line x1="290.32" y1="556" x2="290.32" y2="557.2" stroke="#888" stroke-width="0.6" />
<line x1="296.6" y1="556" x2="296.6" y2="557.2" stroke="#888" stroke-width="0.6" />
<line x1="302.88" y1="556" x2="302.88" y2="557.2" stroke="#888" stroke-width="0.6" />
<line x1="309.16" y1="556" x2="309.16" y2="557.2" stroke="#888" stroke-width="0.6" />
<line x1="315.44" y1="556" x2="315.44" y2="557.2" stroke="#888" stroke-width="0.6" />
<line x1="321.72" y1="556" x2="321.72" y2="557.2" stroke="#888" stroke-width="0.6" />
<line x1="328" y1="556" x2="328" y2="557.2" stroke="#888" stroke-width="0.6" />
<text x="65.6" y="467.59" font-size="7.5" text-anchor="end" fill="#222" font-weight="normal" >10<tspan font-size="4.9" dy="-2.7">5</tspan></text>
<text x="65.6" y="491.39" font-size="7.5" text-anchor="end" fill="#222" font-weight="normal" >10<tspan font-size="4.9" dy="-2.7">4</tspan></text>
<text x="65.6" y="519.99" font-size="7.5" text-anchor="end" fill="#222" font-weight="normal" >10<tspan font-size="4.9" dy="-2.7">3</tspan></text>
<text x="65.6" y="536.78" font-size="7.5" text-anchor="end" fill="#222" font-weight="normal" >0</text>
<text x="65.6" y="552.18" font-size="7.5" text-anchor="end" fill="#222" font-weight="normal" >&#8722;10<tspan font-size="4.9" dy="-2.7">3</tspan></text>
<text x="224.8" y="468.39" font-size="7.5" text-anchor="end" fill="#222" font-weight="normal" >10<tspan font-size="4.9" dy="-2.7">5</tspan></text>
<text x="224.8" y="492.19" font-size="7.5" text-anchor="end" fill="#222" font-weight="normal" >10<tspan font-size="4.9" dy="-2.7">4</tspan></text>
<text x="224.8" y="519.99" font-size="7.5" text-anchor="end" fill="#222" font-weight="normal" >10<tspan font-size="4.9" dy="-2.7">3</tspan></text>
<text x="224.8" y="536.38" font-size="7.5" text-anchor="end" fill="#222" font-weight="normal" >0</text>
<text x="224.8" y="552.38" font-size="7.5" text-anchor="end" fill="#222" font-weight="normal" >&#8722;10<tspan font-size="4.9" dy="-2.7">3</tspan></text>
<text x="78.6" y="569.08" font-size="7.5" text-anchor="middle" fill="#222" font-weight="normal" >&#8722;10<tspan font-size="4.9" dy="-2.7">3</tspan></text>
<text x="95.8" y="569.08" font-size="7.5" text-anchor="middle" fill="#222" font-weight="normal" >0</text>
<text x="110.6" y="569.08" font-size="7.5" text-anchor="middle" fill="#222" font-weight="normal" >10<tspan font-size="4.9" dy="-2.7">3</tspan></text>
<text x="138.8" y="569.08" font-size="7.5" text-anchor="middle" fill="#222" font-weight="normal" >10<tspan font-size="4.9" dy="-2.7">4</tspan></text>
<text x="160.8" y="569.08" font-size="7.5" text-anchor="middle" fill="#222" font-weight="normal" >10<tspan font-size="4.9" dy="-2.7">5</tspan></text>
<text x="235" y="569.08" font-size="7.5" text-anchor="middle" fill="#222" font-weight="normal" >&#8722;10<tspan font-size="4.9" dy="-2.7">3</tspan></text>
<text x="254.1" y="569.08" font-size="7.5" text-anchor="middle" fill="#222" font-weight="normal" >0</text>
<text x="269.7" y="569.08" font-size="7.5" text-anchor="middle" fill="#222" font-weight="normal" >10<tspan font-size="4.9" dy="-2.7">3</tspan></text>
<text x="296" y="569.08" font-size="7.5" text-anchor="middle" fill="#222" font-weight="normal" >10<tspan font-size="4.9" dy="-2.7">4</tspan></text>
<text x="322" y="569.08" font-size="7.5" text-anchor="middle" fill="#222" font-weight="normal" >10<tspan font-size="4.9" dy="-2.7">5</tspan></text>
<line x1="123.1" y1="456.1" x2="123.1" y2="556" stroke="#4a4a4a" stroke-width="1.3" />
<line x1="71.3" y1="488.1" x2="172.5" y2="488.1" stroke="#4a4a4a" stroke-width="1.3" />
<rect x="123.1" y="456.3" width="48.8" height="31.8" fill="none" stroke="#d03848" stroke-width="1.2"/>
<polyline points="261.5,456.1 261.5,499 330.2,499" fill="none" stroke="#666" stroke-width="1.1"/>
<line x1="330.4" y1="456.1" x2="330.4" y2="499.5" stroke="#2a2a2a" stroke-width="1.5" />
<text x="75.6" y="466.95" font-size="7.4" text-anchor="start" fill="#1a1a1a" font-weight="normal" stroke="#1a1a1a" stroke-width="0.15">6.97</text>
<text x="167.6" y="466.95" font-size="7.4" text-anchor="end" fill="#1a1a1a" font-weight="normal" stroke="#1a1a1a" stroke-width="0.15">24.1</text>
<text x="75.6" y="550.65" font-size="7.4" text-anchor="start" fill="#1a1a1a" font-weight="normal" stroke="#1a1a1a" stroke-width="0.15">12.1</text>
<text x="167.6" y="550.65" font-size="7.4" text-anchor="end" fill="#1a1a1a" font-weight="normal" stroke="#1a1a1a" stroke-width="0.15">56.9</text>
<text x="315.2" y="466.35" font-size="7.4" text-anchor="end" fill="#1a1a1a" font-weight="normal" stroke="#1a1a1a" stroke-width="0.15">70.5</text>
<line x1="173.2" y1="472.1" x2="197" y2="472.1" stroke="#333" stroke-width="1.1" stroke-dasharray="2.6 2"/>
<polygon points="201.6,472.1 196.6,470.1 196.6,474.1" fill="#222"/>
<rect x="69.5" y="532.9" width="1.8" height="3" fill="#111"/>
<rect x="92.8" y="555.6" width="4.3" height="1.8" fill="#111"/>
<rect x="229" y="532.6" width="1.8" height="3" fill="#111"/>
<rect x="251.8" y="555.6" width="4.3" height="1.8" fill="#111"/>
<rect x="0.5" y="0.5" width="519" height="592" fill="none" stroke="#555" stroke-width="1"/>
</svg>
</body></html>
